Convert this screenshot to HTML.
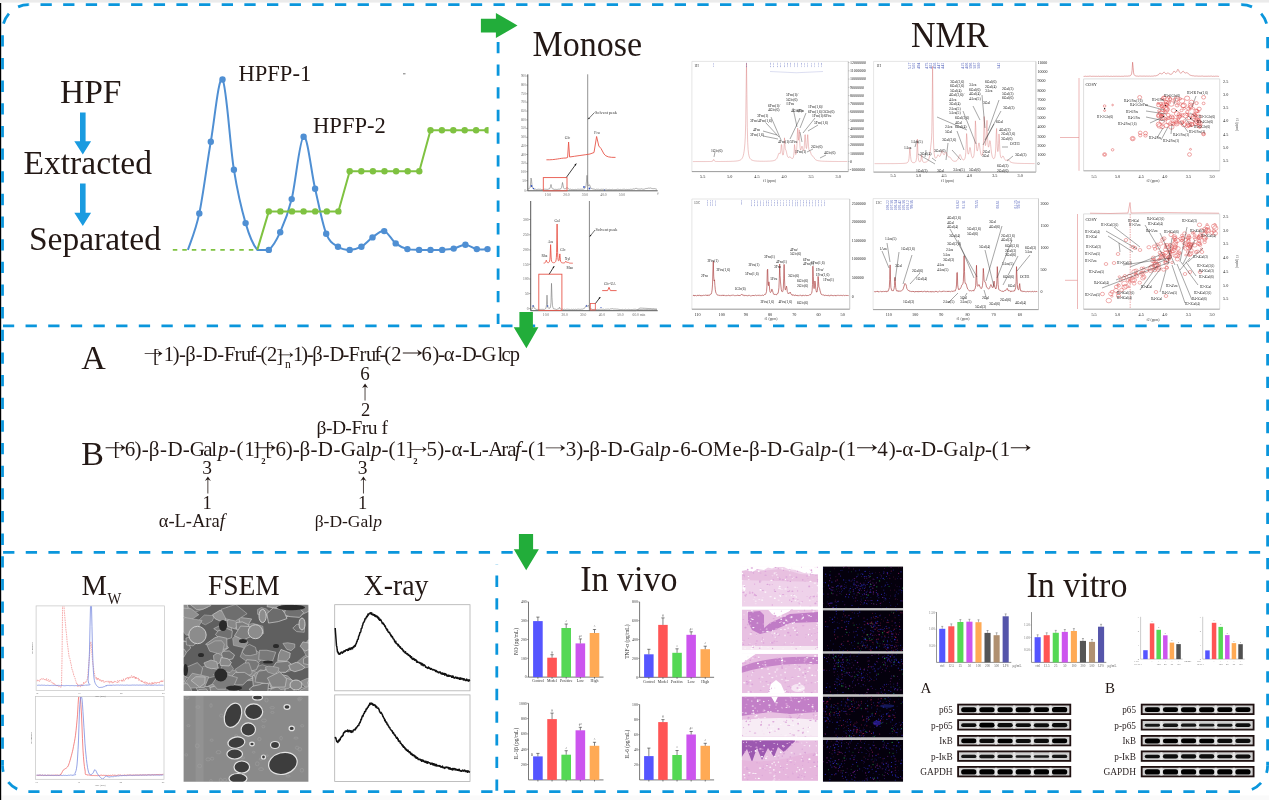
<!DOCTYPE html>
<html><head><meta charset="utf-8"><title>HPFP graphical abstract</title>
<style>
html,body{margin:0;padding:0;background:#fff;}
body{width:1269px;height:800px;overflow:hidden;}
svg{display:block;filter:blur(0.4px);}
svg{font-family:"Liberation Serif","Times New Roman",serif;}
.sans{font-family:"Liberation Sans",Arial,sans-serif;}
</style></head><body>
<svg width="1269" height="800" viewBox="0 0 1269 800">
<rect width="1269" height="800" fill="#fff"/>
<rect x="0" y="0" width="1269" height="2.6" fill="#ebebeb"/>
<rect x="0" y="795.5" width="1269" height="4.5" fill="#fafafa"/>
<rect x="0" y="3" width="1.2" height="797" fill="#000"/>
<path d="M28.5 4.7H29.15M40.5 4.7H51.8M63.15 4.7H74.45M85.8 4.7H97.1M108.45 4.7H119.75M131.1 4.7H142.4M153.75 4.7H165.05M176.4 4.7H187.7M199.05 4.7H210.35M221.7 4.7H233M244.35 4.7H255.65M267 4.7H278.3M289.65 4.7H300.95M312.3 4.7H323.6M334.95 4.7H346.25M357.6 4.7H368.9M380.25 4.7H391.55M402.9 4.7H414.2M425.55 4.7H436.85M448.2 4.7H459.5M470.85 4.7H482.15M493.5 4.7H504.8M516.15 4.7H527.45M538.8 4.7H550.1M561.45 4.7H572.75M584.1 4.7H595.4M606.75 4.7H618.05M629.4 4.7H640.7M652.05 4.7H663.35M674.7 4.7H686M697.35 4.7H708.65M720 4.7H731.3M742.65 4.7H753.95M765.3 4.7H776.6M787.95 4.7H799.25M810.6 4.7H821.9M833.25 4.7H844.55M855.9 4.7H867.2M878.55 4.7H889.85M901.2 4.7H912.5M923.85 4.7H935.15M946.5 4.7H957.8M969.15 4.7H980.45M991.8 4.7H1003.1M1014.45 4.7H1025.75M1037.1 4.7H1048.4M1059.75 4.7H1071.05M1082.4 4.7H1093.7M1105.05 4.7H1116.35M1127.7 4.7H1139M1150.35 4.7H1161.65M1173 4.7H1184.3M1195.65 4.7H1206.95M1218.3 4.7H1229.6M1240.95 4.7H1241.6M28.5 791.7H39.5M50.85 791.7H62.15M73.5 791.7H84.8M96.15 791.7H107.45M118.8 791.7H130.1M141.45 791.7H152.75M164.1 791.7H175.4M186.75 791.7H198.05M209.4 791.7H220.7M232.05 791.7H243.35M254.7 791.7H266M277.35 791.7H288.65M300 791.7H311.3M322.65 791.7H333.95M345.3 791.7H356.6M367.95 791.7H379.25M390.6 791.7H401.9M413.25 791.7H424.55M435.9 791.7H447.2M458.55 791.7H469.85M481.2 791.7H492.5M503.85 791.7H515.15M526.5 791.7H537.8M549.15 791.7H560.45M571.8 791.7H583.1M594.45 791.7H605.75M617.1 791.7H628.4M639.75 791.7H651.05M662.4 791.7H673.7M685.05 791.7H696.35M707.7 791.7H719M730.35 791.7H741.65M753 791.7H764.3M775.65 791.7H786.95M798.3 791.7H809.6M820.95 791.7H832.25M843.6 791.7H854.9M866.25 791.7H877.55M888.9 791.7H900.2M911.55 791.7H922.85M934.2 791.7H945.5M956.85 791.7H968.15M979.5 791.7H990.8M1002.15 791.7H1013.45M1024.8 791.7H1036.1M1047.45 791.7H1058.75M1070.1 791.7H1081.4M1092.75 791.7H1104.05M1115.4 791.7H1126.7M1138.05 791.7H1149.35M1160.7 791.7H1172M1183.35 791.7H1194.65M1206 791.7H1217.3M1228.65 791.7H1239.95M2.5 35.3V46.6M2.5 57.95V69.25M2.5 80.6V91.9M2.5 103.25V114.55M2.5 125.9V137.2M2.5 148.55V159.85M2.5 171.2V182.5M2.5 193.85V205.15M2.5 216.5V227.8M2.5 239.15V250.45M2.5 261.8V273.1M2.5 284.45V295.75M2.5 307.1V318.4M2.5 329.75V341.05M2.5 352.4V363.7M2.5 375.05V386.35M2.5 397.7V409M2.5 420.35V431.65M2.5 443V454.3M2.5 465.65V476.95M2.5 488.3V499.6M2.5 510.95V522.25M2.5 533.6V544.9M2.5 556.25V567.55M2.5 578.9V590.2M2.5 601.55V612.85M2.5 624.2V635.5M2.5 646.85V658.15M2.5 669.5V680.8M2.5 692.15V703.45M2.5 714.8V726.1M2.5 737.45V748.75M2.5 760.1V765.7M1267.6 37V48.3M1267.6 59.65V70.95M1267.6 82.3V93.6M1267.6 104.95V116.25M1267.6 127.6V138.9M1267.6 150.25V161.55M1267.6 172.9V184.2M1267.6 195.55V206.85M1267.6 218.2V229.5M1267.6 240.85V252.15M1267.6 263.5V274.8M1267.6 286.15V297.45M1267.6 308.8V320.1M1267.6 331.45V342.75M1267.6 354.1V365.4M1267.6 376.75V388.05M1267.6 399.4V410.7M1267.6 422.05V433.35M1267.6 444.7V456M1267.6 467.35V478.65M1267.6 490V501.3M1267.6 512.65V523.95M1267.6 535.3V546.6M1267.6 557.95V569.25M1267.6 580.6V591.9M1267.6 603.25V614.55M1267.6 625.9V637.2M1267.6 648.55V659.85M1267.6 671.2V682.5M1267.6 693.85V705.15M1267.6 716.5V727.8M1267.6 739.15V750.45M1267.6 761.8V765.7M3 325.9H14.2M25.55 325.9H36.85M48.2 325.9H59.5M70.85 325.9H82.15M93.5 325.9H104.8M116.15 325.9H127.45M138.8 325.9H150.1M161.45 325.9H172.75M184.1 325.9H195.4M206.75 325.9H218.05M229.4 325.9H240.7M252.05 325.9H263.35M274.7 325.9H286M297.35 325.9H308.65M320 325.9H331.3M342.65 325.9H353.95M365.3 325.9H376.6M387.95 325.9H399.25M410.6 325.9H421.9M433.25 325.9H444.55M455.9 325.9H467.2M478.55 325.9H489.85M501.2 325.9H512.5M523.85 325.9H535.15M546.5 325.9H557.8M569.15 325.9H580.45M591.8 325.9H603.1M614.45 325.9H625.75M637.1 325.9H648.4M659.75 325.9H671.05M682.4 325.9H693.7M705.05 325.9H716.35M727.7 325.9H739M750.35 325.9H761.65M773 325.9H784.3M795.65 325.9H806.95M818.3 325.9H829.6M840.95 325.9H852.25M863.6 325.9H874.9M886.25 325.9H897.55M908.9 325.9H920.2M931.55 325.9H942.85M954.2 325.9H965.5M976.85 325.9H988.15M999.5 325.9H1010.8M1022.15 325.9H1033.45M1044.8 325.9H1056.1M1067.45 325.9H1078.75M1090.1 325.9H1101.4M1112.75 325.9H1124.05M1135.4 325.9H1146.7M1158.05 325.9H1169.35M1180.7 325.9H1192M1203.35 325.9H1214.65M1226 325.9H1237.3M1248.65 325.9H1259.95M3.1 552.4H14.4M25.75 552.4H37.05M48.4 552.4H59.7M71.05 552.4H82.35M93.7 552.4H105M116.35 552.4H127.65M139 552.4H150.3M161.65 552.4H172.95M184.3 552.4H195.6M206.95 552.4H218.25M229.6 552.4H240.9M252.25 552.4H263.55M274.9 552.4H286.2M297.55 552.4H308.85M320.2 552.4H331.5M342.85 552.4H354.15M365.5 552.4H376.8M388.15 552.4H399.45M410.8 552.4H422.1M433.45 552.4H444.75M456.1 552.4H467.4M478.75 552.4H490.05M501.4 552.4H512.7M524.05 552.4H535.35M546.7 552.4H558M569.35 552.4H580.65M592 552.4H603.3M614.65 552.4H625.95M637.3 552.4H648.6M659.95 552.4H671.25M682.6 552.4H693.9M705.25 552.4H716.55M727.9 552.4H739.2M750.55 552.4H761.85M773.2 552.4H784.5M795.85 552.4H807.15M818.5 552.4H829.8M841.15 552.4H852.45M863.8 552.4H875.1M886.45 552.4H897.75M909.1 552.4H920.4M931.75 552.4H943.05M954.4 552.4H965.7M977.05 552.4H988.35M999.7 552.4H1011M1022.35 552.4H1033.65M1045 552.4H1056.3M1067.65 552.4H1078.95M1090.3 552.4H1101.6M1112.95 552.4H1124.25M1135.6 552.4H1146.9M1158.25 552.4H1169.55M1180.9 552.4H1192.2M1203.55 552.4H1214.85M1226.2 552.4H1237.5M1248.85 552.4H1260.15M498.1 30V30.55M498.1 41.9V53.2M498.1 64.55V75.85M498.1 87.2V98.5M498.1 109.85V121.15M498.1 132.5V143.8M498.1 155.15V166.45M498.1 177.8V189.1M498.1 200.45V211.75M498.1 223.1V234.4M498.1 245.75V257.05M498.1 268.4V279.7M498.1 291.05V302.35M498.1 313.7V324M496.8 564V564.25M496.8 575.6V586.9M496.8 598.25V609.55M496.8 620.9V632.2M496.8 643.55V654.85M496.8 666.2V677.5M496.8 688.85V700.15M496.8 711.5V722.8M496.8 734.15V745.45M496.8 756.8V768.1M496.8 779.45V790.75" stroke="#0a96dc" stroke-width="2.8" fill="none"/>
<path d="M28.5 4.7A26 26 0 0 0 2.5 30.7" stroke="#0a96dc" stroke-width="2.8" fill="none" stroke-dasharray="11.3 11.35" stroke-dashoffset="0.65"/>
<path d="M1241.6 4.7A26 26 0 0 1 1267.6 30.7" stroke="#0a96dc" stroke-width="2.8" fill="none" stroke-dasharray="11.3 11.35" stroke-dashoffset="0.65"/>
<path d="M1267.6 765.7A26 26 0 0 1 1241.6 791.7" stroke="#0a96dc" stroke-width="2.8" fill="none" stroke-dasharray="11.3 11.35" stroke-dashoffset="3.9"/>
<path d="M28.5 791.7A26 26 0 0 1 2.5 765.7" stroke="#0a96dc" stroke-width="2.8" fill="none" stroke-dasharray="11.3 11.35" stroke-dashoffset="11.0"/>
<path d="M480.9 18.75H495.9V13.1L517.5 25.4L495.9 38.1V32.5H480.9Z" fill="#22ad3a"/>
<path d="M519.4 311.9H532.9V327.2H538.4L526.4 348.2L513.7 327.2H519.4Z" fill="#22ad3a"/>
<path d="M518.9 534H533.1V549.2H538.9L526.2 570.2L513.8 549.2H518.9Z" fill="#22ad3a"/>
<text transform="translate(532.6 56.2) scale(1 1.07)" x="0" y="0" font-size="34" fill="#231815">Monose</text>
<text transform="translate(911 47.1) scale(1 1.07)" x="0" y="0" font-size="34" fill="#231815">NMR</text>
<text transform="translate(580.2 590.5) scale(1 1.07)" x="0" y="0" font-size="34" fill="#231815">In vivo</text>
<text transform="translate(1026.4 596.7) scale(1 1.07)" x="0" y="0" font-size="34" fill="#231815">In vitro</text>
<text x="60" y="103.3" font-size="33.5" fill="#231815">HPF</text>
<text x="23.6" y="174.2" font-size="33.5" fill="#231815">Extracted</text>
<text x="28.9" y="250.4" font-size="33.5" fill="#231815">Separated</text>
<text transform="translate(81.4 594.7) scale(1 1.04)" x="0" y="0" font-size="28.6" fill="#231815">M</text>
<text transform="translate(107.5 603.9) scale(1 1.15)" x="0" y="0" font-size="14.6" fill="#231815">W</text>
<text transform="translate(208 594.9) scale(1 1.07)" x="0" y="0" font-size="27.5" fill="#231815">FSEM</text>
<text transform="translate(363.6 594.9) scale(1 1.08)" x="0" y="0" font-size="27.8" fill="#231815">X-ray</text>
<path d="M80 112.5H85.6V141.3H91.1L82.8 154.5L74.3 141.3H80Z" fill="#1a9be0"/>
<path d="M80 183.4H85.6V212.8H91.1L82.8 226L74.3 212.8H80Z" fill="#1a9be0"/>
<path d="M187.9 249.9C189.8 243.82 195.48 231.43 199.3 213.4C203.12 195.37 206.93 164.02 210.8 141.7C214.67 119.38 218.65 74.83 222.5 79.5C226.35 84.17 230.05 145.77 233.9 169.7C237.75 193.63 241.7 209.73 245.6 223.1C249.5 236.47 253.43 245.43 257.3 249.9C261.17 250 264.98 250 268.8 249.9C272.62 246.95 276.38 240.67 280.2 232.2C284.02 223.73 287.8 215.02 291.7 199.1C295.6 183.18 299.7 138.43 303.6 136.7C307.5 134.97 311.33 172.53 315.1 188.7C318.87 204.87 322.38 224.03 326.2 233.7C330.02 243.37 334.08 244 338 246.7C341.92 249.4 345.8 249.9 349.7 249.9C353.6 249.9 357.6 248.78 361.4 246.7C365.2 244.62 368.7 240 372.5 237.4C376.3 234.8 380.33 230.1 384.2 231.1C388.07 232.1 391.83 240.4 395.7 243.4C399.57 246.4 403.5 248.02 407.4 249.1C411.3 250 415.25 249.77 419.1 249.9C422.95 250 426.65 249.9 430.5 249.9C434.35 249.9 438.33 250 442.2 249.9C446.07 249.68 449.83 249.47 453.7 248.6C457.57 247.73 461.55 244.62 465.4 244.7C469.25 244.78 473.12 248.37 476.8 249.1C480.48 249.83 485.72 249.1 487.5 249.1" stroke="#4f8fd3" stroke-width="2" fill="none"/>
<g fill="#4f8fd3"><circle cx="199.3" cy="213.4" r="3.2"/><circle cx="210.8" cy="141.7" r="3.2"/><circle cx="222.5" cy="79.5" r="3.2"/><circle cx="233.9" cy="169.7" r="3.2"/><circle cx="245.6" cy="223.1" r="3.2"/><circle cx="268.8" cy="249.9" r="3.2"/><circle cx="280.2" cy="232.2" r="3.2"/><circle cx="291.7" cy="199.1" r="3.2"/><circle cx="303.6" cy="136.7" r="3.2"/><circle cx="315.1" cy="188.7" r="3.2"/><circle cx="326.2" cy="233.7" r="3.2"/><circle cx="338" cy="246.7" r="3.2"/><circle cx="349.7" cy="249.9" r="3.2"/><circle cx="361.4" cy="246.7" r="3.2"/><circle cx="372.5" cy="237.4" r="3.2"/><circle cx="384.2" cy="231.1" r="3.2"/><circle cx="395.7" cy="243.4" r="3.2"/><circle cx="407.4" cy="249.1" r="3.2"/><circle cx="419.1" cy="249.9" r="3.2"/><circle cx="430.5" cy="249.9" r="3.2"/><circle cx="442.2" cy="249.9" r="3.2"/><circle cx="453.7" cy="248.6" r="3.2"/><circle cx="465.4" cy="244.7" r="3.2"/><circle cx="476.8" cy="249.1" r="3.2"/><circle cx="487.5" cy="249.1" r="3.2"/></g>
<path d="M172.8 249.9H257.3" stroke="#7fc241" stroke-width="1.8" stroke-dasharray="4.5 5" fill="none"/>
<path d="M257.3 249.9L268.8 211.4H338.4L349.7 171.3H419.3L430.5 130.2H487.5" stroke="#7fc241" stroke-width="2" fill="none" stroke-linejoin="round"/>
<clipPath id="elc"><rect x="160" y="60" width="328.6" height="200"/></clipPath>
<g fill="#7fc241" clip-path="url(#elc)"><circle cx="268.8" cy="211.4" r="3.2"/><circle cx="280.4" cy="211.4" r="3.2"/><circle cx="292" cy="211.4" r="3.2"/><circle cx="303.6" cy="211.4" r="3.2"/><circle cx="315.2" cy="211.4" r="3.2"/><circle cx="326.8" cy="211.4" r="3.2"/><circle cx="338.4" cy="211.4" r="3.2"/><circle cx="349.7" cy="171.3" r="3.2"/><circle cx="361.3" cy="171.3" r="3.2"/><circle cx="372.9" cy="171.3" r="3.2"/><circle cx="384.5" cy="171.3" r="3.2"/><circle cx="396.1" cy="171.3" r="3.2"/><circle cx="407.7" cy="171.3" r="3.2"/><circle cx="419.3" cy="171.3" r="3.2"/><circle cx="430.5" cy="130.2" r="3.2"/><circle cx="441.9" cy="130.2" r="3.2"/><circle cx="453.3" cy="130.2" r="3.2"/><circle cx="464.7" cy="130.2" r="3.2"/><circle cx="476.1" cy="130.2" r="3.2"/><circle cx="487.5" cy="130.2" r="3.2"/></g>
<text x="238.4" y="81.4" font-size="22.6" fill="#231815">HPFP-1</text>
<text x="313" y="133.1" font-size="22.6" fill="#231815">HPFP-2</text>
<path d="M403 73.8h2.5" stroke="#555" stroke-width="0.8"/>
<path d="M527.8 74.3V190.8H657.7" stroke="#444" stroke-width="0.9" fill="none"/>
<text x="525.8" y="77" font-size="3.2" text-anchor="end" fill="#666">900</text>
<text x="525.8" y="86" font-size="3.2" text-anchor="end" fill="#666">800</text>
<text x="525.8" y="94.8" font-size="3.2" text-anchor="end" fill="#666">750</text>
<text x="525.8" y="103.2" font-size="3.2" text-anchor="end" fill="#666">700</text>
<text x="525.8" y="112.1" font-size="3.2" text-anchor="end" fill="#666">650</text>
<text x="525.8" y="120.9" font-size="3.2" text-anchor="end" fill="#666">600</text>
<text x="525.8" y="129.4" font-size="3.2" text-anchor="end" fill="#666">550</text>
<text x="525.8" y="138.3" font-size="3.2" text-anchor="end" fill="#666">500</text>
<text x="525.8" y="146.7" font-size="3.2" text-anchor="end" fill="#666">450</text>
<text x="525.8" y="155.5" font-size="3.2" text-anchor="end" fill="#666">400</text>
<text x="525.8" y="164.3" font-size="3.2" text-anchor="end" fill="#666">350</text>
<text x="525.8" y="172.7" font-size="3.2" text-anchor="end" fill="#666">100</text>
<text x="525.8" y="181.7" font-size="3.2" text-anchor="end" fill="#666">50</text>
<text x="525.8" y="191.8" font-size="3.2" text-anchor="end" fill="#666">0</text>
<path d="M527.8 76h-1.6M527.8 85h-1.6M527.8 93.8h-1.6M527.8 102.2h-1.6M527.8 111.1h-1.6M527.8 119.9h-1.6M527.8 128.4h-1.6M527.8 137.3h-1.6M527.8 145.7h-1.6M527.8 154.5h-1.6M527.8 163.3h-1.6M527.8 171.7h-1.6M527.8 180.7h-1.6M527.8 190.8h-1.6" stroke="#555" stroke-width="0.5"/>
<text x="548" y="196" font-size="3.6" text-anchor="middle" fill="#666">10.0</text>
<text x="566.5" y="196" font-size="3.6" text-anchor="middle" fill="#666">20.0</text>
<text x="585" y="196" font-size="3.6" text-anchor="middle" fill="#666">30.0</text>
<text x="603.5" y="196" font-size="3.6" text-anchor="middle" fill="#666">40.0</text>
<text x="622" y="196" font-size="3.6" text-anchor="middle" fill="#666">50.0</text>
<text x="657.7" y="195" font-size="3" text-anchor="middle" fill="#666">#</text>
<path d="M587.7 74.3V190.8" stroke="#666" stroke-width="0.7"/>
<path d="M528 189.09 L528.5 188.88 L529 188.93 L529.5 188.24 L530 187.58 L530.5 185.03 L531 178.06 L531.5 179.93 L532 185.6 L532.5 187.78 L533 188.34 L533.5 188.69 L534 189.04 L534.5 189.36 L535 189.07 L535.5 189.17 L536 189.41 L536.5 189.59 L537 189.42 L537.5 189.35 L538 189.65 L538.5 189.19 L539 189.6 L539.5 189.32 L540 189.25 L540.5 189.24 L541 189.34 L541.5 189.59 L542 189.28 L542.5 189.48 L543 189.5 L543.5 189.37 L544 189.45 L544.5 189.2 L545 189.19 L545.5 189.26 L546 189.48 L546.5 189.34 L547 189.26 L547.5 189.36 L548 189.25 L548.5 189.09 L549 189.2 L549.5 188.87 L550 188.01 L550.5 186.55 L551 184.47 L551.5 186.69 L552 188.24 L552.5 188.66 L553 189.28 L553.5 188.98 L554 189.21 L554.5 189.42 L555 189.14 L555.5 189.33 L556 189.11 L556.5 189.43 L557 189.47 L557.5 189.36 L558 189.49 L558.5 189.18 L559 189.33 L559.5 189.21 L560 189.09 L560.5 188.83 L561 188.63 L561.5 187.79 L562 185.26 L562.5 182.48 L563 185.03 L563.5 187.6 L564 188.43 L564.5 188.93 L565 188.95 L565.5 188.63 L566 188.46 L566.5 188.2 L567 187.61 L567.5 188.15 L568 188.47 L568.5 188.74 L569 188.89 L569.5 189.34 L570 189.08 L570.5 189.18 L571 189.28 L571.5 189.54 L572 189.16 L572.5 189.36 L573 189.41 L573.5 189.59 L574 189.56 L574.5 189.58 L575 189.29 L575.5 189.36 L576 189.33 L576.5 189.59 L577 189.62 L577.5 189.22 L578 189.22 L578.5 189.24 L579 189.24 L579.5 189.35 L580 189.39 L580.5 189.21 L581 189.05 L581.5 189.23 L582 189.17 L582.5 189.21 L583 189.34 L583.5 189.1 L584 188.86 L584.5 188.68 L585 188.29 L585.5 187.17 L586 185.78 L586.5 181.09 L587 175.3 L587.5 180.82 L588 184.84 L588.5 185.94 L589 185.25 L589.5 184.79 L590 185.85 L590.5 187.3 L591 188.14 L591.5 188.52 L592 188.83 L592.5 188.83 L593 188.89 L593.5 189.04 L594 189.06 L594.5 189.22 L595 189.08 L595.5 189.53 L596 189.42 L596.5 189.2 L597 189.26 L597.5 189.32 L598 189.34 L598.5 189.22 L599 189.59 L599.5 189.67 L600 189.41 L600.5 189.42 L601 189.23 L601.5 189.24 L602 189.36 L602.5 189.33 L603 189.61 L603.5 189.28 L604 189.21 L604.5 189.68 L605 189.47 L605.5 189.28 L606 189.47 L606.5 189.22 L607 189.47 L607.5 189.69 L608 189.64 L608.5 189.55 L609 189.34 L609.5 189.39 L610 189.29 L610.5 189.59 L611 189.47 L611.5 189.6 L612 189.37 L612.5 189.32 L613 189.61 L613.5 189.7 L614 189.63 L614.5 189.61 L615 189.61 L615.5 189.57 L616 189.31 L616.5 189.46 L617 189.38 L617.5 189.21 L618 189.21 L618.5 189.33 L619 189.32 L619.5 189.54 L620 189.67 L620.5 189.41 L621 189.65 L621.5 189.67 L622 189.65 L622.5 189.36 L623 189.28 L623.5 189.28 L624 189.26 L624.5 189.26 L625 189.46 L625.5 189.59 L626 189.56 L626.5 189.37 L627 189.45 L627.5 189.51 L628 189.14 L628.5 189.41 L629 189.52 L629.5 189.44 L630 189.4 L630.5 189.24 L631 189.06 L631.5 189.33 L632 189.05 L632.5 189.23 L633 189.25 L633.5 188.89 L634 188.8 L634.5 188.98 L635 188.79 L635.5 188.45 L636 188.4 L636.5 188.42 L637 188.85 L637.5 188.87 L638 188.61 L638.5 189.03 L639 189.16 L639.5 189.05 L640 188.93 L640.5 189.05 L641 188.85 L641.5 188.8 L642 189.27 L642.5 189.1 L643 189.02 L643.5 189.19 L644 188.9 L644.5 189.07 L645 188.99 L645.5 188.62 L646 188.56 L646.5 188.48 L647 188.35 L647.5 188.41 L648 188.13 L648.5 188.1 L649 187.86 L649.5 188.19 L650 187.89 L650.5 187.97 L651 188.1 L651.5 188.36 L652 188.23 L652.5 188.6 L653 188.51 L653.5 188.64 L654 188.74 L654.5 188.57 L655 188.86 L655.5 188.8 L656 188.77 L656.5 189.22 L657 188.95" stroke="#777" stroke-width="0.6" fill="none"/>
<g fill="#3050c0"><circle cx="531.5" cy="186" r="0.9"/><circle cx="533.5" cy="188.5" r="0.8"/><circle cx="584" cy="187" r="0.9"/><circle cx="589.5" cy="188.5" r="0.9"/><circle cx="604.5" cy="190" r="0.6"/></g>
<rect x="543.3" y="177.6" width="23.7" height="13.2" fill="none" stroke="#e8564a" stroke-width="0.9"/>
<path d="M566.5 177.2L576.3 163.6" stroke="#111" stroke-width="0.8"/><path d="M576.3 163.6L575.92 165.77L574.37 164.65Z" fill="#111"/>
<path d="M546.4 159.8 C556 160 560 158 566 158 L567.6 157.5 L568.6 142 L569.6 157 C576 156 584 155 590 154 L594 152.5 L596.6 136.5 L598.8 146 L601 148.5 L604 154 C606 157 610 157.5 615.5 157.4" stroke="#e8564a" stroke-width="0.9" fill="none"/>
<text x="564.8" y="139.2" font-size="3.8" fill="#333">Glc</text>
<text x="594.3" y="134.3" font-size="3.8" fill="#333">Fru</text>
<text x="595" y="113.5" font-size="4.2" fill="#333">Solvent peak</text>
<path d="M594.5 112.5L588.2 119.2" stroke="#111" stroke-width="0.6"/><path d="M588.2 119.2L588.74 117.48L589.88 118.56Z" fill="#111"/>
<path d="M530.7 201V310.7H657.7" stroke="#444" stroke-width="0.9" fill="none"/>
<text x="528.5" y="220.7" font-size="3.6" text-anchor="end" fill="#555">300</text>
<text x="528.5" y="236" font-size="3.6" text-anchor="end" fill="#555">250</text>
<text x="528.5" y="251.1" font-size="3.6" text-anchor="end" fill="#555">200</text>
<text x="528.5" y="265.5" font-size="3.6" text-anchor="end" fill="#555">150</text>
<text x="528.5" y="280.2" font-size="3.6" text-anchor="end" fill="#555">100</text>
<text x="528.5" y="294.8" font-size="3.6" text-anchor="end" fill="#555">50</text>
<text x="528.5" y="309.8" font-size="3.6" text-anchor="end" fill="#555">0</text>
<path d="M530.7 219.5h-1.6M530.7 234.8h-1.6M530.7 249.9h-1.6M530.7 264.3h-1.6M530.7 279h-1.6M530.7 293.6h-1.6M530.7 308.6h-1.6" stroke="#555" stroke-width="0.5"/>
<text x="546" y="316.3" font-size="3.6" text-anchor="middle" fill="#666">10.0</text>
<text x="564.6" y="316.3" font-size="3.6" text-anchor="middle" fill="#666">20.0</text>
<text x="583.2" y="316.3" font-size="3.6" text-anchor="middle" fill="#666">30.0</text>
<text x="601.8" y="316.3" font-size="3.6" text-anchor="middle" fill="#666">40.0</text>
<text x="620.4" y="316.3" font-size="3.6" text-anchor="middle" fill="#666">50.0</text>
<text x="639" y="316.3" font-size="3.6" text-anchor="middle" fill="#666">60.0 min</text>
<path d="M589.4 201V310.7" stroke="#555" stroke-width="0.7"/>
<path d="M531 309.25 L531.5 309.26 L532 308.96 L532.5 308.33 L533 307.13 L533.5 305.5 L534 307.26 L534.5 308.22 L535 308.95 L535.5 309.01 L536 309.14 L536.5 309.45 L537 309.35 L537.5 309.4 L538 309.52 L538.5 309.6 L539 309.37 L539.5 309.46 L540 309.4 L540.5 309.4 L541 309.49 L541.5 309.36 L542 309.39 L542.5 309.34 L543 309.55 L543.5 309.39 L544 309.42 L544.5 309.36 L545 308.87 L545.5 308.7 L546 308.07 L546.5 304.92 L547 295.14 L547.5 304.49 L548 307.66 L548.5 308.19 L549 308.44 L549.5 308.24 L550 308.1 L550.5 306.91 L551 302.46 L551.5 283.34 L552 297.38 L552.5 305.82 L553 307.6 L553.5 308.71 L554 309.09 L554.5 308.9 L555 309.37 L555.5 309.16 L556 309.24 L556.5 309.52 L557 309.44 L557.5 309.09 L558 309.16 L558.5 309.01 L559 308.33 L559.5 307.27 L560 308.34 L560.5 309.14 L561 309 L561.5 309.35 L562 309.34 L562.5 309.15 L563 309.33 L563.5 309.48 L564 309.44 L564.5 309.22 L565 309.68 L565.5 309.59 L566 309.68 L566.5 309.25 L567 309.33 L567.5 309.22 L568 309.59 L568.5 309.34 L569 309.27 L569.5 309.42 L570 309.66 L570.5 309.61 L571 309.33 L571.5 309.28 L572 309.66 L572.5 309.48 L573 309.55 L573.5 309.24 L574 309.22 L574.5 309.53 L575 309.4 L575.5 309.22 L576 309.65 L576.5 309.49 L577 309.57 L577.5 309.2 L578 309.58 L578.5 309.17 L579 309.56 L579.5 309.34 L580 309.26 L580.5 309.34 L581 309.5 L581.5 309.13 L582 309.01 L582.5 309.14 L583 308.9 L583.5 308.7 L584 308.52 L584.5 308.14 L585 307.69 L585.5 306.92 L586 305.82 L586.5 305.37 L587 305.56 L587.5 306.33 L588 305.99 L588.5 305.35 L589 306.73 L589.5 308.01 L590 308.41 L590.5 309.02 L591 309.08 L591.5 308.99 L592 309.2 L592.5 309.48 L593 309.1 L593.5 309.48 L594 309.31 L594.5 309.36 L595 309.54 L595.5 309.33 L596 309.4 L596.5 309.5 L597 309.65 L597.5 309.33 L598 309.58 L598.5 309.52 L599 309.49 L599.5 309.37 L600 309.35 L600.5 309.2 L601 309.24 L601.5 309.21 L602 309.54 L602.5 309.29 L603 309.24 L603.5 309.2 L604 309.57 L604.5 309.58 L605 309.47 L605.5 309.26 L606 309.23 L606.5 309.24 L607 309.3 L607.5 309.13 L608 309.24 L608.5 309.11 L609 309.42 L609.5 309.37 L610 309.09 L610.5 308.88 L611 309.18 L611.5 308.81 L612 308.82 L612.5 308.65 L613 308.89 L613.5 309 L614 309.08 L614.5 308.99 L615 309.19 L615.5 308.99 L616 309.16 L616.5 309.1 L617 309.28 L617.5 309.12 L618 309.13 L618.5 309.29 L619 309.27 L619.5 309.45 L620 309.43 L620.5 309.55 L621 309.51 L621.5 309.55 L622 309.63 L622.5 309.39 L623 309.37 L623.5 309.7 L624 309.28 L624.5 309.57 L625 309.54 L625.5 309.24 L626 309.64 L626.5 309.67 L627 309.54 L627.5 309.59 L628 309.63 L628.5 309.3 L629 309.49 L629.5 309.48 L630 309.65 L630.5 309.63 L631 309.64 L631.5 309.52 L632 309.68 L632.5 309.57 L633 309.58 L633.5 309.35 L634 309.25 L634.5 309.3 L635 309.42 L635.5 309.29 L636 309.65 L636.5 309.52 L637 309.55 L637.5 309.55 L638 309.58 L638.5 309.48 L639 309.24 L639.5 309.64 L640 309.61 L640.5 309.49 L641 309.51 L641.5 309.57 L642 309.27 L642.5 309.61 L643 309.37 L643.5 309.28 L644 309.37 L644.5 309.61 L645 309.34 L645.5 309.61 L646 309.73 L646.5 309.49 L647 309.43 L647.5 309.48 L648 309.59 L648.5 309.63 L649 309.55 L649.5 309.57 L650 309.28 L650.5 309.32 L651 309.37 L651.5 309.62 L652 309.4 L652.5 309.53 L653 309.25 L653.5 309.28 L654 309.38 L654.5 309.58 L655 309.59 L655.5 309.58 L656 309.39 L656.5 309.5 L657 309.48" stroke="#777" stroke-width="0.6" fill="none"/>
<path d="M620 310.5 L636 310.8 L640 308 L657 309" stroke="#888" stroke-width="0.6" fill="none"/>
<g fill="#3050c0"><circle cx="533" cy="306" r="0.8"/><circle cx="547.5" cy="306" r="0.7"/><circle cx="586.5" cy="306" r="0.8"/><circle cx="601" cy="307.5" r="0.6"/></g>
<rect x="538.8" y="274.2" width="23.1" height="36.2" fill="none" stroke="#e8564a" stroke-width="0.9"/>
<rect x="590.3" y="303.4" width="5" height="6.6" fill="none" stroke="#e8564a" stroke-width="0.8"/>
<path d="M543.6 263.13 L543.85 263.1 L544.1 263.07 L544.35 263.03 L544.6 262.97 L544.85 262.88 L545.1 262.75 L545.35 262.53 L545.6 262.16 L545.85 261.5 L546.1 260.56 L546.35 260.16 L546.6 260.91 L546.85 261.74 L547.1 262.23 L547.35 262.48 L547.6 262.61 L547.85 262.67 L548.1 262.67 L548.35 262.63 L548.6 262.55 L548.85 262.41 L549.1 262.18 L549.35 261.8 L549.6 261.13 L549.85 259.85 L550.1 257.07 L550.35 250.91 L550.6 244.66 L550.85 250.9 L551.1 257.06 L551.35 259.83 L551.6 261.11 L551.85 261.78 L552.1 262.15 L552.35 262.38 L552.6 262.53 L552.85 262.62 L553.1 262.67 L553.35 262.7 L553.6 262.71 L553.85 262.7 L554.1 262.67 L554.35 262.61 L554.6 262.53 L554.85 262.42 L555.1 262.25 L555.35 262 L555.6 261.61 L555.85 260.98 L556.1 259.88 L556.35 257.71 L556.6 252.76 L556.85 240.04 L557.1 224.03 L557.35 239.98 L557.6 252.62 L557.85 257.49 L558.1 259.55 L558.35 260.48 L558.6 260.84 L558.85 260.77 L559.1 260.17 L559.35 258.59 L559.6 255.49 L559.85 253.92 L560.1 257.1 L560.35 259.8 L560.6 261.16 L560.85 261.85 L561.1 262.24 L561.35 262.48 L561.6 262.63 L561.85 262.74 L562.1 262.81 L562.35 262.87 L562.6 262.91 L562.85 262.93 L563.1 262.95 L563.35 262.95 L563.6 262.95 L563.85 262.93 L564.1 262.89 L564.35 262.83 L564.6 262.73 L564.85 262.57 L565.1 262.29 L565.35 261.86 L565.6 261.34 L565.85 261.14 L566.1 261.52 L566.35 262.01 L566.6 262.34 L566.85 262.52 L567.1 262.57 L567.35 262.51 L567.6 262.34 L567.85 262.14 L568.1 262.14 L568.35 262.39 L568.6 262.66 L568.85 262.84 L569.1 262.96 L569.35 263.03 L569.6 263.08 L569.85 263.12 L570.1 263.14 L570.35 263.16 L570.6 263.18 L570.85 263.19 L571.1 263.2 L571.35 263.21 L571.6 263.22 L571.85 263.22 L572.1 263.23 L572.35 263.23 L572.6 263.24 L572.85 263.24" stroke="#e8564a" stroke-width="0.9" fill="none"/>
<text x="554.5" y="222.3" font-size="3.6" fill="#333">Gal</text>
<text x="547.8" y="243.3" font-size="3.6" fill="#333">Ara</text>
<text x="541.6" y="256.7" font-size="3.6" fill="#333">Rha</text>
<text x="560.3" y="251" font-size="3.6" fill="#333">Glc</text>
<text x="564.8" y="259.7" font-size="3.6" fill="#333">Xyl</text>
<text x="566.5" y="268.8" font-size="3.6" fill="#333">Man</text>
<path d="M549.2 274.2L554.2 266.2" stroke="#111" stroke-width="0.8"/><path d="M554.2 266.2L553.98 268.19L552.51 267.27Z" fill="#111"/>
<path d="M595.5 303.4L600.3 297" stroke="#111" stroke-width="0.8"/><path d="M600.3 297L599.92 298.96L598.52 297.92Z" fill="#111"/>
<path d="M602.2 290.6 H607.6 L609 287.3 L610.4 290.6 H616.6" stroke="#e8564a" stroke-width="0.9" fill="none"/>
<text x="604" y="284.5" font-size="3.6" fill="#333">Glc-UA</text>
<text x="595.5" y="231" font-size="4.2" fill="#333">Solvent peak</text>
<path d="M595 230L589.8 236.5" stroke="#111" stroke-width="0.6"/><path d="M589.8 236.5L590.2 234.75L591.42 235.72Z" fill="#111"/>
<path d="M691.9 61.4H848.3V171.6H691.9Z" stroke="#d4d4d4" stroke-width="0.6" fill="none"/>
<path d="M691.9 171.6H848.3" stroke="#8a8a8a" stroke-width="0.8"/>
<path d="M848.3 61.4V171.6" stroke="#bbb" stroke-width="0.6"/>
<text x="849.9" y="64" font-size="4" fill="#222">12000000</text>
<path d="M848.3 62.6h1.2" stroke="#777" stroke-width="0.4"/>
<text x="849.9" y="72.24" font-size="4" fill="#222">11000000</text>
<path d="M848.3 70.84h1.2" stroke="#777" stroke-width="0.4"/>
<text x="849.9" y="80.48" font-size="4" fill="#222">10000000</text>
<path d="M848.3 79.08h1.2" stroke="#777" stroke-width="0.4"/>
<text x="849.9" y="88.72" font-size="4" fill="#222">9000000</text>
<path d="M848.3 87.32h1.2" stroke="#777" stroke-width="0.4"/>
<text x="849.9" y="96.96" font-size="4" fill="#222">8000000</text>
<path d="M848.3 95.56h1.2" stroke="#777" stroke-width="0.4"/>
<text x="849.9" y="105.2" font-size="4" fill="#222">7000000</text>
<path d="M848.3 103.8h1.2" stroke="#777" stroke-width="0.4"/>
<text x="849.9" y="113.44" font-size="4" fill="#222">6000000</text>
<path d="M848.3 112.04h1.2" stroke="#777" stroke-width="0.4"/>
<text x="849.9" y="121.68" font-size="4" fill="#222">5000000</text>
<path d="M848.3 120.28h1.2" stroke="#777" stroke-width="0.4"/>
<text x="849.9" y="129.92" font-size="4" fill="#222">4000000</text>
<path d="M848.3 128.52h1.2" stroke="#777" stroke-width="0.4"/>
<text x="849.9" y="138.16" font-size="4" fill="#222">3000000</text>
<path d="M848.3 136.76h1.2" stroke="#777" stroke-width="0.4"/>
<text x="849.9" y="146.4" font-size="4" fill="#222">2000000</text>
<path d="M848.3 145h1.2" stroke="#777" stroke-width="0.4"/>
<text x="849.9" y="154.64" font-size="4" fill="#222">1000000</text>
<path d="M848.3 153.24h1.2" stroke="#777" stroke-width="0.4"/>
<text x="849.9" y="162.88" font-size="4" fill="#222">0</text>
<path d="M848.3 161.48h1.2" stroke="#777" stroke-width="0.4"/>
<text x="849.9" y="171.12" font-size="4" fill="#222">-1000000</text>
<path d="M848.3 169.72h1.2" stroke="#777" stroke-width="0.4"/>
<text x="702.7" y="177.6" font-size="4.2" text-anchor="middle" fill="#222">5.5</text>
<text x="729.8" y="177.6" font-size="4.2" text-anchor="middle" fill="#222">5.0</text>
<text x="756.9" y="177.6" font-size="4.2" text-anchor="middle" fill="#222">4.5</text>
<text x="784" y="177.6" font-size="4.2" text-anchor="middle" fill="#222">4.0</text>
<text x="811.1" y="177.6" font-size="4.2" text-anchor="middle" fill="#222">3.5</text>
<text x="838.2" y="177.6" font-size="4.2" text-anchor="middle" fill="#222">3.0</text>
<text x="769.5" y="182.3" font-size="3.7" text-anchor="middle" fill="#444">f1 (ppm)</text>
<text x="694.2" y="66.8" font-size="3.7" fill="#333">1H</text>
<path d="M692.9 161.57 L693.3 161.57 L693.7 161.57 L694.1 161.57 L694.5 161.57 L694.9 161.57 L695.3 161.57 L695.7 161.56 L696.1 161.56 L696.5 161.56 L696.9 161.56 L697.3 161.56 L697.7 161.56 L698.1 161.56 L698.5 161.56 L698.9 161.56 L699.3 161.56 L699.7 161.56 L700.1 161.56 L700.5 161.56 L700.9 161.56 L701.3 161.56 L701.7 161.56 L702.1 161.55 L702.5 161.55 L702.9 161.55 L703.3 161.55 L703.7 161.55 L704.1 161.55 L704.5 161.55 L704.9 161.55 L705.3 161.55 L705.7 161.54 L706.1 161.54 L706.5 161.54 L706.9 161.54 L707.3 161.54 L707.7 161.53 L708.1 161.53 L708.5 161.53 L708.9 161.52 L709.3 161.52 L709.7 161.51 L710.1 161.5 L710.5 161.49 L710.9 161.47 L711.3 161.44 L711.7 161.4 L712.1 161.32 L712.5 161.16 L712.9 160.79 L713.3 159.92 L713.7 159.42 L714.1 160.43 L714.5 161.01 L714.9 161.24 L715.3 161.35 L715.7 161.41 L716.1 161.44 L716.5 161.46 L716.9 161.47 L717.3 161.48 L717.7 161.48 L718.1 161.49 L718.5 161.49 L718.9 161.49 L719.3 161.49 L719.7 161.49 L720.1 161.49 L720.5 161.49 L720.9 161.49 L721.3 161.48 L721.7 161.48 L722.1 161.48 L722.5 161.48 L722.9 161.47 L723.3 161.47 L723.7 161.47 L724.1 161.46 L724.5 161.46 L724.9 161.46 L725.3 161.45 L725.7 161.45 L726.1 161.44 L726.5 161.44 L726.9 161.43 L727.3 161.42 L727.7 161.42 L728.1 161.41 L728.5 161.4 L728.9 161.4 L729.3 161.39 L729.7 161.38 L730.1 161.37 L730.5 161.36 L730.9 161.35 L731.3 161.33 L731.7 161.32 L732.1 161.3 L732.5 161.29 L732.9 161.27 L733.3 161.25 L733.7 161.23 L734.1 161.21 L734.5 161.18 L734.9 161.15 L735.3 161.12 L735.7 161.09 L736.1 161.05 L736.5 161 L736.9 160.95 L737.3 160.9 L737.7 160.83 L738.1 160.76 L738.5 160.67 L738.9 160.57 L739.3 160.44 L739.7 160.3 L740.1 160.13 L740.5 159.91 L740.9 159.65 L741.3 159.33 L741.7 158.91 L742.1 158.38 L742.5 157.67 L742.9 156.73 L743.3 155.45 L743.7 153.69 L744.1 151.29 L744.5 148.03 L744.9 143.59 L745.3 136.78 L745.7 123.21 L746.1 92.21 L746.5 63 L746.9 94.53 L747.3 127.56 L747.7 142.42 L748.1 149.45 L748.5 153.21 L748.9 155.44 L749.3 156.88 L749.7 157.85 L750.1 158.55 L750.5 159.06 L750.9 159.45 L751.3 159.75 L751.7 159.99 L752.1 160.18 L752.5 160.34 L752.9 160.47 L753.3 160.58 L753.7 160.67 L754.1 160.75 L754.5 160.82 L754.9 160.88 L755.3 160.93 L755.7 160.97 L756.1 161.01 L756.5 161.04 L756.9 161.07 L757.3 161.1 L757.7 161.12 L758.1 161.14 L758.5 161.16 L758.9 161.17 L759.3 161.19 L759.7 161.2 L760.1 161.21 L760.5 161.22 L760.9 161.23 L761.3 161.23 L761.7 161.24 L762.1 161.24 L762.5 161.24 L762.9 161.25 L763.3 161.25 L763.7 161.25 L764.1 161.25 L764.5 161.25 L764.9 161.24 L765.3 161.24 L765.7 161.23 L766.1 161.23 L766.5 161.22 L766.9 161.21 L767.3 161.2 L767.7 161.19 L768.1 161.18 L768.5 161.17 L768.9 161.15 L769.3 161.13 L769.7 161.11 L770.1 161.09 L770.5 161.06 L770.9 161.03 L771.3 160.99 L771.7 160.95 L772.1 160.91 L772.5 160.85 L772.9 160.79 L773.3 160.71 L773.7 160.62 L774.1 160.51 L774.5 160.37 L774.9 160.21 L775.3 160 L775.7 159.73 L776.1 159.39 L776.5 158.94 L776.9 158.34 L777.3 157.54 L777.7 156.52 L778.1 155.29 L778.5 154.07 L778.9 153.24 L779.3 153.11 L779.7 153.47 L780.1 153.67 L780.5 152.95 L780.9 150.11 L781.3 144.55 L781.7 144.78 L782.1 150.79 L782.5 154.08 L782.9 155.13 L783.3 154.69 L783.7 152.33 L784.1 145.86 L784.5 137.83 L784.9 144.16 L785.3 148.88 L785.7 149.89 L786.1 150.61 L786.5 152.28 L786.9 154.23 L787.3 155.76 L787.7 156.74 L788.1 157.27 L788.5 157.45 L788.9 157.36 L789.3 157.1 L789.7 156.84 L790.1 156.84 L790.5 157.18 L790.9 157.68 L791.3 158.13 L791.7 158.44 L792.1 158.57 L792.5 158.51 L792.9 158.21 L793.3 157.48 L793.7 155.81 L794.1 151.7 L794.5 144.54 L794.9 147.56 L795.3 152.94 L795.7 154.51 L796.1 153.99 L796.5 151.55 L796.9 145.75 L797.3 134.28 L797.7 128.14 L798.1 136.99 L798.5 140.23 L798.9 133.61 L799.3 129.87 L799.7 141.14 L800.1 147.93 L800.5 150.02 L800.9 149.8 L801.3 148.3 L801.7 146.58 L802.1 146.13 L802.5 147.43 L802.9 149.3 L803.3 150.5 L803.7 150.39 L804.1 148.29 L804.5 142.93 L804.9 134.82 L805.3 134.73 L805.7 142.62 L806.1 147.54 L806.5 148.58 L806.9 146.17 L807.3 139.85 L807.7 134.66 L808.1 139.9 L808.5 146.42 L808.9 149.51 L809.3 150.47 L809.7 150.66 L810.1 151.08 L810.5 152.09 L810.9 153.38 L811.3 154.49 L811.7 155.24 L812.1 155.68 L812.5 155.94 L812.9 156.22 L813.3 156.66 L813.7 157.25 L814.1 157.9 L814.5 158.5 L814.9 159 L815.3 159.4 L815.7 159.72 L816.1 159.97 L816.5 160.18 L816.9 160.34 L817.3 160.48 L817.7 160.59 L818.1 160.69 L818.5 160.77 L818.9 160.84 L819.3 160.9 L819.7 160.95 L820.1 161 L820.5 161.04 L820.9 161.07 L821.3 161.11 L821.7 161.13 L822.1 161.16 L822.5 161.19 L822.9 161.21 L823.3 161.23 L823.7 161.25 L824.1 161.26 L824.5 161.28 L824.9 161.29 L825.3 161.31 L825.7 161.32 L826.1 161.33 L826.5 161.34 L826.9 161.35 L827.3 161.36 L827.7 161.37 L828.1 161.38 L828.5 161.39 L828.9 161.39 L829.3 161.4 L829.7 161.41 L830.1 161.41 L830.5 161.42 L830.9 161.42 L831.3 161.43 L831.7 161.43 L832.1 161.44 L832.5 161.44 L832.9 161.45 L833.3 161.45 L833.7 161.46 L834.1 161.46 L834.5 161.46 L834.9 161.47 L835.3 161.47 L835.7 161.47 L836.1 161.48 L836.5 161.48 L836.9 161.48 L837.3 161.49 L837.7 161.49 L838.1 161.49 L838.5 161.49 L838.9 161.5 L839.3 161.5 L839.7 161.5 L840.1 161.5 L840.5 161.51 L840.9 161.51 L841.3 161.51 L841.7 161.51 L842.1 161.51 L842.5 161.51 L842.9 161.52 L843.3 161.52 L843.7 161.52 L844.1 161.52 L844.5 161.52 L844.9 161.52 L845.3 161.53 L845.7 161.53 L846.1 161.53 L846.5 161.53 L846.9 161.53 L847.3 161.53" stroke="#d87a7a" stroke-width="0.45" fill="none"/>
<g font-size="2.6" fill="#4a5ab8"><text x="714.2" y="62.8" transform="rotate(-90 714.2 62.8)" text-anchor="end">5.31</text><text x="747.5" y="62.8" transform="rotate(-90 747.5 62.8)" text-anchor="end">4.70</text><text x="771.1" y="62.8" transform="rotate(-90 771.1 62.8)" text-anchor="end">4.19</text><text x="774.5" y="62.8" transform="rotate(-90 774.5 62.8)" text-anchor="end">4.15</text><text x="777.9" y="62.8" transform="rotate(-90 777.9 62.8)" text-anchor="end">4.10</text><text x="781.3" y="62.8" transform="rotate(-90 781.3 62.8)" text-anchor="end">4.05</text><text x="784.7" y="62.8" transform="rotate(-90 784.7 62.8)" text-anchor="end">4.00</text><text x="788.1" y="62.8" transform="rotate(-90 788.1 62.8)" text-anchor="end">3.94</text><text x="791.5" y="62.8" transform="rotate(-90 791.5 62.8)" text-anchor="end">3.89</text><text x="794.9" y="62.8" transform="rotate(-90 794.9 62.8)" text-anchor="end">3.86</text><text x="798.3" y="62.8" transform="rotate(-90 798.3 62.8)" text-anchor="end">3.80</text><text x="801.7" y="62.8" transform="rotate(-90 801.7 62.8)" text-anchor="end">3.74</text><text x="805.1" y="62.8" transform="rotate(-90 805.1 62.8)" text-anchor="end">3.71</text><text x="808.5" y="62.8" transform="rotate(-90 808.5 62.8)" text-anchor="end">3.65</text><text x="811.9" y="62.8" transform="rotate(-90 811.9 62.8)" text-anchor="end">3.61</text><text x="815.3" y="62.8" transform="rotate(-90 815.3 62.8)" text-anchor="end">3.55</text><text x="818.7" y="62.8" transform="rotate(-90 818.7 62.8)" text-anchor="end">3.50</text><text x="822.1" y="62.8" transform="rotate(-90 822.1 62.8)" text-anchor="end">3.44</text></g>
<path d="M770 71.5 Q796 74 823 71.5" stroke="#8890d0" stroke-width="0.3" fill="none"/>
<text x="768" y="106.6" font-size="3.7" fill="#151515">6Fru(1)/</text>
<text x="768" y="111" font-size="3.7" fill="#151515">4Glc(6)</text>
<text x="757" y="116.7" font-size="3.7" fill="#151515">3Fru(1)</text>
<text x="750" y="122.3" font-size="3.7" fill="#151515">3Fru/4Fru(1,6)</text>
<text x="753" y="131" font-size="3.7" fill="#151515">4Fru</text>
<text x="750" y="136" font-size="3.7" fill="#151515">3Fru(1,6)</text>
<text x="778" y="143" font-size="3.7" fill="#151515">4Fru(1)/5Fru</text>
<text x="711" y="151.7" font-size="3.7" fill="#151515">1Glc(6)</text>
<text x="786" y="96" font-size="3.7" fill="#151515">5Fru(1)/</text>
<text x="786" y="100.6" font-size="3.7" fill="#151515">5Glc(6)</text>
<text x="786" y="105" font-size="3.7" fill="#151515">/1Fru</text>
<text x="797" y="112" font-size="3.7" fill="#151515">6Fru</text>
<text x="808" y="108" font-size="3.7" fill="#151515">1Fru(1,6)/</text>
<text x="808" y="112.5" font-size="3.7" fill="#151515">6Fru(1,6)/3Glc(6)</text>
<text x="812" y="117" font-size="3.7" fill="#151515">1Fru(1)/6Fru</text>
<text x="814" y="124" font-size="3.7" fill="#151515">5Fru(1,6)</text>
<text x="811" y="148" font-size="3.7" fill="#151515">2Glc(6)</text>
<text x="824" y="154" font-size="3.7" fill="#151515">4Glc(6)</text>
<text x="795" y="153" font-size="3.7" fill="#151515">1Fru(1)</text>
<text x="791" y="111.8" font-size="3.7" fill="#151515">4Glc(6)</text>
<path d="M771 117L781 140M766 123L779 137M763 131L777 135M763 136L778 139M800 118L790 139M793 108L797 127M806 113L800 128M815 118L803 133M818 125L808 131M813 149L807 152M826 155L820 158M802 142L800 132M715 152L714 157" stroke="#222" stroke-width="0.4"/>
<path d="M873.6 61.4H1035.9V172.1H873.6Z" stroke="#d4d4d4" stroke-width="0.6" fill="none"/>
<path d="M873.6 172.1H1035.9" stroke="#8a8a8a" stroke-width="0.8"/>
<path d="M1035.9 61.4V172.1" stroke="#bbb" stroke-width="0.6"/>
<text x="1037.5" y="64" font-size="4" fill="#222">11000</text>
<text x="1037.5" y="73.2" font-size="4" fill="#222">10000</text>
<text x="1037.5" y="82.4" font-size="4" fill="#222">9000</text>
<text x="1037.5" y="91.6" font-size="4" fill="#222">8000</text>
<text x="1037.5" y="100.8" font-size="4" fill="#222">7000</text>
<text x="1037.5" y="110" font-size="4" fill="#222">6000</text>
<text x="1037.5" y="119.2" font-size="4" fill="#222">5000</text>
<text x="1037.5" y="128.4" font-size="4" fill="#222">4000</text>
<text x="1037.5" y="137.6" font-size="4" fill="#222">3000</text>
<text x="1037.5" y="146.8" font-size="4" fill="#222">2000</text>
<text x="1037.5" y="156" font-size="4" fill="#222">1000</text>
<text x="1037.5" y="165.2" font-size="4" fill="#222">0</text>
<text x="893.2" y="176.9" font-size="4.2" text-anchor="middle" fill="#222">5.5</text>
<text x="918.6" y="176.9" font-size="4.2" text-anchor="middle" fill="#222">5.0</text>
<text x="944" y="176.9" font-size="4.2" text-anchor="middle" fill="#222">4.5</text>
<text x="969.4" y="176.9" font-size="4.2" text-anchor="middle" fill="#222">4.0</text>
<text x="994.8" y="176.9" font-size="4.2" text-anchor="middle" fill="#222">3.5</text>
<text x="1020.2" y="176.9" font-size="4.2" text-anchor="middle" fill="#222">3.0</text>
<text x="947.5" y="182.3" font-size="3.7" text-anchor="middle" fill="#444">f1 (ppm)</text>
<text x="876.5" y="66.8" font-size="3.7" fill="#333">1H</text>
<path d="M874.6 163.64 L875 163.64 L875.4 163.64 L875.8 163.64 L876.2 163.64 L876.6 163.64 L877 163.64 L877.4 163.64 L877.8 163.64 L878.2 163.64 L878.6 163.64 L879 163.64 L879.4 163.64 L879.8 163.63 L880.2 163.63 L880.6 163.63 L881 163.63 L881.4 163.63 L881.8 163.63 L882.2 163.63 L882.6 163.63 L883 163.63 L883.4 163.63 L883.8 163.62 L884.2 163.62 L884.6 163.62 L885 163.62 L885.4 163.62 L885.8 163.62 L886.2 163.62 L886.6 163.62 L887 163.61 L887.4 163.61 L887.8 163.61 L888.2 163.61 L888.6 163.61 L889 163.61 L889.4 163.6 L889.8 163.6 L890.2 163.6 L890.6 163.6 L891 163.6 L891.4 163.59 L891.8 163.59 L892.2 163.59 L892.6 163.59 L893 163.58 L893.4 163.58 L893.8 163.58 L894.2 163.58 L894.6 163.57 L895 163.57 L895.4 163.57 L895.8 163.56 L896.2 163.56 L896.6 163.56 L897 163.55 L897.4 163.55 L897.8 163.54 L898.2 163.54 L898.6 163.53 L899 163.53 L899.4 163.52 L899.8 163.51 L900.2 163.5 L900.6 163.5 L901 163.49 L901.4 163.48 L901.8 163.47 L902.2 163.45 L902.6 163.44 L903 163.42 L903.4 163.4 L903.8 163.38 L904.2 163.35 L904.6 163.32 L905 163.28 L905.4 163.23 L905.8 163.17 L906.2 163.09 L906.6 162.98 L907 162.83 L907.4 162.61 L907.8 162.26 L908.2 161.69 L908.6 160.64 L909 158.52 L909.4 153.98 L909.8 147.84 L910.2 150.6 L910.6 156.6 L911 159.69 L911.4 161.13 L911.8 161.86 L912.2 162.26 L912.6 162.48 L913 162.61 L913.4 162.67 L913.8 162.68 L914.2 162.63 L914.6 162.53 L915 162.34 L915.4 162.02 L915.8 161.42 L916.2 160.22 L916.6 157.41 L917 149.76 L917.4 139.14 L917.8 149.71 L918.2 157.31 L918.6 160.07 L919 161.19 L919.4 161.68 L919.8 161.84 L920.2 161.71 L920.6 161.16 L921 159.51 L921.4 155.27 L921.8 155.29 L922.2 159.57 L922.6 161.28 L923 161.93 L923.4 162.21 L923.8 162.33 L924.2 162.38 L924.6 162.37 L925 162.33 L925.4 162.25 L925.8 162.14 L926.2 162 L926.6 161.82 L927 161.58 L927.4 161.27 L927.8 160.86 L928.2 160.31 L928.6 159.56 L929 158.5 L929.4 156.96 L929.8 154.72 L930.2 151.57 L930.6 147.73 L931 144.17 L931.4 140.72 L931.8 132.38 L932.2 105.34 L932.6 66.33 L933 107.98 L933.4 137.92 L933.8 149.08 L934.2 153.88 L934.6 156.25 L935 157.48 L935.4 158.07 L935.8 158.24 L936.2 158.05 L936.6 157.52 L937 156.69 L937.4 155.7 L937.8 154.93 L938.2 154.79 L938.6 155.28 L939 155.95 L939.4 156.4 L939.8 156.45 L940.2 156.02 L940.6 155.1 L941 153.71 L941.4 152.09 L941.8 150.86 L942.2 150.74 L942.6 151.71 L943 153.07 L943.4 154.16 L943.8 154.73 L944.2 154.77 L944.6 154.33 L945 153.52 L945.4 152.61 L945.8 152.02 L946.2 152.13 L946.6 152.95 L947 154.11 L947.4 155.24 L947.8 156.12 L948.2 156.68 L948.6 156.96 L949 157.03 L949.4 157.01 L949.8 157.06 L950.2 157.33 L950.6 157.83 L951 158.47 L951.4 159.11 L951.8 159.68 L952.2 160.15 L952.6 160.52 L953 160.8 L953.4 161.01 L953.8 161.16 L954.2 161.25 L954.6 161.29 L955 161.29 L955.4 161.24 L955.8 161.13 L956.2 160.97 L956.6 160.74 L957 160.41 L957.4 159.97 L957.8 159.37 L958.2 158.59 L958.6 157.61 L959 156.48 L959.4 155.39 L959.8 154.67 L960.2 154.64 L960.6 155.3 L961 156.34 L961.4 157.41 L961.8 158.31 L962.2 159 L962.6 159.48 L963 159.78 L963.4 159.92 L963.8 159.89 L964.2 159.66 L964.6 159.15 L965 158.19 L965.4 156.35 L965.8 152.56 L966.2 144.5 L966.6 133.54 L967 138.02 L967.4 148.05 L967.8 152.74 L968.2 154.18 L968.6 153.86 L969 152.24 L969.4 149.72 L969.8 147.53 L970.2 147.65 L970.6 150.11 L971 153.01 L971.4 155.23 L971.8 156.67 L972.2 157.49 L972.6 157.83 L973 157.74 L973.4 157.17 L973.8 155.89 L974.2 153.32 L974.6 147.95 L975 136.47 L975.4 120.84 L975.8 127.3 L976.2 141.69 L976.6 148.51 L977 150.82 L977.4 150.81 L977.8 149.29 L978.2 146.71 L978.6 144.01 L979 142.86 L979.4 144.32 L979.8 147.39 L980.2 150.5 L980.6 152.89 L981 154.47 L981.4 155.36 L981.8 155.62 L982.2 155.21 L982.6 153.86 L983 150.8 L983.4 144.06 L983.8 129.89 L984.2 116.52 L984.6 128.65 L985 141.26 L985.4 145.62 L985.8 144.52 L986.2 137.91 L986.6 125.41 L987 120.35 L987.4 132.04 L987.8 142.03 L988.2 146.37 L988.6 147.17 L989 145.7 L989.4 142.9 L989.8 140.59 L990.2 141.08 L990.6 144.47 L991 148.62 L991.4 152.08 L991.8 154.56 L992.2 156.26 L992.6 157.4 L993 158.12 L993.4 158.52 L993.8 158.63 L994.2 158.42 L994.6 157.76 L995 156.35 L995.4 153.4 L995.8 146.97 L996.2 134.41 L996.6 128.43 L997 140.56 L997.4 148.97 L997.8 151.59 L998.2 150.16 L998.6 143.66 L999 133.95 L999.4 138.95 L999.8 149.25 L1000.2 154.47 L1000.6 156.76 L1001 157.69 L1001.4 157.87 L1001.8 157.53 L1002.2 156.86 L1002.6 156.16 L1003 155.92 L1003.4 156.41 L1003.8 157.39 L1004.2 158.41 L1004.6 159.23 L1005 159.8 L1005.4 160.15 L1005.8 160.3 L1006.2 160.31 L1006.6 160.19 L1007 159.99 L1007.4 159.78 L1007.8 159.68 L1008.2 159.78 L1008.6 160.08 L1009 160.51 L1009.4 160.96 L1009.8 161.36 L1010.2 161.71 L1010.6 161.99 L1011 162.22 L1011.4 162.4 L1011.8 162.55 L1012.2 162.68 L1012.6 162.78 L1013 162.86 L1013.4 162.93 L1013.8 162.99 L1014.2 163.05 L1014.6 163.09 L1015 163.13 L1015.4 163.17 L1015.8 163.2 L1016.2 163.23 L1016.6 163.25 L1017 163.28 L1017.4 163.3 L1017.8 163.32 L1018.2 163.33 L1018.6 163.35 L1019 163.36 L1019.4 163.38 L1019.8 163.39 L1020.2 163.4 L1020.6 163.41 L1021 163.42 L1021.4 163.43 L1021.8 163.44 L1022.2 163.45 L1022.6 163.46 L1023 163.46 L1023.4 163.47 L1023.8 163.48 L1024.2 163.48 L1024.6 163.49 L1025 163.5 L1025.4 163.5 L1025.8 163.51 L1026.2 163.51 L1026.6 163.52 L1027 163.52 L1027.4 163.53 L1027.8 163.53 L1028.2 163.53 L1028.6 163.54 L1029 163.54 L1029.4 163.55 L1029.8 163.55 L1030.2 163.55 L1030.6 163.56 L1031 163.56 L1031.4 163.56 L1031.8 163.56 L1032.2 163.57 L1032.6 163.57 L1033 163.57 L1033.4 163.57 L1033.8 163.58 L1034.2 163.58 L1034.6 163.58" stroke="#d87a7a" stroke-width="0.45" fill="none"/>
<g font-size="3.6" fill="#4a5ab8"><text x="910.6" y="62.8" transform="rotate(-90 910.6 62.8)" text-anchor="end">5.17</text><text x="914.6" y="62.8" transform="rotate(-90 914.6 62.8)" text-anchor="end">5.02</text><text x="919.6" y="62.8" transform="rotate(-90 919.6 62.8)" text-anchor="end">4.94</text><text x="927.6" y="62.8" transform="rotate(-90 927.6 62.8)" text-anchor="end">4.75</text><text x="931.6" y="62.8" transform="rotate(-90 931.6 62.8)" text-anchor="end">4.62</text><text x="935.6" y="62.8" transform="rotate(-90 935.6 62.8)" text-anchor="end">4.56</text><text x="939.6" y="62.8" transform="rotate(-90 939.6 62.8)" text-anchor="end">4.47</text><text x="943.6" y="62.8" transform="rotate(-90 943.6 62.8)" text-anchor="end">4.42</text><text x="964.1" y="62.8" transform="rotate(-90 964.1 62.8)" text-anchor="end">4.15</text><text x="968.1" y="62.8" transform="rotate(-90 968.1 62.8)" text-anchor="end">4.06</text><text x="972.1" y="62.8" transform="rotate(-90 972.1 62.8)" text-anchor="end">3.96</text><text x="976.1" y="62.8" transform="rotate(-90 976.1 62.8)" text-anchor="end">3.87</text><text x="980.1" y="62.8" transform="rotate(-90 980.1 62.8)" text-anchor="end">3.80</text><text x="1000.1" y="62.8" transform="rotate(-90 1000.1 62.8)" text-anchor="end">3.42</text></g>
<text x="911" y="143" font-size="3.7" fill="#151515">1Ara(5)</text>
<text x="904" y="149" font-size="3.7" fill="#151515">1Ara</text>
<text x="920" y="155" font-size="3.7" fill="#151515">3Gal(4)</text>
<text x="934" y="152" font-size="3.7" fill="#151515">3Gal(6)</text>
<text x="916" y="172" font-size="3.7" fill="#151515">1Gal(3)</text>
<text x="937" y="172" font-size="3.7" fill="#151515">3Gal</text>
<text x="953" y="171" font-size="3.7" fill="#151515">3Ara(5)</text>
<text x="969" y="171" font-size="3.7" fill="#151515">5Gal(6)</text>
<text x="949" y="96" font-size="3.7" fill="#151515">4Gal(3,6)/</text>
<text x="949" y="100.5" font-size="3.7" fill="#151515">4Ara</text>
<text x="949" y="105" font-size="3.7" fill="#151515">3Gal(4)</text>
<text x="949" y="109.5" font-size="3.7" fill="#151515">2Ara(5)</text>
<text x="949" y="114" font-size="3.7" fill="#151515">5Ara(5)</text>
<text x="955" y="119" font-size="3.7" fill="#151515">6Gal(3,6)</text>
<text x="955" y="123.5" font-size="3.7" fill="#151515">4Gal</text>
<text x="955" y="128" font-size="3.7" fill="#151515">6Gal(4)</text>
<text x="945" y="128" font-size="3.7" fill="#151515">2Ara</text>
<text x="945" y="132.5" font-size="3.7" fill="#151515">5Gal</text>
<text x="942" y="141" font-size="3.7" fill="#151515">3Gal(3,6)</text>
<text x="950" y="82.5" font-size="3.7" fill="#151515">3Gal(3,6)</text>
<text x="950" y="87" font-size="3.7" fill="#151515">6Gal(3,6)</text>
<text x="950" y="91.5" font-size="3.7" fill="#151515">5Gal(4)</text>
<text x="969" y="86" font-size="3.7" fill="#151515">3Ara</text>
<text x="969" y="90.5" font-size="3.7" fill="#151515">6Gal(6)</text>
<text x="969" y="95" font-size="3.7" fill="#151515">4Gal(4)</text>
<text x="969" y="99.5" font-size="3.7" fill="#151515">4Ara(5)</text>
<text x="985" y="83" font-size="3.7" fill="#151515">6Gal(6)</text>
<text x="985" y="87.5" font-size="3.7" fill="#151515">2Gal(4)</text>
<text x="985" y="92" font-size="3.7" fill="#151515">3Ara</text>
<text x="983" y="104" font-size="3.7" fill="#151515">3Gal</text>
<text x="1002" y="90" font-size="3.7" fill="#151515">2Gal(3)</text>
<text x="1002" y="94.5" font-size="3.7" fill="#151515">5Gal(3)</text>
<text x="1002" y="99" font-size="3.7" fill="#151515">6Gal(6)</text>
<text x="1003" y="109" font-size="3.7" fill="#151515">3Gal(3)</text>
<text x="996" y="122.5" font-size="3.7" fill="#151515">6Gal</text>
<text x="999" y="131" font-size="3.7" fill="#151515">4Gal(3)</text>
<text x="1001" y="135" font-size="3.7" fill="#151515">2Gal(3,6)</text>
<text x="1001" y="139.5" font-size="3.7" fill="#151515">3Gal(6)</text>
<text x="1010" y="145" font-size="3.7" fill="#151515">OCH3</text>
<text x="1015" y="155.5" font-size="3.7" fill="#151515">3Gal(3)</text>
<text x="982" y="157" font-size="3.7" fill="#151515">3Gal</text>
<text x="983" y="153" font-size="3.7" fill="#151515">2Gal</text>
<text x="997" y="167" font-size="3.7" fill="#151515">6Gal(3)</text>
<text x="997" y="171.5" font-size="3.7" fill="#151515">2Gal(6)</text>
<path d="M937 117L967 130M963 111L976 144M982 95L985 128M973 106L980 120M999 100L988 131M1001 111L985 140M994 124L983 145M1008 147L1002 147M1013 156L1007 161M957 131L964 150M948 143L946 160M926 150L925 157M918 154L935 164M932 158L936 161M915 147L917 140M952 150L961 160" stroke="#222" stroke-width="0.4"/>
<path d="M691.9 199H849.7V309.2H691.9Z" stroke="#d4d4d4" stroke-width="0.6" fill="none"/>
<path d="M691.9 309.2H849.7" stroke="#8a8a8a" stroke-width="0.8"/>
<path d="M849.7 199V309.2" stroke="#bbb" stroke-width="0.6"/>
<text x="851.7" y="204.8" font-size="4" fill="#222">2500000</text>
<text x="851.7" y="223.36" font-size="4" fill="#222">2000000</text>
<text x="851.7" y="241.92" font-size="4" fill="#222">1500000</text>
<text x="851.7" y="260.48" font-size="4" fill="#222">1000000</text>
<text x="851.7" y="279.04" font-size="4" fill="#222">500000</text>
<text x="851.7" y="297.6" font-size="4" fill="#222">0</text>
<text x="697.5" y="315.5" font-size="4.2" text-anchor="middle" fill="#222">110</text>
<text x="721.7" y="315.5" font-size="4.2" text-anchor="middle" fill="#222">100</text>
<text x="745.9" y="315.5" font-size="4.2" text-anchor="middle" fill="#222">90</text>
<text x="770.1" y="315.5" font-size="4.2" text-anchor="middle" fill="#222">80</text>
<text x="794.3" y="315.5" font-size="4.2" text-anchor="middle" fill="#222">70</text>
<text x="818.5" y="315.5" font-size="4.2" text-anchor="middle" fill="#222">60</text>
<text x="842.7" y="315.5" font-size="4.2" text-anchor="middle" fill="#222">50</text>
<text x="771" y="320.3" font-size="3.7" text-anchor="middle" fill="#444">f1 (ppm)</text>
<text x="694" y="204" font-size="3.7" fill="#333">13C</text>
<path d="M692.9 295.54 L693.3 295.22 L693.7 295.92 L694.1 295.29 L694.5 295.99 L694.9 295.96 L695.3 295.13 L695.7 295.52 L696.1 295.85 L696.5 295.98 L696.9 295.51 L697.3 295.34 L697.7 295.29 L698.1 295.95 L698.5 295.29 L698.9 295.62 L699.3 295.22 L699.7 295.56 L700.1 295.94 L700.5 295.2 L700.9 295.81 L701.3 295.53 L701.7 295.86 L702.1 295.69 L702.5 295.26 L702.9 295.86 L703.3 295.48 L703.7 295.05 L704.1 295.03 L704.5 295.45 L704.9 295.4 L705.3 295.26 L705.7 295.09 L706.1 295.26 L706.5 295.21 L706.9 295.66 L707.3 294.87 L707.7 295.51 L708.1 295.54 L708.5 294.83 L708.9 295.48 L709.3 295.19 L709.7 295.23 L710.1 294.5 L710.5 294.32 L710.9 293.95 L711.3 293.88 L711.7 292.42 L712.1 290.03 L712.5 284.88 L712.9 271.06 L713.3 261.34 L713.7 276.14 L714.1 280.98 L714.5 279.87 L714.9 285.51 L715.3 289.59 L715.7 291.94 L716.1 293.34 L716.5 293.72 L716.9 294.29 L717.3 295.08 L717.7 295.2 L718.1 295.27 L718.5 295.21 L718.9 295.54 L719.3 295.62 L719.7 295.32 L720.1 295.51 L720.5 294.94 L720.9 295.58 L721.3 295.35 L721.7 295.64 L722.1 295.56 L722.5 295.25 L722.9 295.05 L723.3 295.85 L723.7 295.14 L724.1 295.46 L724.5 295.35 L724.9 295.31 L725.3 295.72 L725.7 295.94 L726.1 295.3 L726.5 295.66 L726.9 295.34 L727.3 295.57 L727.7 295.43 L728.1 295.23 L728.5 295.23 L728.9 295.27 L729.3 295.9 L729.7 295.53 L730.1 295.29 L730.5 295.9 L730.9 295.99 L731.3 295.5 L731.7 295.22 L732.1 295.27 L732.5 295.17 L732.9 295.4 L733.3 295.17 L733.7 295.31 L734.1 295.32 L734.5 295.6 L734.9 295.89 L735.3 295.76 L735.7 295.46 L736.1 295.46 L736.5 295.55 L736.9 295.42 L737.3 295.38 L737.7 295.12 L738.1 295.31 L738.5 295.92 L738.9 295.15 L739.3 295.46 L739.7 295.55 L740.1 295.7 L740.5 295.04 L740.9 294.94 L741.3 294.65 L741.7 294.41 L742.1 294.33 L742.5 295.1 L742.9 295.34 L743.3 295.56 L743.7 294.91 L744.1 294.98 L744.5 295.63 L744.9 295.82 L745.3 295.46 L745.7 295.58 L746.1 295.06 L746.5 295.42 L746.9 295.9 L747.3 295.82 L747.7 295.84 L748.1 295.95 L748.5 295.3 L748.9 295.18 L749.3 295.22 L749.7 295.55 L750.1 295.69 L750.5 295.93 L750.9 295.73 L751.3 295.66 L751.7 295.76 L752.1 295.48 L752.5 295.57 L752.9 295.11 L753.3 295.77 L753.7 295.27 L754.1 295.89 L754.5 295.64 L754.9 295.33 L755.3 295.17 L755.7 295.28 L756.1 295.62 L756.5 295.67 L756.9 295.13 L757.3 295.09 L757.7 295.49 L758.1 295.54 L758.5 295.36 L758.9 295.2 L759.3 295.53 L759.7 294.98 L760.1 295.23 L760.5 295.36 L760.9 295.79 L761.3 295.49 L761.7 295.68 L762.1 295.28 L762.5 295.03 L762.9 295 L763.3 295.59 L763.7 295.29 L764.1 294.84 L764.5 294.45 L764.9 294.7 L765.3 294.59 L765.7 293.91 L766.1 292.96 L766.5 291.58 L766.9 286.97 L767.3 270.01 L767.7 269.21 L768.1 284.15 L768.5 285.62 L768.9 281.84 L769.3 284.72 L769.7 290.24 L770.1 292.14 L770.5 292.49 L770.9 291.97 L771.3 291.63 L771.7 289.35 L772.1 289.28 L772.5 290.41 L772.9 292.11 L773.3 293.62 L773.7 293.78 L774.1 294.69 L774.5 294.46 L774.9 294.28 L775.3 294.36 L775.7 294.53 L776.1 294.7 L776.5 294.85 L776.9 293.96 L777.3 293.91 L777.7 293.31 L778.1 293.25 L778.5 291.08 L778.9 287.78 L779.3 278.8 L779.7 264.02 L780.1 275.53 L780.5 281.94 L780.9 286 L781.3 289.59 L781.7 291.39 L782.1 291.65 L782.5 291.55 L782.9 291.37 L783.3 288.4 L783.7 278.85 L784.1 264.4 L784.5 278.99 L784.9 287.65 L785.3 289.92 L785.7 289.6 L786.1 287.52 L786.5 286.15 L786.9 288.38 L787.3 291.6 L787.7 292.32 L788.1 293.78 L788.5 293.36 L788.9 293.42 L789.3 293.38 L789.7 292.59 L790.1 292.01 L790.5 292.54 L790.9 293.82 L791.3 294.28 L791.7 295.09 L792.1 294.63 L792.5 294.91 L792.9 295.48 L793.3 294.76 L793.7 295.16 L794.1 295.55 L794.5 295.54 L794.9 294.91 L795.3 294.93 L795.7 294.97 L796.1 295.76 L796.5 295.17 L796.9 295.62 L797.3 295.77 L797.7 295.27 L798.1 295.22 L798.5 295.84 L798.9 295.54 L799.3 295.22 L799.7 295.63 L800.1 295.28 L800.5 295.24 L800.9 295 L801.3 295.67 L801.7 295.82 L802.1 295.56 L802.5 295.84 L802.9 295.01 L803.3 295.19 L803.7 295.4 L804.1 295.83 L804.5 295.82 L804.9 295.3 L805.3 295.17 L805.7 295.32 L806.1 295.36 L806.5 295.74 L806.9 295.05 L807.3 295.58 L807.7 295.49 L808.1 295.53 L808.5 295.44 L808.9 295.24 L809.3 294.91 L809.7 294.81 L810.1 294.71 L810.5 294.9 L810.9 293.98 L811.3 293.6 L811.7 293.19 L812.1 290.68 L812.5 284.38 L812.9 266.17 L813.3 276.55 L813.7 286.7 L814.1 288.64 L814.5 285.75 L814.9 280.97 L815.3 282.94 L815.7 288.07 L816.1 290.68 L816.5 292 L816.9 292.18 L817.3 290.77 L817.7 286.5 L818.1 276.44 L818.5 281.3 L818.9 287.04 L819.3 287.69 L819.7 288.74 L820.1 290.86 L820.5 292.14 L820.9 293.82 L821.3 293.93 L821.7 294.55 L822.1 294.62 L822.5 295.11 L822.9 294.75 L823.3 294.88 L823.7 294.95 L824.1 294.92 L824.5 295.62 L824.9 295.38 L825.3 295.19 L825.7 295.27 L826.1 295.83 L826.5 295.41 L826.9 295.18 L827.3 295.71 L827.7 295.59 L828.1 295.9 L828.5 295.11 L828.9 295.45 L829.3 295.77 L829.7 295.8 L830.1 295.87 L830.5 295.09 L830.9 295.32 L831.3 295.17 L831.7 295.24 L832.1 295.95 L832.5 295.6 L832.9 295.92 L833.3 295.42 L833.7 295.86 L834.1 295.49 L834.5 295.32 L834.9 295.79 L835.3 295.95 L835.7 295.19 L836.1 295.63 L836.5 295.66 L836.9 295.3 L837.3 295.44 L837.7 295.23 L838.1 295.29 L838.5 295.34 L838.9 295.65 L839.3 295.7 L839.7 295.29 L840.1 295.12 L840.5 295.41 L840.9 295.73 L841.3 295.28 L841.7 295.4 L842.1 295.3 L842.5 295.83 L842.9 295.61 L843.3 295.18 L843.7 295.21 L844.1 295.48 L844.5 295.62 L844.9 295.7 L845.3 295.21 L845.7 295.27 L846.1 295.75 L846.5 295.49 L846.9 295.38 L847.3 295.4 L847.7 295.98 L848.1 295.41 L848.5 295.64" stroke="#a83838" stroke-width="0.65" fill="none"/>
<g font-size="2.6" fill="#4a5ab8"><text x="708.1" y="200.3" transform="rotate(-90 708.1 200.3)" text-anchor="end">104.4</text><text x="710.6" y="200.3" transform="rotate(-90 710.6 200.3)" text-anchor="end">104.1</text><text x="713.1" y="200.3" transform="rotate(-90 713.1 200.3)" text-anchor="end">103.9</text><text x="715.6" y="200.3" transform="rotate(-90 715.6 200.3)" text-anchor="end">103.6</text><text x="741.6" y="200.3" transform="rotate(-90 741.6 200.3)" text-anchor="end">92.9</text><text x="752.1" y="200.3" transform="rotate(-90 752.1 200.3)" text-anchor="end">82.39</text><text x="755" y="200.3" transform="rotate(-90 755 200.3)" text-anchor="end">81.44</text><text x="757.9" y="200.3" transform="rotate(-90 757.9 200.3)" text-anchor="end">80.66</text><text x="760.8" y="200.3" transform="rotate(-90 760.8 200.3)" text-anchor="end">79.66</text><text x="763.7" y="200.3" transform="rotate(-90 763.7 200.3)" text-anchor="end">78.73</text><text x="766.6" y="200.3" transform="rotate(-90 766.6 200.3)" text-anchor="end">77.96</text><text x="769.5" y="200.3" transform="rotate(-90 769.5 200.3)" text-anchor="end">77.27</text><text x="772.4" y="200.3" transform="rotate(-90 772.4 200.3)" text-anchor="end">76.32</text><text x="775.3" y="200.3" transform="rotate(-90 775.3 200.3)" text-anchor="end">75.41</text><text x="778.2" y="200.3" transform="rotate(-90 778.2 200.3)" text-anchor="end">74.29</text><text x="781.1" y="200.3" transform="rotate(-90 781.1 200.3)" text-anchor="end">73.51</text><text x="784" y="200.3" transform="rotate(-90 784 200.3)" text-anchor="end">72.51</text><text x="786.9" y="200.3" transform="rotate(-90 786.9 200.3)" text-anchor="end">71.57</text><text x="789.8" y="200.3" transform="rotate(-90 789.8 200.3)" text-anchor="end">70.64</text><text x="792.7" y="200.3" transform="rotate(-90 792.7 200.3)" text-anchor="end">69.79</text><text x="795.6" y="200.3" transform="rotate(-90 795.6 200.3)" text-anchor="end">69.17</text><text x="798.5" y="200.3" transform="rotate(-90 798.5 200.3)" text-anchor="end">68.23</text><text x="801.4" y="200.3" transform="rotate(-90 801.4 200.3)" text-anchor="end">67.32</text><text x="804.3" y="200.3" transform="rotate(-90 804.3 200.3)" text-anchor="end">66.42</text><text x="807.2" y="200.3" transform="rotate(-90 807.2 200.3)" text-anchor="end">65.28</text><text x="810.1" y="200.3" transform="rotate(-90 810.1 200.3)" text-anchor="end">64.42</text><text x="813" y="200.3" transform="rotate(-90 813 200.3)" text-anchor="end">63.65</text><text x="815.9" y="200.3" transform="rotate(-90 815.9 200.3)" text-anchor="end">62.79</text><text x="818.8" y="200.3" transform="rotate(-90 818.8 200.3)" text-anchor="end">61.94</text><text x="821.7" y="200.3" transform="rotate(-90 821.7 200.3)" text-anchor="end">61.05</text><text x="824.6" y="200.3" transform="rotate(-90 824.6 200.3)" text-anchor="end">59.83</text></g>
<text x="707.5" y="261.5" font-size="3.6" fill="#151515">2Fru(1)</text>
<text x="716.5" y="270.5" font-size="3.6" fill="#151515">2Fru(1,6)</text>
<text x="701" y="276.8" font-size="3.6" fill="#151515">2Fru</text>
<text x="734.5" y="289.5" font-size="3.6" fill="#151515">1Glc(6)</text>
<text x="748.5" y="265.7" font-size="3.6" fill="#151515">3Fru(1)</text>
<text x="745" y="275" font-size="3.6" fill="#151515">5Fru(1,6)</text>
<text x="764" y="258.3" font-size="3.6" fill="#151515">3Fru(1)</text>
<text x="776" y="263" font-size="3.6" fill="#151515">4Fru(1)</text>
<text x="774" y="268" font-size="3.6" fill="#151515">3Fru</text>
<text x="770.5" y="280.4" font-size="3.6" fill="#151515">5Fru</text>
<text x="790" y="250.5" font-size="3.6" fill="#151515">4Fru/</text>
<text x="790" y="255" font-size="3.6" fill="#151515">5Glc(6)</text>
<text x="788" y="277" font-size="3.6" fill="#151515">3Glc(6)</text>
<text x="797" y="282" font-size="3.6" fill="#151515">6Glc(6)</text>
<text x="797" y="287" font-size="3.6" fill="#151515">2Glc(6)</text>
<text x="803" y="265" font-size="3.6" fill="#151515">4Fru(1)</text>
<text x="803" y="261" font-size="3.6" fill="#151515">6Fru</text>
<text x="811" y="264" font-size="3.6" fill="#151515">6Fru(1,6)</text>
<text x="815.8" y="271" font-size="3.6" fill="#151515">1Fru/</text>
<text x="815.8" y="275.5" font-size="3.6" fill="#151515">1Fru(1,6)</text>
<text x="823" y="281.4" font-size="3.6" fill="#151515">1Fru(1)</text>
<text x="760.5" y="302.5" font-size="3.6" fill="#151515">3Fru(1,6)</text>
<text x="778.5" y="302.5" font-size="3.6" fill="#151515">4Fru(1,6)</text>
<text x="797" y="303.5" font-size="3.6" fill="#151515">6Glc(6)</text>
<path d="M873.1 198.6H1038.5V309.6H873.1Z" stroke="#d4d4d4" stroke-width="0.6" fill="none"/>
<path d="M873.1 309.6H1038.5" stroke="#8a8a8a" stroke-width="0.8"/>
<path d="M1038.5 198.6V309.6" stroke="#bbb" stroke-width="0.6"/>
<text x="1040.5" y="205.3" font-size="4" fill="#222">2000</text>
<text x="1040.5" y="227.1" font-size="4" fill="#222">1500</text>
<text x="1040.5" y="248.9" font-size="4" fill="#222">1000</text>
<text x="1040.5" y="270.7" font-size="4" fill="#222">500</text>
<text x="1040.5" y="292.5" font-size="4" fill="#222">0</text>
<text x="888.9" y="315.5" font-size="4.2" text-anchor="middle" fill="#222">110</text>
<text x="915.1" y="315.5" font-size="4.2" text-anchor="middle" fill="#222">100</text>
<text x="941.3" y="315.5" font-size="4.2" text-anchor="middle" fill="#222">90</text>
<text x="967.5" y="315.5" font-size="4.2" text-anchor="middle" fill="#222">80</text>
<text x="993.7" y="315.5" font-size="4.2" text-anchor="middle" fill="#222">70</text>
<text x="1019.9" y="315.5" font-size="4.2" text-anchor="middle" fill="#222">60</text>
<text x="963" y="320.3" font-size="3.7" text-anchor="middle" fill="#444">f1 (ppm)</text>
<text x="875.6" y="204.3" font-size="3.7" fill="#333">13C</text>
<path d="M874.1 291.53 L874.5 291.59 L874.9 291.99 L875.3 292.1 L875.7 291.53 L876.1 291.38 L876.5 291.86 L876.9 291.38 L877.3 291.2 L877.7 292.01 L878.1 291.58 L878.5 291.93 L878.9 291.55 L879.3 291.98 L879.7 291.6 L880.1 291.33 L880.5 291.19 L880.9 291.67 L881.3 291.74 L881.7 291.98 L882.1 291.23 L882.5 291.71 L882.9 291.47 L883.3 291.58 L883.7 291.25 L884.1 291.36 L884.5 291.56 L884.9 291.9 L885.3 291.14 L885.7 291.45 L886.1 291.7 L886.5 291.79 L886.9 291.03 L887.3 290.86 L887.7 291.44 L888.1 291.22 L888.5 290.34 L888.9 289.06 L889.3 287.61 L889.7 279.75 L890.1 264.9 L890.5 279.92 L890.9 287.44 L891.3 289.03 L891.7 290.43 L892.1 290.29 L892.5 290.59 L892.9 290.98 L893.3 290.79 L893.7 289.76 L894.1 288.66 L894.5 285.47 L894.9 277.33 L895.3 281.74 L895.7 287.42 L896.1 289.47 L896.5 290.65 L896.9 291.16 L897.3 290.58 L897.7 291.15 L898.1 291.38 L898.5 290.76 L898.9 291.49 L899.3 290.82 L899.7 291.23 L900.1 291.14 L900.5 291.14 L900.9 290.75 L901.3 290.73 L901.7 290.69 L902.1 290.3 L902.5 290.15 L902.9 289.44 L903.3 288.66 L903.7 287.15 L904.1 286.16 L904.5 284.49 L904.9 283.54 L905.3 284.23 L905.7 284.22 L906.1 284.5 L906.5 286.68 L906.9 288.68 L907.3 289.29 L907.7 289.86 L908.1 290.48 L908.5 290.41 L908.9 290.89 L909.3 291.08 L909.7 290.75 L910.1 291.36 L910.5 290.92 L910.9 291.55 L911.3 291.63 L911.7 291.43 L912.1 291.04 L912.5 291.47 L912.9 291.38 L913.3 291.91 L913.7 291.19 L914.1 291.85 L914.5 291.99 L914.9 291.76 L915.3 291.84 L915.7 291.29 L916.1 292.01 L916.5 291.57 L916.9 292 L917.3 291.97 L917.7 291.29 L918.1 291.86 L918.5 291.99 L918.9 291.22 L919.3 291.48 L919.7 291.84 L920.1 291.31 L920.5 291.97 L920.9 291.42 L921.3 291.91 L921.7 291.3 L922.1 291.63 L922.5 292 L922.9 291.37 L923.3 291.42 L923.7 291.64 L924.1 291.47 L924.5 291.22 L924.9 291.35 L925.3 291.33 L925.7 292.03 L926.1 291.8 L926.5 291.99 L926.9 291.34 L927.3 291.89 L927.7 291.29 L928.1 291.66 L928.5 291.76 L928.9 291.51 L929.3 291.97 L929.7 291.69 L930.1 291.71 L930.5 291.98 L930.9 291.28 L931.3 292.08 L931.7 291.75 L932.1 291.54 L932.5 291.9 L932.9 291.42 L933.3 292.07 L933.7 291.7 L934.1 291.51 L934.5 291.87 L934.9 291.58 L935.3 291.34 L935.7 291.85 L936.1 291.22 L936.5 291.91 L936.9 291.4 L937.3 291.75 L937.7 292.06 L938.1 291.7 L938.5 291.77 L938.9 291.45 L939.3 291.17 L939.7 291.19 L940.1 291.29 L940.5 291.71 L940.9 291.54 L941.3 291.61 L941.7 291.96 L942.1 291.27 L942.5 291.35 L942.9 291.73 L943.3 291.16 L943.7 291.14 L944.1 291.45 L944.5 291.22 L944.9 291.44 L945.3 291.32 L945.7 291.64 L946.1 291.64 L946.5 291.28 L946.9 291.66 L947.3 291.51 L947.7 291.2 L948.1 291.91 L948.5 291.28 L948.9 291.18 L949.3 291.12 L949.7 291.6 L950.1 291.79 L950.5 291.7 L950.9 291.34 L951.3 291.19 L951.7 290.94 L952.1 291.48 L952.5 291.37 L952.9 291.13 L953.3 291.34 L953.7 291.09 L954.1 291.44 L954.5 291.12 L954.9 290.49 L955.3 290.76 L955.7 289.41 L956.1 288.59 L956.5 284.95 L956.9 272.73 L957.3 272.48 L957.7 285.02 L958.1 287.68 L958.5 289.2 L958.9 289.88 L959.3 289.16 L959.7 289 L960.1 288.97 L960.5 288.26 L960.9 287.54 L961.3 286.69 L961.7 285.15 L962.1 284.68 L962.5 284.41 L962.9 283.54 L963.3 281.67 L963.7 272.11 L964.1 255.71 L964.5 271.39 L964.9 281.44 L965.3 283.54 L965.7 283.31 L966.1 283.91 L966.5 285.25 L966.9 286.83 L967.3 288 L967.7 288.95 L968.1 289.31 L968.5 289.93 L968.9 290.55 L969.3 290.67 L969.7 290.93 L970.1 290.9 L970.5 290.55 L970.9 290.85 L971.3 290.76 L971.7 291.08 L972.1 290.83 L972.5 290.56 L972.9 290.84 L973.3 291.04 L973.7 290.23 L974.1 290.62 L974.5 289.51 L974.9 289.14 L975.3 287.93 L975.7 285.33 L976.1 275.15 L976.5 265.31 L976.9 280.63 L977.3 285.91 L977.7 286.33 L978.1 285.85 L978.5 285.49 L978.9 284.53 L979.3 284.93 L979.7 286.05 L980.1 287.45 L980.5 287.76 L980.9 288.48 L981.3 288.41 L981.7 288.27 L982.1 287.11 L982.5 285.52 L982.9 280.41 L983.3 268.43 L983.7 273.36 L984.1 280.33 L984.5 281.13 L984.9 282.14 L985.3 282.2 L985.7 283.46 L986.1 285.03 L986.5 287.02 L986.9 287.43 L987.3 287.89 L987.7 288.19 L988.1 288.42 L988.5 289.05 L988.9 288.86 L989.3 288.56 L989.7 287.94 L990.1 286.33 L990.5 285.57 L990.9 284.52 L991.3 285.2 L991.7 286.26 L992.1 287.33 L992.5 287.09 L992.9 287.63 L993.3 286.34 L993.7 283.24 L994.1 281.09 L994.5 284.68 L994.9 287.11 L995.3 288.07 L995.7 289.01 L996.1 288.47 L996.5 286.52 L996.9 280.99 L997.3 266.61 L997.7 274.22 L998.1 284.36 L998.5 287.77 L998.9 289.72 L999.3 289.88 L999.7 290.35 L1000.1 290.67 L1000.5 290.45 L1000.9 290.77 L1001.3 290.86 L1001.7 291.3 L1002.1 291.02 L1002.5 291 L1002.9 291.58 L1003.3 291.16 L1003.7 291.45 L1004.1 291.19 L1004.5 290.58 L1004.9 290.8 L1005.3 290.62 L1005.7 290.59 L1006.1 289.67 L1006.5 289.25 L1006.9 288.54 L1007.3 288.47 L1007.7 289.8 L1008.1 289.76 L1008.5 290.85 L1008.9 290.54 L1009.3 290.55 L1009.7 290.85 L1010.1 291.42 L1010.5 291.66 L1010.9 290.81 L1011.3 291.27 L1011.7 291.27 L1012.1 291.53 L1012.5 290.95 L1012.9 291.19 L1013.3 290.99 L1013.7 291.32 L1014.1 290.65 L1014.5 291.01 L1014.9 289.96 L1015.3 289.01 L1015.7 287.39 L1016.1 281.34 L1016.5 266.64 L1016.9 274.91 L1017.3 284.59 L1017.7 288.49 L1018.1 289.53 L1018.5 289.84 L1018.9 289 L1019.3 285.81 L1019.7 283.58 L1020.1 288.07 L1020.5 290.39 L1020.9 290.34 L1021.3 291.38 L1021.7 290.77 L1022.1 291.04 L1022.5 291.16 L1022.9 291.78 L1023.3 291.46 L1023.7 291.38 L1024.1 291.85 L1024.5 291.29 L1024.9 291.51 L1025.3 291.58 L1025.7 291.79 L1026.1 291.8 L1026.5 291.72 L1026.9 291.45 L1027.3 291.44 L1027.7 291.29 L1028.1 291.92 L1028.5 291.76 L1028.9 291.83 L1029.3 291.32 L1029.7 291.57 L1030.1 291.87 L1030.5 291.7 L1030.9 291.3 L1031.3 291.6 L1031.7 291.98 L1032.1 291.4 L1032.5 291.36 L1032.9 291.46 L1033.3 291.83 L1033.7 291.96 L1034.1 291.34 L1034.5 291.34 L1034.9 291.42 L1035.3 291.5 L1035.7 291.67 L1036.1 291.35 L1036.5 291.5 L1036.9 291.38 L1037.3 292.09" stroke="#a83838" stroke-width="0.65" fill="none"/>
<g font-size="3.6" fill="#4a5ab8"><text x="888.6" y="200.3" transform="rotate(-90 888.6 200.3)" text-anchor="end">108.22</text><text x="892.6" y="200.3" transform="rotate(-90 892.6 200.3)" text-anchor="end">107.38</text><text x="896.6" y="200.3" transform="rotate(-90 896.6 200.3)" text-anchor="end">106.34</text><text x="900.6" y="200.3" transform="rotate(-90 900.6 200.3)" text-anchor="end">105.42</text><text x="904.6" y="200.3" transform="rotate(-90 904.6 200.3)" text-anchor="end">105.38</text><text x="908.6" y="200.3" transform="rotate(-90 908.6 200.3)" text-anchor="end">103.12</text><text x="912.6" y="200.3" transform="rotate(-90 912.6 200.3)" text-anchor="end">99.36</text><text x="959.1" y="200.3" transform="rotate(-90 959.1 200.3)" text-anchor="end">83.82</text><text x="965.1" y="200.3" transform="rotate(-90 965.1 200.3)" text-anchor="end">81.31</text><text x="977.6" y="200.3" transform="rotate(-90 977.6 200.3)" text-anchor="end">76.55</text><text x="998.6" y="200.3" transform="rotate(-90 998.6 200.3)" text-anchor="end">68.61</text><text x="1017.1" y="200.3" transform="rotate(-90 1017.1 200.3)" text-anchor="end">61.25</text><text x="1020.1" y="200.3" transform="rotate(-90 1020.1 200.3)" text-anchor="end">59.31</text></g>
<text x="885" y="240" font-size="3.6" fill="#151515">1Ara(5)</text>
<text x="879.5" y="249.5" font-size="3.6" fill="#151515">1Ara</text>
<text x="901" y="250" font-size="3.6" fill="#151515">1Gal(3,6)</text>
<text x="895" y="266.5" font-size="3.6" fill="#151515">3Gal</text>
<text x="912" y="272" font-size="3.6" fill="#151515">2Gal(6)</text>
<text x="916" y="280" font-size="3.6" fill="#151515">1Gal(4)</text>
<text x="903" y="303" font-size="3.6" fill="#151515">1Gal(3)</text>
<text x="947" y="219" font-size="3.6" fill="#151515">4Gal(3,6)</text>
<text x="947" y="223.5" font-size="3.6" fill="#151515">4Gal</text>
<text x="947" y="228" font-size="3.6" fill="#151515">4Gal(4)</text>
<text x="949" y="237" font-size="3.6" fill="#151515">3Gal(4)</text>
<text x="947" y="245" font-size="3.6" fill="#151515">3Gal(3,6)</text>
<text x="946" y="250.5" font-size="3.6" fill="#151515">2Ara</text>
<text x="943" y="256" font-size="3.6" fill="#151515">5Ara</text>
<text x="943" y="260.5" font-size="3.6" fill="#151515">3Gal(3)</text>
<text x="937" y="266" font-size="3.6" fill="#151515">4Ara</text>
<text x="937" y="270.5" font-size="3.6" fill="#151515">4Ara(5)</text>
<text x="967" y="230" font-size="3.6" fill="#151515">5Gal(3,6)</text>
<text x="967" y="234.5" font-size="3.6" fill="#151515">5Gal(6)</text>
<text x="979" y="247.5" font-size="3.6" fill="#151515">5Gal(4)</text>
<text x="989" y="223" font-size="3.6" fill="#151515">3Gal</text>
<text x="989" y="227.5" font-size="3.6" fill="#151515">4Gal(6)</text>
<text x="1001" y="236.5" font-size="3.6" fill="#151515">2Gal(3,6)</text>
<text x="1001" y="241" font-size="3.6" fill="#151515">4Gal(3)</text>
<text x="1005" y="247" font-size="3.6" fill="#151515">6Gal(3,6)</text>
<text x="1005" y="251.5" font-size="3.6" fill="#151515">2Gal(3)</text>
<text x="1005" y="256" font-size="3.6" fill="#151515">3Gal(6)</text>
<text x="1002" y="265" font-size="3.6" fill="#151515">5Ara(5)</text>
<text x="1003" y="277.5" font-size="3.6" fill="#151515">6Gal(6)</text>
<text x="1025" y="248.5" font-size="3.6" fill="#151515">6Gal(3)</text>
<text x="1025" y="253" font-size="3.6" fill="#151515">5Ara</text>
<text x="1020" y="277.5" font-size="3.6" fill="#151515">OCH3</text>
<text x="1008" y="287" font-size="3.6" fill="#151515">6Gal</text>
<text x="943" y="303" font-size="3.6" fill="#151515">2Ara(5)</text>
<text x="960" y="298.5" font-size="3.6" fill="#151515">5Gal</text>
<text x="960" y="303" font-size="3.6" fill="#151515">3Ara(5)</text>
<text x="982" y="298.5" font-size="3.6" fill="#151515">2Gal</text>
<text x="975" y="307.5" font-size="3.6" fill="#151515">5Gal(3)</text>
<text x="989" y="305" font-size="3.6" fill="#151515">3Gal(6)</text>
<text x="1000" y="300.5" font-size="3.6" fill="#151515">2Gal(6)</text>
<text x="1015" y="303.5" font-size="3.6" fill="#151515">4Gal(4)</text>
<path d="M887 243L890 262M882 251L889 268M899 252L895 281M912 255L903 284M920 273L910 284M950 229L977 277M958 240L974 278M985 250L994 287M1002 226L986 281M1012 240L997 278M1018 256L1003 285M1030 255L1017 271M948 303L958 293M963 300L967 293M987 300L984 290" stroke="#222" stroke-width="0.4"/>
<path d="M1083.6 78.9H1219.7V170.8H1083.6Z" stroke="#c8c8c8" stroke-width="0.6" fill="none"/>
<path d="M1083.6 170.8H1219.7" stroke="#999" stroke-width="0.7"/>
<text x="1223" y="82.8" font-size="4.2" fill="#222">2.5</text>
<text x="1223" y="96.01" font-size="4.2" fill="#222">3.0</text>
<text x="1223" y="109.22" font-size="4.2" fill="#222">3.5</text>
<text x="1223" y="122.43" font-size="4.2" fill="#222">4.0</text>
<text x="1223" y="135.64" font-size="4.2" fill="#222">4.5</text>
<text x="1223" y="148.85" font-size="4.2" fill="#222">5.0</text>
<text x="1223" y="162.06" font-size="4.2" fill="#222">5.5</text>
<text x="1094" y="177.8" font-size="4.2" text-anchor="middle" fill="#222">5.5</text>
<text x="1117.6" y="177.8" font-size="4.2" text-anchor="middle" fill="#222">5.0</text>
<text x="1141.2" y="177.8" font-size="4.2" text-anchor="middle" fill="#222">4.5</text>
<text x="1164.8" y="177.8" font-size="4.2" text-anchor="middle" fill="#222">4.0</text>
<text x="1188.4" y="177.8" font-size="4.2" text-anchor="middle" fill="#222">3.5</text>
<text x="1212" y="177.8" font-size="4.2" text-anchor="middle" fill="#222">3.0</text>
<text x="1153" y="182.3" font-size="3.7" text-anchor="middle" fill="#444">f2 (ppm)</text>
<text x="1085.5" y="85.9" font-size="4.3" fill="#222">COSY</text>
<text x="1236" y="124.85" font-size="3.7" fill="#444" transform="rotate(90 1236 124.85)" text-anchor="middle">f1 (ppm)</text>
<path d="M1083.6 213.9H1219.7V309.2H1083.6Z" stroke="#c8c8c8" stroke-width="0.6" fill="none"/>
<path d="M1083.6 309.2H1219.7" stroke="#999" stroke-width="0.7"/>
<text x="1223" y="217.8" font-size="4.2" fill="#222">2.5</text>
<text x="1223" y="231.56" font-size="4.2" fill="#222">3.0</text>
<text x="1223" y="245.32" font-size="4.2" fill="#222">3.5</text>
<text x="1223" y="259.07" font-size="4.2" fill="#222">4.0</text>
<text x="1223" y="272.83" font-size="4.2" fill="#222">4.5</text>
<text x="1223" y="286.59" font-size="4.2" fill="#222">5.0</text>
<text x="1223" y="300.35" font-size="4.2" fill="#222">5.5</text>
<text x="1094" y="316.2" font-size="4.2" text-anchor="middle" fill="#222">5.5</text>
<text x="1117.6" y="316.2" font-size="4.2" text-anchor="middle" fill="#222">5.0</text>
<text x="1141.2" y="316.2" font-size="4.2" text-anchor="middle" fill="#222">4.5</text>
<text x="1164.8" y="316.2" font-size="4.2" text-anchor="middle" fill="#222">4.0</text>
<text x="1188.4" y="316.2" font-size="4.2" text-anchor="middle" fill="#222">3.5</text>
<text x="1212" y="316.2" font-size="4.2" text-anchor="middle" fill="#222">3.0</text>
<text x="1153" y="320.7" font-size="3.7" text-anchor="middle" fill="#444">f2 (ppm)</text>
<text x="1085.5" y="220.9" font-size="4.3" fill="#222">COSY</text>
<text x="1236" y="261.55" font-size="3.7" fill="#444" transform="rotate(90 1236 261.55)" text-anchor="middle">f1 (ppm)</text>
<path d="M1083.6 76.36 L1084.1 76.17 L1084.6 76.43 L1085.1 76.17 L1085.6 76.26 L1086.1 76.44 L1086.6 76.38 L1087.1 76.36 L1087.6 76.27 L1088.1 76.2 L1088.6 76.33 L1089.1 76.17 L1089.6 76.2 L1090.1 76.26 L1090.6 76.15 L1091.1 76.26 L1091.6 76.38 L1092.1 76.35 L1092.6 76.29 L1093.1 76.33 L1093.6 76.28 L1094.1 76.18 L1094.6 76.32 L1095.1 76.26 L1095.6 76.36 L1096.1 76.41 L1096.6 76.27 L1097.1 76.31 L1097.6 76.36 L1098.1 76.26 L1098.6 76.2 L1099.1 76.35 L1099.6 76.4 L1100.1 76.37 L1100.6 76.34 L1101.1 76.39 L1101.6 76.34 L1102.1 76.33 L1102.6 76.27 L1103.1 76.23 L1103.6 76.32 L1104.1 76.16 L1104.6 76.26 L1105.1 76.37 L1105.6 76.35 L1106.1 76.32 L1106.6 76.21 L1107.1 76.26 L1107.6 76.27 L1108.1 76.32 L1108.6 76.25 L1109.1 76.33 L1109.6 76.41 L1110.1 76.18 L1110.6 76.32 L1111.1 76.36 L1111.6 76.24 L1112.1 76.27 L1112.6 76.42 L1113.1 76.13 L1113.6 76.29 L1114.1 76.17 L1114.6 76.36 L1115.1 76.4 L1115.6 76.27 L1116.1 76.15 L1116.6 76.29 L1117.1 76.28 L1117.6 76.33 L1118.1 76.27 L1118.6 76.3 L1119.1 76.36 L1119.6 76.26 L1120.1 76.23 L1120.6 76.39 L1121.1 76.16 L1121.6 76.3 L1122.1 76.21 L1122.6 76.32 L1123.1 76.12 L1123.6 76.38 L1124.1 76.18 L1124.6 76.09 L1125.1 76.14 L1125.6 76.17 L1126.1 76.04 L1126.6 76.15 L1127.1 76.13 L1127.6 76.19 L1128.1 76.06 L1128.6 75.99 L1129.1 75.91 L1129.6 75.97 L1130.1 75.88 L1130.6 75.49 L1131.1 74.89 L1131.6 73.87 L1132.1 70.29 L1132.6 62.23 L1133.1 67.31 L1133.6 72.92 L1134.1 74.71 L1134.6 75.36 L1135.1 75.64 L1135.6 75.85 L1136.1 75.86 L1136.6 76.16 L1137.1 76.02 L1137.6 76.14 L1138.1 76.22 L1138.6 76.24 L1139.1 76.14 L1139.6 76.1 L1140.1 76.19 L1140.6 76.06 L1141.1 76.28 L1141.6 76.14 L1142.1 76.29 L1142.6 76.12 L1143.1 76.15 L1143.6 76.11 L1144.1 76.16 L1144.6 76.09 L1145.1 76.03 L1145.6 76.25 L1146.1 76.11 L1146.6 76.1 L1147.1 76.11 L1147.6 76.16 L1148.1 76.14 L1148.6 76.19 L1149.1 76.19 L1149.6 76.09 L1150.1 76.25 L1150.6 76.22 L1151.1 75.97 L1151.6 76.18 L1152.1 76.19 L1152.6 76.13 L1153.1 75.92 L1153.6 76.1 L1154.1 76.01 L1154.6 75.78 L1155.1 75.73 L1155.6 75.95 L1156.1 75.78 L1156.6 75.55 L1157.1 75.35 L1157.6 75.16 L1158.1 74.89 L1158.6 74.63 L1159.1 73.93 L1159.6 73.3 L1160.1 73.27 L1160.6 73.43 L1161.1 73.58 L1161.6 73.98 L1162.1 73.83 L1162.6 73.54 L1163.1 72.91 L1163.6 72.33 L1164.1 72.07 L1164.6 72.51 L1165.1 72.96 L1165.6 73.58 L1166.1 73.73 L1166.6 73.71 L1167.1 73.31 L1167.6 73.07 L1168.1 72.88 L1168.6 73.15 L1169.1 73.66 L1169.6 74.04 L1170.1 74.38 L1170.6 74.33 L1171.1 74.39 L1171.6 74.09 L1172.1 73.82 L1172.6 73.21 L1173.1 72.38 L1173.6 71.6 L1174.1 70.97 L1174.6 71.56 L1175.1 72.01 L1175.6 72.34 L1176.1 72.26 L1176.6 71.74 L1177.1 70.6 L1177.6 69.54 L1178.1 69.39 L1178.6 69.93 L1179.1 71.33 L1179.6 72.32 L1180.1 72.74 L1180.6 73.17 L1181.1 73.13 L1181.6 72.82 L1182.1 71.97 L1182.6 71.44 L1183.1 71.05 L1183.6 71.52 L1184.1 72.37 L1184.6 72.64 L1185.1 73.06 L1185.6 72.99 L1186.1 72.7 L1186.6 72.66 L1187.1 72.55 L1187.6 72.93 L1188.1 73.48 L1188.6 74.09 L1189.1 74.38 L1189.6 74.8 L1190.1 75.07 L1190.6 75.31 L1191.1 75.55 L1191.6 75.51 L1192.1 75.77 L1192.6 75.72 L1193.1 75.82 L1193.6 75.8 L1194.1 75.91 L1194.6 76.09 L1195.1 76.03 L1195.6 76.09 L1196.1 75.98 L1196.6 76 L1197.1 76.01 L1197.6 76.11 L1198.1 76.14 L1198.6 76.2 L1199.1 75.99 L1199.6 76.2 L1200.1 76.26 L1200.6 76.17 L1201.1 76.03 L1201.6 76.11 L1202.1 76.03 L1202.6 76.09 L1203.1 76.31 L1203.6 76.22 L1204.1 76.24 L1204.6 76.29 L1205.1 76.33 L1205.6 76.24 L1206.1 76.25 L1206.6 76.25 L1207.1 76.28 L1207.6 76.25 L1208.1 76.28 L1208.6 76.14 L1209.1 76.28 L1209.6 76.22 L1210.1 76.31 L1210.6 76.12 L1211.1 76.14 L1211.6 76.1 L1212.1 76.33 L1212.6 76.37 L1213.1 76.29 L1213.6 76.21 L1214.1 76.35 L1214.6 76.34 L1215.1 76.27 L1215.6 76.18 L1216.1 76.2 L1216.6 76.23 L1217.1 76.2 L1217.6 76.24 L1218.1 76.3 L1218.6 76.39 L1219.1 76.13" stroke="#d46a6a" stroke-width="0.6" fill="none"/>
<path d="M1079 78V170.8M1079 137.5H1060" stroke="#e08888" stroke-width="0.6" fill="none"/>
<g fill="none" stroke="#e25a5a" stroke-width="0.55"><ellipse cx="1177" cy="113.79" rx="2.66" ry="2.22"/><ellipse cx="1196.82" cy="110.97" rx="1.77" ry="1.48"/><ellipse cx="1179.33" cy="114.62" rx="2.13" ry="1.77"/><ellipse cx="1165.76" cy="112.36" rx="1.65" ry="1.37"/><ellipse cx="1184.46" cy="120.79" rx="1.33" ry="1.1"/><ellipse cx="1161.95" cy="106.1" rx="1.97" ry="1.64"/><ellipse cx="1161.81" cy="121.29" rx="2.59" ry="2.16"/><ellipse cx="1187.12" cy="98.26" rx="2.61" ry="2.17"/><ellipse cx="1199.25" cy="125.94" rx="2.36" ry="1.97"/><ellipse cx="1185.46" cy="115.47" rx="2.79" ry="2.33"/><ellipse cx="1164.61" cy="97.45" rx="1.58" ry="1.32"/><ellipse cx="1180.19" cy="98.79" rx="1.38" ry="1.15"/><ellipse cx="1165.99" cy="104.26" rx="1.89" ry="1.58"/><ellipse cx="1159.26" cy="110.92" rx="1.58" ry="1.31"/><ellipse cx="1176.5" cy="122.27" rx="1.47" ry="1.22"/><ellipse cx="1179.8" cy="116.21" rx="1.83" ry="1.52"/><ellipse cx="1178.99" cy="116.87" rx="2.21" ry="1.84"/><ellipse cx="1177.21" cy="105.34" rx="1.97" ry="1.64"/><ellipse cx="1199.9" cy="126.87" rx="1.65" ry="1.37"/><ellipse cx="1193.29" cy="118.23" rx="2.59" ry="2.16"/><ellipse cx="1171.24" cy="103.89" rx="2.85" ry="2.37"/><ellipse cx="1170.14" cy="99.11" rx="1.89" ry="1.58"/><ellipse cx="1190.18" cy="109.01" rx="1.21" ry="1.01"/><ellipse cx="1193.56" cy="108.6" rx="1.14" ry="0.95"/><ellipse cx="1198.24" cy="122.42" rx="2.65" ry="2.21"/><ellipse cx="1158.02" cy="103.29" rx="1.15" ry="0.96"/><ellipse cx="1196.23" cy="111.1" rx="2.36" ry="1.96"/><ellipse cx="1199.18" cy="108.92" rx="2.11" ry="1.76"/><ellipse cx="1161.07" cy="115.88" rx="1.64" ry="1.36"/><ellipse cx="1190.7" cy="105.09" rx="2.5" ry="2.09"/><ellipse cx="1161.66" cy="106.98" rx="1.11" ry="0.93"/><ellipse cx="1198.49" cy="119.74" rx="1.32" ry="1.1"/><ellipse cx="1162.96" cy="104.39" rx="1.9" ry="1.58"/><ellipse cx="1162.24" cy="98.8" rx="1.12" ry="0.94"/><ellipse cx="1191.47" cy="102.33" rx="2.57" ry="2.14"/><ellipse cx="1181.49" cy="110.42" rx="1.51" ry="1.26"/><ellipse cx="1166.01" cy="118.96" rx="1.33" ry="1.11"/><ellipse cx="1163.5" cy="116.31" rx="1.16" ry="0.97"/><ellipse cx="1162.89" cy="109.62" rx="2.21" ry="1.84"/><ellipse cx="1166.94" cy="105.09" rx="1.88" ry="1.57"/><ellipse cx="1198.78" cy="121.1" rx="2.21" ry="1.84"/><ellipse cx="1170.77" cy="123.55" rx="2.26" ry="1.88"/><ellipse cx="1166.85" cy="108.83" rx="2.53" ry="2.11"/><ellipse cx="1193.88" cy="116.26" rx="2.81" ry="2.34"/><ellipse cx="1162.21" cy="126.68" rx="2.31" ry="1.93"/><ellipse cx="1166.96" cy="104.75" rx="1.44" ry="1.2"/><ellipse cx="1190.45" cy="106.87" rx="1.94" ry="1.61"/><ellipse cx="1170.45" cy="99.2" rx="1.4" ry="1.17"/><ellipse cx="1161.78" cy="114.48" rx="1.1" ry="0.92"/><ellipse cx="1168.21" cy="115.04" rx="1.93" ry="1.61"/><ellipse cx="1173.61" cy="110.6" rx="2.37" ry="1.97"/><ellipse cx="1198.28" cy="111.51" rx="1.4" ry="1.17"/><ellipse cx="1182.13" cy="123" rx="1.57" ry="1.31"/><ellipse cx="1165.68" cy="101.62" rx="1.7" ry="1.42"/><ellipse cx="1196.15" cy="121.53" rx="2.34" ry="1.95"/><ellipse cx="1168.48" cy="102.69" rx="2.02" ry="1.68"/><ellipse cx="1189.06" cy="125.21" rx="2.19" ry="1.82"/><ellipse cx="1166.26" cy="125.5" rx="2.44" ry="2.03"/><ellipse cx="1195.05" cy="115.11" rx="1.79" ry="1.49"/><ellipse cx="1175.7" cy="100.12" rx="2.51" ry="2.09"/><ellipse cx="1159.63" cy="125.88" rx="2.71" ry="2.26"/><ellipse cx="1168.01" cy="118.14" rx="1.24" ry="1.03"/><ellipse cx="1168.79" cy="121.71" rx="2.76" ry="2.3"/><ellipse cx="1183.05" cy="105.8" rx="2.38" ry="1.98"/><ellipse cx="1165.37" cy="118.61" rx="1.31" ry="1.09"/><ellipse cx="1160.89" cy="103.85" rx="1.9" ry="1.58"/><ellipse cx="1181.49" cy="122.57" rx="2.21" ry="1.84"/><ellipse cx="1183.8" cy="105.41" rx="2.72" ry="2.26"/><ellipse cx="1196.53" cy="103.12" rx="1.76" ry="1.47"/><ellipse cx="1158.7" cy="105.08" rx="2.1" ry="1.75"/><ellipse cx="1176.72" cy="98.81" rx="2.66" ry="2.22"/><ellipse cx="1165.4" cy="108.06" rx="2.51" ry="2.1"/><ellipse cx="1182.03" cy="100.95" rx="2.78" ry="2.32"/><ellipse cx="1173.21" cy="123.73" rx="1.91" ry="1.6"/><ellipse cx="1199.18" cy="116.71" rx="2.25" ry="1.88"/><ellipse cx="1187.03" cy="114.53" rx="1.45" ry="1.21"/><ellipse cx="1163.89" cy="98.05" rx="2.38" ry="1.98"/><ellipse cx="1158.75" cy="124.31" rx="2.55" ry="2.13"/><ellipse cx="1187.44" cy="125.88" rx="2.23" ry="1.86"/><ellipse cx="1158.89" cy="116.09" rx="2.37" ry="1.98"/><ellipse cx="1178.25" cy="118.91" rx="1.46" ry="1.22"/><ellipse cx="1171.39" cy="126.98" rx="2.7" ry="2.25"/><ellipse cx="1161.16" cy="113.38" rx="2.84" ry="2.37"/><ellipse cx="1188.95" cy="124.01" rx="2.84" ry="2.37"/><ellipse cx="1188.96" cy="118.11" rx="2.05" ry="1.71"/><ellipse cx="1191.32" cy="124.45" rx="2.5" ry="2.09"/><ellipse cx="1172.78" cy="117.55" rx="1.66" ry="1.38"/><ellipse cx="1195.84" cy="123.13" rx="2.72" ry="2.26"/><ellipse cx="1175.52" cy="120.72" rx="2.62" ry="2.18"/><ellipse cx="1194.27" cy="114.18" rx="1.71" ry="1.42"/><ellipse cx="1184.25" cy="108.47" rx="1.23" ry="1.02"/><ellipse cx="1182.47" cy="115.27" rx="1.87" ry="1.56"/><ellipse cx="1161.37" cy="116.18" rx="2.07" ry="1.73"/><ellipse cx="1199.72" cy="123.39" rx="2.46" ry="2.05"/><ellipse cx="1188.58" cy="108.65" rx="1.96" ry="1.63"/><ellipse cx="1188.87" cy="114.43" rx="1.13" ry="0.94"/><ellipse cx="1176.5" cy="122.15" rx="2.54" ry="2.11"/><ellipse cx="1161.52" cy="119.51" rx="1.2" ry="1"/><ellipse cx="1159.25" cy="115.04" rx="2.52" ry="2.1"/><ellipse cx="1178.2" cy="103.91" rx="1.39" ry="1.16"/><ellipse cx="1187.33" cy="111.92" rx="1.68" ry="1.4"/><ellipse cx="1183.81" cy="124.61" rx="2.5" ry="2.08"/><ellipse cx="1168.74" cy="97.34" rx="1.33" ry="1.11"/><ellipse cx="1170.64" cy="117.34" rx="1.35" ry="1.12"/><ellipse cx="1166.51" cy="102.09" rx="2.01" ry="1.67"/><ellipse cx="1196.04" cy="116.8" rx="2.38" ry="1.99"/><ellipse cx="1176.56" cy="123.75" rx="2.59" ry="2.16"/><ellipse cx="1171.73" cy="116.98" rx="2.32" ry="1.93"/><ellipse cx="1166.34" cy="109.93" rx="2.78" ry="2.32"/><ellipse cx="1191.85" cy="124.43" rx="1.97" ry="1.64"/><ellipse cx="1104.6" cy="106" rx="1.32" ry="1.2"/><ellipse cx="1104.6" cy="110.6" rx="0.99" ry="0.9"/><ellipse cx="1112.6" cy="105" rx="0.88" ry="0.8"/><ellipse cx="1139.7" cy="97.3" rx="1.98" ry="1.8"/><ellipse cx="1140.2" cy="132.8" rx="1.87" ry="1.7"/><ellipse cx="1140.2" cy="135.4" rx="1.65" ry="1.5"/><ellipse cx="1145.5" cy="133.2" rx="1.98" ry="1.8"/><ellipse cx="1145.5" cy="135.6" rx="1.65" ry="1.5"/><ellipse cx="1132.7" cy="138.6" rx="2.42" ry="2.2"/><ellipse cx="1132.7" cy="138.6" rx="1.43" ry="1.3"/><ellipse cx="1104.6" cy="154.5" rx="1.98" ry="1.8"/><ellipse cx="1104.6" cy="154.5" rx="1.1" ry="1"/><ellipse cx="1112.6" cy="149.8" rx="1.32" ry="1.2"/><ellipse cx="1189.5" cy="154.5" rx="1.98" ry="1.8"/><ellipse cx="1190.5" cy="149.3" rx="0.99" ry="0.9"/><ellipse cx="1203.6" cy="97.3" rx="1.98" ry="1.8"/><ellipse cx="1203.6" cy="103.4" rx="1.43" ry="1.3"/><ellipse cx="1203.6" cy="134" rx="1.98" ry="1.8"/><ellipse cx="1203.6" cy="134" rx="1.1" ry="1"/></g>
<g fill="#222"><rect x="1104" y="108" width="1.2" height="1.2"/><rect x="1165" y="105" width="1.1" height="1.1"/><rect x="1176" y="110" width="1.1" height="1.1"/><rect x="1163" y="116" width="1.1" height="1.1"/><rect x="1190" y="118" width="1.1" height="1.1"/></g>
<text x="1164" y="96.5" font-size="3.3" fill="#151515">H5-6 Glc(6)</text>
<text x="1187" y="93.5" font-size="3.3" fill="#151515">H5-H6 Fru(1,6)</text>
<text x="1124" y="102" font-size="3.3" fill="#151515">H4-5 Fru(1,6)</text>
<text x="1152" y="100.5" font-size="3.3" fill="#151515">H5-6 Fru</text>
<text x="1130" y="106" font-size="3.3" fill="#151515">H4-5 Glc/Fru</text>
<text x="1126" y="113" font-size="3.3" fill="#151515">H5-6 Fru</text>
<text x="1128" y="118.5" font-size="3.3" fill="#151515">H4-5 Fru</text>
<text x="1118" y="124.5" font-size="3.3" fill="#151515">H3-4 Fru(1,6)</text>
<text x="1097" y="117.5" font-size="3.3" fill="#151515">H1-2 Glc(6)</text>
<text x="1199" y="117.5" font-size="3.3" fill="#151515">H2-3 Glc(6)</text>
<text x="1197" y="123" font-size="3.3" fill="#151515">H3-4 Glc(6)</text>
<text x="1194" y="128" font-size="3.3" fill="#151515">H5-6 Glc(6)</text>
<text x="1189" y="133" font-size="3.3" fill="#151515">H5-6 Fru(1)</text>
<text x="1173" y="136" font-size="3.3" fill="#151515">H4-5 Fru(1)</text>
<text x="1149" y="139" font-size="3.3" fill="#151515">H3-4 Fru</text>
<text x="1163" y="141.5" font-size="3.3" fill="#151515">H3-4 Fru(1)</text>
<path d="M1150 123L1163 117M1146 117L1165 121M1146 111L1166 114M1145 105L1164 110M1176 98L1174 104M1196 96L1192 107M1197 117L1190 113M1195 122L1188 116M1192 127L1185 118M1188 132L1180 121M1171 134L1172 124M1161 140L1168 127M1157 138L1163 128" stroke="#222" stroke-width="0.4"/>
<path d="M1090 213.2 L1110 213.5 L1128 213 L1130 202.5 L1131 213 L1160 212.5 L1219 213.2" stroke="#e08888" stroke-width="0.6" fill="none"/>
<path d="M1077.5 214V309M1077.5 280.3H1065" stroke="#e08888" stroke-width="0.6" fill="none"/>
<path d="M1130.2 214V309" stroke="#e07070" stroke-width="0.6" stroke-dasharray="1.5 1"/>
<g fill="none" stroke="#e06060" stroke-width="0.5"><ellipse cx="1211.83" cy="232.91" rx="1.97" ry="1.64"/><ellipse cx="1136.16" cy="270.61" rx="1.96" ry="1.64"/><ellipse cx="1194.58" cy="237.36" rx="1.69" ry="1.41"/><ellipse cx="1200.2" cy="236.92" rx="2.59" ry="2.16"/><ellipse cx="1206.37" cy="229.35" rx="1.35" ry="1.12"/><ellipse cx="1158.5" cy="259.45" rx="1.01" ry="0.84"/><ellipse cx="1207.61" cy="229.67" rx="2.5" ry="2.08"/><ellipse cx="1160.79" cy="258.07" rx="1.09" ry="0.91"/><ellipse cx="1155.67" cy="264.54" rx="2.73" ry="2.28"/><ellipse cx="1132.56" cy="278.04" rx="1.79" ry="1.49"/><ellipse cx="1198.42" cy="237.87" rx="1.57" ry="1.31"/><ellipse cx="1119.34" cy="276.83" rx="1.21" ry="1.01"/><ellipse cx="1193.32" cy="243.38" rx="1.4" ry="1.16"/><ellipse cx="1178.93" cy="252.65" rx="2.15" ry="1.79"/><ellipse cx="1116.29" cy="286.84" rx="1.94" ry="1.62"/><ellipse cx="1134.15" cy="283.62" rx="1.8" ry="1.5"/><ellipse cx="1142.13" cy="272.99" rx="1.27" ry="1.06"/><ellipse cx="1123.6" cy="277.92" rx="1.98" ry="1.65"/><ellipse cx="1192.62" cy="233.02" rx="1.41" ry="1.17"/><ellipse cx="1189.69" cy="237.61" rx="1.57" ry="1.31"/><ellipse cx="1142.13" cy="273.27" rx="2.88" ry="2.4"/><ellipse cx="1204.6" cy="237.85" rx="2.36" ry="1.96"/><ellipse cx="1139.74" cy="282.68" rx="1.77" ry="1.47"/><ellipse cx="1194.75" cy="245.17" rx="2.28" ry="1.9"/><ellipse cx="1108.79" cy="300.56" rx="2.71" ry="2.26"/><ellipse cx="1215.08" cy="233.3" rx="2.42" ry="2.01"/><ellipse cx="1159.29" cy="259.43" rx="1.1" ry="0.91"/><ellipse cx="1121.61" cy="289.96" rx="1.95" ry="1.62"/><ellipse cx="1169.11" cy="259.36" rx="1.35" ry="1.13"/><ellipse cx="1206.56" cy="238.31" rx="1.14" ry="0.95"/><ellipse cx="1116.06" cy="290.45" rx="2.43" ry="2.02"/><ellipse cx="1136.24" cy="274.77" rx="1.79" ry="1.49"/><ellipse cx="1177.3" cy="255.65" rx="2.58" ry="2.15"/><ellipse cx="1118.65" cy="285.55" rx="1.74" ry="1.45"/><ellipse cx="1128.9" cy="286.86" rx="0.99" ry="0.82"/><ellipse cx="1205.24" cy="229.34" rx="2.61" ry="2.18"/><ellipse cx="1169.77" cy="256.26" rx="1.93" ry="1.61"/><ellipse cx="1214.14" cy="226.27" rx="2.71" ry="2.26"/><ellipse cx="1188.17" cy="238.15" rx="1.74" ry="1.45"/><ellipse cx="1208.11" cy="230.81" rx="2.43" ry="2.03"/><ellipse cx="1183.86" cy="247.54" rx="1.1" ry="0.91"/><ellipse cx="1142.02" cy="272.88" rx="1.64" ry="1.37"/><ellipse cx="1173.19" cy="250.52" rx="2.77" ry="2.31"/><ellipse cx="1175.19" cy="255.71" rx="2.05" ry="1.71"/><ellipse cx="1150.53" cy="270.65" rx="2.19" ry="1.83"/><ellipse cx="1182.96" cy="237.15" rx="1" ry="0.84"/><ellipse cx="1172.48" cy="251.08" rx="1.73" ry="1.44"/><ellipse cx="1111.86" cy="296.23" rx="1.15" ry="0.96"/><ellipse cx="1136.79" cy="276.12" rx="1.94" ry="1.61"/><ellipse cx="1199.51" cy="224.83" rx="2.18" ry="1.82"/><ellipse cx="1198.84" cy="243.44" rx="2.42" ry="2.01"/><ellipse cx="1112.1" cy="291.93" rx="1.87" ry="1.55"/><ellipse cx="1118.11" cy="284.65" rx="1.07" ry="0.89"/><ellipse cx="1204.68" cy="234.06" rx="2.11" ry="1.76"/><ellipse cx="1143.91" cy="276.83" rx="2.04" ry="1.7"/><ellipse cx="1135.49" cy="273.44" rx="0.99" ry="0.82"/><ellipse cx="1134.2" cy="279.96" rx="2.41" ry="2.01"/><ellipse cx="1153.21" cy="265.49" rx="1.06" ry="0.88"/><ellipse cx="1215.23" cy="228.23" rx="2.7" ry="2.25"/><ellipse cx="1141.59" cy="268.3" rx="1.43" ry="1.19"/><ellipse cx="1168.49" cy="257.95" rx="1.86" ry="1.55"/><ellipse cx="1214.88" cy="224.47" rx="1.18" ry="0.98"/><ellipse cx="1171.07" cy="254.29" rx="1.06" ry="0.88"/><ellipse cx="1166.16" cy="263.14" rx="2.24" ry="1.87"/><ellipse cx="1154.71" cy="270.29" rx="1.77" ry="1.47"/><ellipse cx="1176.93" cy="240.43" rx="2.79" ry="2.32"/><ellipse cx="1185.91" cy="248.03" rx="2.67" ry="2.23"/><ellipse cx="1188.61" cy="240" rx="1.48" ry="1.23"/><ellipse cx="1175.44" cy="247.29" rx="2.18" ry="1.81"/><ellipse cx="1188.99" cy="247.59" rx="2.84" ry="2.37"/><ellipse cx="1206.55" cy="232.95" rx="1.08" ry="0.9"/><ellipse cx="1129.82" cy="280.11" rx="1.16" ry="0.96"/><ellipse cx="1166.11" cy="259.92" rx="2.26" ry="1.88"/><ellipse cx="1162.94" cy="255.72" rx="1.88" ry="1.57"/><ellipse cx="1124.5" cy="287.18" rx="2.57" ry="2.14"/><ellipse cx="1118.49" cy="295.92" rx="2.16" ry="1.8"/><ellipse cx="1190.53" cy="247.82" rx="1.46" ry="1.21"/><ellipse cx="1190.13" cy="245.2" rx="2.86" ry="2.38"/><ellipse cx="1134.48" cy="271.88" rx="2.73" ry="2.27"/><ellipse cx="1150.81" cy="268.24" rx="2.64" ry="2.2"/><ellipse cx="1118.11" cy="293.23" rx="1.89" ry="1.58"/><ellipse cx="1178.3" cy="255.99" rx="1.11" ry="0.92"/><ellipse cx="1127.59" cy="280.09" rx="1.54" ry="1.29"/><ellipse cx="1183.63" cy="243.64" rx="1.23" ry="1.03"/><ellipse cx="1143.78" cy="267.89" rx="1.19" ry="0.99"/><ellipse cx="1174.9" cy="243.99" rx="2.76" ry="2.3"/><ellipse cx="1198.8" cy="236.63" rx="1.55" ry="1.29"/><ellipse cx="1132.39" cy="279.91" rx="2.68" ry="2.23"/><ellipse cx="1129.85" cy="282.03" rx="1.66" ry="1.38"/><ellipse cx="1146.51" cy="270.81" rx="2.04" ry="1.7"/><ellipse cx="1185.31" cy="239.88" rx="2.04" ry="1.7"/><ellipse cx="1124.89" cy="275.75" rx="1.5" ry="1.25"/><ellipse cx="1102.46" cy="294" rx="2.05" ry="1.71"/><ellipse cx="1207.1" cy="224.41" rx="1.08" ry="0.9"/><ellipse cx="1165.55" cy="257.19" rx="1.12" ry="0.93"/><ellipse cx="1187.43" cy="244.88" rx="2.18" ry="1.81"/><ellipse cx="1120.67" cy="280.43" rx="1.43" ry="1.19"/><ellipse cx="1129.72" cy="276.17" rx="2.43" ry="2.02"/><ellipse cx="1142.87" cy="278.13" rx="2.25" ry="1.88"/><ellipse cx="1153.09" cy="260.95" rx="2.32" ry="1.93"/><ellipse cx="1199.31" cy="237.77" rx="2.24" ry="1.87"/><ellipse cx="1201.49" cy="230.85" rx="2.67" ry="2.22"/><ellipse cx="1207.26" cy="227.11" rx="2.32" ry="1.94"/><ellipse cx="1189.57" cy="243.42" rx="1.24" ry="1.03"/><ellipse cx="1190.41" cy="245.38" rx="1.28" ry="1.07"/><ellipse cx="1124.52" cy="283.61" rx="2.82" ry="2.35"/><ellipse cx="1110.8" cy="293.82" rx="2.2" ry="1.84"/><ellipse cx="1190.97" cy="244.53" rx="1.84" ry="1.53"/><ellipse cx="1170.16" cy="255.7" rx="1.17" ry="0.97"/><ellipse cx="1125.9" cy="286.32" rx="2.34" ry="1.95"/><ellipse cx="1181.9" cy="240.51" rx="1.23" ry="1.02"/><ellipse cx="1164.02" cy="238.56" rx="2.05" ry="1.71"/><ellipse cx="1165.77" cy="252.83" rx="2.14" ry="1.78"/><ellipse cx="1175.33" cy="241.9" rx="2.24" ry="1.86"/><ellipse cx="1200.11" cy="245" rx="1.75" ry="1.46"/><ellipse cx="1169.94" cy="252.05" rx="1.7" ry="1.42"/><ellipse cx="1163.65" cy="269.63" rx="1.91" ry="1.59"/><ellipse cx="1174.94" cy="246.12" rx="2.11" ry="1.76"/><ellipse cx="1188.66" cy="255.03" rx="1.19" ry="0.99"/><ellipse cx="1156.94" cy="244.23" rx="1.33" ry="1.11"/><ellipse cx="1197.55" cy="251.61" rx="1.88" ry="1.56"/><ellipse cx="1204.61" cy="242.13" rx="1.73" ry="1.44"/><ellipse cx="1156.59" cy="261.27" rx="0.96" ry="0.8"/><ellipse cx="1194.86" cy="235.13" rx="1.35" ry="1.12"/><ellipse cx="1188.84" cy="235.69" rx="1.65" ry="1.38"/><ellipse cx="1165.3" cy="261.99" rx="1.56" ry="1.3"/><ellipse cx="1200.26" cy="235.46" rx="2.15" ry="1.79"/><ellipse cx="1159.88" cy="252.65" rx="1.72" ry="1.43"/><ellipse cx="1156.98" cy="263.62" rx="1.41" ry="1.17"/><ellipse cx="1165.42" cy="249.75" rx="1.99" ry="1.66"/><ellipse cx="1168.5" cy="258.11" rx="1.11" ry="0.93"/><ellipse cx="1170.47" cy="249.55" rx="2.35" ry="1.96"/><ellipse cx="1188.47" cy="241.02" rx="1.77" ry="1.48"/><ellipse cx="1159.78" cy="255.41" rx="1.38" ry="1.15"/><ellipse cx="1169.43" cy="252.51" rx="1.39" ry="1.16"/><ellipse cx="1167.23" cy="246.9" rx="1.92" ry="1.6"/><ellipse cx="1162.62" cy="239.6" rx="2.01" ry="1.68"/><ellipse cx="1166.78" cy="267.91" rx="1.77" ry="1.48"/><ellipse cx="1189.26" cy="244.6" rx="2.15" ry="1.79"/><ellipse cx="1153.38" cy="257.75" rx="1.98" ry="1.65"/><ellipse cx="1158.25" cy="247.29" rx="2.17" ry="1.8"/><ellipse cx="1181.79" cy="235.42" rx="1.29" ry="1.07"/><ellipse cx="1171.19" cy="234.76" rx="2.29" ry="1.9"/><ellipse cx="1172.34" cy="251.44" rx="1.89" ry="1.58"/><ellipse cx="1170" cy="244.59" rx="1.55" ry="1.29"/><ellipse cx="1148.88" cy="247.23" rx="1.97" ry="1.64"/><ellipse cx="1185.63" cy="255.13" rx="0.99" ry="0.82"/><ellipse cx="1166.87" cy="245" rx="1.9" ry="1.58"/><ellipse cx="1154.06" cy="246.35" rx="1.69" ry="1.41"/><ellipse cx="1182.85" cy="238.02" rx="2.06" ry="1.72"/><ellipse cx="1168.1" cy="251.02" rx="1.16" ry="0.97"/><ellipse cx="1177.41" cy="259.18" rx="2.16" ry="1.8"/><ellipse cx="1159.24" cy="267.91" rx="1.86" ry="1.55"/><ellipse cx="1161.94" cy="253.91" rx="1.96" ry="1.64"/><ellipse cx="1166.76" cy="267.3" rx="1.48" ry="1.23"/><ellipse cx="1174.39" cy="236.71" rx="2.36" ry="1.97"/><ellipse cx="1155.73" cy="266.35" rx="1.74" ry="1.45"/><ellipse cx="1179.96" cy="253.29" rx="1.34" ry="1.12"/><ellipse cx="1154.99" cy="263.34" rx="1.38" ry="1.15"/><ellipse cx="1199.13" cy="241.15" rx="1.79" ry="1.49"/><ellipse cx="1195.35" cy="239.05" rx="1.75" ry="1.46"/><ellipse cx="1158.26" cy="269.51" rx="2.31" ry="1.93"/><ellipse cx="1185.53" cy="243.69" rx="1.93" ry="1.61"/><ellipse cx="1190.05" cy="246.5" rx="1.81" ry="1.51"/><ellipse cx="1193.82" cy="232.62" rx="1.25" ry="1.04"/><ellipse cx="1174.68" cy="237.43" rx="1.52" ry="1.26"/><ellipse cx="1180.46" cy="238.6" rx="1.71" ry="1.42"/><ellipse cx="1163.03" cy="253.59" rx="1.44" ry="1.2"/><ellipse cx="1184.58" cy="233.44" rx="1.93" ry="1.61"/><ellipse cx="1156.25" cy="268.45" rx="1.82" ry="1.52"/><ellipse cx="1174.78" cy="247.63" rx="1.86" ry="1.55"/><ellipse cx="1190.85" cy="250.46" rx="2.39" ry="1.99"/><ellipse cx="1171.31" cy="248.49" rx="1.77" ry="1.48"/><ellipse cx="1177.93" cy="248.42" rx="2.26" ry="1.89"/><ellipse cx="1189.72" cy="254.71" rx="2.04" ry="1.7"/><ellipse cx="1165.37" cy="254.55" rx="1.06" ry="0.88"/><ellipse cx="1155.09" cy="248.98" rx="1.68" ry="1.4"/><ellipse cx="1187.61" cy="252" rx="1.3" ry="1.09"/><ellipse cx="1165.46" cy="247.03" rx="1.3" ry="1.08"/><ellipse cx="1151.9" cy="266.63" rx="2.35" ry="1.96"/><ellipse cx="1172.02" cy="262.6" rx="1.28" ry="1.07"/><ellipse cx="1190.56" cy="253.54" rx="2.26" ry="1.88"/><ellipse cx="1153.62" cy="262.11" rx="1.14" ry="0.95"/><ellipse cx="1165.06" cy="244.34" rx="1.05" ry="0.88"/><ellipse cx="1170.64" cy="245.55" rx="1.8" ry="1.5"/><ellipse cx="1199.22" cy="243.7" rx="1.68" ry="1.4"/><ellipse cx="1174.94" cy="239.85" rx="1.39" ry="1.15"/><ellipse cx="1159.14" cy="263.84" rx="1.47" ry="1.22"/><ellipse cx="1174.93" cy="238.53" rx="2.23" ry="1.86"/><ellipse cx="1204.74" cy="239.68" rx="1.87" ry="1.56"/><ellipse cx="1158.92" cy="265.45" rx="1.03" ry="0.86"/><ellipse cx="1154.05" cy="259.58" rx="1.41" ry="1.18"/><ellipse cx="1188.65" cy="237.13" rx="1.96" ry="1.64"/><ellipse cx="1201.45" cy="248.92" rx="1.07" ry="0.89"/><ellipse cx="1160.72" cy="243.67" rx="1.98" ry="1.65"/><ellipse cx="1161.42" cy="257.25" rx="2.1" ry="1.75"/><ellipse cx="1169.23" cy="257.16" rx="2.23" ry="1.86"/><ellipse cx="1181.62" cy="240.7" rx="1.39" ry="1.16"/><ellipse cx="1163.78" cy="256.32" rx="1.09" ry="0.91"/><ellipse cx="1178.11" cy="252.17" rx="1.03" ry="0.85"/><ellipse cx="1126" cy="240" rx="1.8" ry="1.5"/><ellipse cx="1133" cy="247" rx="1.8" ry="1.5"/><ellipse cx="1135" cy="248" rx="1.8" ry="1.5"/><ellipse cx="1140" cy="250" rx="1.8" ry="1.5"/><ellipse cx="1118" cy="254" rx="1.8" ry="1.5"/><ellipse cx="1106" cy="264" rx="1.8" ry="1.5"/><ellipse cx="1114" cy="263" rx="1.8" ry="1.5"/><ellipse cx="1166" cy="296" rx="1.8" ry="1.5"/><ellipse cx="1156" cy="292" rx="1.8" ry="1.5"/><ellipse cx="1185" cy="274" rx="1.8" ry="1.5"/><ellipse cx="1190" cy="272" rx="1.8" ry="1.5"/><ellipse cx="1200" cy="272" rx="1.8" ry="1.5"/><ellipse cx="1196" cy="252" rx="1.8" ry="1.5"/><ellipse cx="1202" cy="252" rx="1.8" ry="1.5"/><ellipse cx="1214" cy="231" rx="1.8" ry="1.5"/></g>
<text x="1101" y="226" font-size="3.2" fill="#151515">H1-2Gal(3,6)</text>
<text x="1129" y="226" font-size="3.2" fill="#151515">H1-2Ara</text>
<text x="1128" y="222" font-size="3.2" fill="#151515">H5-6Gal</text>
<text x="1147" y="220" font-size="3.2" fill="#151515">H4-5Gal(3,6)</text>
<text x="1148" y="225" font-size="3.2" fill="#151515">H3-4Gal(4)</text>
<text x="1146" y="232" font-size="3.2" fill="#151515">H4-5Ara</text>
<text x="1164" y="233" font-size="3.2" fill="#151515">H5-6Gal(6)</text>
<text x="1182" y="222" font-size="3.2" fill="#151515">H2-3Gal(3)</text>
<text x="1190" y="232" font-size="3.2" fill="#151515">H3-4Gal(3)</text>
<text x="1201" y="237" font-size="3.2" fill="#151515">H2-3Gal(4)</text>
<text x="1085" y="233" font-size="3.2" fill="#151515">H1-2Gal(4)</text>
<text x="1086" y="238" font-size="3.2" fill="#151515">H1-2Gal</text>
<text x="1086" y="248" font-size="3.2" fill="#151515">H1-2Gal(3)</text>
<text x="1085" y="255" font-size="3.2" fill="#151515">H1-2Ara(5)</text>
<text x="1085" y="262" font-size="3.2" fill="#151515">H1-2Ara</text>
<text x="1117" y="264" font-size="3.2" fill="#151515">H1-2Gal(3)</text>
<text x="1089" y="273" font-size="3.2" fill="#151515">H3-4Ara(5)</text>
<text x="1094" y="284" font-size="3.2" fill="#151515">H4-5Gal(4)</text>
<text x="1085" y="296" font-size="3.2" fill="#151515">H2-3Ara(5)</text>
<text x="1117" y="294" font-size="3.2" fill="#151515">H5-6Gal(3,6)</text>
<text x="1117" y="299" font-size="3.2" fill="#151515">H5-6Gal(4)</text>
<text x="1141" y="288" font-size="3.2" fill="#151515">H3-4Gal</text>
<text x="1166" y="287" font-size="3.2" fill="#151515">H3-4Ara</text>
<text x="1162" y="294" font-size="3.2" fill="#151515">H4-5Ara(5)</text>
<text x="1151" y="300" font-size="3.2" fill="#151515">H4-5Gal</text>
<text x="1193" y="258" font-size="3.2" fill="#151515">H3-4Gal(3)</text>
<text x="1197" y="267" font-size="3.2" fill="#151515">H2-3Gal(3,6)</text>
<text x="1199" y="272" font-size="3.2" fill="#151515">H4-5Gal(3)</text>
<text x="1199" y="278" font-size="3.2" fill="#151515">H3-4Gal(6)</text>
<text x="1200" y="288" font-size="3.2" fill="#151515">H2-3Gal</text>
<text x="1194" y="294" font-size="3.2" fill="#151515">H2-4Gal(3,6)</text>
<text x="1192" y="300" font-size="3.2" fill="#151515">H4-5Gal(6)</text>
<text x="1185" y="304.5" font-size="3.2" fill="#151515">H2-3Gal(4)</text>
<path d="M1114 227L1140 247M1106 231L1137 249M1108 236L1133 252M1119 243L1120 252M1130 267L1160 255M1116 280L1165 260M1102 288L1170 262M1123 265L1171 258M1145 225L1167 262M1160 233L1175 265M1172 238L1168 264M1187 227L1180 262M1195 240L1183 264M1203 248L1188 262M1190 258L1180 270M1196 276L1186 262M1198 285L1181 262M1192 300L1177 264M1185 303L1172 265M1160 292L1166 270M1146 288L1161 268M1140 290L1157 266" stroke="#222" stroke-width="0.4"/>
<text x="81.3" y="368.9" font-size="34" fill="#231815">A</text>
<text x="81.2" y="464.9" font-size="34" fill="#231815">B</text>
<text y="360.8" font-size="20.5" fill="#231815"><tspan x="143.15" y="361.4" font-family="WenQuanYi Zen Hei" font-size="20.7">→</tspan><tspan x="163.8 172.64 178.96 185.28 195.81 202.71 217.22 223.91 234.56 240.93 249.87 255.18 260.5 267.1" y="360.8">1)-β-D-Fruf-(2</tspan><tspan x="277.61" y="361.4" font-family="WenQuanYi Zen Hei" font-size="17">→</tspan><tspan x="292.9 301.24 306.76 312.28 322.63 329.41 342.41 348.41 359.43 366.03 374.47 379.38 384.3 391.2" y="360.8">1)-β-D-Fruf-(2</tspan><tspan x="401.23" y="361.4" font-family="WenQuanYi Zen Hei" font-size="22.5">→</tspan><tspan x="421.52 432.44 438.13 443.82 455 462.11 475.35 481.46 497.59 501.62 509.67" y="360.8">6)-α-D-Glcp</tspan></text>
<text x="152.9" y="362" font-size="19" fill="#231815">[</text>
<text x="276.6" y="362" font-size="19" fill="#231815">]</text>
<text x="285.1" y="367.9" font-size="11.5" fill="#231815">n</text>
<text x="364.9" y="380" font-size="19" text-anchor="middle" fill="#231815">6</text>
<text x="365.1" y="399.2" font-size="19.6" font-family="WenQuanYi Zen Hei" fill="#231815" text-anchor="middle">↑</text>
<text x="365.6" y="416.1" font-size="18.5" text-anchor="middle" fill="#231815">2</text>
<text y="434.2" font-size="19.5" fill="#231815"><tspan x="316.54 325.9 332.03 345.32 351.44 361.68 367.8 377 381.6" y="434.2">β-D-Fru f</tspan></text>
<text y="455.8" font-size="21" fill="#231815"><tspan x="103.98" y="455.5" font-family="WenQuanYi Zen Hei" font-size="23.2">→</tspan><tspan x="124.7 134.62 141.73 148.85 160.12 167.5 182.79 189.84 203.26 211.28" y="455.8">6)-β-D-Gal</tspan><tspan x="218.03" y="455.8" font-style="italic">p</tspan><tspan x="229.1 236.48 244.25" y="455.8">-(1</tspan><tspan x="254.28" y="455.5" font-family="WenQuanYi Zen Hei" font-size="23.1">→</tspan><tspan x="275.4 285.75 292.65 299.55 310.52 317.7 333.53 340.84 355.94 365.22" y="455.8">6)-β-D-Gal</tspan><tspan x="371.03" y="455.8" font-style="italic">p</tspan><tspan x="381.44 388.38 395.65" y="455.8">-(1</tspan><tspan x="409.19" y="455.5" font-family="WenQuanYi Zen Hei" font-size="18.7">→</tspan><tspan x="426.48 437.17 444.28 451.4 462.46 469.5 481.66 488.29 501.19 507.14" y="455.8">5)-α-L-Ara</tspan><tspan x="515.06" y="455.8" font-style="italic">f</tspan><tspan x="520.98 528.08 535.85" y="455.8">-(1</tspan><tspan x="544.32" y="455.5" font-family="WenQuanYi Zen Hei" font-size="22.6">→</tspan><tspan x="565.7 576.22 582.78 589.35 600.32 607.5 622.79 629.84 644.99 654.3" y="455.8">3)-β-D-Gal</tspan><tspan x="660.13" y="455.8" font-style="italic">p</tspan><tspan x="672.18 680.2 690.73 697.74 712.8 732.58 741.93 748.95 759.92 767.1 782.46 789.54 805.04 814.57" y="455.8">-6-OMe-β-D-Gal</tspan><tspan x="820.53" y="455.8" font-style="italic">p</tspan><tspan x="831.24 838.38 845.65" y="455.8">-(1</tspan><tspan x="855.58" y="455.5" font-family="WenQuanYi Zen Hei" font-size="23.2">→</tspan><tspan x="877.29 888.82 895.56 902.3 913.67 920.9 936.19 943.24 958.94 968.59" y="455.8">4)-α-D-Gal</tspan><tspan x="974.63" y="455.8" font-style="italic">p</tspan><tspan x="984.92 991.78 999.65" y="455.8">-(1</tspan><tspan x="1009.29" y="455.5" font-family="WenQuanYi Zen Hei" font-size="23">→</tspan></text>
<text x="113.6" y="454.5" font-size="19.5" fill="#231815">[</text>
<text x="253.2" y="454.5" font-size="19.5" fill="#231815">]</text>
<text x="265.6" y="454.5" font-size="19.5" fill="#231815">[</text>
<text x="406.3" y="454.5" font-size="19.5" fill="#231815">]</text>
<text x="263.3" y="464.4" font-size="8.6" text-anchor="middle" fill="#231815" font-weight="bold">2</text>
<text x="415.5" y="464.4" font-size="8.6" text-anchor="middle" fill="#231815" font-weight="bold">2</text>
<text x="207.2" y="473.8" font-size="19.5" text-anchor="middle" fill="#231815">3</text>
<text x="208" y="492.4" font-size="19.8" font-family="WenQuanYi Zen Hei" fill="#231815" text-anchor="middle">↑</text>
<text x="207.2" y="508.9" font-size="18.5" text-anchor="middle" fill="#231815">1</text>
<text x="362.5" y="473.8" font-size="19.5" text-anchor="middle" fill="#231815">3</text>
<text x="363.3" y="492.4" font-size="19.8" font-family="WenQuanYi Zen Hei" fill="#231815" text-anchor="middle">↑</text>
<text x="362.5" y="508.9" font-size="18.5" text-anchor="middle" fill="#231815">1</text>
<text y="526.8" font-size="18.5" fill="#231815"><tspan x="158.7 168.39 174.55 185.85 192.01 205.37 211.53" y="526.8">α-L-Ara</tspan><tspan x="219.74" y="526.8" font-style="italic">f</tspan></text>
<text y="527" font-size="17.5" fill="#231815"><tspan x="314.67 323.58 329.4 342.04 347.87 360.51 368.27" y="527">β-D-Gal</tspan><tspan x="373.14" y="527" font-style="italic">p</tspan></text>
<rect x="36.1" y="605.9" width="128.3" height="84.5" fill="#fff" stroke="#c4c4c4" stroke-width="0.7"/>
<text x="37.1" y="693.8" font-size="2.6" text-anchor="middle" fill="#777">10</text>
<text x="79.2" y="693.8" font-size="2.6" text-anchor="middle" fill="#777">15</text>
<text x="121.3" y="693.8" font-size="2.6" text-anchor="middle" fill="#777">20</text>
<text x="163.4" y="693.8" font-size="2.6" text-anchor="middle" fill="#777">25</text>
<text x="32.6" y="648.15" font-size="2.4" text-anchor="middle" fill="#666" transform="rotate(-90 32.6 648.15)">Normalized</text>
<rect x="35.6" y="696.5" width="128.4" height="82.8" fill="#fff" stroke="#c4c4c4" stroke-width="0.7"/>
<text x="36.6" y="782.7" font-size="2.6" text-anchor="middle" fill="#777">10</text>
<text x="78.73" y="782.7" font-size="2.6" text-anchor="middle" fill="#777">15</text>
<text x="120.87" y="782.7" font-size="2.6" text-anchor="middle" fill="#777">20</text>
<text x="163" y="782.7" font-size="2.6" text-anchor="middle" fill="#777">25</text>
<text x="32.1" y="737.9" font-size="2.4" text-anchor="middle" fill="#666" transform="rotate(-90 32.1 737.9)">Normalized</text>
<text x="100" y="696.8" font-size="2.4" text-anchor="middle" fill="#777">Time (min)</text>
<text x="100" y="786.2" font-size="2.4" text-anchor="middle" fill="#777">Time (min)</text>
<clipPath id="mw1"><rect x="36.5" y="606.3" width="127.5" height="83.7"/></clipPath><clipPath id="mw2"><rect x="36" y="697" width="127.6" height="82"/></clipPath>
<g clip-path="url(#mw1)">
<path d="M37 681.36 L37.29 679.7 L37.64 680.25 L38.06 680 L38.52 681.21 L39.02 680.91 L39.56 681.32 L40.12 679.08 L40.7 679.81 L41.29 678.65 L41.87 679.02 L42.44 679.66 L42.99 678.34 L43.51 678.74 L44 679.89 L44.54 679.63 L45.07 678.83 L45.59 679.86 L46.11 680.53 L46.62 678.55 L47.12 680.76 L47.62 680.63 L48.11 679.86 L48.59 679.55 L49.07 681.82 L49.54 680.39 L50 679.94 L50.54 680.19 L51.06 682.39 L51.57 682.03 L52.07 682.84 L52.56 682.94 L53.05 682.75 L53.53 684.21 L54.02 683 L54.5 683.79 L55 684.86 L55.52 684.69 L56.06 685.77 L56.61 685.52 L57.17 686.35 L57.72 685.13 L58.25 686.08 L58.76 686.66 L59.22 686.48 L59.64 687.14 L60 686.96 L60.81 687.13 L61.24 687.09 L61.5 685.65 L62 659.66 L62.6 605.24 L64 605.39 L64.26 610.38 L64.61 614.21 L65.03 619.46 L65.5 623.9 L66 630.6 L66.37 632.71 L66.76 636.99 L67.16 642.34 L67.59 645.16 L68.04 648.56 L68.51 652.32 L69 655.89 L69.36 657.76 L69.74 658.29 L70.13 659.63 L70.53 662.14 L70.94 663.71 L71.35 665.19 L71.77 668.67 L72.18 670.03 L72.6 670.06 L73 672.4 L73.4 673.18 L73.82 675.96 L74.23 676.18 L74.65 677.03 L75.06 678.28 L75.47 680.32 L75.87 680.68 L76.26 682.54 L76.64 684.26 L77 683.74 L77.47 684.12 L77.9 686.74 L78.3 685.84 L78.7 684.95 L79.1 684.91 L79.53 685.05 L80 686.33 L80.36 686.66 L80.75 685.52 L81.16 684.33 L81.58 684.85 L82 686.1 L82.42 684.52 L82.84 685.28 L83.25 684.62 L83.64 682.05 L84 683.57 L84.49 683.18 L84.96 682.68 L85.41 681.9 L85.84 682.7 L86.24 680.94 L86.63 681.05 L87 679.88 L87.47 678.58 L87.88 674.98 L88.26 669.48 L88.63 666 L89 661.16 L89.47 657.21 L89.92 650.43 L90.36 643.42 L90.8 641.86 L91.21 643.72 L91.61 647.57 L92.02 655.32 L92.5 660.1 L92.84 663.67 L93.18 666.04 L93.54 667.61 L93.95 671.19 L94.43 672.81 L95 677.12 L95.32 677.74 L95.65 678.25 L96 677.39 L96.37 677.15 L96.75 679.6 L97.16 680.04 L97.58 678.01 L98.02 679.22 L98.48 678.3 L98.96 680.27 L99.47 680.47 L100 679.03 L100.33 680.08 L100.67 680.42 L101.02 679.82 L101.38 681.54 L101.74 680.5 L102.12 680.08 L102.5 681.05 L102.89 681.66 L103.28 680.4 L103.69 680.79 L104.1 682.67 L104.51 681.87 L104.93 681.4 L105.36 681.69 L105.79 680.74 L106.22 681.08 L106.66 681.43 L107.11 682.14 L107.55 681.26 L108 681.27 L108.36 680.91 L108.74 682.39 L109.12 681.36 L109.51 683.14 L109.9 683.03 L110.31 680.98 L110.71 681.42 L111.12 682.53 L111.54 681.34 L111.95 681.12 L112.37 683.19 L112.79 682.23 L113.21 681.95 L113.63 682.73 L114.05 682.76 L114.46 681.13 L114.88 680.85 L115.29 681.68 L115.69 681.61 L116.1 681.68 L116.49 682.32 L116.88 682.12 L117.26 682.87 L117.64 680.51 L118 681.25 L118.45 681 L118.89 682.27 L119.33 680.58 L119.76 680.32 L120.19 680.88 L120.61 680.69 L121.03 680.2 L121.44 679.99 L121.85 681.61 L122.25 680.23 L122.65 681.18 L123.04 680.23 L123.43 678.79 L123.81 681.11 L124.19 680.55 L124.56 680.75 L124.93 680.5 L125.29 680.17 L125.65 678.26 L126 678.96 L126.46 678.08 L126.9 678.37 L127.33 677.27 L127.74 677.89 L128.15 679.24 L128.54 677.15 L128.93 678.28 L129.32 677.22 L129.7 676.94 L130.07 678.15 L130.45 678.1 L130.83 676.82 L131.22 677.15 L131.6 675.62 L132 675.97 L132.4 677.74 L132.78 676.78 L133.17 676.77 L133.55 677.41 L133.93 675.76 L134.3 677.29 L134.68 677.26 L135.07 678.36 L135.46 676.76 L135.85 679.07 L136.26 677 L136.67 677.51 L137.1 678.8 L137.54 679.23 L138 678.31 L138.35 678.18 L138.71 680.37 L139.07 678.9 L139.44 680.01 L139.81 680.3 L140.19 680.01 L140.57 680.67 L140.96 680.74 L141.35 682.05 L141.75 680.39 L142.15 681.95 L142.56 680.94 L142.97 681.57 L143.39 682.49 L143.81 681.73 L144.24 681.95 L144.67 683.26 L145.11 681.64 L145.55 682.78 L146 684.3 L146.37 684.37 L146.74 682.03 L147.12 682.45 L147.51 682.64 L147.91 684.41 L148.32 684.31 L148.73 684.33 L149.14 683.03 L149.56 682.49 L149.98 684.25 L150.4 683.91 L150.82 683.67 L151.24 684.64 L151.66 683.76 L152.08 682.06 L152.5 684.14 L152.92 682.77 L153.32 683.68 L153.73 684.37 L154.13 682.24 L154.52 682.16 L154.9 682.1 L155.28 683.22 L155.64 682.45 L156 683.27 L156.49 683.5 L156.98 682.08 L157.48 683.11 L157.98 682.04 L158.47 682.5 L158.96 683.46 L159.44 683.17 L159.92 681.08 L160.38 681.8 L160.82 681.28 L161.24 680.43 L161.65 682.3 L162.03 681.82 L162.39 680.73 L162.71 681.87 L163.01 681.28 L163.27 680.88 L163.5 679.73" stroke="#f07272" stroke-width="0.6" fill="none" stroke-dasharray="1.6 0.8"/>
<path d="M37 685.07 L37.26 685.32 L37.53 685.32 L37.82 685.22 L38.12 685.3 L38.43 685.23 L38.76 685.1 L39.1 685.1 L39.46 685.16 L39.82 685.34 L40.2 685.31 L40.6 685.34 L41 685.35 L41.41 685.15 L41.84 685.17 L42.28 685.13 L42.72 685.34 L43.18 685.38 L43.65 685.24 L44.13 685.31 L44.61 685.18 L45.11 685.42 L45.61 685.41 L46.12 685.45 L46.64 685.41 L47.17 685.44 L47.71 685.19 L48.25 685.41 L48.8 685.3 L49.35 685.49 L49.92 685.46 L50.49 685.49 L51.06 685.48 L51.64 685.33 L52.22 685.49 L52.81 685.3 L53.4 685.53 L54 685.54 L54.6 685.36 L55.21 685.54 L55.81 685.44 L56.42 685.41 L57.04 685.56 L57.65 685.4 L58.27 685.35 L58.89 685.4 L59.51 685.45 L60.13 685.62 L60.75 685.66 L61.38 685.46 L62 685.57 L62.62 685.51 L63.24 685.69 L63.86 685.56 L64.48 685.69 L65.1 685.44 L65.72 685.7 L66.33 685.47 L66.94 685.71 L67.55 685.5 L68.16 685.46 L68.76 685.56 L69.36 685.65 L69.96 685.53 L70.55 685.62 L71.14 685.59 L71.72 685.55 L72.3 685.61 L72.87 685.51 L73.44 685.64 L74 685.43 L74.55 685.7 L75.1 685.58 L75.64 685.63 L76.17 685.64 L76.7 685.61 L77.22 685.51 L77.72 685.41 L78.23 685.59 L78.72 685.48 L79.2 685.46 L79.68 685.61 L80.14 685.56 L80.59 685.43 L81.04 685.42 L81.47 685.43 L81.89 685.42 L82.3 685.37 L82.7 685.3 L83.09 685.37 L83.47 685.51 L83.83 685.41 L84.18 685.46 L84.52 685.35 L84.84 685.24 L85.15 685.29 L85.45 685.1 L85.73 685.16 L86 685.18 L89.82 684.87 L89.97 684.52 L88.64 683.16 L88 679.98 L88.56 672.27 L89.06 661.95 L89.5 650.12 L90.03 626.21 L90.5 605.9 L91 600.38 L91.5 606 L91.97 626.29 L92.5 649.95 L92.91 661.35 L93.37 670.82 L94 678.05 L94.4 680.48 L94.85 682.3 L95.34 683.51 L95.87 684.48 L96.42 685.27 L97 686.1 L97.45 686.39 L97.91 686.88 L98.38 687.21 L98.88 687.25 L99.38 687.5 L99.91 687.49 L100.45 687.42 L101 687.55 L101.45 687.32 L101.92 687.46 L102.39 687.33 L102.88 686.96 L103.38 686.87 L103.88 686.6 L104.4 686.63 L104.92 686.31 L105.45 686 L106 685.92 L106.32 686.01 L106.42 685.8 L106.36 685.82 L106.24 685.7 L106.13 685.72 L106.09 685.53 L106.22 685.58 L106.59 685.5 L107.28 685.36 L108.36 685.34 L109.9 685.24 L112 685.3 L112.29 685.21 L112.58 685.31 L112.9 685.26 L113.22 685.18 L113.56 685.11 L113.91 685.1 L114.27 685.22 L114.64 685.25 L115.02 685.18 L115.42 685.21 L115.82 685.1 L116.24 685.04 L116.67 685.1 L117.1 685.09 L117.55 685.1 L118 685.17 L118.47 685.05 L118.94 685.07 L119.42 685.21 L119.91 685.21 L120.41 685.02 L120.92 685.12 L121.43 685.16 L121.95 685.12 L122.48 685.06 L123.02 685.12 L123.56 685.26 L124.11 685.17 L124.66 685.2 L125.22 685.25 L125.78 685.22 L126.35 685.11 L126.93 684.99 L127.51 685.1 L128.09 685.22 L128.68 685.25 L129.27 685.28 L129.87 685.12 L130.47 685.22 L131.07 685.16 L131.67 685.17 L132.28 685.06 L132.89 685.06 L133.5 685.12 L134.12 685 L134.73 685.1 L135.35 685.2 L135.96 685.12 L136.58 685.05 L137.2 685.14 L137.82 685.04 L138.43 685.19 L139.05 685.01 L139.67 685.12 L140.28 685.17 L140.9 685.01 L141.51 685.2 L142.12 685.05 L142.73 685.15 L143.34 685.02 L143.94 685.12 L144.54 685.08 L145.14 685.11 L145.74 685.24 L146.33 685.13 L146.92 685.24 L147.5 685.27 L148.08 685.1 L148.65 685.05 L149.22 685.03 L149.79 685.19 L150.35 685.32 L150.9 685.13 L151.45 685.22 L151.99 685.26 L152.52 685.23 L153.05 685.26 L153.57 685.32 L154.08 685.09 L154.59 685.04 L155.09 685.08 L155.57 685.07 L156.06 685.24 L156.53 685.21 L156.99 685.11 L157.45 685.25 L157.89 685.27 L158.33 685.09 L158.75 685.23 L159.16 685.27 L159.57 685.08 L159.96 685.29 L160.34 685.34 L160.72 685.08 L161.07 685.06 L161.42 685.14 L161.76 685.25 L162.08 685.34 L162.39 685.17 L162.69 685.26 L162.97 685.07 L163.24 685.26 L163.5 685.24" stroke="#7a8ce0" stroke-width="0.8" fill="none"/>
</g>
<g clip-path="url(#mw2)">
<path d="M36.5 775 L36.77 775.34 L37.06 775.38 L37.39 775.25 L37.75 775.02 L38.13 775.45 L38.54 775.35 L38.98 775.14 L39.44 775.18 L39.91 775.16 L40.41 775.23 L40.93 775.15 L41.46 775.41 L42.01 775.4 L42.57 775.05 L43.14 775.48 L43.73 775.32 L44.32 775.42 L44.92 775.36 L45.53 775.23 L46.14 775.39 L46.75 775.51 L47.37 775.16 L47.99 775.43 L48.6 775.3 L49.21 775.28 L49.82 775.25 L50.42 775.4 L51.02 775.17 L51.6 775.46 L52.18 775.45 L52.74 775.08 L53.29 775.48 L53.82 775.15 L54.34 775.26 L54.84 775.33 L55.32 775.21 L55.78 775.03 L56.21 775.43 L56.62 775.09 L57.01 775.09 L57.37 775.37 L57.7 775.13 L58 775.39 L59.58 775.2 L60.41 774.86 L60.72 774.57 L60.76 774.84 L60.77 774.14 L61 774.11 L61.56 773.25 L62.03 772.43 L62.49 771.42 L63 770.57 L63.47 770 L63.96 769.75 L64.48 769.05 L64.99 768.76 L65.5 768.6 L66 768.04 L66.5 767.88 L67 767.47 L67.5 766.99 L68 766.16 L68.5 765.24 L69 763.72 L69.5 762.42 L70 760.58 L70.5 758.88 L71 757.05 L71.5 755.24 L72 753.23 L72.5 751.32 L73 749.13 L73.51 746.39 L74.02 743.83 L74.54 741.22 L75.03 738.36 L75.5 735.24 L76.06 730.39 L76.59 725.14 L77.08 719.8 L77.5 714.85 L78.08 704.61 L78.6 696.84 L79.11 694.76 L79.67 695.02 L80.2 696.89 L80.86 704.05 L81.5 715.03 L81.97 726.06 L82.46 738.63 L83 750.18 L83.44 756.4 L83.91 762.06 L84.42 766.44 L85 769.98 L85.22 771.73 L85.22 772.79 L85.25 773.51 L85.56 774.46 L86.39 774.6 L88 775.16 L88.29 775.01 L88.6 774.9 L88.92 775.23 L89.26 774.98 L89.61 775.07 L89.97 775.32 L90.35 775.22 L90.74 775.6 L91.14 775.18 L91.55 775.53 L91.98 775.47 L92.41 775.58 L92.86 775.31 L93.32 775.48 L93.79 775.45 L94.26 775.45 L94.75 775.67 L95.25 775.73 L95.75 775.39 L96.26 775.55 L96.78 775.54 L97.31 775.6 L97.85 775.7 L98.39 775.32 L98.94 775.32 L99.49 775.53 L100.05 775.27 L100.61 775.27 L101.18 775.21 L101.75 775.16 L102.33 775.38 L102.91 775.44 L103.49 775.27 L104.08 775.23 L104.67 775.46 L105.26 775.45 L105.85 775.31 L106.44 775.42 L107.03 775.53 L107.63 775.46 L108.22 775.37 L108.82 775.38 L109.41 775.52 L110 775.26 L110.44 775.32 L110.88 775.37 L111.33 775.5 L111.78 775.46 L112.24 775.08 L112.71 775.13 L113.17 775.2 L113.65 775.42 L114.13 775.32 L114.61 775.18 L115.1 775.1 L115.59 775.38 L116.09 775.38 L116.59 775.5 L117.09 775.27 L117.6 775.27 L118.1 775.05 L118.62 775.03 L119.13 775.22 L119.65 775.16 L120.17 775.12 L120.69 775.04 L121.21 775.47 L121.74 775.4 L122.26 775.27 L122.79 775.45 L123.32 775.47 L123.85 775.3 L124.38 775.09 L124.91 774.97 L125.44 775.32 L125.97 775.17 L126.5 775.26 L127.03 775.38 L127.56 775.01 L128.08 775.21 L128.61 775.22 L129.14 775.15 L129.66 774.94 L130.19 775.06 L130.71 775.05 L131.23 775.21 L131.74 775.3 L132.26 775.02 L132.77 775.2 L133.28 774.99 L133.78 775.31 L134.29 775.24 L134.79 775.1 L135.28 775.05 L135.78 774.97 L136.26 774.97 L136.75 775.28 L137.23 774.99 L137.7 775.04 L138.17 775.27 L138.64 775.1 L139.1 775.03 L139.55 774.96 L140 774.84 L140.57 774.92 L141.15 775.11 L141.73 775.04 L142.31 775.09 L142.89 774.8 L143.48 774.97 L144.07 775.15 L144.66 774.89 L145.26 775.01 L145.85 774.71 L146.44 775.12 L147.03 774.93 L147.62 774.73 L148.21 774.68 L148.8 774.86 L149.38 774.85 L149.96 774.61 L150.54 775.05 L151.11 774.99 L151.68 774.76 L152.24 774.57 L152.8 774.92 L153.35 774.74 L153.9 774.83 L154.43 774.72 L154.97 774.59 L155.49 774.86 L156 774.92 L156.51 774.54 L157 774.68 L157.49 774.58 L157.96 774.84 L158.43 774.62 L158.88 774.8 L159.32 774.78 L159.75 774.48 L160.17 774.72 L160.57 774.52 L160.96 774.78 L161.33 774.55 L161.69 774.7 L162.03 774.42 L162.36 774.42 L162.67 774.56 L162.96 774.76 L163.24 774.5 L163.5 774.32" stroke="#f06868" stroke-width="0.8" fill="none"/>
<path d="M36.5 775.22 L36.76 775.14 L37.04 775.22 L37.34 775.22 L37.66 775.19 L37.99 775.13 L38.35 775.08 L38.72 775.29 L39.11 775.24 L39.51 775.11 L39.93 775.33 L40.37 775.04 L40.81 775.32 L41.28 775.31 L41.75 775.36 L42.24 775.19 L42.74 775.31 L43.25 775.38 L43.77 775.45 L44.3 775.26 L44.85 775.08 L45.4 775.27 L45.96 775.31 L46.52 775.43 L47.1 775.43 L47.68 775.26 L48.27 775.3 L48.86 775.28 L49.46 775.39 L50.07 775.27 L50.67 775.38 L51.29 775.18 L51.9 775.31 L52.52 775.51 L53.13 775.27 L53.75 775.41 L54.37 775.4 L54.99 775.48 L55.61 775.49 L56.23 775.49 L56.85 775.3 L57.46 775.28 L58.07 775.44 L58.68 775.46 L59.28 775.51 L59.88 775.18 L60.48 775.19 L61.06 775.42 L61.65 775.53 L62.22 775.56 L62.79 775.46 L63.35 775.33 L63.9 775.2 L64.44 775.41 L64.98 775.5 L65.5 775.33 L66.01 775.42 L66.51 775.5 L67 775.15 L67.48 775.45 L67.94 775.24 L68.39 775.26 L68.82 775.16 L69.24 775.31 L69.65 775.31 L70.03 775.39 L70.41 775.13 L70.76 775.09 L71.1 775.39 L71.42 775.28 L71.72 775.11 L72 775.37 L74.39 774.89 L75.44 774.83 L75.59 774.5 L75.28 774.15 L74.93 773.53 L75 773.12 L75.58 771.97 L76.09 770.5 L76.56 768.19 L77 764.98 L77.56 758.05 L78.06 749.37 L78.5 740.06 L79.02 724.22 L79.5 709.9 L80.08 701.64 L80.7 696.88 L81.33 695.83 L82 698.99 L82.47 704.15 L82.96 711.66 L83.5 720.03 L83.95 727.3 L84.44 734.98 L84.95 743.18 L85.5 750.06 L85.97 754.8 L86.46 759.49 L86.98 763.67 L87.49 767.25 L88 769.82 L88.5 772.03 L89 773.2 L89.5 774.04 L90 774.15 L90.5 774.62 L91.01 774.66 L91.52 774.37 L92.04 774.09 L92.53 773.57 L93 773.07 L93.52 772.17 L94 770.94 L94.48 769.99 L95 769.55 L95.47 770.07 L95.96 770.85 L96.48 771.85 L96.99 773.04 L97.5 774.03 L97.99 774.81 L98.48 775.2 L98.96 775.88 L99.47 776.6 L100 776.87 L100.47 777.28 L100.96 777.88 L101.47 778.45 L101.98 778.6 L102.49 778.95 L103 778.93 L103.49 778.46 L103.96 778.2 L104.44 777.46 L104.93 776.96 L105.44 776.41 L106 775.94 L106.38 775.79 L106.67 776.18 L106.94 775.98 L107.25 776.49 L107.65 776.64 L108.2 776.75 L108.97 776.97 L110 776.99 L110.32 776.91 L110.63 776.72 L110.95 776.87 L111.27 776.53 L111.59 776.71 L111.92 776.64 L112.26 776.69 L112.6 776.65 L112.95 776.57 L113.31 776.62 L113.69 776.62 L114.08 776.24 L114.48 776.23 L114.91 776.1 L115.34 776.38 L115.8 776.2 L116.28 776.29 L116.78 775.95 L117.3 775.83 L117.85 776.08 L118.43 776.06 L119.03 775.76 L119.66 775.76 L120.32 775.6 L121.01 775.87 L121.74 775.57 L122.5 775.6 L123.29 775.41 L124.13 775.69 L125 775.35 L125.35 775.47 L125.72 775.55 L126.11 775.56 L126.5 775.63 L126.91 775.41 L127.33 775.53 L127.76 775.28 L128.21 775.38 L128.66 775.24 L129.13 775.39 L129.6 775.35 L130.09 775.55 L130.59 775.18 L131.09 775.3 L131.6 775.32 L132.13 775.52 L132.66 775.47 L133.19 775.16 L133.74 775.38 L134.29 775.32 L134.85 775.48 L135.41 775.23 L135.98 775.24 L136.55 775.14 L137.13 775.11 L137.71 775.39 L138.3 775.23 L138.89 775.3 L139.48 775.29 L140.08 775.26 L140.68 775.03 L141.28 775.32 L141.88 775.1 L142.48 775.05 L143.08 775.22 L143.68 775.01 L144.29 775.28 L144.89 775.05 L145.49 775.05 L146.09 775.31 L146.68 775.09 L147.28 775.01 L147.87 775.3 L148.46 774.94 L149.05 775.28 L149.63 774.98 L150.21 774.97 L150.78 775.02 L151.35 774.98 L151.91 775.17 L152.46 774.91 L153.01 774.9 L153.56 775.21 L154.09 774.98 L154.62 775.01 L155.14 774.95 L155.65 774.9 L156.16 775.17 L156.65 775.08 L157.13 775.16 L157.61 775.05 L158.07 775.16 L158.53 775.05 L158.97 774.89 L159.4 775.04 L159.81 775.22 L160.22 774.85 L160.61 775.14 L160.99 775.17 L161.36 775.03 L161.71 775 L162.05 775.2 L162.37 774.84 L162.68 775 L162.97 774.97 L163.24 775.08 L163.5 775" stroke="#7a8ce0" stroke-width="0.8" fill="none"/>
</g>
<clipPath id="sem1"><rect x="183.6" y="604.8" width="124.8" height="86.2"/></clipPath>
<filter id="soft" x="-5%" y="-5%" width="110%" height="110%"><feGaussianBlur stdDeviation="0.45"/></filter>
<g clip-path="url(#sem1)"><g filter="url(#soft)"><rect x="181.6" y="602.8" width="128.8" height="90.2" fill="#5e5e5e"/><polygon points="257.73,681.04 249.35,676.56 251.15,668.46 262.37,664.74 270.75,667.53 277.52,674.12 265.51,678.22" fill="rgb(116,116,116)" stroke="#c4c4c4" stroke-width="0.54" stroke-opacity="0.9"/><polygon points="278.41,689.92 286.97,686.56 295.16,687.96 291.79,695.69 278.09,696.08" fill="rgb(115,115,115)" stroke="#c4c4c4" stroke-width="0.78" stroke-opacity="0.9"/><polygon points="284.96,690.68 281.88,694.18 273.88,695.7 270.94,689.54 273.04,684.65 278.31,684.74 285.79,685.93" fill="rgb(120,120,120)" stroke="#c4c4c4" stroke-width="0.89" stroke-opacity="0.9"/><polygon points="184.64,640.95 188.96,642.74 186.01,647.1 180.12,649.03 175.53,648.23 175.41,643.58 179.65,640.57" fill="rgb(118,118,118)" stroke="#c4c4c4" stroke-width="0.74" stroke-opacity="0.9"/><polygon points="305.33,667.96 297.12,662.12 302.75,657.17 307.03,654.42 315.81,662.99 313.87,665.74" fill="rgb(133,133,133)" stroke="#c4c4c4" stroke-width="0.51" stroke-opacity="0.9"/><polygon points="301.25,614.86 292.39,615.12 292.89,608.1 295.13,602.52 305.45,602.65 312.35,609.61 307.95,611.68" fill="rgb(126,126,126)" stroke="#c4c4c4" stroke-width="0.71" stroke-opacity="0.9"/><polygon points="238.22,617.21 251.66,618.91 248.81,623.93 242.72,630.56 234.86,628.85 232.54,621.58" fill="rgb(135,135,135)" stroke="#c4c4c4" stroke-width="0.74" stroke-opacity="0.9"/><polygon points="243.24,648.62 252.84,648.3 260.3,653.32 263.91,657.36 258.49,662.52 245.34,660.45 240.17,656.81" fill="rgb(127,127,127)" stroke="#c4c4c4" stroke-width="0.56" stroke-opacity="0.9"/><polygon points="189.06,617.07 189.52,622.28 184.47,627.45 174.05,624.27 166.57,619.34 176.65,613.38" fill="rgb(112,112,112)" stroke="#c4c4c4" stroke-width="0.9" stroke-opacity="0.9"/><polygon points="223.98,692.27 213.77,693.53 205.06,691.41 208.01,686.14 212.02,684.31 220.42,685.21 224.69,686.9" fill="rgb(150,150,150)" stroke="#c4c4c4" stroke-width="0.65" stroke-opacity="0.9"/><polygon points="275.32,613.39 283.49,610.65 289.99,612.03 285.74,618.77 275.31,618.78" fill="rgb(116,116,116)" stroke="#c4c4c4" stroke-width="0.78" stroke-opacity="0.9"/><polygon points="280.16,605.51 292.62,608.62 294.6,613.7 283.59,617.9 275.64,611.31" fill="rgb(131,131,131)" stroke="#c4c4c4" stroke-width="0.68" stroke-opacity="0.9"/><polygon points="261.32,607.51 266.35,608.93 269.37,611.58 265.26,616.67 257.55,614.3 257.45,609.61" fill="rgb(132,132,132)" stroke="#c4c4c4" stroke-width="0.52" stroke-opacity="0.9"/><polygon points="164.69,686.91 165.4,678.89 182.62,678.13 188.53,686.72 177.1,691.8" fill="rgb(147,147,147)" stroke="#c4c4c4" stroke-width="0.78" stroke-opacity="0.9"/><polygon points="204.37,614.99 214.69,615.76 212.21,621.1 205.4,624.81 202.28,623.38 199.42,619.61" fill="rgb(120,120,120)" stroke="#c4c4c4" stroke-width="0.52" stroke-opacity="0.9"/><polygon points="307.09,689.78 300.3,681.44 306.93,678.49 316.6,677.49 324.01,683.09 314.06,691.3" fill="rgb(143,143,143)" stroke="#c4c4c4" stroke-width="0.6" stroke-opacity="0.9"/><polygon points="218.03,687.42 226.99,691.2 225.03,697.61 219.34,698.8 205.83,698.08 204.9,690.4" fill="rgb(128,128,128)" stroke="#c4c4c4" stroke-width="0.62" stroke-opacity="0.9"/><polygon points="259.16,663.53 256.34,669.74 249.12,671.47 243.82,667.4 244.72,664.34 246.66,659.71 256.22,660.51" fill="rgb(119,119,119)" stroke="#c4c4c4" stroke-width="0.77" stroke-opacity="0.9"/><polygon points="198.36,691.98 195.79,686.93 208.91,686.45 218.03,693.15 206.64,697.62" fill="rgb(114,114,114)" stroke="#c4c4c4" stroke-width="0.79" stroke-opacity="0.9"/><polygon points="263.41,692.46 267.65,688.36 278.61,689.48 282.21,696.92 270.84,699.85" fill="rgb(110,110,110)" stroke="#c4c4c4" stroke-width="0.88" stroke-opacity="0.9"/><polygon points="292.79,628.17 296.81,624.32 304.77,624.53 304.23,632.27 296.64,631.58" fill="rgb(109,109,109)" stroke="#c4c4c4" stroke-width="0.68" stroke-opacity="0.9"/><polygon points="218.07,612.65 227.66,607.4 233.6,611.08 233.12,618.3 229.45,620.48 220.18,620.51" fill="rgb(133,133,133)" stroke="#c4c4c4" stroke-width="0.63" stroke-opacity="0.9"/><polygon points="186.72,605.66 195.38,598.24 202.98,599.94 207.43,607.32 194.08,612.7" fill="rgb(114,114,114)" stroke="#c4c4c4" stroke-width="0.53" stroke-opacity="0.9"/><polygon points="217.51,652.99 225.38,657.38 225.07,659.67 216.64,664.53 214.03,660.82 213.45,655.46" fill="rgb(132,132,132)" stroke="#c4c4c4" stroke-width="0.72" stroke-opacity="0.9"/><polygon points="182.18,669.17 176.17,668.41 171.76,664.59 174.73,663.07 179.85,661.57 185.59,666.62" fill="rgb(147,147,147)" stroke="#c4c4c4" stroke-width="0.51" stroke-opacity="0.9"/><polygon points="220.24,632.88 213.72,628.65 220.58,625.13 225.74,624.48 231.83,627.56 231.18,633.97 227,634.19" fill="rgb(122,122,122)" stroke="#c4c4c4" stroke-width="0.68" stroke-opacity="0.9"/><polygon points="294.75,647.56 291.18,650.69 286.8,649.33 282.95,643.39 287.64,642.76 294.77,644.03" fill="rgb(130,130,130)" stroke="#c4c4c4" stroke-width="0.66" stroke-opacity="0.9"/><polygon points="223.12,641.31 228.66,647.71 222.94,651.67 213.42,647.69 217.91,642.86" fill="rgb(139,139,139)" stroke="#c4c4c4" stroke-width="0.66" stroke-opacity="0.9"/><polygon points="274.76,608.02 267.11,606.73 267.88,600.51 279.11,600.41 280.44,605.43" fill="rgb(142,142,142)" stroke="#c4c4c4" stroke-width="0.75" stroke-opacity="0.9"/><polygon points="319.62,601.47 314.3,605.96 306.21,603.73 304.52,598.08 314.25,595.04" fill="rgb(133,133,133)" stroke="#c4c4c4" stroke-width="0.68" stroke-opacity="0.9"/><polygon points="277.06,673.57 287.38,675.96 293.16,681.03 287.67,686.89 281.69,688.12 270.48,687.17 268.33,677.59" fill="rgb(127,127,127)" stroke="#c4c4c4" stroke-width="0.89" stroke-opacity="0.9"/><polygon points="176.14,670.77 188.7,673.4 184.83,680.97 175.12,681.06 173.78,675.42" fill="rgb(141,141,141)" stroke="#c4c4c4" stroke-width="0.54" stroke-opacity="0.9"/><polygon points="234.56,654.95 232.53,659.07 223.28,660.25 220.84,651.53 229.2,650.9" fill="rgb(114,114,114)" stroke="#c4c4c4" stroke-width="0.84" stroke-opacity="0.9"/><polygon points="186.65,601.96 188.25,608.59 176.51,608.7 171.22,604.94 170.66,601.67 176.34,596.1 185.51,597.17" fill="rgb(142,142,142)" stroke="#c4c4c4" stroke-width="0.79" stroke-opacity="0.9"/><polygon points="196.08,692.81 198.8,689.53 206.36,688.91 208.18,691.97 207.49,696.44 199.26,697.02" fill="rgb(128,128,128)" stroke="#c4c4c4" stroke-width="0.74" stroke-opacity="0.9"/><polygon points="201.12,682.29 194.23,675.95 196.36,670.12 204.84,665.83 216.86,669.57 216.47,676.05 206,678.5" fill="rgb(118,118,118)" stroke="#c4c4c4" stroke-width="0.54" stroke-opacity="0.9"/><polygon points="297.95,688.77 307.45,686.07 312.27,690.57 309.5,696.23 302.46,697.03 300.28,693.28" fill="rgb(112,112,112)" stroke="#c4c4c4" stroke-width="0.58" stroke-opacity="0.9"/><polygon points="215.48,634.64 218,630.85 226.9,628.48 232.37,630.78 231.59,637.78 222.06,640.63" fill="rgb(112,112,112)" stroke="#c4c4c4" stroke-width="0.7" stroke-opacity="0.9"/><polygon points="262.17,677.59 252.97,680.54 247.46,680.71 238.15,675.8 243.21,671.27 245.88,668.44 256.25,672.13" fill="rgb(135,135,135)" stroke="#c4c4c4" stroke-width="0.52" stroke-opacity="0.9"/><polygon points="189.8,678.99 179.82,673.28 184.1,668.2 197.24,662.61 202.61,667.95 201,675.08" fill="rgb(117,117,117)" stroke="#c4c4c4" stroke-width="0.64" stroke-opacity="0.9"/><polygon points="281.07,680.16 285.35,678.1 292.95,681.24 291.13,686 281.49,685.66" fill="rgb(138,138,138)" stroke="#c4c4c4" stroke-width="0.7" stroke-opacity="0.9"/><polygon points="183.66,686 190.02,692.08 185.59,696.23 178.99,695.49 175.91,688.63" fill="rgb(135,135,135)" stroke="#c4c4c4" stroke-width="0.87" stroke-opacity="0.9"/><polygon points="191.19,628.59 194.83,631.48 191.98,635.13 188.27,635.92 185.57,633.23 187.25,630.01" fill="rgb(148,148,148)" stroke="#c4c4c4" stroke-width="0.55" stroke-opacity="0.9"/><polygon points="267.83,692.12 260.16,695.02 248.95,689.44 256.82,682.88 268.55,683.64" fill="rgb(112,112,112)" stroke="#c4c4c4" stroke-width="0.87" stroke-opacity="0.9"/><polygon points="226.39,692.84 220.78,692.68 219.26,689.63 218.46,686.07 224.84,686.35 228.27,686.11 229.56,690.28" fill="rgb(138,138,138)" stroke="#c4c4c4" stroke-width="0.72" stroke-opacity="0.9"/><polygon points="252.35,636.89 240.54,634.52 240.51,627.43 252.76,623.27 262.78,626.18 263.67,633.55" fill="rgb(127,127,127)" stroke="#c4c4c4" stroke-width="0.52" stroke-opacity="0.9"/><polygon points="219.8,610.36 224.76,612.03 226.36,614.72 225.05,620.72 221.33,621.6 214.99,618.69 212.44,614.81" fill="rgb(145,145,145)" stroke="#c4c4c4" stroke-width="0.87" stroke-opacity="0.9"/><polygon points="198.82,614.71 190.39,620.34 179,614.01 182.37,607.97 191.14,608.7" fill="rgb(144,144,144)" stroke="#c4c4c4" stroke-width="0.58" stroke-opacity="0.9"/><polygon points="269.84,691.75 276.28,694.33 276.62,699.26 273.14,699.93 268.52,698.76 267.18,695.58" fill="rgb(123,123,123)" stroke="#c4c4c4" stroke-width="0.78" stroke-opacity="0.9"/><polygon points="190.28,604.55 191.33,601.8 199.47,595.21 203.4,598.07 210.85,605.61 202.98,609.18 196.65,609.61" fill="rgb(141,141,141)" stroke="#c4c4c4" stroke-width="0.74" stroke-opacity="0.9"/><polygon points="302.55,648.67 309.47,644.49 314.47,643.81 321.74,648.93 321.26,656.32 309.71,658.28 306.29,655.79" fill="rgb(127,127,127)" stroke="#c4c4c4" stroke-width="0.6" stroke-opacity="0.9"/><polygon points="238.55,617.6 240.08,623.52 234.54,628.77 227.86,626.53 227.06,620.99 233.59,616.28" fill="rgb(136,136,136)" stroke="#c4c4c4" stroke-width="0.75" stroke-opacity="0.9"/><polygon points="259.45,684.73 253.32,686.08 252.81,680.82 252.49,675.82 260.05,672.68 264.21,676.58 267.39,680.77" fill="rgb(124,124,124)" stroke="#c4c4c4" stroke-width="0.83" stroke-opacity="0.9"/><polygon points="244.32,647.81 233.51,645.37 232.67,638.59 238.3,632.7 243.44,635.44 247.92,642.62" fill="rgb(145,145,145)" stroke="#c4c4c4" stroke-width="0.57" stroke-opacity="0.9"/><polygon points="181.25,684.53 186.17,683.52 189.92,685.79 192.02,691.58 185.51,693.18 181.87,692.95 175.83,687.27" fill="rgb(140,140,140)" stroke="#c4c4c4" stroke-width="0.66" stroke-opacity="0.9"/><polygon points="185.79,652.87 177.41,650.63 172.29,644.53 183.05,641.45 188.05,641.86 190.68,648.13" fill="rgb(113,113,113)" stroke="#c4c4c4" stroke-width="0.76" stroke-opacity="0.9"/><polygon points="284,615.03 285.95,607.17 289.11,605.41 299.56,608.2 303.69,612.7 299.54,617.36 290.1,616.65" fill="rgb(111,111,111)" stroke="#c4c4c4" stroke-width="0.84" stroke-opacity="0.9"/><polygon points="268.54,692.76 270.99,689.26 277.79,686.7 284.54,686.88 284.69,692.83 284.45,697.03 274.66,696.44" fill="rgb(122,122,122)" stroke="#c4c4c4" stroke-width="0.55" stroke-opacity="0.9"/><polygon points="260.56,669.7 274.57,672.98 270.44,680.37 257.23,682.09 253.88,674.49" fill="rgb(143,143,143)" stroke="#c4c4c4" stroke-width="0.55" stroke-opacity="0.9"/><polygon points="185.9,638.07 196.76,635.39 199.33,640.54 193.09,645.9 186.51,645.03" fill="rgb(116,116,116)" stroke="#c4c4c4" stroke-width="0.62" stroke-opacity="0.9"/><polygon points="192.34,673.27 208.86,676.94 204.42,687.41 190.48,688.11 185.92,681.08" fill="rgb(140,140,140)" stroke="#c4c4c4" stroke-width="0.63" stroke-opacity="0.9"/><polygon points="218.73,636.46 226.74,638.25 227.02,648.38 222.16,649.66 212.78,647.39 205.64,644.31 214.65,637.87" fill="rgb(133,133,133)" stroke="#c4c4c4" stroke-width="0.76" stroke-opacity="0.9"/><polygon points="321.81,677.36 321.61,682.54 320.23,688.59 309.03,687.52 307.66,682.4 311.69,676.63" fill="rgb(136,136,136)" stroke="#c4c4c4" stroke-width="0.81" stroke-opacity="0.9"/><polygon points="309.79,646.71 308.2,645.78 306.75,641.86 308.74,639.5 315.03,640.06 315.65,642.87 315.44,647.27" fill="rgb(147,147,147)" stroke="#c4c4c4" stroke-width="0.69" stroke-opacity="0.9"/><polygon points="244.33,663.12 248.94,662.75 252.23,672.15 251.54,674.22 244.44,676.83 237.94,674.13 235.05,669.39" fill="rgb(127,127,127)" stroke="#c4c4c4" stroke-width="0.58" stroke-opacity="0.9"/><polygon points="242.38,621.92 248.74,624.83 247.34,631.08 240.2,632.08 236.62,629.17 236.03,622.55" fill="rgb(125,125,125)" stroke="#c4c4c4" stroke-width="0.81" stroke-opacity="0.9"/><polygon points="235.61,604.4 247.12,613.67 235.48,621 225.85,618.87 221.03,609.38" fill="rgb(110,110,110)" stroke="#c4c4c4" stroke-width="0.58" stroke-opacity="0.9"/><polygon points="235.42,704.28 224.98,705.41 219.44,697.66 217.92,690.59 231.35,686.33 238.6,690.71 243.28,699.04" fill="rgb(113,113,113)" stroke="#c4c4c4" stroke-width="0.7" stroke-opacity="0.9"/><polygon points="314.94,662.3 310.05,665.05 303.48,663.63 303.51,658.63 306.97,656.7 314.07,657.22" fill="rgb(122,122,122)" stroke="#c4c4c4" stroke-width="0.69" stroke-opacity="0.9"/><polygon points="254.35,635.02 243.23,640.04 234.47,635.68 240.62,626.04 256.54,626.97" fill="rgb(127,127,127)" stroke="#c4c4c4" stroke-width="0.75" stroke-opacity="0.9"/><polygon points="202.11,620.45 196.99,629.56 186.34,635.3 179.46,627.26 184.6,617.47" fill="rgb(144,144,144)" stroke="#c4c4c4" stroke-width="0.53" stroke-opacity="0.9"/><polygon points="292.79,680.44 293.1,683.32 288.67,688.36 280.77,689.53 273.54,684.05 278.29,681.52 282.61,676.52" fill="rgb(139,139,139)" stroke="#c4c4c4" stroke-width="0.63" stroke-opacity="0.9"/><polygon points="226.32,667.06 234.97,670.77 241.66,674.82 235.35,682.27 228.36,684.49 216.01,678.45 213.58,674.3" fill="rgb(135,135,135)" stroke="#c4c4c4" stroke-width="0.55" stroke-opacity="0.9"/><polygon points="288.73,662.67 291.34,670.37 283.74,672.9 277.1,666.99 277.36,661.65" fill="rgb(111,111,111)" stroke="#c4c4c4" stroke-width="0.53" stroke-opacity="0.9"/><polygon points="266.98,677.9 261.6,673.83 266.52,668.08 275.86,671.32 275.03,676.01" fill="rgb(137,137,137)" stroke="#c4c4c4" stroke-width="0.84" stroke-opacity="0.9"/><polygon points="233.56,668.8 229.95,672.65 220.43,670.01 222.29,665.13 229.14,662.55" fill="rgb(124,124,124)" stroke="#c4c4c4" stroke-width="0.55" stroke-opacity="0.9"/><polygon points="207.03,645.36 215.06,640.87 221.62,640.74 224.4,644.23 222.42,652.89 217.97,653.59 209.72,651.2" fill="rgb(133,133,133)" stroke="#c4c4c4" stroke-width="0.6" stroke-opacity="0.9"/><polygon points="276.35,662.21 287.71,661.3 293.45,665.96 285.49,672.3 279.98,672.31 273.21,666.71" fill="rgb(122,122,122)" stroke="#c4c4c4" stroke-width="0.9" stroke-opacity="0.9"/><polygon points="219.5,697.25 212.36,696.79 209.85,687.58 215.05,686.12 226.02,683.77 229.74,696.05" fill="rgb(130,130,130)" stroke="#c4c4c4" stroke-width="0.81" stroke-opacity="0.9"/><polygon points="266.89,650.24 275.75,652.18 272.57,661.13 265.4,660.84 258.66,659.75 259.48,650.31" fill="rgb(121,121,121)" stroke="#c4c4c4" stroke-width="0.65" stroke-opacity="0.9"/><polygon points="174.51,652.47 173.14,649.7 181.33,648.75 184.38,649.43 186.28,652.78 183.84,657.05 175.92,655.95" fill="rgb(125,125,125)" stroke="#c4c4c4" stroke-width="0.75" stroke-opacity="0.9"/><polygon points="218.35,668.15 211.32,668.68 206.2,667.07 203.89,662.94 211,660.03 216.78,661.77 217.75,666" fill="rgb(145,145,145)" stroke="#c4c4c4" stroke-width="0.75" stroke-opacity="0.9"/><polygon points="242.77,684.94 235.39,685.01 229.69,678.2 235.49,672.59 244.43,672.39 253.13,677.84 247.92,680.01" fill="rgb(118,118,118)" stroke="#c4c4c4" stroke-width="0.74" stroke-opacity="0.9"/><polygon points="255.09,681.98 256.37,675.74 258.74,671.21 271.44,669.26 278.79,674.9 272.26,681.82 266.73,683.53" fill="rgb(118,118,118)" stroke="#c4c4c4" stroke-width="0.61" stroke-opacity="0.9"/><polygon points="220.58,665.48 219.9,662.7 221.25,657.45 228.29,658.9 231.41,662.49 229.18,665.96" fill="rgb(138,138,138)" stroke="#c4c4c4" stroke-width="0.88" stroke-opacity="0.9"/><polygon points="286.52,678.94 285.1,687.01 272.15,687.2 267.41,677.96 279.78,671.87" fill="rgb(132,132,132)" stroke="#c4c4c4" stroke-width="0.78" stroke-opacity="0.9"/><polygon points="237.43,677.62 234.27,685.03 225.14,689.2 217.48,689.28 212.46,683.67 218.02,675.57 228.11,674.96" fill="rgb(123,123,123)" stroke="#c4c4c4" stroke-width="0.63" stroke-opacity="0.9"/><polygon points="301.99,669.54 294.82,671.73 290.64,670.04 288.72,665.38 296.07,662.34 299.04,662.99 305.04,667.48" fill="rgb(136,136,136)" stroke="#c4c4c4" stroke-width="0.87" stroke-opacity="0.9"/><polygon points="304.19,698.66 300.12,690.25 312.51,684.37 321.76,691.71 318.98,698.79" fill="rgb(143,143,143)" stroke="#c4c4c4" stroke-width="0.63" stroke-opacity="0.9"/><polygon points="242.19,652.04 245.66,646.36 249.4,644.36 255.54,647.34 256.96,653.91 250.2,655.63 244.83,655.2" fill="rgb(108,108,108)" stroke="#c4c4c4" stroke-width="0.63" stroke-opacity="0.9"/><polygon points="199.69,687.24 191.04,680.46 195.84,676.69 205.2,676.99 204.81,683.21" fill="rgb(150,150,150)" stroke="#c4c4c4" stroke-width="0.81" stroke-opacity="0.9"/><polygon points="305.01,651.2 300.08,646.33 302.86,641.86 311.02,643.51 312.85,647.74" fill="rgb(141,141,141)" stroke="#c4c4c4" stroke-width="0.79" stroke-opacity="0.9"/><polygon points="277.97,671.65 274.19,674.25 267.56,672.01 265.27,667.23 268.47,666.06 275.03,666.9 279.03,667.96" fill="rgb(138,138,138)" stroke="#c4c4c4" stroke-width="0.54" stroke-opacity="0.9"/><polygon points="278.22,621.64 268.54,623.07 266.84,613.68 273.07,607.92 281.68,609.22 284.73,613.09 287,618.55" fill="rgb(108,108,108)" stroke="#c4c4c4" stroke-width="0.88" stroke-opacity="0.9"/><polygon points="286.06,661.29 277.72,660.64 278.74,654.13 281,649.46 290.28,653.12 289.5,658.03" fill="rgb(137,137,137)" stroke="#c4c4c4" stroke-width="0.87" stroke-opacity="0.9"/><ellipse cx="220.8" cy="675" rx="6.5" ry="6.5" fill="#2a2a2a"/><ellipse cx="223" cy="625.5" rx="4" ry="5.5" fill="#2a2a2a"/><ellipse cx="291" cy="607.5" rx="14" ry="2.8" fill="#2a2a2a"/><ellipse cx="201" cy="655" rx="3" ry="2" fill="#2a2a2a"/><ellipse cx="243" cy="641" rx="4" ry="2" fill="#2a2a2a"/><ellipse cx="268" cy="662" rx="5" ry="1.6" fill="#2a2a2a"/><ellipse cx="185.5" cy="670" rx="2.5" ry="6" fill="#2a2a2a"/><ellipse cx="234" cy="688" rx="8" ry="2.5" fill="#2a2a2a"/><ellipse cx="276" cy="646" rx="3" ry="2" fill="#2a2a2a"/><ellipse cx="197.5" cy="635" rx="8.7" ry="8.7" fill="#8c8c8c" stroke="#d4d4d4" stroke-width="0.9"/><ellipse cx="255.4" cy="631.7" rx="7.2" ry="7" fill="#8c8c8c" stroke="#d4d4d4" stroke-width="0.9"/><ellipse cx="262.6" cy="616" rx="3.6" ry="6.6" fill="#8c8c8c" stroke="#d4d4d4" stroke-width="0.9"/><ellipse cx="296" cy="685" rx="6" ry="5" fill="#8c8c8c" stroke="#d4d4d4" stroke-width="0.9"/><ellipse cx="302" cy="624" rx="3" ry="6" fill="#8c8c8c" stroke="#d4d4d4" stroke-width="0.9"/></g></g>
<clipPath id="sem2"><rect x="183.6" y="695.8" width="124.8" height="86"/></clipPath>
<g clip-path="url(#sem2)"><g filter="url(#soft)"><rect x="181.6" y="693.8" width="128.8" height="90" fill="#8a8a8a"/><rect x="195.6" y="695.8" width="8" height="86" fill="#929292"/><ellipse cx="266.51" cy="700.14" rx="1.64" ry="1.8" fill="none" stroke="#a0a0a0" stroke-width="0.5"/><ellipse cx="257.66" cy="713.77" rx="1.35" ry="0.88" fill="none" stroke="#a0a0a0" stroke-width="0.5"/><ellipse cx="248.72" cy="711.4" rx="1.67" ry="1.87" fill="none" stroke="#a0a0a0" stroke-width="0.5"/><ellipse cx="296.03" cy="738.1" rx="2.18" ry="0.96" fill="none" stroke="#a0a0a0" stroke-width="0.5"/><ellipse cx="301.88" cy="770.23" rx="1.72" ry="1.86" fill="none" stroke="#a0a0a0" stroke-width="0.5"/><ellipse cx="220.7" cy="780.12" rx="1.48" ry="1.91" fill="none" stroke="#a0a0a0" stroke-width="0.5"/><ellipse cx="288.07" cy="776.17" rx="2.09" ry="0.89" fill="none" stroke="#a0a0a0" stroke-width="0.5"/><ellipse cx="218.49" cy="752.19" rx="2.36" ry="1.62" fill="none" stroke="#a0a0a0" stroke-width="0.5"/><ellipse cx="188.47" cy="725.7" rx="1.52" ry="1.01" fill="none" stroke="#a0a0a0" stroke-width="0.5"/><ellipse cx="211.68" cy="740.19" rx="1.56" ry="1.12" fill="none" stroke="#a0a0a0" stroke-width="0.5"/><ellipse cx="235.02" cy="777.26" rx="1.9" ry="1.7" fill="none" stroke="#a0a0a0" stroke-width="0.5"/><ellipse cx="300" cy="698.46" rx="2.32" ry="0.91" fill="none" stroke="#a0a0a0" stroke-width="0.5"/><ellipse cx="208.09" cy="759.39" rx="2.13" ry="1.54" fill="none" stroke="#a0a0a0" stroke-width="0.5"/><ellipse cx="243.01" cy="757.91" rx="1.64" ry="1.03" fill="none" stroke="#a0a0a0" stroke-width="0.5"/><ellipse cx="210.99" cy="705.49" rx="1.06" ry="1.94" fill="none" stroke="#a0a0a0" stroke-width="0.5"/><ellipse cx="302.18" cy="725.78" rx="1.62" ry="1.13" fill="none" stroke="#a0a0a0" stroke-width="0.5"/><ellipse cx="281.11" cy="738.15" rx="1.26" ry="1.86" fill="none" stroke="#a0a0a0" stroke-width="0.5"/><ellipse cx="299.5" cy="699.8" rx="1.69" ry="1.07" fill="none" stroke="#a0a0a0" stroke-width="0.5"/><ellipse cx="263.36" cy="726.65" rx="1.45" ry="1.16" fill="none" stroke="#a0a0a0" stroke-width="0.5"/><ellipse cx="259.39" cy="739.07" rx="1.73" ry="1.62" fill="none" stroke="#a0a0a0" stroke-width="0.5"/><ellipse cx="242.66" cy="777.23" rx="1.66" ry="1.75" fill="none" stroke="#a0a0a0" stroke-width="0.5"/><ellipse cx="299.73" cy="749.27" rx="1.88" ry="1.75" fill="none" stroke="#a0a0a0" stroke-width="0.5"/><ellipse cx="272.44" cy="712.44" rx="1.63" ry="0.99" fill="none" stroke="#a0a0a0" stroke-width="0.5"/><ellipse cx="186.23" cy="754.91" rx="1.49" ry="1.11" fill="none" stroke="#a0a0a0" stroke-width="0.5"/><ellipse cx="186.85" cy="697.74" rx="2.01" ry="1.23" fill="none" stroke="#a0a0a0" stroke-width="0.5"/><ellipse cx="238.02" cy="753.93" rx="2.36" ry="1.64" fill="none" stroke="#a0a0a0" stroke-width="0.5"/><ellipse cx="210.96" cy="780.86" rx="1.28" ry="1.5" fill="none" stroke="#a0a0a0" stroke-width="0.5"/><ellipse cx="263.97" cy="720.52" rx="2.33" ry="1.53" fill="none" stroke="#a0a0a0" stroke-width="0.5"/><ellipse cx="272.21" cy="707.72" rx="2.25" ry="1.14" fill="none" stroke="#a0a0a0" stroke-width="0.5"/><ellipse cx="260.74" cy="759.18" rx="1.48" ry="1.12" fill="none" stroke="#a0a0a0" stroke-width="0.5"/><ellipse cx="224.83" cy="779.93" rx="1.99" ry="1.37" fill="none" stroke="#a0a0a0" stroke-width="0.5"/><ellipse cx="253.73" cy="752.19" rx="1.39" ry="0.89" fill="none" stroke="#a0a0a0" stroke-width="0.5"/><ellipse cx="197.22" cy="745.86" rx="1.9" ry="1.97" fill="none" stroke="#a0a0a0" stroke-width="0.5"/><ellipse cx="261.09" cy="769.16" rx="2.48" ry="1.4" fill="none" stroke="#a0a0a0" stroke-width="0.5"/><ellipse cx="236.23" cy="736.32" rx="1.56" ry="1.71" fill="none" stroke="#a0a0a0" stroke-width="0.5"/><ellipse cx="255.39" cy="706.34" rx="2.43" ry="1.43" fill="none" stroke="#a0a0a0" stroke-width="0.5"/><ellipse cx="277.04" cy="742.88" rx="1.88" ry="1.49" fill="none" stroke="#a0a0a0" stroke-width="0.5"/><ellipse cx="197.91" cy="707.05" rx="2.1" ry="1.22" fill="none" stroke="#a0a0a0" stroke-width="0.5"/><ellipse cx="199.67" cy="765.93" rx="2.12" ry="1.72" fill="none" stroke="#a0a0a0" stroke-width="0.5"/><ellipse cx="231.91" cy="707.13" rx="2.14" ry="1.06" fill="none" stroke="#a0a0a0" stroke-width="0.5"/><ellipse cx="266.99" cy="755.69" rx="1.41" ry="0.8" fill="none" stroke="#a0a0a0" stroke-width="0.5"/><ellipse cx="257.27" cy="763.77" rx="1.88" ry="1.98" fill="none" stroke="#a0a0a0" stroke-width="0.5"/><ellipse cx="212.11" cy="758.67" rx="1.65" ry="1.5" fill="none" stroke="#a0a0a0" stroke-width="0.5"/><ellipse cx="221.31" cy="715.62" rx="1.82" ry="1.53" fill="none" stroke="#a0a0a0" stroke-width="0.5"/><ellipse cx="297.11" cy="747.74" rx="1.75" ry="1.58" fill="none" stroke="#a0a0a0" stroke-width="0.5"/><ellipse cx="233" cy="715.3" rx="8.2" ry="12.5" transform="rotate(20 233 715.3)" fill="#3e3e3e" stroke="#e4e4e4" stroke-width="1.2"/><ellipse cx="253.7" cy="711.7" rx="9" ry="7.8" transform="rotate(0 253.7 711.7)" fill="#3e3e3e" stroke="#e4e4e4" stroke-width="1.2"/><ellipse cx="248.3" cy="729.5" rx="7.2" ry="6.6" transform="rotate(0 248.3 729.5)" fill="#3e3e3e" stroke="#e4e4e4" stroke-width="1.2"/><ellipse cx="236.4" cy="742.6" rx="8.5" ry="5.5" transform="rotate(-10 236.4 742.6)" fill="#3e3e3e" stroke="#e4e4e4" stroke-width="1.2"/><ellipse cx="234.7" cy="754" rx="7.8" ry="5" transform="rotate(0 234.7 754)" fill="#3e3e3e" stroke="#e4e4e4" stroke-width="1.2"/><ellipse cx="241.8" cy="767" rx="7.8" ry="6" transform="rotate(0 241.8 767)" fill="#3e3e3e" stroke="#e4e4e4" stroke-width="1.2"/><ellipse cx="238" cy="778.5" rx="9" ry="5" transform="rotate(0 238 778.5)" fill="#3e3e3e" stroke="#e4e4e4" stroke-width="1.2"/><ellipse cx="282.9" cy="763.4" rx="14.5" ry="10.8" transform="rotate(-15 282.9 763.4)" fill="#3e3e3e" stroke="#e4e4e4" stroke-width="1.2"/><ellipse cx="257.5" cy="697.5" rx="5" ry="2.5" transform="rotate(0 257.5 697.5)" fill="#3e3e3e" stroke="#e4e4e4" stroke-width="1.2"/><ellipse cx="275" cy="745" rx="4.5" ry="3.5" transform="rotate(0 275 745)" fill="#3e3e3e" stroke="#e4e4e4" stroke-width="1.2"/><ellipse cx="263.5" cy="757" rx="2" ry="2" transform="rotate(0 263.5 757)" fill="#3e3e3e" stroke="#e4e4e4" stroke-width="1.2"/><ellipse cx="291.7" cy="728.4" rx="2.6" ry="2.2" transform="rotate(0 291.7 728.4)" fill="#3e3e3e" stroke="#e4e4e4" stroke-width="1.2"/><ellipse cx="287" cy="707" rx="3" ry="2.4" transform="rotate(0 287 707)" fill="#3e3e3e" stroke="#e4e4e4" stroke-width="1.2"/><ellipse cx="252" cy="744" rx="2.2" ry="1.8" transform="rotate(0 252 744)" fill="#3e3e3e" stroke="#e4e4e4" stroke-width="1.2"/></g></g>
<rect x="334.7" y="604.7" width="135.3" height="86.1" fill="#fff" stroke="#b0b0b0" stroke-width="0.8"/>
<rect x="334.7" y="694.9" width="135.3" height="86.5" fill="#fff" stroke="#b0b0b0" stroke-width="0.8"/>
<path d="M335.2 627.93 L335.51 632.49 L335.97 638.68 L336.5 645.66 L336.81 646.51 L337.14 649.47 L337.49 651.91 L337.9 651.79 L338.4 653.6 L338.69 654 L339 653.1 L339.34 653.71 L339.7 654.2 L340.07 653.57 L340.45 653.83 L340.84 652.56 L341.23 652.44 L341.62 651.98 L342 652.51 L342.35 653.12 L342.7 652.35 L343.06 652.51 L343.43 651.62 L343.79 652.07 L344.16 650.71 L344.53 650.86 L344.9 651.35 L345.27 651.25 L345.63 650.53 L346 649.76 L346.37 649.92 L346.73 649.67 L347.1 649.66 L347.48 650.47 L347.85 649.24 L348.22 650.35 L348.58 650.21 L348.95 648.59 L349.3 649.05 L349.66 649.12 L350 648.14 L350.37 648.72 L350.75 649.46 L351.12 647.91 L351.48 648.67 L351.84 647.69 L352.2 648.39 L352.54 648.81 L352.87 647.39 L353.19 646.85 L353.5 646.75 L353.91 647.22 L354.27 645.91 L354.62 645.63 L354.95 645.91 L355.28 646.14 L355.63 644.61 L356 643.82 L356.35 643.47 L356.71 641.61 L357.09 641.52 L357.47 639.75 L357.85 639.47 L358.24 639 L358.62 636.28 L359 636.1 L359.38 635.1 L359.75 633.15 L360.12 632.22 L360.5 632.36 L360.88 631.21 L361.25 628.49 L361.62 628.43 L362 627.81 L362.38 625.5 L362.75 625.15 L363.12 623.12 L363.5 622.73 L363.88 622.34 L364.25 621.29 L364.62 620.78 L365 618.76 L365.38 618.5 L365.76 618.75 L366.15 617.61 L366.53 616.79 L366.91 616.16 L367.29 616.72 L367.65 615.53 L368 614.13 L368.38 615.15 L368.75 613.97 L369.11 613.9 L369.45 613.29 L369.8 613.56 L370.15 613.24 L370.5 612.76 L370.84 613.73 L371.16 612.85 L371.47 614.19 L371.8 612.98 L372.15 614.54 L372.54 614.81 L373 614.5 L373.29 615.02 L373.6 614.32 L373.93 615.34 L374.26 614.91 L374.61 614.71 L374.98 616.2 L375.35 615.37 L375.74 615.53 L376.14 616.66 L376.55 616.06 L376.97 616.92 L377.4 616.41 L377.71 617.91 L378.03 617.17 L378.36 617.13 L378.69 619.15 L379.03 618.07 L379.38 619.84 L379.73 620.32 L380.09 620.05 L380.45 619.41 L380.82 619.94 L381.19 620.66 L381.57 621.46 L381.95 622.35 L382.33 623.48 L382.72 622.89 L383.11 623.02 L383.5 624.31 L383.84 624.01 L384.18 624.41 L384.53 625.76 L384.88 626.53 L385.24 625.93 L385.6 627.17 L385.97 628.18 L386.33 628.86 L386.7 628.75 L387.08 630.23 L387.45 629.52 L387.82 631.09 L388.2 631.78 L388.57 632.55 L388.95 632.44 L389.32 632.29 L389.69 632.77 L390.06 634.18 L390.43 634.08 L390.8 635.43 L391.16 634.97 L391.52 636.73 L391.87 636.24 L392.22 636.36 L392.57 637.15 L392.91 638.15 L393.26 638.83 L393.6 639.01 L393.95 639.11 L394.29 640.15 L394.64 641.47 L395 641.21 L395.36 642.42 L395.73 641.26 L396.1 643.47 L396.48 643.77 L396.87 643.63 L397.27 644.07 L397.68 644.58 L398.1 645.74 L398.42 644.58 L398.74 645.98 L399.07 646.16 L399.4 646.09 L399.73 647.22 L400.07 647.58 L400.41 646.84 L400.75 648.28 L401.1 648.2 L401.45 648.63 L401.8 649.26 L402.16 648.58 L402.52 649.93 L402.88 649.88 L403.25 651.16 L403.62 650.35 L403.99 651.78 L404.37 651.97 L404.75 652.14 L405.13 652.95 L405.52 651.79 L405.91 653.15 L406.3 653.53 L406.7 654 L407.09 653.85 L407.5 653.59 L407.9 654.14 L408.22 655.16 L408.55 654.66 L408.87 654.71 L409.2 655.5 L409.53 655.97 L409.86 656.35 L410.2 655.69 L410.53 657.3 L410.87 656.77 L411.21 657.83 L411.55 656.69 L411.9 658.65 L412.24 658.25 L412.59 659.2 L412.94 659.47 L413.29 659.44 L413.64 658.38 L414 659.07 L414.36 659.11 L414.72 660.34 L415.08 659.53 L415.44 659.83 L415.81 659.87 L416.18 660.13 L416.55 661.85 L416.93 662.16 L417.3 661.31 L417.68 662.22 L418.06 661.96 L418.44 662.3 L418.83 662.26 L419.22 662.97 L419.61 662.49 L420 662.76 L420.33 663.43 L420.66 663.04 L420.99 663.67 L421.32 664.77 L421.66 663.3 L421.99 663.64 L422.33 665.08 L422.67 663.94 L423.01 664.48 L423.35 665.75 L423.7 665.49 L424.04 664.99 L424.39 664.88 L424.74 665.46 L425.09 665.69 L425.44 666.77 L425.79 667.27 L426.15 667.12 L426.51 667.51 L426.86 667.74 L427.22 667.82 L427.58 668.08 L427.95 668.35 L428.31 666.96 L428.68 667.54 L429.04 667.59 L429.41 668.41 L429.78 668.38 L430.15 668.29 L430.52 669.35 L430.9 668.74 L431.27 668.57 L431.65 668.86 L432.02 669.36 L432.4 669.8 L432.78 669.89 L433.16 669.83 L433.55 669.54 L433.93 670.1 L434.31 670.12 L434.7 670.01 L435.03 670.82 L435.36 670.32 L435.7 671.4 L436.03 671.44 L436.37 670.64 L436.71 671.66 L437.05 671.28 L437.39 671.61 L437.73 672.03 L438.08 672.45 L438.42 672.8 L438.77 672.67 L439.12 671.86 L439.47 672.59 L439.82 672.35 L440.17 671.92 L440.52 673.01 L440.87 672.99 L441.23 673.84 L441.58 672.99 L441.94 674.04 L442.29 673.59 L442.65 672.97 L443.01 674.21 L443.36 673.56 L443.72 674.13 L444.08 673.42 L444.44 673.44 L444.8 675.2 L445.17 673.74 L445.53 674.06 L445.89 674.2 L446.25 674.2 L446.61 675.63 L446.98 676.06 L447.34 675.55 L447.7 675.21 L448.07 676.21 L448.43 675.64 L448.79 675.08 L449.16 676.19 L449.52 675.71 L449.88 675.66 L450.25 675.85 L450.61 676.08 L450.97 675.82 L451.34 676.7 L451.7 677.26 L452.05 676.83 L452.41 675.91 L452.78 677.23 L453.15 676.13 L453.53 677.05 L453.91 677.85 L454.3 677.61 L454.69 678.12 L455.09 677.94 L455.49 677.17 L455.9 677.03 L456.31 677.68 L456.72 678.18 L457.13 677.47 L457.54 677.74 L457.96 678.59 L458.37 677.96 L458.79 678.5 L459.2 678.49 L459.62 679.27 L460.03 677.73 L460.44 678.11 L460.85 679.26 L461.26 679.15 L461.66 678.2 L462.06 678.35 L462.46 678.57 L462.85 679.24 L463.24 679.97 L463.62 678.81 L464 678.86 L464.37 679.81 L464.74 679.4 L465.09 680.24 L465.44 680.58 L465.79 680.54 L466.12 680.2 L466.44 679.87 L466.76 679.15 L467.07 680.56 L467.36 679.88 L467.65 680.05 L467.92 680.41 L468.19 681.06 L468.44 680.38 L468.68 681.08 L468.9 681.21 L469.12 679.67 L469.31 680.2 L469.5 681.2" stroke="#111" stroke-width="1.5" fill="none" stroke-linejoin="round"/>
<path d="M335.2 736.88 L335.47 738.04 L335.84 737.82 L336.28 739.75 L336.75 741.6 L337.2 741.57 L337.56 741.96 L337.94 742.42 L338.32 740.71 L338.71 740.1 L339.1 741.08 L339.5 740.15 L339.84 739.07 L340.16 739.78 L340.49 738.31 L340.83 737.51 L341.19 737.26 L341.58 736.19 L342 736.23 L342.32 736.41 L342.67 735.27 L343.03 735.58 L343.41 733.29 L343.8 732.89 L344.19 732.22 L344.58 732.41 L344.97 731.22 L345.34 731.63 L345.7 731.04 L346.09 730.91 L346.47 731.25 L346.84 731.1 L347.21 731.36 L347.58 730.04 L347.94 730.55 L348.29 731.69 L348.65 730.76 L349 730.61 L349.39 731.02 L349.77 730.57 L350.15 731.89 L350.52 731.62 L350.89 730.74 L351.26 732.37 L351.63 731.59 L352 731.06 L352.38 731.58 L352.75 732.02 L353.12 730.72 L353.5 729.88 L353.88 729.93 L354.25 729.37 L354.62 729.89 L355 729.16 L355.38 729.78 L355.75 728.26 L356.12 727.53 L356.5 727.94 L356.88 726.88 L357.25 726.74 L357.62 726.07 L358 725.42 L358.38 725.62 L358.75 725.47 L359.12 723.72 L359.5 723.44 L359.88 722.08 L360.25 722.34 L360.62 720.89 L361 719.15 L361.37 719.64 L361.74 717.88 L362.1 716.76 L362.47 715.88 L362.84 716.54 L363.21 715.48 L363.6 714.04 L364 713.6 L364.33 713.24 L364.68 711.47 L365.03 711.97 L365.39 711.34 L365.75 711.14 L366.11 708.94 L366.47 709.27 L366.82 708.58 L367.17 708.64 L367.5 707.26 L367.9 707.16 L368.3 706.96 L368.68 705.36 L369.06 705.09 L369.43 705.25 L369.8 703.26 L370.15 704.6 L370.5 703.16 L370.87 703.29 L371.2 702.98 L371.51 704 L371.82 703.72 L372.16 704.36 L372.55 703.49 L373 705.18 L373.3 705.26 L373.63 705.19 L373.99 704.57 L374.36 704.86 L374.74 705.44 L375.13 704.99 L375.53 706.86 L375.92 706.15 L376.31 707.43 L376.69 706.36 L377.06 707.52 L377.4 708.14 L377.79 708.29 L378.15 708.34 L378.5 708.08 L378.84 709.32 L379.17 709.75 L379.5 711.29 L379.85 711.92 L380.21 712.49 L380.59 713.18 L381 712.4 L381.34 712.72 L381.69 713.8 L382.05 713.93 L382.42 714.79 L382.8 716.31 L383.19 716.34 L383.58 717.79 L383.98 718.09 L384.37 718.61 L384.76 720.57 L385.15 719.84 L385.53 721.76 L385.9 721.75 L386.26 722.6 L386.62 722.26 L386.97 723.92 L387.32 724.75 L387.66 724.06 L388.01 725.11 L388.35 725.98 L388.7 726.2 L389.05 727.25 L389.4 727.6 L389.76 727.55 L390.13 728.76 L390.5 729.49 L390.84 729.45 L391.17 730.17 L391.49 730.74 L391.81 730.93 L392.13 730.7 L392.45 731.75 L392.78 732.9 L393.13 733.3 L393.49 732.64 L393.87 733.9 L394.28 734.66 L394.72 735.15 L395.19 735.1 L395.7 736.66 L395.98 737.12 L396.27 737.22 L396.57 738.34 L396.87 738.1 L397.18 737.51 L397.51 738.43 L397.83 739.62 L398.17 738.96 L398.51 741.01 L398.85 740.99 L399.21 741.58 L399.57 740.99 L399.93 741.17 L400.3 743.21 L400.67 743.04 L401.05 743.4 L401.43 744.02 L401.81 744.95 L402.2 744.71 L402.6 745.9 L402.99 745.27 L403.39 747.2 L403.79 747.14 L404.19 746.9 L404.59 747.62 L404.99 748.77 L405.4 748.19 L405.72 749.18 L406.05 749.88 L406.38 750.3 L406.72 749.35 L407.06 750.64 L407.4 750.63 L407.75 751.3 L408.1 750.29 L408.45 751.23 L408.81 751.61 L409.16 752.58 L409.52 752.24 L409.88 751.81 L410.25 752.42 L410.61 753.85 L410.98 754.24 L411.34 753.98 L411.71 753.39 L412.08 754.93 L412.45 755.39 L412.82 754.63 L413.19 755.26 L413.56 755.2 L413.94 755.04 L414.31 756.54 L414.68 755.77 L415.05 755.9 L415.42 757.63 L415.78 756.42 L416.15 757.85 L416.51 758.19 L416.88 757.41 L417.24 757.85 L417.6 757.8 L417.96 758.89 L418.31 759.57 L418.66 759.35 L419.01 759.09 L419.35 759.35 L419.69 759.29 L420.03 760.01 L420.37 759.38 L420.7 759.49 L421.04 760.46 L421.37 759.81 L421.71 761.27 L422.04 760.94 L422.38 760.1 L422.72 759.94 L423.05 761.11 L423.39 760.4 L423.74 761.19 L424.08 761.49 L424.43 761.99 L424.78 761.35 L425.13 761.76 L425.49 762.36 L425.85 761.26 L426.22 761.74 L426.59 762.71 L426.97 762.02 L427.35 763.18 L427.74 761.78 L428.14 761.91 L428.54 762.54 L428.95 762.86 L429.37 762.82 L429.8 762.7 L430.11 763.21 L430.41 764.11 L430.72 764.29 L431.04 763.83 L431.35 763.27 L431.67 763.96 L431.98 763.3 L432.3 763.23 L432.62 764.65 L432.95 763.81 L433.27 763.72 L433.6 765.01 L433.93 763.86 L434.26 764.17 L434.6 764.12 L434.93 765.55 L435.27 765.28 L435.61 764.48 L435.95 764.39 L436.3 766 L436.65 764.7 L437 765.86 L437.35 765.91 L437.7 765.83 L438.06 765.74 L438.41 765.73 L438.77 765.59 L439.14 766.35 L439.5 765.56 L439.87 766.24 L440.24 765.95 L440.61 766.25 L440.99 767.29 L441.36 766.8 L441.74 767.04 L442.12 767.14 L442.51 766.08 L442.89 767.58 L443.28 767.84 L443.68 767.71 L444.07 767.4 L444.47 768.08 L444.87 768.35 L445.27 767.24 L445.67 767.13 L446.08 767.53 L446.49 767.04 L446.9 767.52 L447.21 767.32 L447.54 767.25 L447.87 768.02 L448.2 767.38 L448.55 768.3 L448.9 769.04 L449.25 768.86 L449.62 767.73 L449.98 769.02 L450.36 768.12 L450.74 769.3 L451.12 769.07 L451.51 768.96 L451.9 768.84 L452.29 769.89 L452.69 768.57 L453.09 769.87 L453.5 768.69 L453.91 768.56 L454.31 768.85 L454.73 768.6 L455.14 770.09 L455.55 769 L455.97 769.76 L456.38 769.29 L456.79 769.51 L457.21 770.34 L457.62 769.98 L458.04 769.54 L458.45 770.46 L458.86 769.45 L459.27 769.32 L459.68 770.56 L460.08 770.91 L460.48 770.81 L460.88 770.75 L461.28 771.23 L461.67 771.28 L462.06 770.7 L462.44 770.05 L462.82 770.83 L463.19 770.61 L463.56 771.17 L463.92 770.58 L464.28 770.14 L464.63 770.41 L464.97 770.37 L465.31 771.48 L465.64 771.45 L465.96 771.22 L466.28 770.88 L466.58 771.66 L466.88 771.2 L467.17 771.33 L467.45 770.84 L467.72 772.32 L467.98 771.36 L468.23 771.45 L468.47 771.01 L468.7 771.48 L468.92 771.55 L469.12 771.5 L469.32 772.11 L469.5 771.4" stroke="#111" stroke-width="1.5" fill="none" stroke-linejoin="round"/>
<path d="M528.5 601.9V677.1H603.5" stroke="#555" stroke-width="0.8" fill="none"/>
<text x="526.7" y="603.2" font-size="3.8" text-anchor="end" fill="#333">400</text>
<text x="526.7" y="622.2" font-size="3.8" text-anchor="end" fill="#333">300</text>
<text x="526.7" y="640.8" font-size="3.8" text-anchor="end" fill="#333">200</text>
<text x="526.7" y="659.6" font-size="3.8" text-anchor="end" fill="#333">100</text>
<text x="526.7" y="678.4" font-size="3.8" text-anchor="end" fill="#333">0</text>
<path d="M528.5 601.9h-1.5M528.5 620.9h-1.5M528.5 639.5h-1.5M528.5 658.3h-1.5M528.5 677.1h-1.5" stroke="#555" stroke-width="0.5"/>
<rect x="533.1" y="621.1" width="9.6" height="56" fill="#5555ff"/><rect x="547.25" y="657.7" width="9.6" height="19.4" fill="#ff5555"/><rect x="561.4" y="628" width="9.6" height="49.1" fill="#55d855"/><rect x="575.55" y="643.4" width="9.6" height="33.7" fill="#cc55ee"/><rect x="589.7" y="633" width="9.6" height="44.1" fill="#ffaa55"/>
<path d="M537.9 621.1V617.1M536.3 617.1h3.2M537.9 677.1v1.6M552.05 657.7V654.7M550.45 654.7h3.2M552.05 677.1v1.6M566.2 628V624M564.6 624h3.2M566.2 677.1v1.6M580.35 643.4V638.9M578.75 638.9h3.2M580.35 677.1v1.6M594.5 633V629.5M592.9 629.5h3.2M594.5 677.1v1.6" stroke="#333" stroke-width="0.6"/>
<text x="552.05" y="653.5" font-size="3.4" text-anchor="middle" fill="#444">#</text>
<text x="566.2" y="622.8" font-size="3.4" text-anchor="middle" fill="#444">^</text>
<text x="580.35" y="637.7" font-size="3.4" text-anchor="middle" fill="#444">#^</text>
<text x="594.5" y="628.3" font-size="3.4" text-anchor="middle" fill="#444">^</text>
<text x="537.9" y="682.3" font-size="3.9" text-anchor="middle" fill="#333">Control</text>
<text x="552.05" y="682.3" font-size="3.9" text-anchor="middle" fill="#333">Model</text>
<text x="566.2" y="682.3" font-size="3.9" text-anchor="middle" fill="#333">Positive</text>
<text x="580.35" y="682.3" font-size="3.9" text-anchor="middle" fill="#333">Low</text>
<text x="594.5" y="682.3" font-size="3.9" text-anchor="middle" fill="#333">High</text>
<text x="518.3" y="641.5" font-size="5.4" fill="#333" text-anchor="middle" transform="rotate(-90 518.3 641.5)">NO (pg/mL)</text>
<path d="M639.6 601.9V677.3H714.1" stroke="#555" stroke-width="0.8" fill="none"/>
<text x="637.8" y="603.2" font-size="3.8" text-anchor="end" fill="#333">800</text>
<text x="637.8" y="622" font-size="3.8" text-anchor="end" fill="#333">600</text>
<text x="637.8" y="640.9" font-size="3.8" text-anchor="end" fill="#333">400</text>
<text x="637.8" y="659.7" font-size="3.8" text-anchor="end" fill="#333">200</text>
<text x="637.8" y="678.6" font-size="3.8" text-anchor="end" fill="#333">0</text>
<path d="M639.6 601.9h-1.5M639.6 620.7h-1.5M639.6 639.6h-1.5M639.6 658.4h-1.5M639.6 677.3h-1.5" stroke="#555" stroke-width="0.5"/>
<rect x="644.1" y="654.3" width="9.5" height="23" fill="#5555ff"/><rect x="658.2" y="624.9" width="9.5" height="52.4" fill="#ff5555"/><rect x="672.3" y="652.8" width="9.5" height="24.5" fill="#55d855"/><rect x="686.4" y="634.8" width="9.5" height="42.5" fill="#cc55ee"/><rect x="700.5" y="649.2" width="9.5" height="28.1" fill="#ffaa55"/>
<path d="M648.85 654.3V649.3M647.25 649.3h3.2M648.85 677.3v1.6M662.95 624.9V617.9M661.35 617.9h3.2M662.95 677.3v1.6M677.05 652.8V648.8M675.45 648.8h3.2M677.05 677.3v1.6M691.15 634.8V631.8M689.55 631.8h3.2M691.15 677.3v1.6M705.25 649.2V646.2M703.65 646.2h3.2M705.25 677.3v1.6" stroke="#333" stroke-width="0.6"/>
<text x="662.95" y="616.7" font-size="3.4" text-anchor="middle" fill="#444">#</text>
<text x="677.05" y="647.6" font-size="3.4" text-anchor="middle" fill="#444">^</text>
<text x="691.15" y="630.6" font-size="3.4" text-anchor="middle" fill="#444">#^</text>
<text x="705.25" y="645" font-size="3.4" text-anchor="middle" fill="#444">^</text>
<text x="648.85" y="682.5" font-size="3.9" text-anchor="middle" fill="#333">Control</text>
<text x="662.95" y="682.5" font-size="3.9" text-anchor="middle" fill="#333">Model</text>
<text x="677.05" y="682.5" font-size="3.9" text-anchor="middle" fill="#333">Positive</text>
<text x="691.15" y="682.5" font-size="3.9" text-anchor="middle" fill="#333">Low</text>
<text x="705.25" y="682.5" font-size="3.9" text-anchor="middle" fill="#333">High</text>
<text x="629.4" y="641.6" font-size="5.4" fill="#333" text-anchor="middle" transform="rotate(-90 629.4 641.6)">TNF-α (pg/mL)</text>
<path d="M528.5 703.3V779.9H603.5" stroke="#555" stroke-width="0.8" fill="none"/>
<text x="526.7" y="704.6" font-size="3.8" text-anchor="end" fill="#333">1000</text>
<text x="526.7" y="719.9" font-size="3.8" text-anchor="end" fill="#333">800</text>
<text x="526.7" y="735.2" font-size="3.8" text-anchor="end" fill="#333">600</text>
<text x="526.7" y="750.5" font-size="3.8" text-anchor="end" fill="#333">400</text>
<text x="526.7" y="765.8" font-size="3.8" text-anchor="end" fill="#333">200</text>
<path d="M528.5 703.3h-1.5M528.5 718.6h-1.5M528.5 733.9h-1.5M528.5 749.2h-1.5M528.5 764.5h-1.5" stroke="#555" stroke-width="0.5"/>
<rect x="533.1" y="756.4" width="9.6" height="23.5" fill="#5555ff"/><rect x="547.25" y="719.1" width="9.6" height="60.8" fill="#ff5555"/><rect x="561.4" y="754.7" width="9.6" height="25.2" fill="#55d855"/><rect x="575.55" y="730.3" width="9.6" height="49.6" fill="#cc55ee"/><rect x="589.7" y="745.8" width="9.6" height="34.1" fill="#ffaa55"/>
<path d="M537.9 756.4V753.4M536.3 753.4h3.2M537.9 779.9v1.6M552.05 719.1V713.1M550.45 713.1h3.2M552.05 779.9v1.6M566.2 754.7V750.7M564.6 750.7h3.2M566.2 779.9v1.6M580.35 730.3V727.3M578.75 727.3h3.2M580.35 779.9v1.6M594.5 745.8V742.3M592.9 742.3h3.2M594.5 779.9v1.6" stroke="#333" stroke-width="0.6"/>
<text x="552.05" y="711.9" font-size="3.4" text-anchor="middle" fill="#444">#</text>
<text x="566.2" y="749.5" font-size="3.4" text-anchor="middle" fill="#444">^</text>
<text x="580.35" y="726.1" font-size="3.4" text-anchor="middle" fill="#444">#^</text>
<text x="594.5" y="741.1" font-size="3.4" text-anchor="middle" fill="#444">^</text>
<text x="537.9" y="785.1" font-size="3.9" text-anchor="middle" fill="#333"></text>
<text x="552.05" y="785.1" font-size="3.9" text-anchor="middle" fill="#333"></text>
<text x="566.2" y="785.1" font-size="3.9" text-anchor="middle" fill="#333"></text>
<text x="580.35" y="785.1" font-size="3.9" text-anchor="middle" fill="#333"></text>
<text x="594.5" y="785.1" font-size="3.9" text-anchor="middle" fill="#333"></text>
<text x="518.3" y="743.6" font-size="5.4" fill="#333" text-anchor="middle" transform="rotate(-90 518.3 743.6)">IL-1β (pg/mL)</text>
<path d="M639.6 704.5V779.9H714.1" stroke="#555" stroke-width="0.8" fill="none"/>
<text x="637.8" y="705.8" font-size="3.8" text-anchor="end" fill="#333">100</text>
<text x="637.8" y="720.9" font-size="3.8" text-anchor="end" fill="#333">80</text>
<text x="637.8" y="736" font-size="3.8" text-anchor="end" fill="#333">60</text>
<text x="637.8" y="751.1" font-size="3.8" text-anchor="end" fill="#333">40</text>
<text x="637.8" y="766.2" font-size="3.8" text-anchor="end" fill="#333">20</text>
<path d="M639.6 704.5h-1.5M639.6 719.6h-1.5M639.6 734.7h-1.5M639.6 749.8h-1.5M639.6 764.9h-1.5" stroke="#555" stroke-width="0.5"/>
<rect x="644.1" y="756.1" width="9.5" height="23.8" fill="#5555ff"/><rect x="658.2" y="722.1" width="9.5" height="57.8" fill="#ff5555"/><rect x="672.3" y="755" width="9.5" height="24.9" fill="#55d855"/><rect x="686.4" y="734.5" width="9.5" height="45.4" fill="#cc55ee"/><rect x="700.5" y="745.8" width="9.5" height="34.1" fill="#ffaa55"/>
<path d="M648.85 756.1V748.1M647.25 748.1h3.2M648.85 779.9v1.6M662.95 722.1V719.6M661.35 719.6h3.2M662.95 779.9v1.6M677.05 755V750.5M675.45 750.5h3.2M677.05 779.9v1.6M691.15 734.5V731.5M689.55 731.5h3.2M691.15 779.9v1.6M705.25 745.8V743.3M703.65 743.3h3.2M705.25 779.9v1.6" stroke="#333" stroke-width="0.6"/>
<text x="662.95" y="718.4" font-size="3.4" text-anchor="middle" fill="#444">#</text>
<text x="677.05" y="749.3" font-size="3.4" text-anchor="middle" fill="#444">^</text>
<text x="691.15" y="730.3" font-size="3.4" text-anchor="middle" fill="#444">#^</text>
<text x="705.25" y="742.1" font-size="3.4" text-anchor="middle" fill="#444">^</text>
<text x="648.85" y="785.1" font-size="3.9" text-anchor="middle" fill="#333"></text>
<text x="662.95" y="785.1" font-size="3.9" text-anchor="middle" fill="#333"></text>
<text x="677.05" y="785.1" font-size="3.9" text-anchor="middle" fill="#333"></text>
<text x="691.15" y="785.1" font-size="3.9" text-anchor="middle" fill="#333"></text>
<text x="705.25" y="785.1" font-size="3.9" text-anchor="middle" fill="#333"></text>
<text x="629.4" y="744.2" font-size="5.4" fill="#333" text-anchor="middle" transform="rotate(-90 629.4 744.2)">IL-6 (pg/mL)</text>
<text x="531" y="756" font-size="4" fill="#333">θ</text>
<rect x="822.9" y="566.4" width="80.2" height="215.4" fill="#c4c4c4"/>
<clipPath id="hl0"><rect x="741.9" y="566.8" width="76.2" height="39.9"/></clipPath>
<g clip-path="url(#hl0)"><rect x="741.9" y="566.8" width="76.2" height="39.9" fill="#efd2ea"/><path d="M741 571 L750 570 L760 571 L770 570 L780 569 L790 571 L800 574 L818 575 V582 L741 580Z" fill="#e8c0e0"/><path d="M741 566 V571 L746 570 L752 572 L758 569 L764 570 L768 567.5 L772 568.5 L776 566.8 L784 567 L788 569 L796 570 L804 573 L812 574 L818 574 V566Z" fill="#fff"/><ellipse cx="744" cy="588" rx="1.5" ry="3" fill="#fff"/><ellipse cx="754.47" cy="594.32" rx="0.65" ry="0.81" fill="#e0a8dc"/><ellipse cx="817.32" cy="585.74" rx="0.57" ry="0.62" fill="#fff"/><ellipse cx="801.98" cy="567.36" rx="0.79" ry="0.39" fill="#fff"/><ellipse cx="799.15" cy="603.57" rx="0.44" ry="0.9" fill="#e0a8dc"/><ellipse cx="798.19" cy="601.71" rx="0.8" ry="0.87" fill="#fff"/><ellipse cx="783.06" cy="594.49" rx="1.26" ry="0.52" fill="#e0a8dc"/><ellipse cx="753.7" cy="599.42" rx="1.13" ry="0.31" fill="#f6e4f2"/><ellipse cx="754.18" cy="595.87" rx="0.84" ry="0.41" fill="#dca8da"/><ellipse cx="744.73" cy="601.35" rx="0.47" ry="0.42" fill="#fbf2f9"/><ellipse cx="793.24" cy="598.84" rx="1.08" ry="0.76" fill="#e0a8dc"/><ellipse cx="786.15" cy="595.92" rx="0.9" ry="0.64" fill="#f6e4f2"/><ellipse cx="771.47" cy="580.42" rx="1.2" ry="0.55" fill="#fbf2f9"/><ellipse cx="769.73" cy="584.81" rx="0.69" ry="0.59" fill="#dca8da"/><ellipse cx="762.15" cy="600.08" rx="1.05" ry="0.9" fill="#fbf2f9"/><ellipse cx="779.7" cy="586.41" rx="0.94" ry="0.61" fill="#fff"/><ellipse cx="785.45" cy="579.51" rx="0.5" ry="0.7" fill="#fff"/><ellipse cx="789.64" cy="600.06" rx="0.71" ry="0.66" fill="#d8a0d6"/><ellipse cx="765.26" cy="570.92" rx="1.23" ry="0.4" fill="#f6e4f2"/><ellipse cx="774.57" cy="573.18" rx="1.01" ry="0.84" fill="#f6e4f2"/><ellipse cx="814.92" cy="583.04" rx="1.27" ry="0.65" fill="#fbf2f9"/><ellipse cx="809.2" cy="586.39" rx="1" ry="0.86" fill="#dca8da"/><ellipse cx="760.64" cy="589.22" rx="1.12" ry="0.76" fill="#dca8da"/><ellipse cx="778.72" cy="600.2" rx="1.17" ry="0.7" fill="#f6e4f2"/><ellipse cx="744.55" cy="576.72" rx="0.46" ry="0.5" fill="#dca8da"/><ellipse cx="810.41" cy="606.04" rx="1.06" ry="0.33" fill="#e0a8dc"/><ellipse cx="752.54" cy="592.74" rx="0.83" ry="0.87" fill="#e0a8dc"/><ellipse cx="810.44" cy="581.39" rx="1.19" ry="0.66" fill="#fbf2f9"/><ellipse cx="774.37" cy="589.99" rx="0.68" ry="0.62" fill="#dca8da"/><ellipse cx="762.93" cy="597.45" rx="0.74" ry="0.38" fill="#f6e4f2"/><ellipse cx="796.44" cy="577.35" rx="0.98" ry="0.81" fill="#d8a0d6"/><ellipse cx="786.43" cy="577.06" rx="1.08" ry="0.79" fill="#dca8da"/><ellipse cx="752.45" cy="572.46" rx="0.48" ry="0.32" fill="#dca8da"/><ellipse cx="775.95" cy="572.42" rx="0.99" ry="0.38" fill="#f6e4f2"/><ellipse cx="782.95" cy="579.74" rx="1.2" ry="0.67" fill="#dca8da"/><ellipse cx="755.74" cy="601.01" rx="1.04" ry="0.63" fill="#fbf2f9"/><ellipse cx="745.42" cy="595.16" rx="1.1" ry="0.77" fill="#e0a8dc"/><ellipse cx="742.5" cy="585.31" rx="0.76" ry="0.64" fill="#f6e4f2"/><ellipse cx="807.01" cy="576.11" rx="0.94" ry="0.75" fill="#e0a8dc"/><ellipse cx="760.55" cy="573.03" rx="1.21" ry="0.48" fill="#e0a8dc"/><ellipse cx="780.24" cy="588.72" rx="0.49" ry="0.66" fill="#fff"/><ellipse cx="780.63" cy="596.11" rx="0.68" ry="0.72" fill="#fff"/><ellipse cx="781.96" cy="589.17" rx="0.95" ry="0.5" fill="#f6e4f2"/><ellipse cx="757.24" cy="569.41" rx="1.29" ry="0.36" fill="#e0a8dc"/><ellipse cx="747.7" cy="569.73" rx="0.85" ry="0.87" fill="#dca8da"/><ellipse cx="793.71" cy="594.96" rx="0.87" ry="0.53" fill="#dca8da"/><ellipse cx="772.5" cy="575.8" rx="1" ry="0.33" fill="#f6e4f2"/><ellipse cx="762.9" cy="590.32" rx="1.05" ry="0.57" fill="#dca8da"/><ellipse cx="759.92" cy="582.18" rx="0.61" ry="0.85" fill="#dca8da"/><ellipse cx="791.76" cy="568.29" rx="0.84" ry="0.73" fill="#fbf2f9"/><ellipse cx="809.76" cy="597.9" rx="0.97" ry="0.67" fill="#e0a8dc"/><ellipse cx="797.61" cy="590.96" rx="0.64" ry="0.59" fill="#e0a8dc"/><ellipse cx="779.9" cy="579.01" rx="1.14" ry="0.88" fill="#dca8da"/><ellipse cx="817.28" cy="567.05" rx="0.58" ry="0.83" fill="#d8a0d6"/><ellipse cx="796.49" cy="570.42" rx="0.47" ry="0.48" fill="#fbf2f9"/><ellipse cx="813.8" cy="596.42" rx="1.28" ry="0.89" fill="#dca8da"/><ellipse cx="754.58" cy="584.09" rx="0.7" ry="0.68" fill="#e0a8dc"/><ellipse cx="793.84" cy="577.21" rx="0.69" ry="0.45" fill="#f6e4f2"/><ellipse cx="806.32" cy="572.92" rx="0.86" ry="0.44" fill="#e0a8dc"/><ellipse cx="794.34" cy="595.38" rx="1.25" ry="0.58" fill="#fbf2f9"/><ellipse cx="775.19" cy="591.42" rx="1" ry="0.7" fill="#d8a0d6"/><ellipse cx="789.27" cy="570.75" rx="0.43" ry="0.79" fill="#fbf2f9"/><ellipse cx="813.13" cy="594.91" rx="0.47" ry="0.65" fill="#f6e4f2"/><ellipse cx="772.24" cy="584.41" rx="0.62" ry="0.3" fill="#dca8da"/><ellipse cx="783.38" cy="570.57" rx="0.57" ry="0.52" fill="#d8a0d6"/><ellipse cx="742.13" cy="573.43" rx="1.11" ry="0.79" fill="#fff"/><ellipse cx="782.24" cy="568.76" rx="0.78" ry="0.83" fill="#fbf2f9"/><ellipse cx="760.52" cy="589.74" rx="1.23" ry="0.83" fill="#fff"/><ellipse cx="743.24" cy="590.02" rx="0.79" ry="0.8" fill="#f6e4f2"/><ellipse cx="817.27" cy="593.06" rx="0.45" ry="0.79" fill="#fbf2f9"/><ellipse cx="788.12" cy="591.55" rx="1.01" ry="0.71" fill="#dca8da"/><ellipse cx="753.54" cy="572.92" rx="0.67" ry="0.68" fill="#d8a0d6"/><ellipse cx="809.73" cy="569.63" rx="0.57" ry="0.36" fill="#f6e4f2"/><ellipse cx="805.02" cy="581.17" rx="0.45" ry="0.32" fill="#d8a0d6"/><ellipse cx="779.62" cy="593.96" rx="0.76" ry="0.32" fill="#e0a8dc"/><ellipse cx="759.63" cy="581.11" rx="0.77" ry="0.71" fill="#d8a0d6"/><ellipse cx="797.36" cy="587.73" rx="0.69" ry="0.43" fill="#f6e4f2"/><ellipse cx="780.21" cy="595.84" rx="0.88" ry="0.68" fill="#fff"/><ellipse cx="755.17" cy="595.11" rx="0.83" ry="0.82" fill="#dca8da"/><ellipse cx="775.54" cy="567.55" rx="1.01" ry="0.43" fill="#d8a0d6"/><ellipse cx="801.16" cy="602.82" rx="0.94" ry="0.37" fill="#fff"/><ellipse cx="765.55" cy="575.18" rx="1.24" ry="0.78" fill="#dca8da"/><ellipse cx="742.76" cy="580.84" rx="0.64" ry="0.32" fill="#fff"/><ellipse cx="770.56" cy="596.67" rx="1.24" ry="0.62" fill="#fbf2f9"/><ellipse cx="809.08" cy="575.05" rx="0.9" ry="0.77" fill="#fff"/><ellipse cx="798.29" cy="602.02" rx="1.22" ry="0.44" fill="#d8a0d6"/><ellipse cx="787.57" cy="580.84" rx="1.13" ry="0.52" fill="#e0a8dc"/><ellipse cx="751.89" cy="567.88" rx="1.26" ry="0.75" fill="#dca8da"/><ellipse cx="816.9" cy="596.33" rx="0.5" ry="0.86" fill="#e0a8dc"/><ellipse cx="781.75" cy="602.51" rx="0.67" ry="0.4" fill="#fff"/><ellipse cx="792.36" cy="591.28" rx="1.09" ry="0.75" fill="#dca8da"/><ellipse cx="791.49" cy="576.89" rx="1.14" ry="0.43" fill="#dca8da"/><ellipse cx="778.26" cy="568.42" rx="0.59" ry="0.77" fill="#dca8da"/><ellipse cx="767.51" cy="584.37" rx="1.06" ry="0.74" fill="#d8a0d6"/><ellipse cx="817.6" cy="581.84" rx="0.43" ry="0.77" fill="#dca8da"/><ellipse cx="807.94" cy="578.63" rx="0.58" ry="0.44" fill="#dca8da"/><ellipse cx="797.84" cy="599.21" rx="1.01" ry="0.32" fill="#dca8da"/><ellipse cx="811.73" cy="572.08" rx="0.82" ry="0.53" fill="#d8a0d6"/><ellipse cx="789.79" cy="590.68" rx="0.46" ry="0.45" fill="#e0a8dc"/><ellipse cx="749.87" cy="592.97" rx="1.1" ry="0.78" fill="#e0a8dc"/><ellipse cx="812.63" cy="574.73" rx="1.2" ry="0.35" fill="#d8a0d6"/><ellipse cx="765.37" cy="592.08" rx="1.08" ry="0.86" fill="#fbf2f9"/><ellipse cx="749.84" cy="591.42" rx="0.6" ry="0.42" fill="#e0a8dc"/><ellipse cx="779.81" cy="595.25" rx="0.43" ry="0.84" fill="#fbf2f9"/><ellipse cx="812.11" cy="587.65" rx="0.57" ry="0.38" fill="#f6e4f2"/><ellipse cx="746.3" cy="594.58" rx="0.45" ry="0.75" fill="#dca8da"/><ellipse cx="787.76" cy="587.19" rx="0.61" ry="0.72" fill="#e0a8dc"/><ellipse cx="779.08" cy="588.25" rx="0.74" ry="0.68" fill="#fff"/><ellipse cx="790.34" cy="581.39" rx="0.76" ry="0.57" fill="#d8a0d6"/><ellipse cx="791.27" cy="595.49" rx="0.6" ry="0.77" fill="#fff"/><ellipse cx="743.41" cy="592.46" rx="1.16" ry="0.76" fill="#dca8da"/><ellipse cx="810.65" cy="596.69" rx="0.84" ry="0.4" fill="#d8a0d6"/><ellipse cx="802.79" cy="579.84" rx="0.67" ry="0.88" fill="#d8a0d6"/><ellipse cx="776.71" cy="574.85" rx="0.96" ry="0.81" fill="#f6e4f2"/><ellipse cx="758.74" cy="571.26" rx="0.98" ry="0.68" fill="#fff"/><ellipse cx="751.22" cy="571.75" rx="1.03" ry="0.62" fill="#e0a8dc"/><ellipse cx="748.38" cy="576.48" rx="0.91" ry="0.45" fill="#fff"/><ellipse cx="774.81" cy="598.27" rx="1.03" ry="0.79" fill="#fff"/><ellipse cx="772.36" cy="605.09" rx="0.72" ry="0.77" fill="#e0a8dc"/><ellipse cx="744.52" cy="586.69" rx="1.09" ry="0.65" fill="#dca8da"/><ellipse cx="755.78" cy="603.76" rx="1.1" ry="0.45" fill="#f6e4f2"/><ellipse cx="777.85" cy="577.25" rx="0.66" ry="0.52" fill="#fbf2f9"/><ellipse cx="779.31" cy="577.34" rx="0.45" ry="0.47" fill="#d8a0d6"/><ellipse cx="748.79" cy="579.76" rx="1.08" ry="0.39" fill="#fbf2f9"/><ellipse cx="765.4" cy="571.27" rx="1.01" ry="0.84" fill="#e0a8dc"/><ellipse cx="745.64" cy="596.56" rx="0.86" ry="0.36" fill="#dca8da"/><ellipse cx="815.98" cy="575.5" rx="1.05" ry="0.33" fill="#d8a0d6"/><ellipse cx="789.61" cy="591.07" rx="0.57" ry="0.85" fill="#dca8da"/><ellipse cx="774.32" cy="574.79" rx="0.6" ry="0.4" fill="#f6e4f2"/><ellipse cx="815.33" cy="567.32" rx="1.17" ry="0.88" fill="#fbf2f9"/><ellipse cx="760.85" cy="580.95" rx="0.57" ry="0.72" fill="#dca8da"/><ellipse cx="810.4" cy="574.05" rx="0.83" ry="0.5" fill="#d8a0d6"/><ellipse cx="809.83" cy="600.56" rx="0.66" ry="0.75" fill="#fbf2f9"/><ellipse cx="794.97" cy="596.13" rx="1.19" ry="0.45" fill="#f6e4f2"/><ellipse cx="817.85" cy="579.87" rx="1.14" ry="0.77" fill="#dca8da"/><ellipse cx="796.88" cy="567.91" rx="0.65" ry="0.46" fill="#fff"/><ellipse cx="802.42" cy="591.24" rx="0.61" ry="0.37" fill="#e0a8dc"/><ellipse cx="743.76" cy="575.19" rx="1.28" ry="0.6" fill="#dca8da"/><ellipse cx="795.36" cy="587.3" rx="0.99" ry="0.56" fill="#fbf2f9"/><ellipse cx="792.5" cy="578.57" rx="0.87" ry="0.33" fill="#fbf2f9"/><ellipse cx="796.24" cy="596.9" rx="0.81" ry="0.76" fill="#fbf2f9"/><ellipse cx="745.6" cy="592.2" rx="0.56" ry="0.65" fill="#f6e4f2"/><ellipse cx="791.64" cy="601.6" rx="0.77" ry="0.54" fill="#d8a0d6"/><ellipse cx="797.41" cy="571.42" rx="0.4" ry="0.55" fill="#d8a0d6"/><ellipse cx="802.24" cy="601.82" rx="0.96" ry="0.49" fill="#dca8da"/><ellipse cx="795.38" cy="600.56" rx="0.88" ry="0.69" fill="#fbf2f9"/><ellipse cx="789.92" cy="574.97" rx="1.14" ry="0.47" fill="#fbf2f9"/><ellipse cx="801.6" cy="566.94" rx="0.44" ry="0.77" fill="#d8a0d6"/><ellipse cx="794.73" cy="586.93" rx="1.12" ry="0.4" fill="#f6e4f2"/><ellipse cx="785.58" cy="588.91" rx="1.16" ry="0.67" fill="#fbf2f9"/><ellipse cx="754.77" cy="597.16" rx="0.56" ry="0.74" fill="#f6e4f2"/><ellipse cx="773.32" cy="579.82" rx="0.76" ry="0.77" fill="#e0a8dc"/><ellipse cx="807.04" cy="596.57" rx="0.44" ry="0.48" fill="#e0a8dc"/><ellipse cx="759.25" cy="599.57" rx="1.3" ry="0.35" fill="#fbf2f9"/><ellipse cx="815.4" cy="603.44" rx="1.04" ry="0.86" fill="#dca8da"/><ellipse cx="755.87" cy="595.5" rx="1.28" ry="0.83" fill="#dca8da"/><ellipse cx="811.36" cy="570.18" rx="0.9" ry="0.84" fill="#e0a8dc"/><ellipse cx="812.98" cy="599.4" rx="0.95" ry="0.31" fill="#f6e4f2"/><ellipse cx="800.3" cy="606.22" rx="0.53" ry="0.68" fill="#fff"/><ellipse cx="789.9" cy="569.3" rx="0.48" ry="0.54" fill="#dca8da"/><ellipse cx="816.86" cy="601.25" rx="0.84" ry="0.46" fill="#dca8da"/></g>
<clipPath id="hl1"><rect x="741.9" y="609.5" width="76.2" height="40.5"/></clipPath>
<g clip-path="url(#hl1)"><rect x="741.9" y="609.5" width="76.2" height="40.5" fill="#e8c0e2"/><path d="M748 612 L760 611 L764 615 L764 628 L770 623 L790 614 L818 612 V622 L790 623 L772 631 L760 634 L752 630 L748 622Z" fill="#c07cc6"/><path d="M768 609.5 L772 614 L777 617 L790 611 L790 609.5Z" fill="#fff"/><rect x="741" y="646" width="77" height="4" fill="#f6e8f2"/><ellipse cx="785.01" cy="635.39" rx="0.67" ry="0.86" fill="#fbf2f9"/><ellipse cx="752.74" cy="646.7" rx="0.68" ry="0.46" fill="#e0a8dc"/><ellipse cx="768.76" cy="631.26" rx="0.73" ry="0.61" fill="#f6e4f2"/><ellipse cx="811.35" cy="635.48" rx="0.81" ry="0.58" fill="#fbf2f9"/><ellipse cx="781.19" cy="619.29" rx="0.83" ry="0.76" fill="#fff"/><ellipse cx="794.16" cy="622.27" rx="0.93" ry="0.59" fill="#fff"/><ellipse cx="773.92" cy="618.8" rx="0.58" ry="0.41" fill="#d8a0d6"/><ellipse cx="783.11" cy="648.36" rx="0.49" ry="0.73" fill="#fbf2f9"/><ellipse cx="762.12" cy="639.89" rx="0.94" ry="0.46" fill="#dca8da"/><ellipse cx="780.15" cy="613.02" rx="0.98" ry="0.68" fill="#fff"/><ellipse cx="750.72" cy="621.37" rx="0.58" ry="0.62" fill="#f6e4f2"/><ellipse cx="794.98" cy="630.17" rx="0.86" ry="0.78" fill="#fff"/><ellipse cx="790.45" cy="635.44" rx="0.78" ry="0.71" fill="#e0a8dc"/><ellipse cx="793.33" cy="620.07" rx="0.56" ry="0.42" fill="#e0a8dc"/><ellipse cx="796.1" cy="648.72" rx="0.58" ry="0.7" fill="#dca8da"/><ellipse cx="817.52" cy="647.23" rx="1" ry="0.54" fill="#e0a8dc"/><ellipse cx="763.48" cy="639.17" rx="0.45" ry="0.52" fill="#fbf2f9"/><ellipse cx="770.41" cy="623.31" rx="0.86" ry="0.46" fill="#dca8da"/><ellipse cx="754.13" cy="645.78" rx="0.49" ry="0.69" fill="#fbf2f9"/><ellipse cx="811" cy="616.43" rx="0.56" ry="0.66" fill="#fff"/><ellipse cx="796.85" cy="636.79" rx="0.43" ry="0.33" fill="#f6e4f2"/><ellipse cx="793.2" cy="642.96" rx="0.94" ry="0.4" fill="#fff"/><ellipse cx="772.14" cy="642.74" rx="1.11" ry="0.89" fill="#dca8da"/><ellipse cx="753.03" cy="647.43" rx="0.98" ry="0.57" fill="#dca8da"/><ellipse cx="772.67" cy="648.49" rx="0.51" ry="0.7" fill="#d8a0d6"/><ellipse cx="791.01" cy="643.08" rx="0.5" ry="0.5" fill="#f6e4f2"/><ellipse cx="750.66" cy="624.94" rx="0.7" ry="0.54" fill="#e0a8dc"/><ellipse cx="797.55" cy="620.56" rx="1.22" ry="0.33" fill="#e0a8dc"/><ellipse cx="800.27" cy="646.52" rx="0.63" ry="0.51" fill="#fff"/><ellipse cx="779.89" cy="622.43" rx="0.81" ry="0.55" fill="#f6e4f2"/><ellipse cx="776.31" cy="628.9" rx="1.2" ry="0.78" fill="#d8a0d6"/><ellipse cx="773.25" cy="635.6" rx="1.09" ry="0.74" fill="#f6e4f2"/><ellipse cx="785.67" cy="619.27" rx="0.64" ry="0.78" fill="#d8a0d6"/><ellipse cx="774.41" cy="641.13" rx="1.1" ry="0.53" fill="#e0a8dc"/><ellipse cx="767.99" cy="647.81" rx="0.68" ry="0.8" fill="#fbf2f9"/><ellipse cx="763.56" cy="642.88" rx="0.8" ry="0.88" fill="#e0a8dc"/><ellipse cx="748.77" cy="620.6" rx="0.51" ry="0.6" fill="#e0a8dc"/><ellipse cx="791.72" cy="622.44" rx="0.7" ry="0.44" fill="#dca8da"/><ellipse cx="761.68" cy="641.19" rx="0.56" ry="0.75" fill="#fbf2f9"/><ellipse cx="747.78" cy="624.56" rx="0.88" ry="0.88" fill="#dca8da"/><ellipse cx="781.03" cy="629.38" rx="1.08" ry="0.39" fill="#fff"/><ellipse cx="803.15" cy="625.67" rx="1.27" ry="0.6" fill="#e0a8dc"/><ellipse cx="773.61" cy="618.69" rx="1.14" ry="0.31" fill="#d8a0d6"/><ellipse cx="791.31" cy="617.71" rx="0.94" ry="0.66" fill="#d8a0d6"/><ellipse cx="797.95" cy="632.48" rx="0.65" ry="0.36" fill="#dca8da"/><ellipse cx="786.29" cy="620.41" rx="1.02" ry="0.8" fill="#f6e4f2"/><ellipse cx="760.52" cy="629.14" rx="0.78" ry="0.34" fill="#dca8da"/><ellipse cx="816.77" cy="639.59" rx="0.42" ry="0.62" fill="#d8a0d6"/><ellipse cx="751.65" cy="648.73" rx="1.26" ry="0.53" fill="#fff"/><ellipse cx="813.93" cy="628.29" rx="0.92" ry="0.46" fill="#f6e4f2"/><ellipse cx="789.8" cy="611.54" rx="0.69" ry="0.41" fill="#e0a8dc"/><ellipse cx="745.09" cy="648.34" rx="0.91" ry="0.8" fill="#fbf2f9"/><ellipse cx="780.88" cy="616.05" rx="0.87" ry="0.77" fill="#fff"/><ellipse cx="816.45" cy="619.99" rx="0.97" ry="0.35" fill="#e0a8dc"/><ellipse cx="781.85" cy="624.92" rx="1.11" ry="0.45" fill="#dca8da"/><ellipse cx="778.91" cy="635.16" rx="0.62" ry="0.7" fill="#d8a0d6"/><ellipse cx="758.45" cy="615.85" rx="1.04" ry="0.68" fill="#dca8da"/><ellipse cx="772" cy="633" rx="0.88" ry="0.59" fill="#f6e4f2"/><ellipse cx="761.63" cy="646.67" rx="0.56" ry="0.8" fill="#fbf2f9"/><ellipse cx="752.49" cy="646.44" rx="0.6" ry="0.85" fill="#fff"/><ellipse cx="790.27" cy="617.66" rx="1.17" ry="0.49" fill="#d8a0d6"/><ellipse cx="807.81" cy="614.78" rx="0.65" ry="0.7" fill="#d8a0d6"/><ellipse cx="763.23" cy="624.07" rx="0.59" ry="0.79" fill="#d8a0d6"/><ellipse cx="755.88" cy="643.83" rx="1.19" ry="0.32" fill="#d8a0d6"/><ellipse cx="801.69" cy="619.45" rx="0.97" ry="0.65" fill="#d8a0d6"/><ellipse cx="772.94" cy="635.66" rx="0.71" ry="0.63" fill="#d8a0d6"/><ellipse cx="798.51" cy="611.46" rx="1.12" ry="0.39" fill="#f6e4f2"/><ellipse cx="793.17" cy="627.86" rx="0.54" ry="0.88" fill="#fff"/><ellipse cx="775.15" cy="637.23" rx="0.53" ry="0.82" fill="#fbf2f9"/><ellipse cx="781.33" cy="611.22" rx="0.51" ry="0.64" fill="#dca8da"/><ellipse cx="780.29" cy="622.42" rx="1.24" ry="0.47" fill="#dca8da"/><ellipse cx="743.27" cy="619.51" rx="1.14" ry="0.41" fill="#dca8da"/><ellipse cx="766.94" cy="628.21" rx="0.71" ry="0.41" fill="#e0a8dc"/><ellipse cx="796.09" cy="627.18" rx="1.14" ry="0.43" fill="#e0a8dc"/><ellipse cx="791.55" cy="617.09" rx="1.13" ry="0.73" fill="#fff"/><ellipse cx="779.26" cy="634.19" rx="0.55" ry="0.51" fill="#dca8da"/><ellipse cx="753.35" cy="627.55" rx="1.17" ry="0.63" fill="#fff"/><ellipse cx="817.68" cy="628.67" rx="0.47" ry="0.53" fill="#d8a0d6"/><ellipse cx="785.42" cy="642.65" rx="0.45" ry="0.49" fill="#fff"/><ellipse cx="764.71" cy="631.24" rx="0.94" ry="0.31" fill="#d8a0d6"/><ellipse cx="791.96" cy="609.51" rx="0.8" ry="0.78" fill="#d8a0d6"/><ellipse cx="805.42" cy="637.26" rx="0.47" ry="0.42" fill="#e0a8dc"/><ellipse cx="794.86" cy="646.94" rx="1.28" ry="0.71" fill="#f6e4f2"/><ellipse cx="753.99" cy="617.75" rx="0.42" ry="0.35" fill="#dca8da"/><ellipse cx="809.8" cy="629.37" rx="0.43" ry="0.59" fill="#fff"/><ellipse cx="774.7" cy="633.41" rx="1.1" ry="0.81" fill="#fbf2f9"/><ellipse cx="817.51" cy="632.41" rx="1.06" ry="0.38" fill="#e0a8dc"/><ellipse cx="756.91" cy="640.97" rx="1.08" ry="0.82" fill="#e0a8dc"/><ellipse cx="781.08" cy="621.54" rx="0.72" ry="0.54" fill="#dca8da"/><ellipse cx="796.52" cy="620.02" rx="0.89" ry="0.55" fill="#fff"/><ellipse cx="813.59" cy="611.16" rx="1.28" ry="0.38" fill="#fbf2f9"/><ellipse cx="810.39" cy="635.3" rx="1.16" ry="0.47" fill="#dca8da"/><ellipse cx="796.65" cy="631.21" rx="1.04" ry="0.62" fill="#dca8da"/><ellipse cx="748.78" cy="644.3" rx="0.6" ry="0.46" fill="#d8a0d6"/><ellipse cx="774.25" cy="613.38" rx="0.41" ry="0.89" fill="#d8a0d6"/><ellipse cx="767.73" cy="648.6" rx="1.18" ry="0.73" fill="#f6e4f2"/><ellipse cx="792.12" cy="642.34" rx="0.51" ry="0.54" fill="#d8a0d6"/><ellipse cx="752.88" cy="611.93" rx="1.06" ry="0.38" fill="#fbf2f9"/><ellipse cx="811.62" cy="633.81" rx="0.86" ry="0.46" fill="#dca8da"/><ellipse cx="784.93" cy="615.98" rx="1.28" ry="0.52" fill="#f6e4f2"/><ellipse cx="775.01" cy="621.05" rx="0.98" ry="0.84" fill="#d8a0d6"/><ellipse cx="802.46" cy="618.19" rx="0.94" ry="0.59" fill="#fbf2f9"/><ellipse cx="766.62" cy="629.11" rx="1.16" ry="0.41" fill="#f6e4f2"/><ellipse cx="809.1" cy="615.63" rx="0.77" ry="0.69" fill="#fff"/><ellipse cx="762.98" cy="631.78" rx="0.75" ry="0.53" fill="#fbf2f9"/><ellipse cx="775.27" cy="615.93" rx="1.12" ry="0.89" fill="#e0a8dc"/><ellipse cx="759.68" cy="648.13" rx="0.81" ry="0.73" fill="#dca8da"/><ellipse cx="751.37" cy="632.39" rx="0.96" ry="0.46" fill="#d8a0d6"/><ellipse cx="756.64" cy="635.56" rx="0.46" ry="0.3" fill="#f6e4f2"/><ellipse cx="817.73" cy="623.18" rx="1.22" ry="0.75" fill="#f6e4f2"/><ellipse cx="783.89" cy="622.88" rx="0.95" ry="0.86" fill="#fff"/><ellipse cx="751.41" cy="618.21" rx="1.12" ry="0.3" fill="#fff"/><ellipse cx="797.12" cy="634.91" rx="1.23" ry="0.89" fill="#dca8da"/><ellipse cx="751.94" cy="610.64" rx="0.86" ry="0.82" fill="#fbf2f9"/><ellipse cx="803.31" cy="617.44" rx="0.65" ry="0.85" fill="#fbf2f9"/><ellipse cx="752.55" cy="619.5" rx="1.27" ry="0.52" fill="#fbf2f9"/><ellipse cx="797.32" cy="632.37" rx="0.84" ry="0.32" fill="#fff"/><ellipse cx="784.39" cy="643.98" rx="0.91" ry="0.35" fill="#dca8da"/><ellipse cx="750.1" cy="616.09" rx="0.61" ry="0.6" fill="#dca8da"/><ellipse cx="815" cy="633.43" rx="0.56" ry="0.52" fill="#dca8da"/><ellipse cx="786.11" cy="625.04" rx="0.88" ry="0.85" fill="#f6e4f2"/><ellipse cx="742.58" cy="641.65" rx="0.66" ry="0.46" fill="#fbf2f9"/><ellipse cx="767.15" cy="631.45" rx="1.03" ry="0.78" fill="#fbf2f9"/><ellipse cx="783.04" cy="622.38" rx="1.05" ry="0.3" fill="#dca8da"/><ellipse cx="743.99" cy="640.24" rx="0.77" ry="0.52" fill="#e0a8dc"/><ellipse cx="787.7" cy="621.48" rx="0.69" ry="0.85" fill="#d8a0d6"/><ellipse cx="776.44" cy="638.03" rx="0.6" ry="0.34" fill="#dca8da"/><ellipse cx="744.02" cy="614.64" rx="0.43" ry="0.73" fill="#f6e4f2"/><ellipse cx="776.65" cy="633.3" rx="1.22" ry="0.54" fill="#d8a0d6"/><ellipse cx="773.63" cy="642.95" rx="1.23" ry="0.39" fill="#e0a8dc"/><ellipse cx="808.5" cy="634.58" rx="0.58" ry="0.86" fill="#fff"/><ellipse cx="806.1" cy="634.56" rx="0.72" ry="0.43" fill="#dca8da"/><ellipse cx="748.43" cy="638.36" rx="0.6" ry="0.53" fill="#dca8da"/><ellipse cx="743.38" cy="644.2" rx="0.86" ry="0.55" fill="#d8a0d6"/><ellipse cx="802.18" cy="614.8" rx="0.46" ry="0.56" fill="#fff"/><ellipse cx="817.19" cy="609.93" rx="1.29" ry="0.36" fill="#fbf2f9"/><ellipse cx="815.94" cy="648.65" rx="0.48" ry="0.66" fill="#dca8da"/><ellipse cx="745.53" cy="627.63" rx="1.08" ry="0.77" fill="#d8a0d6"/><ellipse cx="750.71" cy="633.92" rx="1.22" ry="0.74" fill="#fbf2f9"/><ellipse cx="806.63" cy="621.77" rx="0.87" ry="0.44" fill="#e0a8dc"/><ellipse cx="812" cy="609.75" rx="0.65" ry="0.84" fill="#dca8da"/><ellipse cx="788.17" cy="628.08" rx="1.01" ry="0.69" fill="#fbf2f9"/><ellipse cx="788.23" cy="632.64" rx="1.23" ry="0.84" fill="#d8a0d6"/><ellipse cx="792.69" cy="623.22" rx="0.83" ry="0.68" fill="#fff"/><ellipse cx="784.91" cy="629.48" rx="1.2" ry="0.75" fill="#f6e4f2"/><ellipse cx="757.38" cy="623.07" rx="1.14" ry="0.48" fill="#f6e4f2"/><ellipse cx="772.73" cy="630.58" rx="0.51" ry="0.85" fill="#fff"/><ellipse cx="812.14" cy="640.74" rx="0.97" ry="0.6" fill="#fbf2f9"/><ellipse cx="770.39" cy="642.21" rx="0.42" ry="0.35" fill="#fff"/><ellipse cx="804.55" cy="610.41" rx="0.57" ry="0.89" fill="#dca8da"/><ellipse cx="777.79" cy="634.04" rx="1.14" ry="0.55" fill="#fff"/><ellipse cx="776.97" cy="641.44" rx="0.88" ry="0.35" fill="#d8a0d6"/><ellipse cx="816.78" cy="625.6" rx="0.71" ry="0.51" fill="#fbf2f9"/><ellipse cx="749.85" cy="643.22" rx="1.15" ry="0.33" fill="#f6e4f2"/><ellipse cx="756.49" cy="634.47" rx="0.46" ry="0.45" fill="#d8a0d6"/><ellipse cx="762.34" cy="637.9" rx="0.47" ry="0.58" fill="#d8a0d6"/><ellipse cx="816.37" cy="648.82" rx="0.46" ry="0.54" fill="#fff"/><ellipse cx="813.12" cy="611.91" rx="0.82" ry="0.34" fill="#fbf2f9"/><ellipse cx="791.73" cy="646.68" rx="0.9" ry="0.36" fill="#fbf2f9"/><ellipse cx="747.53" cy="611.8" rx="0.49" ry="0.59" fill="#fbf2f9"/></g>
<clipPath id="hl2"><rect x="741.9" y="653.8" width="76.2" height="39.4"/></clipPath>
<g clip-path="url(#hl2)"><rect x="741.9" y="653.8" width="76.2" height="39.4" fill="#e8c0e2"/><path d="M741 653.8 L756 653.8 L741 664Z" fill="#fff"/><path d="M741 667 Q770 655 818 657 V664 Q775 662 741 673Z" fill="#c684c9"/><path d="M768 693.2 L771 684 L776 680 L781 684 L785 693.2Z" fill="#fff"/><ellipse cx="798" cy="688" rx="7" ry="4" fill="#f6e6f3"/><ellipse cx="804.47" cy="661.71" rx="0.96" ry="0.7" fill="#dca8da"/><ellipse cx="799.49" cy="666.7" rx="1.14" ry="0.88" fill="#dca8da"/><ellipse cx="743.7" cy="656.1" rx="1.19" ry="0.33" fill="#fff"/><ellipse cx="775.21" cy="672.03" rx="0.78" ry="0.76" fill="#fbf2f9"/><ellipse cx="753.68" cy="671.33" rx="0.87" ry="0.76" fill="#e0a8dc"/><ellipse cx="799.33" cy="689.45" rx="1.22" ry="0.49" fill="#fff"/><ellipse cx="804.95" cy="658.69" rx="0.96" ry="0.58" fill="#e0a8dc"/><ellipse cx="786.45" cy="680.56" rx="1.27" ry="0.79" fill="#f6e4f2"/><ellipse cx="758.85" cy="657.32" rx="0.71" ry="0.74" fill="#fff"/><ellipse cx="790.82" cy="687.73" rx="0.64" ry="0.79" fill="#e0a8dc"/><ellipse cx="815.11" cy="690.9" rx="0.51" ry="0.81" fill="#f6e4f2"/><ellipse cx="768.16" cy="684.73" rx="1.26" ry="0.49" fill="#fbf2f9"/><ellipse cx="786.12" cy="689.79" rx="0.92" ry="0.52" fill="#e0a8dc"/><ellipse cx="806.1" cy="659.82" rx="1.11" ry="0.52" fill="#e0a8dc"/><ellipse cx="787.98" cy="680.46" rx="1.25" ry="0.55" fill="#f6e4f2"/><ellipse cx="808.02" cy="683.16" rx="0.42" ry="0.46" fill="#d8a0d6"/><ellipse cx="744.25" cy="682.82" rx="1.23" ry="0.8" fill="#fbf2f9"/><ellipse cx="750.29" cy="660.33" rx="0.77" ry="0.77" fill="#d8a0d6"/><ellipse cx="775.76" cy="660.73" rx="0.62" ry="0.54" fill="#e0a8dc"/><ellipse cx="761.94" cy="668.52" rx="0.77" ry="0.8" fill="#fff"/><ellipse cx="768.91" cy="691.38" rx="0.72" ry="0.86" fill="#d8a0d6"/><ellipse cx="803.79" cy="691.93" rx="0.78" ry="0.57" fill="#fff"/><ellipse cx="751.78" cy="675.01" rx="0.57" ry="0.49" fill="#fff"/><ellipse cx="746.91" cy="671.68" rx="0.99" ry="0.43" fill="#dca8da"/><ellipse cx="801.66" cy="688.86" rx="0.79" ry="0.72" fill="#fbf2f9"/><ellipse cx="747.55" cy="676.3" rx="0.46" ry="0.87" fill="#e0a8dc"/><ellipse cx="807.99" cy="671.53" rx="0.97" ry="0.55" fill="#fbf2f9"/><ellipse cx="771.58" cy="688.3" rx="0.43" ry="0.87" fill="#dca8da"/><ellipse cx="759.19" cy="678.5" rx="0.7" ry="0.87" fill="#e0a8dc"/><ellipse cx="762.01" cy="677.06" rx="0.66" ry="0.82" fill="#fbf2f9"/><ellipse cx="799.57" cy="659.68" rx="0.5" ry="0.78" fill="#dca8da"/><ellipse cx="785.81" cy="690.97" rx="1.23" ry="0.41" fill="#fff"/><ellipse cx="799.88" cy="669.92" rx="0.97" ry="0.82" fill="#f6e4f2"/><ellipse cx="782.74" cy="661.87" rx="1.04" ry="0.39" fill="#d8a0d6"/><ellipse cx="777.01" cy="687.33" rx="0.64" ry="0.85" fill="#fff"/><ellipse cx="782.01" cy="666.88" rx="1.02" ry="0.82" fill="#dca8da"/><ellipse cx="785.76" cy="691.16" rx="0.99" ry="0.44" fill="#fff"/><ellipse cx="799.48" cy="683.36" rx="1.08" ry="0.87" fill="#fff"/><ellipse cx="803.11" cy="672.47" rx="0.92" ry="0.85" fill="#f6e4f2"/><ellipse cx="748.39" cy="682.37" rx="1.22" ry="0.77" fill="#e0a8dc"/><ellipse cx="776.45" cy="676.01" rx="0.79" ry="0.51" fill="#f6e4f2"/><ellipse cx="762.11" cy="681.78" rx="0.87" ry="0.4" fill="#e0a8dc"/><ellipse cx="755.44" cy="657.17" rx="1.07" ry="0.61" fill="#dca8da"/><ellipse cx="799.29" cy="684.98" rx="1.12" ry="0.6" fill="#dca8da"/><ellipse cx="745.42" cy="660.45" rx="0.62" ry="0.42" fill="#d8a0d6"/><ellipse cx="769.66" cy="689.38" rx="0.55" ry="0.74" fill="#d8a0d6"/><ellipse cx="817.76" cy="681.45" rx="1.23" ry="0.49" fill="#fbf2f9"/><ellipse cx="748.56" cy="691.94" rx="1.18" ry="0.59" fill="#fff"/><ellipse cx="795.75" cy="660.46" rx="0.91" ry="0.41" fill="#d8a0d6"/><ellipse cx="789.49" cy="686.3" rx="0.69" ry="0.71" fill="#dca8da"/><ellipse cx="746.55" cy="666.92" rx="0.77" ry="0.65" fill="#d8a0d6"/><ellipse cx="762.53" cy="664.52" rx="0.66" ry="0.59" fill="#e0a8dc"/><ellipse cx="805.06" cy="675.69" rx="0.58" ry="0.41" fill="#fbf2f9"/><ellipse cx="746.81" cy="681.61" rx="0.96" ry="0.83" fill="#d8a0d6"/><ellipse cx="747.37" cy="683.92" rx="1.26" ry="0.86" fill="#dca8da"/><ellipse cx="782.07" cy="662.46" rx="0.6" ry="0.34" fill="#fff"/><ellipse cx="770.39" cy="682.91" rx="0.76" ry="0.82" fill="#e0a8dc"/><ellipse cx="760.62" cy="681.86" rx="0.84" ry="0.63" fill="#f6e4f2"/><ellipse cx="798.49" cy="676.38" rx="1.23" ry="0.61" fill="#fbf2f9"/><ellipse cx="769.36" cy="673.66" rx="1.05" ry="0.76" fill="#fbf2f9"/><ellipse cx="806.73" cy="664.39" rx="0.75" ry="0.49" fill="#d8a0d6"/><ellipse cx="746.52" cy="654.69" rx="0.53" ry="0.83" fill="#fff"/><ellipse cx="776.83" cy="670.1" rx="0.97" ry="0.46" fill="#fbf2f9"/><ellipse cx="759.48" cy="666.75" rx="0.82" ry="0.53" fill="#fbf2f9"/><ellipse cx="805.15" cy="669.37" rx="1.02" ry="0.75" fill="#e0a8dc"/><ellipse cx="750.38" cy="680.6" rx="1.09" ry="0.81" fill="#fbf2f9"/><ellipse cx="790.41" cy="693.18" rx="0.41" ry="0.65" fill="#e0a8dc"/><ellipse cx="781.91" cy="679.35" rx="1.25" ry="0.51" fill="#f6e4f2"/><ellipse cx="800.02" cy="666.71" rx="0.41" ry="0.33" fill="#e0a8dc"/><ellipse cx="809.88" cy="664.59" rx="0.83" ry="0.42" fill="#f6e4f2"/><ellipse cx="780.25" cy="686.08" rx="1.29" ry="0.33" fill="#fff"/><ellipse cx="805.02" cy="677.22" rx="0.75" ry="0.75" fill="#fbf2f9"/><ellipse cx="763.64" cy="686.35" rx="1.26" ry="0.49" fill="#fbf2f9"/><ellipse cx="758.92" cy="658.86" rx="1.2" ry="0.37" fill="#d8a0d6"/><ellipse cx="782.16" cy="668.09" rx="1.03" ry="0.8" fill="#d8a0d6"/><ellipse cx="782.32" cy="664.91" rx="1.23" ry="0.55" fill="#e0a8dc"/><ellipse cx="815.27" cy="682.56" rx="0.7" ry="0.77" fill="#f6e4f2"/><ellipse cx="777.76" cy="684.66" rx="0.48" ry="0.55" fill="#fff"/><ellipse cx="766.46" cy="681.68" rx="1.13" ry="0.56" fill="#dca8da"/><ellipse cx="752.47" cy="691.88" rx="1.23" ry="0.36" fill="#f6e4f2"/><ellipse cx="811.06" cy="662.41" rx="1.25" ry="0.59" fill="#f6e4f2"/><ellipse cx="745.28" cy="662.98" rx="1.27" ry="0.77" fill="#e0a8dc"/><ellipse cx="804.97" cy="660.04" rx="0.74" ry="0.84" fill="#d8a0d6"/><ellipse cx="762.81" cy="677.43" rx="0.64" ry="0.64" fill="#f6e4f2"/><ellipse cx="788.24" cy="692.09" rx="0.76" ry="0.65" fill="#dca8da"/><ellipse cx="782.77" cy="664.11" rx="0.42" ry="0.56" fill="#f6e4f2"/><ellipse cx="817.89" cy="670.17" rx="0.82" ry="0.75" fill="#f6e4f2"/><ellipse cx="785.88" cy="668.84" rx="0.98" ry="0.39" fill="#f6e4f2"/><ellipse cx="806.32" cy="656.76" rx="0.97" ry="0.86" fill="#d8a0d6"/><ellipse cx="798.52" cy="690.15" rx="0.51" ry="0.41" fill="#fff"/><ellipse cx="777.42" cy="658.19" rx="1.16" ry="0.78" fill="#dca8da"/><ellipse cx="810.03" cy="662.76" rx="1.13" ry="0.35" fill="#f6e4f2"/><ellipse cx="750.97" cy="655.62" rx="0.89" ry="0.31" fill="#fff"/><ellipse cx="789.1" cy="665.05" rx="0.75" ry="0.8" fill="#e0a8dc"/><ellipse cx="799.21" cy="668.55" rx="0.9" ry="0.46" fill="#fff"/><ellipse cx="788.04" cy="686.62" rx="0.87" ry="0.56" fill="#dca8da"/><ellipse cx="816.8" cy="660.55" rx="0.9" ry="0.36" fill="#fff"/><ellipse cx="784.78" cy="661.2" rx="1.07" ry="0.8" fill="#dca8da"/><ellipse cx="782.05" cy="660.5" rx="1.19" ry="0.86" fill="#fff"/><ellipse cx="753.43" cy="657" rx="0.99" ry="0.43" fill="#dca8da"/><ellipse cx="803.09" cy="675.43" rx="0.94" ry="0.42" fill="#d8a0d6"/><ellipse cx="792.66" cy="678.39" rx="1.16" ry="0.45" fill="#f6e4f2"/><ellipse cx="797.46" cy="687.96" rx="1.08" ry="0.74" fill="#e0a8dc"/><ellipse cx="780.94" cy="674.9" rx="0.97" ry="0.38" fill="#fff"/><ellipse cx="807.1" cy="657.8" rx="1.25" ry="0.52" fill="#fff"/><ellipse cx="803.81" cy="688.06" rx="0.75" ry="0.39" fill="#fbf2f9"/><ellipse cx="749.62" cy="662.92" rx="0.52" ry="0.75" fill="#dca8da"/><ellipse cx="750.6" cy="685.98" rx="1.19" ry="0.53" fill="#f6e4f2"/><ellipse cx="816.18" cy="670.12" rx="1.04" ry="0.44" fill="#e0a8dc"/><ellipse cx="804.84" cy="684.21" rx="0.6" ry="0.43" fill="#dca8da"/><ellipse cx="779.51" cy="660.58" rx="0.98" ry="0.42" fill="#d8a0d6"/><ellipse cx="760.61" cy="690.36" rx="1.06" ry="0.56" fill="#dca8da"/><ellipse cx="812.18" cy="675.2" rx="1.06" ry="0.73" fill="#fff"/><ellipse cx="742.78" cy="663.16" rx="0.95" ry="0.73" fill="#e0a8dc"/><ellipse cx="806.31" cy="680.4" rx="0.82" ry="0.87" fill="#f6e4f2"/><ellipse cx="781.52" cy="663.11" rx="0.99" ry="0.54" fill="#d8a0d6"/><ellipse cx="799.11" cy="674.99" rx="0.41" ry="0.34" fill="#dca8da"/><ellipse cx="777.28" cy="668.92" rx="1.29" ry="0.5" fill="#f6e4f2"/><ellipse cx="769.93" cy="675.36" rx="0.54" ry="0.32" fill="#d8a0d6"/><ellipse cx="809.45" cy="667.9" rx="1.09" ry="0.86" fill="#fbf2f9"/><ellipse cx="813.02" cy="664.33" rx="1.02" ry="0.68" fill="#e0a8dc"/><ellipse cx="779.08" cy="690.07" rx="0.69" ry="0.49" fill="#fff"/><ellipse cx="781.7" cy="657.98" rx="1.05" ry="0.58" fill="#fbf2f9"/><ellipse cx="766.3" cy="667.08" rx="1.22" ry="0.87" fill="#dca8da"/><ellipse cx="752.66" cy="672.37" rx="0.6" ry="0.61" fill="#fbf2f9"/><ellipse cx="792.38" cy="677.15" rx="1.27" ry="0.5" fill="#e0a8dc"/><ellipse cx="786.83" cy="691.54" rx="0.91" ry="0.78" fill="#dca8da"/><ellipse cx="763.3" cy="664.93" rx="0.48" ry="0.78" fill="#dca8da"/><ellipse cx="751.3" cy="691.91" rx="1.18" ry="0.62" fill="#e0a8dc"/><ellipse cx="795.27" cy="668.44" rx="0.7" ry="0.58" fill="#f6e4f2"/><ellipse cx="815.18" cy="675.69" rx="1.28" ry="0.48" fill="#f6e4f2"/><ellipse cx="785.37" cy="682.74" rx="1.13" ry="0.49" fill="#e0a8dc"/><ellipse cx="774.75" cy="688.11" rx="0.69" ry="0.51" fill="#f6e4f2"/><ellipse cx="802.94" cy="688.82" rx="1.24" ry="0.41" fill="#fff"/><ellipse cx="802.88" cy="674.54" rx="0.81" ry="0.33" fill="#e0a8dc"/><ellipse cx="765.43" cy="664.83" rx="1.04" ry="0.63" fill="#fbf2f9"/><ellipse cx="750.53" cy="691.55" rx="0.69" ry="0.77" fill="#e0a8dc"/><ellipse cx="796.2" cy="657.85" rx="0.43" ry="0.37" fill="#fbf2f9"/><ellipse cx="757.99" cy="663.56" rx="1.13" ry="0.77" fill="#fbf2f9"/><ellipse cx="804.16" cy="659.18" rx="0.47" ry="0.77" fill="#e0a8dc"/><ellipse cx="785.11" cy="672.3" rx="0.82" ry="0.88" fill="#fbf2f9"/><ellipse cx="764.96" cy="667.4" rx="1.21" ry="0.79" fill="#d8a0d6"/><ellipse cx="794.79" cy="664.78" rx="0.96" ry="0.33" fill="#fff"/><ellipse cx="768.03" cy="668.93" rx="1.04" ry="0.78" fill="#f6e4f2"/><ellipse cx="811.7" cy="692.55" rx="1.08" ry="0.58" fill="#d8a0d6"/><ellipse cx="815.19" cy="655.9" rx="1.21" ry="0.78" fill="#fbf2f9"/><ellipse cx="785.38" cy="677.95" rx="0.78" ry="0.78" fill="#dca8da"/><ellipse cx="752.92" cy="658.08" rx="0.87" ry="0.69" fill="#f6e4f2"/><ellipse cx="813.27" cy="658.48" rx="0.8" ry="0.85" fill="#f6e4f2"/><ellipse cx="811.55" cy="682.73" rx="1" ry="0.68" fill="#e0a8dc"/><ellipse cx="772.32" cy="677.62" rx="1.16" ry="0.57" fill="#fbf2f9"/><ellipse cx="797.61" cy="665.24" rx="0.4" ry="0.64" fill="#dca8da"/><ellipse cx="800.29" cy="689.74" rx="1.15" ry="0.51" fill="#fff"/><ellipse cx="782.27" cy="659.39" rx="0.97" ry="0.45" fill="#fbf2f9"/><ellipse cx="747.92" cy="656.86" rx="0.7" ry="0.84" fill="#fbf2f9"/><ellipse cx="765.14" cy="662.13" rx="0.83" ry="0.8" fill="#dca8da"/><ellipse cx="770.98" cy="692.45" rx="1.02" ry="0.53" fill="#fff"/><ellipse cx="805.52" cy="673.82" rx="0.94" ry="0.78" fill="#d8a0d6"/><ellipse cx="752.21" cy="684.38" rx="1.04" ry="0.82" fill="#dca8da"/><ellipse cx="784.03" cy="691.31" rx="0.94" ry="0.55" fill="#fff"/></g>
<clipPath id="hl3"><rect x="741.9" y="696.6" width="76.2" height="40.2"/></clipPath>
<g clip-path="url(#hl3)"><rect x="741.9" y="696.6" width="76.2" height="40.2" fill="#e8c0e2"/><path d="M741 696.6 H818 V712 L790 714 L770 712 L741 716Z" fill="#c27fc7"/><path d="M771 696.6 L775 703 L778 696.6Z" fill="#fff"/><path d="M741 720 Q780 716 818 720 V736.8 H741Z" fill="#f7ecf5"/><ellipse cx="769.42" cy="705.11" rx="1.26" ry="0.62" fill="#fff"/><ellipse cx="791.38" cy="719.57" rx="1.04" ry="0.72" fill="#f6e4f2"/><ellipse cx="742.69" cy="735.43" rx="0.42" ry="0.76" fill="#dca8da"/><ellipse cx="790.3" cy="696.9" rx="0.94" ry="0.32" fill="#fff"/><ellipse cx="798.12" cy="723.68" rx="0.83" ry="0.85" fill="#dca8da"/><ellipse cx="773.48" cy="696.8" rx="0.9" ry="0.47" fill="#f6e4f2"/><ellipse cx="759.78" cy="700.19" rx="0.98" ry="0.83" fill="#e0a8dc"/><ellipse cx="812.7" cy="710.82" rx="0.98" ry="0.68" fill="#dca8da"/><ellipse cx="764.87" cy="717.74" rx="1.15" ry="0.63" fill="#f6e4f2"/><ellipse cx="769.1" cy="724.94" rx="0.92" ry="0.71" fill="#dca8da"/><ellipse cx="785.26" cy="735.69" rx="1.03" ry="0.63" fill="#fbf2f9"/><ellipse cx="794.03" cy="735.06" rx="1.1" ry="0.5" fill="#d8a0d6"/><ellipse cx="762.34" cy="731.01" rx="0.62" ry="0.7" fill="#f6e4f2"/><ellipse cx="743.61" cy="727.6" rx="0.52" ry="0.7" fill="#dca8da"/><ellipse cx="805.34" cy="736.7" rx="1.08" ry="0.35" fill="#e0a8dc"/><ellipse cx="801.91" cy="714.19" rx="0.97" ry="0.42" fill="#fff"/><ellipse cx="810.4" cy="720.47" rx="1.29" ry="0.53" fill="#d8a0d6"/><ellipse cx="776.53" cy="719.43" rx="0.47" ry="0.77" fill="#f6e4f2"/><ellipse cx="815.63" cy="720.93" rx="0.89" ry="0.86" fill="#dca8da"/><ellipse cx="799.64" cy="715.61" rx="0.75" ry="0.61" fill="#dca8da"/><ellipse cx="807.92" cy="731.66" rx="1.01" ry="0.8" fill="#fff"/><ellipse cx="753.66" cy="713.38" rx="1" ry="0.78" fill="#f6e4f2"/><ellipse cx="761.46" cy="721.89" rx="0.64" ry="0.57" fill="#d8a0d6"/><ellipse cx="746.27" cy="733.3" rx="0.88" ry="0.64" fill="#f6e4f2"/><ellipse cx="786.37" cy="707.35" rx="0.93" ry="0.62" fill="#f6e4f2"/><ellipse cx="795.76" cy="709.66" rx="0.59" ry="0.89" fill="#f6e4f2"/><ellipse cx="770.71" cy="726.69" rx="1" ry="0.4" fill="#fbf2f9"/><ellipse cx="816.75" cy="719.35" rx="0.42" ry="0.6" fill="#e0a8dc"/><ellipse cx="787.42" cy="705.51" rx="1.19" ry="0.72" fill="#e0a8dc"/><ellipse cx="804.98" cy="699.85" rx="0.76" ry="0.77" fill="#d8a0d6"/><ellipse cx="755.15" cy="708" rx="1.04" ry="0.81" fill="#d8a0d6"/><ellipse cx="812.52" cy="706.71" rx="0.99" ry="0.84" fill="#fbf2f9"/><ellipse cx="742.83" cy="712.76" rx="0.85" ry="0.43" fill="#f6e4f2"/><ellipse cx="789.64" cy="715.67" rx="1.06" ry="0.53" fill="#d8a0d6"/><ellipse cx="748.24" cy="718.84" rx="1.2" ry="0.62" fill="#dca8da"/><ellipse cx="786.48" cy="703.82" rx="1.05" ry="0.88" fill="#d8a0d6"/><ellipse cx="783.98" cy="721.14" rx="0.6" ry="0.41" fill="#d8a0d6"/><ellipse cx="808.41" cy="727.33" rx="0.63" ry="0.6" fill="#d8a0d6"/><ellipse cx="752.79" cy="705.97" rx="1.27" ry="0.45" fill="#fff"/><ellipse cx="769.63" cy="732.52" rx="0.86" ry="0.7" fill="#dca8da"/><ellipse cx="815.32" cy="711.12" rx="0.76" ry="0.54" fill="#f6e4f2"/><ellipse cx="773.32" cy="721.73" rx="1.18" ry="0.66" fill="#dca8da"/><ellipse cx="750.37" cy="719.78" rx="0.58" ry="0.5" fill="#dca8da"/><ellipse cx="746.19" cy="721.53" rx="0.76" ry="0.74" fill="#d8a0d6"/><ellipse cx="769.1" cy="727.68" rx="0.44" ry="0.7" fill="#f6e4f2"/><ellipse cx="746.59" cy="720.25" rx="0.6" ry="0.32" fill="#e0a8dc"/><ellipse cx="764.52" cy="710.35" rx="1.1" ry="0.49" fill="#fff"/><ellipse cx="756.54" cy="713.19" rx="0.62" ry="0.31" fill="#d8a0d6"/><ellipse cx="745.33" cy="707.73" rx="0.82" ry="0.5" fill="#e0a8dc"/><ellipse cx="753.11" cy="710.73" rx="0.85" ry="0.66" fill="#fff"/><ellipse cx="745.52" cy="697.04" rx="1.08" ry="0.58" fill="#dca8da"/><ellipse cx="761.29" cy="724.64" rx="0.6" ry="0.82" fill="#dca8da"/><ellipse cx="746.53" cy="704.25" rx="1.24" ry="0.41" fill="#dca8da"/><ellipse cx="756.25" cy="696.91" rx="1.03" ry="0.42" fill="#dca8da"/><ellipse cx="798.77" cy="717.32" rx="1.04" ry="0.88" fill="#dca8da"/><ellipse cx="788.19" cy="725.14" rx="1.2" ry="0.49" fill="#dca8da"/><ellipse cx="776.41" cy="730.42" rx="0.92" ry="0.51" fill="#fbf2f9"/><ellipse cx="792.75" cy="720.72" rx="0.78" ry="0.59" fill="#dca8da"/><ellipse cx="800.47" cy="700.99" rx="0.73" ry="0.8" fill="#dca8da"/><ellipse cx="786.11" cy="735.22" rx="0.69" ry="0.89" fill="#fbf2f9"/><ellipse cx="742.85" cy="724.66" rx="0.41" ry="0.51" fill="#f6e4f2"/><ellipse cx="755.43" cy="716.68" rx="1.19" ry="0.55" fill="#fbf2f9"/><ellipse cx="812.71" cy="704.82" rx="0.9" ry="0.81" fill="#e0a8dc"/><ellipse cx="803.2" cy="728.36" rx="0.61" ry="0.66" fill="#d8a0d6"/><ellipse cx="786.72" cy="720.4" rx="0.49" ry="0.76" fill="#dca8da"/><ellipse cx="790.65" cy="717.39" rx="1.24" ry="0.82" fill="#d8a0d6"/><ellipse cx="780.8" cy="724.41" rx="0.93" ry="0.34" fill="#fff"/><ellipse cx="772.37" cy="724.03" rx="0.48" ry="0.43" fill="#f6e4f2"/><ellipse cx="756.68" cy="715.63" rx="0.95" ry="0.53" fill="#fff"/><ellipse cx="791.1" cy="700.35" rx="0.43" ry="0.75" fill="#fbf2f9"/><ellipse cx="768.6" cy="700.34" rx="0.58" ry="0.38" fill="#fff"/><ellipse cx="813.18" cy="708.26" rx="0.66" ry="0.72" fill="#dca8da"/><ellipse cx="778.75" cy="728.98" rx="0.49" ry="0.86" fill="#d8a0d6"/><ellipse cx="755.22" cy="708.41" rx="0.61" ry="0.62" fill="#d8a0d6"/><ellipse cx="790.14" cy="733.59" rx="0.94" ry="0.32" fill="#e0a8dc"/><ellipse cx="792.55" cy="734.95" rx="1.22" ry="0.38" fill="#dca8da"/><ellipse cx="796.27" cy="736.49" rx="0.77" ry="0.89" fill="#fbf2f9"/><ellipse cx="808.69" cy="704.57" rx="1.01" ry="0.49" fill="#f6e4f2"/><ellipse cx="789.29" cy="706.8" rx="0.43" ry="0.59" fill="#fbf2f9"/><ellipse cx="776.11" cy="702.95" rx="0.62" ry="0.42" fill="#e0a8dc"/><ellipse cx="747.94" cy="699.72" rx="0.81" ry="0.75" fill="#e0a8dc"/><ellipse cx="773.26" cy="729.12" rx="0.96" ry="0.43" fill="#fbf2f9"/><ellipse cx="802.05" cy="732.5" rx="1.06" ry="0.31" fill="#f6e4f2"/><ellipse cx="800.01" cy="731.76" rx="0.83" ry="0.5" fill="#fbf2f9"/><ellipse cx="771.08" cy="730.2" rx="0.63" ry="0.79" fill="#fff"/><ellipse cx="804.33" cy="697.34" rx="0.43" ry="0.52" fill="#f6e4f2"/><ellipse cx="815.84" cy="715.71" rx="1.02" ry="0.81" fill="#f6e4f2"/><ellipse cx="801.86" cy="698.09" rx="0.65" ry="0.53" fill="#fff"/><ellipse cx="751.98" cy="713.4" rx="0.44" ry="0.74" fill="#fff"/><ellipse cx="770.66" cy="736.36" rx="1.1" ry="0.58" fill="#f6e4f2"/><ellipse cx="748.54" cy="717.54" rx="1.15" ry="0.71" fill="#d8a0d6"/><ellipse cx="786.86" cy="717.09" rx="0.68" ry="0.38" fill="#d8a0d6"/><ellipse cx="757.9" cy="699.75" rx="0.44" ry="0.63" fill="#fbf2f9"/><ellipse cx="810.82" cy="735.32" rx="1.14" ry="0.49" fill="#f6e4f2"/><ellipse cx="769.26" cy="707.09" rx="0.41" ry="0.65" fill="#f6e4f2"/><ellipse cx="749.9" cy="731.25" rx="0.74" ry="0.59" fill="#e0a8dc"/><ellipse cx="805.55" cy="711.31" rx="0.81" ry="0.52" fill="#dca8da"/><ellipse cx="794.39" cy="731.1" rx="1.21" ry="0.47" fill="#fbf2f9"/><ellipse cx="805.95" cy="733.82" rx="0.4" ry="0.7" fill="#fbf2f9"/><ellipse cx="776.7" cy="702.71" rx="1.28" ry="0.58" fill="#fbf2f9"/><ellipse cx="816.61" cy="716.7" rx="1.08" ry="0.43" fill="#e0a8dc"/><ellipse cx="791.04" cy="698.09" rx="0.78" ry="0.7" fill="#e0a8dc"/><ellipse cx="809.55" cy="727.22" rx="1.08" ry="0.52" fill="#fff"/><ellipse cx="755.04" cy="733.09" rx="1.28" ry="0.53" fill="#dca8da"/><ellipse cx="799.25" cy="722.86" rx="0.58" ry="0.59" fill="#fff"/><ellipse cx="792.5" cy="701.04" rx="0.56" ry="0.44" fill="#d8a0d6"/><ellipse cx="751.86" cy="701.05" rx="0.79" ry="0.47" fill="#fff"/><ellipse cx="781.79" cy="707.45" rx="0.75" ry="0.75" fill="#dca8da"/><ellipse cx="787.82" cy="706.92" rx="0.9" ry="0.78" fill="#e0a8dc"/><ellipse cx="757.66" cy="710.93" rx="0.5" ry="0.49" fill="#fbf2f9"/><ellipse cx="760.04" cy="704.31" rx="0.99" ry="0.65" fill="#e0a8dc"/><ellipse cx="786.83" cy="713.87" rx="0.98" ry="0.41" fill="#dca8da"/><ellipse cx="754.8" cy="697.8" rx="1.21" ry="0.55" fill="#dca8da"/><ellipse cx="750.12" cy="721.63" rx="1.12" ry="0.34" fill="#dca8da"/><ellipse cx="803.13" cy="732.27" rx="0.58" ry="0.82" fill="#d8a0d6"/><ellipse cx="777.93" cy="710.84" rx="0.61" ry="0.81" fill="#fbf2f9"/><ellipse cx="748.71" cy="724.76" rx="0.93" ry="0.77" fill="#d8a0d6"/><ellipse cx="812.4" cy="718.92" rx="1.08" ry="0.31" fill="#fbf2f9"/><ellipse cx="778.57" cy="728.98" rx="1.08" ry="0.79" fill="#d8a0d6"/><ellipse cx="790.92" cy="724.93" rx="1.28" ry="0.41" fill="#fff"/><ellipse cx="794.72" cy="698.31" rx="0.53" ry="0.67" fill="#dca8da"/><ellipse cx="798.9" cy="720.26" rx="1.16" ry="0.63" fill="#fbf2f9"/><ellipse cx="808.08" cy="699.22" rx="0.57" ry="0.52" fill="#fbf2f9"/><ellipse cx="798.87" cy="701.75" rx="1.17" ry="0.72" fill="#fbf2f9"/><ellipse cx="763.45" cy="701.41" rx="0.5" ry="0.74" fill="#f6e4f2"/><ellipse cx="797.27" cy="718.27" rx="0.7" ry="0.51" fill="#d8a0d6"/><ellipse cx="770.74" cy="711.45" rx="1.18" ry="0.35" fill="#fff"/><ellipse cx="782.3" cy="708.1" rx="0.75" ry="0.61" fill="#dca8da"/><ellipse cx="763.67" cy="709.91" rx="1.09" ry="0.37" fill="#e0a8dc"/><ellipse cx="789.51" cy="725.49" rx="0.84" ry="0.45" fill="#dca8da"/><ellipse cx="773.09" cy="726.11" rx="0.76" ry="0.38" fill="#fff"/><ellipse cx="797.38" cy="714.29" rx="0.6" ry="0.5" fill="#e0a8dc"/><ellipse cx="796.58" cy="698.56" rx="1.19" ry="0.33" fill="#dca8da"/><ellipse cx="785.9" cy="700.11" rx="0.7" ry="0.38" fill="#fbf2f9"/><ellipse cx="793.13" cy="725.26" rx="0.63" ry="0.72" fill="#fff"/><ellipse cx="813.54" cy="717.96" rx="0.46" ry="0.67" fill="#e0a8dc"/><ellipse cx="758.68" cy="718.62" rx="0.94" ry="0.83" fill="#f6e4f2"/><ellipse cx="760.85" cy="725.04" rx="0.86" ry="0.75" fill="#d8a0d6"/><ellipse cx="798.07" cy="709.9" rx="0.46" ry="0.89" fill="#f6e4f2"/><ellipse cx="767.48" cy="728" rx="0.49" ry="0.43" fill="#dca8da"/><ellipse cx="798.49" cy="730.8" rx="1.19" ry="0.54" fill="#d8a0d6"/><ellipse cx="803.2" cy="710.4" rx="0.68" ry="0.79" fill="#f6e4f2"/><ellipse cx="768.53" cy="732.98" rx="0.77" ry="0.4" fill="#fff"/><ellipse cx="763.83" cy="733.9" rx="1.05" ry="0.83" fill="#f6e4f2"/><ellipse cx="813.45" cy="714.68" rx="0.8" ry="0.85" fill="#dca8da"/><ellipse cx="791.59" cy="696.89" rx="0.94" ry="0.46" fill="#d8a0d6"/><ellipse cx="785.9" cy="722.22" rx="1.2" ry="0.64" fill="#dca8da"/><ellipse cx="775.87" cy="708.43" rx="0.88" ry="0.35" fill="#e0a8dc"/><ellipse cx="774.96" cy="731.12" rx="1.23" ry="0.36" fill="#e0a8dc"/><ellipse cx="768.12" cy="711.84" rx="0.97" ry="0.8" fill="#f6e4f2"/><ellipse cx="788.99" cy="717.63" rx="0.81" ry="0.34" fill="#e0a8dc"/><ellipse cx="757.72" cy="701.05" rx="0.98" ry="0.86" fill="#fff"/><ellipse cx="743.88" cy="719.78" rx="0.44" ry="0.71" fill="#f6e4f2"/><ellipse cx="791.06" cy="729.79" rx="0.72" ry="0.33" fill="#fff"/><ellipse cx="776.08" cy="705.08" rx="0.87" ry="0.75" fill="#e0a8dc"/><ellipse cx="802.76" cy="732.96" rx="0.83" ry="0.74" fill="#d8a0d6"/><ellipse cx="763.96" cy="701.29" rx="1.21" ry="0.32" fill="#fff"/><ellipse cx="781.18" cy="734.31" rx="0.99" ry="0.41" fill="#f6e4f2"/><ellipse cx="763.69" cy="711.1" rx="1.27" ry="0.64" fill="#e0a8dc"/><ellipse cx="745.79" cy="712.94" rx="1.26" ry="0.56" fill="#fbf2f9"/></g>
<clipPath id="hl4"><rect x="741.9" y="740.2" width="76.2" height="40.6"/></clipPath>
<g clip-path="url(#hl4)"><rect x="741.9" y="740.2" width="76.2" height="40.6" fill="#e8c0e2"/><path d="M741 740.2 H796 L790 746 L784 752 L778 747 L774 757 L768 748 L762 760 L757 748 L752 762 L747 749 L741 758Z" fill="#9c58b0"/><path d="M741 760 Q770 764 800 755 L818 752 V780.8 H741Z" fill="#e6b6dd"/><ellipse cx="803.71" cy="773.48" rx="0.62" ry="0.39" fill="#e0a8dc"/><ellipse cx="802.26" cy="749.24" rx="0.72" ry="0.63" fill="#dca8da"/><ellipse cx="797.9" cy="767.52" rx="0.46" ry="0.76" fill="#fff"/><ellipse cx="759.16" cy="762.96" rx="0.48" ry="0.33" fill="#d8a0d6"/><ellipse cx="815.36" cy="766.35" rx="0.58" ry="0.7" fill="#d8a0d6"/><ellipse cx="756.04" cy="742.83" rx="1.16" ry="0.36" fill="#d8a0d6"/><ellipse cx="773.45" cy="743.49" rx="0.51" ry="0.33" fill="#f6e4f2"/><ellipse cx="767.03" cy="756.63" rx="0.75" ry="0.32" fill="#fbf2f9"/><ellipse cx="792.45" cy="759.98" rx="0.6" ry="0.33" fill="#f6e4f2"/><ellipse cx="815" cy="766.36" rx="1.28" ry="0.64" fill="#fbf2f9"/><ellipse cx="796.8" cy="771.69" rx="0.62" ry="0.82" fill="#fbf2f9"/><ellipse cx="805.17" cy="772.24" rx="0.64" ry="0.66" fill="#fff"/><ellipse cx="801.65" cy="775.54" rx="0.78" ry="0.51" fill="#dca8da"/><ellipse cx="805.12" cy="752.5" rx="0.96" ry="0.65" fill="#d8a0d6"/><ellipse cx="802.91" cy="761.06" rx="1.17" ry="0.72" fill="#d8a0d6"/><ellipse cx="773.72" cy="780.65" rx="1.29" ry="0.9" fill="#f6e4f2"/><ellipse cx="761.95" cy="756.84" rx="1.2" ry="0.75" fill="#fff"/><ellipse cx="808.32" cy="756.99" rx="0.81" ry="0.33" fill="#dca8da"/><ellipse cx="787.28" cy="750.05" rx="0.68" ry="0.62" fill="#e0a8dc"/><ellipse cx="766.04" cy="758.41" rx="1.12" ry="0.8" fill="#fbf2f9"/><ellipse cx="809.45" cy="759.2" rx="1.14" ry="0.89" fill="#fff"/><ellipse cx="804.56" cy="745.64" rx="1.24" ry="0.43" fill="#fbf2f9"/><ellipse cx="801.33" cy="759.81" rx="0.58" ry="0.74" fill="#f6e4f2"/><ellipse cx="791.59" cy="752.87" rx="1.17" ry="0.68" fill="#fbf2f9"/><ellipse cx="748.52" cy="775.9" rx="0.8" ry="0.39" fill="#f6e4f2"/><ellipse cx="774.56" cy="775.33" rx="0.98" ry="0.53" fill="#f6e4f2"/><ellipse cx="774.74" cy="756.46" rx="1.27" ry="0.42" fill="#fff"/><ellipse cx="780.56" cy="766.26" rx="0.64" ry="0.79" fill="#f6e4f2"/><ellipse cx="792.92" cy="773.66" rx="0.84" ry="0.51" fill="#d8a0d6"/><ellipse cx="748.91" cy="769.19" rx="0.68" ry="0.45" fill="#dca8da"/><ellipse cx="804.56" cy="776.69" rx="0.97" ry="0.49" fill="#d8a0d6"/><ellipse cx="751.34" cy="751.73" rx="0.65" ry="0.42" fill="#fbf2f9"/><ellipse cx="779.7" cy="772.09" rx="0.83" ry="0.9" fill="#fbf2f9"/><ellipse cx="790.19" cy="756.89" rx="0.75" ry="0.89" fill="#dca8da"/><ellipse cx="771.28" cy="751.19" rx="1.01" ry="0.61" fill="#e0a8dc"/><ellipse cx="799.54" cy="775" rx="0.67" ry="0.81" fill="#dca8da"/><ellipse cx="753.26" cy="773.3" rx="1.15" ry="0.58" fill="#fbf2f9"/><ellipse cx="802.23" cy="758.53" rx="0.77" ry="0.74" fill="#dca8da"/><ellipse cx="798.35" cy="777.21" rx="1.29" ry="0.75" fill="#d8a0d6"/><ellipse cx="749.34" cy="752.24" rx="0.99" ry="0.82" fill="#d8a0d6"/><ellipse cx="787.05" cy="764.45" rx="1.05" ry="0.51" fill="#f6e4f2"/><ellipse cx="746.56" cy="742.23" rx="0.47" ry="0.75" fill="#f6e4f2"/><ellipse cx="749" cy="745.84" rx="0.44" ry="0.5" fill="#f6e4f2"/><ellipse cx="770.03" cy="772.85" rx="0.6" ry="0.54" fill="#fbf2f9"/><ellipse cx="770.53" cy="763.92" rx="0.93" ry="0.38" fill="#dca8da"/><ellipse cx="746.68" cy="767.8" rx="1.26" ry="0.87" fill="#dca8da"/><ellipse cx="755.45" cy="773.54" rx="1.27" ry="0.5" fill="#fbf2f9"/><ellipse cx="774.06" cy="776.47" rx="0.69" ry="0.72" fill="#fbf2f9"/><ellipse cx="764.1" cy="745.55" rx="0.74" ry="0.88" fill="#fff"/><ellipse cx="808.41" cy="762.15" rx="0.78" ry="0.6" fill="#dca8da"/><ellipse cx="753.92" cy="740.55" rx="0.89" ry="0.8" fill="#dca8da"/><ellipse cx="817.1" cy="766.16" rx="1.08" ry="0.77" fill="#d8a0d6"/><ellipse cx="778.47" cy="762.08" rx="0.85" ry="0.57" fill="#fff"/><ellipse cx="796.74" cy="741.64" rx="1.11" ry="0.86" fill="#d8a0d6"/><ellipse cx="748.73" cy="775.69" rx="0.82" ry="0.85" fill="#e0a8dc"/><ellipse cx="778.81" cy="755.6" rx="0.66" ry="0.49" fill="#f6e4f2"/><ellipse cx="764.39" cy="759.1" rx="0.5" ry="0.61" fill="#dca8da"/><ellipse cx="782.31" cy="756.13" rx="0.76" ry="0.81" fill="#dca8da"/><ellipse cx="800.27" cy="754.1" rx="1.21" ry="0.67" fill="#f6e4f2"/><ellipse cx="816.66" cy="754.91" rx="1.14" ry="0.85" fill="#fff"/><ellipse cx="817.74" cy="761.89" rx="0.79" ry="0.61" fill="#d8a0d6"/><ellipse cx="775.43" cy="772.55" rx="1.06" ry="0.46" fill="#dca8da"/><ellipse cx="764.91" cy="768.43" rx="0.57" ry="0.38" fill="#f6e4f2"/><ellipse cx="784.5" cy="751.6" rx="0.69" ry="0.79" fill="#dca8da"/><ellipse cx="760.12" cy="768.11" rx="1.29" ry="0.87" fill="#f6e4f2"/><ellipse cx="766.91" cy="765.76" rx="1.04" ry="0.49" fill="#fff"/><ellipse cx="798.42" cy="741.95" rx="0.94" ry="0.82" fill="#e0a8dc"/><ellipse cx="778.11" cy="757.77" rx="0.62" ry="0.63" fill="#d8a0d6"/><ellipse cx="780.63" cy="752.24" rx="1.08" ry="0.86" fill="#fff"/><ellipse cx="758.79" cy="778.46" rx="1.09" ry="0.63" fill="#fff"/><ellipse cx="802.6" cy="765.7" rx="0.59" ry="0.33" fill="#d8a0d6"/><ellipse cx="809.65" cy="745.82" rx="0.58" ry="0.9" fill="#fff"/><ellipse cx="815.65" cy="741.48" rx="0.64" ry="0.42" fill="#d8a0d6"/><ellipse cx="795.28" cy="761.86" rx="0.72" ry="0.32" fill="#f6e4f2"/><ellipse cx="753.75" cy="774.2" rx="0.73" ry="0.42" fill="#dca8da"/><ellipse cx="744.79" cy="777.71" rx="0.82" ry="0.82" fill="#f6e4f2"/><ellipse cx="760.49" cy="748.88" rx="1.29" ry="0.88" fill="#d8a0d6"/><ellipse cx="790.55" cy="760.47" rx="1.25" ry="0.65" fill="#f6e4f2"/><ellipse cx="814.12" cy="762.23" rx="1.23" ry="0.83" fill="#d8a0d6"/><ellipse cx="782.89" cy="745.84" rx="1.1" ry="0.64" fill="#fff"/><ellipse cx="796.37" cy="742.63" rx="1.04" ry="0.48" fill="#e0a8dc"/><ellipse cx="745.35" cy="751.77" rx="1" ry="0.62" fill="#dca8da"/><ellipse cx="788.03" cy="776.96" rx="0.77" ry="0.52" fill="#dca8da"/><ellipse cx="779.45" cy="752.98" rx="0.97" ry="0.44" fill="#e0a8dc"/><ellipse cx="802.19" cy="778.45" rx="0.49" ry="0.78" fill="#f6e4f2"/><ellipse cx="762.91" cy="751.6" rx="1.17" ry="0.67" fill="#d8a0d6"/><ellipse cx="806.76" cy="742.35" rx="0.66" ry="0.62" fill="#f6e4f2"/><ellipse cx="783.91" cy="753.65" rx="1.08" ry="0.81" fill="#dca8da"/><ellipse cx="771.24" cy="772.92" rx="0.55" ry="0.36" fill="#f6e4f2"/><ellipse cx="762.05" cy="740.41" rx="0.64" ry="0.47" fill="#d8a0d6"/><ellipse cx="807.66" cy="759.86" rx="0.53" ry="0.56" fill="#dca8da"/><ellipse cx="756.5" cy="747.17" rx="1.16" ry="0.56" fill="#d8a0d6"/><ellipse cx="780.93" cy="767.41" rx="0.76" ry="0.55" fill="#d8a0d6"/><ellipse cx="762.89" cy="768.53" rx="1.17" ry="0.7" fill="#dca8da"/><ellipse cx="802.26" cy="756.79" rx="0.42" ry="0.89" fill="#f6e4f2"/><ellipse cx="794.62" cy="764.52" rx="0.63" ry="0.48" fill="#e0a8dc"/><ellipse cx="755.56" cy="750.89" rx="0.91" ry="0.84" fill="#fff"/><ellipse cx="747.23" cy="769.26" rx="1.19" ry="0.71" fill="#dca8da"/><ellipse cx="777.4" cy="744.3" rx="0.42" ry="0.77" fill="#fbf2f9"/><ellipse cx="813.65" cy="755.29" rx="1.07" ry="0.83" fill="#d8a0d6"/><ellipse cx="783.44" cy="746.63" rx="0.66" ry="0.68" fill="#f6e4f2"/><ellipse cx="787" cy="768.28" rx="0.82" ry="0.42" fill="#fbf2f9"/><ellipse cx="770.24" cy="767.26" rx="1.01" ry="0.77" fill="#fbf2f9"/><ellipse cx="816.3" cy="745.87" rx="0.61" ry="0.79" fill="#f6e4f2"/><ellipse cx="750.9" cy="746.83" rx="1.28" ry="0.48" fill="#dca8da"/><ellipse cx="816.38" cy="775.66" rx="0.98" ry="0.37" fill="#e0a8dc"/><ellipse cx="755.69" cy="778.28" rx="0.56" ry="0.55" fill="#fbf2f9"/><ellipse cx="769.19" cy="770.28" rx="0.43" ry="0.35" fill="#f6e4f2"/><ellipse cx="793.63" cy="740.47" rx="1.1" ry="0.41" fill="#e0a8dc"/><ellipse cx="742.58" cy="756.36" rx="0.42" ry="0.46" fill="#d8a0d6"/><ellipse cx="762.83" cy="749.1" rx="1.03" ry="0.39" fill="#dca8da"/><ellipse cx="762.15" cy="775.53" rx="0.48" ry="0.68" fill="#d8a0d6"/><ellipse cx="767.72" cy="751.74" rx="0.58" ry="0.55" fill="#e0a8dc"/><ellipse cx="812.05" cy="778.56" rx="0.96" ry="0.48" fill="#f6e4f2"/><ellipse cx="760.86" cy="756.08" rx="0.43" ry="0.41" fill="#dca8da"/><ellipse cx="792.56" cy="772.07" rx="0.49" ry="0.68" fill="#e0a8dc"/><ellipse cx="745" cy="767.11" rx="0.41" ry="0.62" fill="#fbf2f9"/><ellipse cx="774.63" cy="743.28" rx="0.77" ry="0.3" fill="#fff"/><ellipse cx="787.39" cy="761.44" rx="0.77" ry="0.42" fill="#d8a0d6"/><ellipse cx="770.76" cy="752.82" rx="0.79" ry="0.61" fill="#fff"/><ellipse cx="772.12" cy="763.78" rx="0.62" ry="0.74" fill="#fff"/><ellipse cx="783.39" cy="769.83" rx="0.79" ry="0.32" fill="#d8a0d6"/><ellipse cx="773.85" cy="769.84" rx="0.86" ry="0.85" fill="#fbf2f9"/><ellipse cx="787.32" cy="759.86" rx="0.93" ry="0.67" fill="#dca8da"/><ellipse cx="749.46" cy="772.78" rx="1.2" ry="0.72" fill="#fbf2f9"/><ellipse cx="791.87" cy="744.12" rx="0.63" ry="0.68" fill="#fbf2f9"/><ellipse cx="783.37" cy="767.37" rx="1.08" ry="0.35" fill="#e0a8dc"/><ellipse cx="801.75" cy="742.94" rx="0.44" ry="0.55" fill="#f6e4f2"/><ellipse cx="798.39" cy="773.92" rx="0.93" ry="0.45" fill="#e0a8dc"/><ellipse cx="790.98" cy="762.31" rx="0.99" ry="0.79" fill="#e0a8dc"/><ellipse cx="744.19" cy="774.75" rx="1.09" ry="0.76" fill="#fff"/><ellipse cx="805.44" cy="753.02" rx="0.42" ry="0.78" fill="#dca8da"/><ellipse cx="747.59" cy="779.41" rx="0.84" ry="0.76" fill="#dca8da"/><ellipse cx="773.2" cy="748.71" rx="0.91" ry="0.81" fill="#e0a8dc"/><ellipse cx="763.45" cy="766" rx="0.75" ry="0.44" fill="#e0a8dc"/><ellipse cx="802.67" cy="768.85" rx="0.72" ry="0.7" fill="#fff"/><ellipse cx="787.31" cy="743.54" rx="1.25" ry="0.42" fill="#e0a8dc"/><ellipse cx="771.33" cy="751.26" rx="1.23" ry="0.44" fill="#fbf2f9"/><ellipse cx="746.34" cy="746.05" rx="0.96" ry="0.64" fill="#dca8da"/><ellipse cx="810.58" cy="767.56" rx="1.2" ry="0.41" fill="#f6e4f2"/><ellipse cx="757.05" cy="749.14" rx="1.21" ry="0.36" fill="#f6e4f2"/><ellipse cx="743.53" cy="742.38" rx="0.73" ry="0.45" fill="#f6e4f2"/><ellipse cx="816.01" cy="752.92" rx="0.78" ry="0.77" fill="#f6e4f2"/><ellipse cx="795.4" cy="740.56" rx="0.71" ry="0.72" fill="#fbf2f9"/><ellipse cx="814.83" cy="753.99" rx="1.18" ry="0.59" fill="#d8a0d6"/><ellipse cx="767.44" cy="764.57" rx="1.09" ry="0.53" fill="#d8a0d6"/><ellipse cx="765.66" cy="770.51" rx="0.69" ry="0.31" fill="#e0a8dc"/><ellipse cx="757.02" cy="762.65" rx="0.44" ry="0.8" fill="#d8a0d6"/><ellipse cx="771.88" cy="776.49" rx="0.42" ry="0.35" fill="#dca8da"/><ellipse cx="774.1" cy="762.31" rx="0.64" ry="0.73" fill="#fff"/><ellipse cx="791.77" cy="745.65" rx="0.85" ry="0.53" fill="#dca8da"/><ellipse cx="779.05" cy="779.77" rx="0.43" ry="0.58" fill="#f6e4f2"/><ellipse cx="799.47" cy="769.83" rx="0.77" ry="0.82" fill="#fbf2f9"/><ellipse cx="794.33" cy="753.7" rx="0.58" ry="0.85" fill="#dca8da"/><ellipse cx="775.55" cy="765.01" rx="0.69" ry="0.56" fill="#fff"/><ellipse cx="774.54" cy="778.91" rx="1.19" ry="0.31" fill="#fff"/><ellipse cx="789.48" cy="742.63" rx="1.04" ry="0.37" fill="#d8a0d6"/><ellipse cx="783.87" cy="746.57" rx="1.2" ry="0.8" fill="#dca8da"/><ellipse cx="785.83" cy="774.57" rx="1.09" ry="0.49" fill="#f6e4f2"/><ellipse cx="760.36" cy="741.24" rx="1.01" ry="0.45" fill="#fff"/></g>
<clipPath id="hr0"><rect x="822.9" y="566.4" width="80.2" height="41.8"/></clipPath>
<g clip-path="url(#hr0)"><rect x="822.9" y="566.4" width="80.2" height="41.8" fill="#04000c"/><circle cx="906.42" cy="575.26" r="0.66" fill="#3030d8" opacity="0.53"/><circle cx="905.45" cy="577.8" r="0.63" fill="#7a2090" opacity="0.49"/><circle cx="900.93" cy="578.7" r="0.57" fill="#7a2090" opacity="0.86"/><circle cx="898.36" cy="576.57" r="0.39" fill="#3030d8" opacity="0.49"/><circle cx="898.67" cy="573.51" r="0.4" fill="#3030d8" opacity="0.49"/><circle cx="901.01" cy="571.87" r="0.68" fill="#3030d8" opacity="0.82"/><circle cx="904.98" cy="572.45" r="0.42" fill="#7a2090" opacity="0.58"/><circle cx="842.44" cy="590.37" r="0.38" fill="#3030d8" opacity="0.72"/><circle cx="839.98" cy="593.58" r="0.47" fill="#7a2090" opacity="0.8"/><circle cx="836.82" cy="595" r="0.6" fill="#7a2090" opacity="0.71"/><circle cx="832.91" cy="593.75" r="0.64" fill="#7a2090" opacity="0.58"/><circle cx="831.39" cy="590.48" r="0.45" fill="#7a2090" opacity="0.53"/><circle cx="832.93" cy="587.32" r="0.64" fill="#7a2090" opacity="0.83"/><circle cx="836.55" cy="586.62" r="0.63" fill="#3030d8" opacity="0.61"/><circle cx="840.65" cy="587.38" r="0.37" fill="#3030d8" opacity="0.66"/><circle cx="846.01" cy="607.31" r="0.35" fill="#28b050" opacity="0.46"/><circle cx="844.83" cy="609.73" r="0.42" fill="#7a2090" opacity="0.75"/><circle cx="842.61" cy="612.08" r="0.52" fill="#7a2090" opacity="0.49"/><circle cx="838.36" cy="613.66" r="0.51" fill="#7a2090" opacity="0.69"/><circle cx="834.63" cy="614.17" r="0.67" fill="#3030d8" opacity="0.82"/><circle cx="830.94" cy="611.45" r="0.63" fill="#7a2090" opacity="0.78"/><circle cx="830.87" cy="609.02" r="0.47" fill="#3030d8" opacity="0.61"/><circle cx="829.64" cy="605.64" r="0.49" fill="#7a2090" opacity="0.85"/><circle cx="831.03" cy="602.88" r="0.6" fill="#3030d8" opacity="0.86"/><circle cx="835.21" cy="601.74" r="0.56" fill="#7a2090" opacity="0.69"/><circle cx="837.97" cy="601.44" r="0.7" fill="#3030d8" opacity="0.64"/><circle cx="842.87" cy="601.63" r="0.42" fill="#3030d8" opacity="0.78"/><circle cx="844.72" cy="604.68" r="0.54" fill="#7a2090" opacity="0.69"/><circle cx="868.75" cy="600.92" r="0.46" fill="#3030d8" opacity="0.49"/><circle cx="866.56" cy="603.5" r="0.65" fill="#3030d8" opacity="0.52"/><circle cx="863.13" cy="603.95" r="0.52" fill="#3030d8" opacity="0.5"/><circle cx="860.59" cy="601.33" r="0.4" fill="#7a2090" opacity="0.74"/><circle cx="863.25" cy="597.9" r="0.4" fill="#28b050" opacity="0.56"/><circle cx="866.75" cy="598.32" r="0.39" fill="#3030d8" opacity="0.53"/><circle cx="830.56" cy="578.06" r="0.6" fill="#7a2090" opacity="0.65"/><circle cx="829.57" cy="580.63" r="0.7" fill="#7a2090" opacity="0.55"/><circle cx="825.37" cy="582.7" r="0.59" fill="#3030d8" opacity="0.8"/><circle cx="821.33" cy="581.26" r="0.5" fill="#7a2090" opacity="0.57"/><circle cx="820.56" cy="578.31" r="0.67" fill="#3030d8" opacity="0.81"/><circle cx="821.28" cy="574.97" r="0.52" fill="#3030d8" opacity="0.71"/><circle cx="825.65" cy="574.13" r="0.62" fill="#3030d8" opacity="0.76"/><circle cx="829.91" cy="575.08" r="0.67" fill="#3030d8" opacity="0.79"/><circle cx="880.67" cy="578.44" r="0.47" fill="#3030d8" opacity="0.46"/><circle cx="879.53" cy="580.93" r="0.69" fill="#28b050" opacity="0.69"/><circle cx="876.14" cy="582.98" r="0.49" fill="#7a2090" opacity="0.86"/><circle cx="873.03" cy="583.03" r="0.55" fill="#7a2090" opacity="0.66"/><circle cx="868.36" cy="582.35" r="0.58" fill="#3030d8" opacity="0.78"/><circle cx="868.01" cy="580.09" r="0.44" fill="#7a2090" opacity="0.58"/><circle cx="866.64" cy="576.59" r="0.51" fill="#3030d8" opacity="0.59"/><circle cx="869.63" cy="573.5" r="0.55" fill="#7a2090" opacity="0.47"/><circle cx="872.22" cy="573.29" r="0.56" fill="#3030d8" opacity="0.87"/><circle cx="875.8" cy="572.86" r="0.4" fill="#7a2090" opacity="0.64"/><circle cx="880.12" cy="574.7" r="0.4" fill="#3030d8" opacity="0.55"/><circle cx="870.62" cy="573.99" r="0.45" fill="#3030d8" opacity="0.62"/><circle cx="869.17" cy="577.17" r="0.64" fill="#7a2090" opacity="0.54"/><circle cx="864.34" cy="576.66" r="0.66" fill="#3030d8" opacity="0.55"/><circle cx="862.72" cy="574.27" r="0.66" fill="#3030d8" opacity="0.72"/><circle cx="865.1" cy="571.4" r="0.63" fill="#3030d8" opacity="0.86"/><circle cx="869.39" cy="571.4" r="0.45" fill="#3030d8" opacity="0.52"/><circle cx="878.87" cy="597.81" r="0.51" fill="#3030d8" opacity="0.63"/><circle cx="877.63" cy="600.52" r="0.67" fill="#3030d8" opacity="0.78"/><circle cx="873.81" cy="603.38" r="0.39" fill="#28b050" opacity="0.89"/><circle cx="871.54" cy="603.52" r="0.49" fill="#7a2090" opacity="0.85"/><circle cx="867.41" cy="603.97" r="0.47" fill="#3030d8" opacity="0.59"/><circle cx="864.41" cy="602.82" r="0.69" fill="#3030d8" opacity="0.88"/><circle cx="861.66" cy="600" r="0.42" fill="#3030d8" opacity="0.55"/><circle cx="862.92" cy="595.64" r="0.36" fill="#7a2090" opacity="0.76"/><circle cx="864.04" cy="593.17" r="0.48" fill="#7a2090" opacity="0.66"/><circle cx="867.54" cy="591.31" r="0.35" fill="#3030d8" opacity="0.62"/><circle cx="870.33" cy="591.13" r="0.67" fill="#7a2090" opacity="0.56"/><circle cx="873.48" cy="591.94" r="0.69" fill="#7a2090" opacity="0.8"/><circle cx="878.02" cy="595.21" r="0.54" fill="#3030d8" opacity="0.88"/><circle cx="858.02" cy="573.89" r="0.35" fill="#28b050" opacity="0.66"/><circle cx="856.35" cy="577.12" r="0.45" fill="#7a2090" opacity="0.81"/><circle cx="854.14" cy="579.92" r="0.44" fill="#3030d8" opacity="0.6"/><circle cx="849.84" cy="581.06" r="0.49" fill="#3030d8" opacity="0.58"/><circle cx="846.02" cy="580.12" r="0.45" fill="#3030d8" opacity="0.46"/><circle cx="843.63" cy="579.9" r="0.6" fill="#3030d8" opacity="0.73"/><circle cx="840.61" cy="576.07" r="0.55" fill="#3030d8" opacity="0.74"/><circle cx="839.04" cy="574" r="0.67" fill="#7a2090" opacity="0.66"/><circle cx="841.99" cy="570.24" r="0.58" fill="#3030d8" opacity="0.48"/><circle cx="843.73" cy="567.61" r="0.61" fill="#7a2090" opacity="0.64"/><circle cx="846.18" cy="566.59" r="0.55" fill="#7a2090" opacity="0.6"/><circle cx="850.49" cy="565.86" r="0.38" fill="#7a2090" opacity="0.61"/><circle cx="853.79" cy="568.24" r="0.37" fill="#3030d8" opacity="0.61"/><circle cx="855.78" cy="570.93" r="0.58" fill="#3030d8" opacity="0.5"/><circle cx="865.77" cy="580.87" r="0.37" fill="#3030d8" opacity="0.87"/><circle cx="863.93" cy="584.72" r="0.69" fill="#3030d8" opacity="0.78"/><circle cx="861.02" cy="586.13" r="0.51" fill="#3030d8" opacity="0.82"/><circle cx="856.73" cy="585.68" r="0.65" fill="#3030d8" opacity="0.74"/><circle cx="853.92" cy="584.66" r="0.56" fill="#3030d8" opacity="0.83"/><circle cx="851.2" cy="581.05" r="0.55" fill="#7a2090" opacity="0.59"/><circle cx="853.81" cy="578.84" r="0.46" fill="#7a2090" opacity="0.5"/><circle cx="856.99" cy="576.52" r="0.56" fill="#3030d8" opacity="0.76"/><circle cx="861.41" cy="576.48" r="0.4" fill="#7a2090" opacity="0.74"/><circle cx="864.54" cy="578.25" r="0.62" fill="#7a2090" opacity="0.51"/><circle cx="884.14" cy="598.92" r="0.42" fill="#3030d8" opacity="0.77"/><circle cx="883.37" cy="601.52" r="0.4" fill="#7a2090" opacity="0.54"/><circle cx="880.68" cy="603.57" r="0.52" fill="#7a2090" opacity="0.64"/><circle cx="876.64" cy="604.17" r="0.53" fill="#7a2090" opacity="0.74"/><circle cx="873.85" cy="604.02" r="0.52" fill="#7a2090" opacity="0.86"/><circle cx="871.22" cy="600.46" r="0.51" fill="#3030d8" opacity="0.8"/><circle cx="870.93" cy="597.61" r="0.42" fill="#3030d8" opacity="0.74"/><circle cx="873.31" cy="593.99" r="0.66" fill="#7a2090" opacity="0.47"/><circle cx="876.41" cy="592.53" r="0.63" fill="#3030d8" opacity="0.7"/><circle cx="881.49" cy="594.43" r="0.62" fill="#3030d8" opacity="0.64"/><circle cx="884.13" cy="595.63" r="0.42" fill="#3030d8" opacity="0.84"/><circle cx="876.35" cy="582.24" r="0.46" fill="#7a2090" opacity="0.57"/><circle cx="874.34" cy="585.21" r="0.7" fill="#7a2090" opacity="0.64"/><circle cx="870.43" cy="583.93" r="0.57" fill="#7a2090" opacity="0.84"/><circle cx="870.56" cy="580.31" r="0.4" fill="#7a2090" opacity="0.69"/><circle cx="874.31" cy="579.36" r="0.47" fill="#3030d8" opacity="0.51"/><circle cx="844.12" cy="588.55" r="0.65" fill="#3030d8" opacity="0.82"/><circle cx="841.55" cy="591.65" r="0.52" fill="#3030d8" opacity="0.62"/><circle cx="837.76" cy="591.65" r="0.42" fill="#7a2090" opacity="0.55"/><circle cx="836.3" cy="589.08" r="0.39" fill="#28b050" opacity="0.67"/><circle cx="837.93" cy="585.74" r="0.65" fill="#3030d8" opacity="0.76"/><circle cx="841.88" cy="586" r="0.51" fill="#3030d8" opacity="0.83"/><circle cx="858.24" cy="585.06" r="0.46" fill="#3030d8" opacity="0.46"/><circle cx="855.42" cy="588.28" r="0.6" fill="#3030d8" opacity="0.59"/><circle cx="853.33" cy="589.53" r="0.65" fill="#7a2090" opacity="0.54"/><circle cx="849.34" cy="590.04" r="0.51" fill="#3030d8" opacity="0.46"/><circle cx="846.68" cy="587.85" r="0.49" fill="#3030d8" opacity="0.53"/><circle cx="844.75" cy="584.46" r="0.4" fill="#3030d8" opacity="0.65"/><circle cx="845.91" cy="582.29" r="0.52" fill="#3030d8" opacity="0.71"/><circle cx="849.09" cy="580.2" r="0.63" fill="#3030d8" opacity="0.69"/><circle cx="852.66" cy="579.89" r="0.48" fill="#3030d8" opacity="0.85"/><circle cx="856.94" cy="581.9" r="0.64" fill="#7a2090" opacity="0.79"/><circle cx="870.38" cy="589.5" r="0.54" fill="#3030d8" opacity="0.52"/><circle cx="869.59" cy="592.35" r="0.68" fill="#7a2090" opacity="0.63"/><circle cx="866.34" cy="594.48" r="0.65" fill="#7a2090" opacity="0.82"/><circle cx="862.43" cy="594.57" r="0.45" fill="#3030d8" opacity="0.85"/><circle cx="858.56" cy="592.39" r="0.65" fill="#7a2090" opacity="0.63"/><circle cx="858.82" cy="589.76" r="0.55" fill="#3030d8" opacity="0.75"/><circle cx="859.31" cy="586.46" r="0.36" fill="#3030d8" opacity="0.52"/><circle cx="862.04" cy="585.14" r="0.67" fill="#3030d8" opacity="0.74"/><circle cx="866.15" cy="584.69" r="0.43" fill="#7a2090" opacity="0.75"/><circle cx="869.83" cy="586.23" r="0.55" fill="#28b050" opacity="0.5"/><circle cx="890.8" cy="605.23" r="0.47" fill="#3030d8" opacity="0.69"/><circle cx="889.37" cy="608.49" r="0.36" fill="#7a2090" opacity="0.86"/><circle cx="885.95" cy="609.93" r="0.55" fill="#7a2090" opacity="0.54"/><circle cx="881.23" cy="608.41" r="0.48" fill="#3030d8" opacity="0.7"/><circle cx="880.42" cy="605.75" r="0.46" fill="#3030d8" opacity="0.46"/><circle cx="880.98" cy="602.87" r="0.43" fill="#7a2090" opacity="0.74"/><circle cx="885.1" cy="600.64" r="0.44" fill="#3030d8" opacity="0.47"/><circle cx="889.65" cy="602.64" r="0.36" fill="#3030d8" opacity="0.85"/><circle cx="886.9" cy="582.27" r="0.44" fill="#3030d8" opacity="0.78"/><circle cx="885.31" cy="585.15" r="0.55" fill="#3030d8" opacity="0.75"/><circle cx="881.76" cy="586.79" r="0.55" fill="#3030d8" opacity="0.56"/><circle cx="876.82" cy="586.86" r="0.56" fill="#28b050" opacity="0.85"/><circle cx="873.62" cy="585.32" r="0.59" fill="#7a2090" opacity="0.5"/><circle cx="872.13" cy="582.68" r="0.39" fill="#7a2090" opacity="0.5"/><circle cx="873.19" cy="579.06" r="0.64" fill="#7a2090" opacity="0.67"/><circle cx="877.24" cy="577.71" r="0.59" fill="#3030d8" opacity="0.88"/><circle cx="881.54" cy="577.02" r="0.47" fill="#3030d8" opacity="0.48"/><circle cx="884.44" cy="579.56" r="0.48" fill="#28b050" opacity="0.53"/><circle cx="865.66" cy="585.81" r="0.45" fill="#3030d8" opacity="0.85"/><circle cx="864.4" cy="588.3" r="0.63" fill="#3030d8" opacity="0.66"/><circle cx="860.12" cy="588.78" r="0.69" fill="#7a2090" opacity="0.65"/><circle cx="858.72" cy="585.52" r="0.61" fill="#7a2090" opacity="0.48"/><circle cx="860.38" cy="583.24" r="0.56" fill="#7a2090" opacity="0.84"/><circle cx="863.96" cy="583.05" r="0.51" fill="#7a2090" opacity="0.64"/><circle cx="836.61" cy="607.97" r="0.51" fill="#3030d8" opacity="0.59"/><circle cx="836.03" cy="610.39" r="0.36" fill="#7a2090" opacity="0.69"/><circle cx="832.35" cy="612.84" r="0.4" fill="#3030d8" opacity="0.69"/><circle cx="828.46" cy="612.66" r="0.52" fill="#7a2090" opacity="0.47"/><circle cx="826.35" cy="609.59" r="0.53" fill="#7a2090" opacity="0.7"/><circle cx="826.14" cy="606.55" r="0.35" fill="#3030d8" opacity="0.65"/><circle cx="828.29" cy="603.81" r="0.62" fill="#7a2090" opacity="0.83"/><circle cx="832.44" cy="602.98" r="0.47" fill="#3030d8" opacity="0.75"/><circle cx="836.14" cy="605.28" r="0.62" fill="#3030d8" opacity="0.58"/><circle cx="869.83" cy="581.32" r="0.54" fill="#7a2090" opacity="0.68"/><circle cx="867.34" cy="584.32" r="0.47" fill="#3030d8" opacity="0.89"/><circle cx="865.61" cy="586.96" r="0.37" fill="#7a2090" opacity="0.54"/><circle cx="860.48" cy="586.57" r="0.38" fill="#3030d8" opacity="0.73"/><circle cx="857.16" cy="587.37" r="0.52" fill="#7a2090" opacity="0.74"/><circle cx="855.15" cy="584.8" r="0.64" fill="#7a2090" opacity="0.67"/><circle cx="854.23" cy="580.78" r="0.48" fill="#3030d8" opacity="0.88"/><circle cx="854.7" cy="578.51" r="0.5" fill="#7a2090" opacity="0.82"/><circle cx="858.03" cy="574.94" r="0.44" fill="#3030d8" opacity="0.75"/><circle cx="860.38" cy="574.07" r="0.36" fill="#3030d8" opacity="0.81"/><circle cx="864.96" cy="576.49" r="0.55" fill="#3030d8" opacity="0.65"/><circle cx="866.7" cy="578.13" r="0.65" fill="#7a2090" opacity="0.46"/><circle cx="862.98" cy="586.93" r="0.37" fill="#3030d8" opacity="0.57"/><circle cx="861.48" cy="590.62" r="0.46" fill="#7a2090" opacity="0.7"/><circle cx="857.69" cy="592.76" r="0.36" fill="#3030d8" opacity="0.86"/><circle cx="853.5" cy="591.12" r="0.62" fill="#3030d8" opacity="0.61"/><circle cx="850.37" cy="588.51" r="0.5" fill="#3030d8" opacity="0.7"/><circle cx="850.88" cy="586.08" r="0.45" fill="#3030d8" opacity="0.68"/><circle cx="854.03" cy="583.04" r="0.65" fill="#3030d8" opacity="0.76"/><circle cx="857.99" cy="582.75" r="0.46" fill="#3030d8" opacity="0.48"/><circle cx="861.62" cy="584.67" r="0.49" fill="#3030d8" opacity="0.61"/><circle cx="832.46" cy="607.24" r="0.52" fill="#7a2090" opacity="0.64"/><circle cx="830.44" cy="609.8" r="0.46" fill="#3030d8" opacity="0.59"/><circle cx="826.35" cy="610.99" r="0.43" fill="#3030d8" opacity="0.76"/><circle cx="823.38" cy="610.19" r="0.41" fill="#3030d8" opacity="0.57"/><circle cx="821.12" cy="606.49" r="0.63" fill="#7a2090" opacity="0.65"/><circle cx="823.43" cy="603.17" r="0.37" fill="#7a2090" opacity="0.58"/><circle cx="827.17" cy="601.89" r="0.39" fill="#3030d8" opacity="0.84"/><circle cx="831" cy="603.4" r="0.65" fill="#7a2090" opacity="0.58"/><circle cx="854.04" cy="593.84" r="0.68" fill="#3030d8" opacity="0.53"/><circle cx="852.44" cy="596.77" r="0.53" fill="#3030d8" opacity="0.49"/><circle cx="848.62" cy="597.03" r="0.59" fill="#3030d8" opacity="0.78"/><circle cx="846.49" cy="594.22" r="0.54" fill="#7a2090" opacity="0.84"/><circle cx="848.92" cy="590.88" r="0.38" fill="#3030d8" opacity="0.82"/><circle cx="852.98" cy="591.64" r="0.46" fill="#7a2090" opacity="0.72"/><circle cx="841.06" cy="586.12" r="0.65" fill="#7a2090" opacity="0.85"/><circle cx="838.76" cy="588.64" r="0.37" fill="#7a2090" opacity="0.49"/><circle cx="834.93" cy="591.5" r="0.37" fill="#3030d8" opacity="0.56"/><circle cx="831.11" cy="589.64" r="0.53" fill="#3030d8" opacity="0.61"/><circle cx="829.69" cy="588.38" r="0.6" fill="#7a2090" opacity="0.8"/><circle cx="828.62" cy="584.33" r="0.44" fill="#7a2090" opacity="0.79"/><circle cx="831.89" cy="582.05" r="0.66" fill="#3030d8" opacity="0.76"/><circle cx="835.71" cy="580.95" r="0.57" fill="#7a2090" opacity="0.79"/><circle cx="839.39" cy="583.47" r="0.38" fill="#7a2090" opacity="0.54"/><circle cx="877.76" cy="593.96" r="0.67" fill="#7a2090" opacity="0.81"/><circle cx="877.14" cy="596.61" r="0.48" fill="#3030d8" opacity="0.65"/><circle cx="872.64" cy="600.28" r="0.4" fill="#7a2090" opacity="0.83"/><circle cx="870.03" cy="600.14" r="0.35" fill="#7a2090" opacity="0.8"/><circle cx="865.84" cy="600.17" r="0.49" fill="#7a2090" opacity="0.49"/><circle cx="861.12" cy="598.95" r="0.36" fill="#3030d8" opacity="0.76"/><circle cx="860.97" cy="596.53" r="0.46" fill="#3030d8" opacity="0.5"/><circle cx="859.19" cy="593.49" r="0.46" fill="#28b050" opacity="0.89"/><circle cx="859.52" cy="590.41" r="0.52" fill="#3030d8" opacity="0.76"/><circle cx="862.41" cy="588.06" r="0.51" fill="#3030d8" opacity="0.62"/><circle cx="865.27" cy="587.82" r="0.48" fill="#7a2090" opacity="0.56"/><circle cx="869.6" cy="587.28" r="0.45" fill="#3030d8" opacity="0.85"/><circle cx="872.85" cy="588.17" r="0.62" fill="#7a2090" opacity="0.87"/><circle cx="876.31" cy="590.5" r="0.57" fill="#7a2090" opacity="0.68"/><circle cx="870.77" cy="592.44" r="0.61" fill="#3030d8" opacity="0.72"/><circle cx="868.11" cy="595.12" r="0.65" fill="#28b050" opacity="0.85"/><circle cx="864.49" cy="594.23" r="0.35" fill="#7a2090" opacity="0.53"/><circle cx="864.44" cy="590.61" r="0.52" fill="#7a2090" opacity="0.87"/><circle cx="867.75" cy="589.94" r="0.45" fill="#7a2090" opacity="0.56"/><circle cx="889.03" cy="575.67" r="0.36" fill="#7a2090" opacity="0.66"/><circle cx="887.23" cy="578.35" r="0.36" fill="#3030d8" opacity="0.55"/><circle cx="883.23" cy="578.45" r="0.68" fill="#3030d8" opacity="0.79"/><circle cx="881.27" cy="575.84" r="0.61" fill="#7a2090" opacity="0.56"/><circle cx="883.67" cy="573.22" r="0.62" fill="#3030d8" opacity="0.6"/><circle cx="887.31" cy="572.5" r="0.58" fill="#3030d8" opacity="0.84"/><circle cx="909.66" cy="605.92" r="0.68" fill="#7a2090" opacity="0.68"/><circle cx="909.11" cy="609.08" r="0.4" fill="#28b050" opacity="0.7"/><circle cx="904.75" cy="610.65" r="0.55" fill="#3030d8" opacity="0.51"/><circle cx="901.46" cy="611.29" r="0.4" fill="#7a2090" opacity="0.78"/><circle cx="897.04" cy="608.84" r="0.49" fill="#3030d8" opacity="0.45"/><circle cx="895.78" cy="606.41" r="0.47" fill="#3030d8" opacity="0.59"/><circle cx="897.39" cy="603.36" r="0.35" fill="#28b050" opacity="0.46"/><circle cx="901" cy="600.85" r="0.67" fill="#3030d8" opacity="0.58"/><circle cx="905.12" cy="600.9" r="0.55" fill="#3030d8" opacity="0.58"/><circle cx="907.82" cy="603.36" r="0.62" fill="#3030d8" opacity="0.63"/><circle cx="893.27" cy="569.98" r="0.48" fill="#3030d8" opacity="0.82"/><circle cx="890.9" cy="573.3" r="0.41" fill="#3030d8" opacity="0.6"/><circle cx="887.46" cy="573.76" r="0.7" fill="#7a2090" opacity="0.74"/><circle cx="884.43" cy="572.01" r="0.39" fill="#7a2090" opacity="0.67"/><circle cx="884.46" cy="568.48" r="0.37" fill="#7a2090" opacity="0.89"/><circle cx="887.22" cy="566.31" r="0.63" fill="#28b050" opacity="0.63"/><circle cx="891.07" cy="567.15" r="0.58" fill="#7a2090" opacity="0.7"/><circle cx="900.31" cy="589.77" r="0.46" fill="#3030d8" opacity="0.58"/><circle cx="898.19" cy="593.86" r="0.5" fill="#3030d8" opacity="0.63"/><circle cx="895.03" cy="595.95" r="0.56" fill="#3030d8" opacity="0.87"/><circle cx="890.68" cy="595.93" r="0.41" fill="#7a2090" opacity="0.86"/><circle cx="886.75" cy="594.96" r="0.37" fill="#3030d8" opacity="0.75"/><circle cx="884.54" cy="593.15" r="0.64" fill="#3030d8" opacity="0.68"/><circle cx="883.74" cy="590.12" r="0.68" fill="#3030d8" opacity="0.45"/><circle cx="884.87" cy="586.46" r="0.37" fill="#3030d8" opacity="0.85"/><circle cx="887.8" cy="584.37" r="0.69" fill="#3030d8" opacity="0.56"/><circle cx="891.35" cy="583.38" r="0.35" fill="#3030d8" opacity="0.51"/><circle cx="895.41" cy="585" r="0.38" fill="#7a2090" opacity="0.45"/><circle cx="897.04" cy="586.59" r="0.36" fill="#7a2090" opacity="0.84"/><circle cx="910.16" cy="594.54" r="0.64" fill="#3030d8" opacity="0.76"/><circle cx="910.38" cy="597.56" r="0.44" fill="#28b050" opacity="0.77"/><circle cx="906.73" cy="599.65" r="0.52" fill="#3030d8" opacity="0.84"/><circle cx="902.23" cy="600.95" r="0.64" fill="#7a2090" opacity="0.49"/><circle cx="897.46" cy="599.59" r="0.44" fill="#7a2090" opacity="0.58"/><circle cx="895.86" cy="598.71" r="0.41" fill="#7a2090" opacity="0.73"/><circle cx="895.19" cy="594.62" r="0.37" fill="#3030d8" opacity="0.88"/><circle cx="896.61" cy="592.04" r="0.45" fill="#3030d8" opacity="0.67"/><circle cx="899.07" cy="589.97" r="0.52" fill="#3030d8" opacity="0.52"/><circle cx="902.7" cy="588.07" r="0.53" fill="#28b050" opacity="0.9"/><circle cx="905.81" cy="588.84" r="0.63" fill="#7a2090" opacity="0.46"/><circle cx="909.37" cy="590.94" r="0.54" fill="#7a2090" opacity="0.49"/><circle cx="850.25" cy="591.97" r="0.54" fill="#28b050" opacity="0.57"/><circle cx="849.36" cy="594.42" r="0.57" fill="#3030d8" opacity="0.87"/><circle cx="845.63" cy="596.73" r="0.64" fill="#3030d8" opacity="0.64"/><circle cx="841.23" cy="594.6" r="0.46" fill="#28b050" opacity="0.47"/><circle cx="839.62" cy="591.63" r="0.4" fill="#3030d8" opacity="0.67"/><circle cx="841.44" cy="588.92" r="0.44" fill="#7a2090" opacity="0.88"/><circle cx="845.67" cy="587.21" r="0.46" fill="#3030d8" opacity="0.59"/><circle cx="850.08" cy="588.62" r="0.68" fill="#3030d8" opacity="0.45"/><circle cx="867.02" cy="597.42" r="0.57" fill="#3030d8" opacity="0.7"/><circle cx="865.37" cy="600.53" r="0.57" fill="#7a2090" opacity="0.85"/><circle cx="861.63" cy="602.22" r="0.38" fill="#7a2090" opacity="0.86"/><circle cx="857.62" cy="600.58" r="0.49" fill="#3030d8" opacity="0.5"/><circle cx="855.77" cy="597.9" r="0.57" fill="#7a2090" opacity="0.65"/><circle cx="856.92" cy="595" r="0.58" fill="#7a2090" opacity="0.61"/><circle cx="861.06" cy="593.86" r="0.37" fill="#7a2090" opacity="0.5"/><circle cx="864.45" cy="593.99" r="0.66" fill="#3030d8" opacity="0.59"/><circle cx="832.4" cy="590.15" r="0.59" fill="#7a2090" opacity="0.54"/><circle cx="831.5" cy="592.89" r="0.5" fill="#28b050" opacity="0.84"/><circle cx="827.99" cy="594.08" r="0.57" fill="#7a2090" opacity="0.62"/><circle cx="823.61" cy="594.02" r="0.6" fill="#3030d8" opacity="0.62"/><circle cx="821.42" cy="591.86" r="0.42" fill="#7a2090" opacity="0.83"/><circle cx="822.42" cy="588.42" r="0.55" fill="#3030d8" opacity="0.69"/><circle cx="824.03" cy="586.87" r="0.37" fill="#7a2090" opacity="0.55"/><circle cx="828.53" cy="585.75" r="0.67" fill="#3030d8" opacity="0.72"/><circle cx="831.44" cy="587.09" r="0.49" fill="#7a2090" opacity="0.61"/><circle cx="885.93" cy="599.05" r="0.53" fill="#3030d8" opacity="0.7"/><circle cx="855.25" cy="600.88" r="0.5" fill="#a02060" opacity="0.7"/><circle cx="828.03" cy="596.96" r="0.38" fill="#3030d8" opacity="0.7"/><circle cx="859.34" cy="570.04" r="0.58" fill="#3030d8" opacity="0.7"/><circle cx="897.36" cy="604.68" r="0.37" fill="#3030d8" opacity="0.7"/><circle cx="870.97" cy="586.52" r="0.55" fill="#3030d8" opacity="0.7"/><circle cx="836.38" cy="602.16" r="0.43" fill="#3030d8" opacity="0.7"/><circle cx="823.46" cy="567.96" r="0.44" fill="#3030d8" opacity="0.7"/><circle cx="835.96" cy="576.8" r="0.43" fill="#a02060" opacity="0.7"/><circle cx="895.19" cy="599.37" r="0.42" fill="#a02060" opacity="0.7"/><circle cx="835.29" cy="600.01" r="0.48" fill="#a02060" opacity="0.7"/><circle cx="846.19" cy="585.89" r="0.43" fill="#3030d8" opacity="0.7"/><circle cx="901.86" cy="590.64" r="0.59" fill="#3030d8" opacity="0.7"/><circle cx="886.44" cy="576.45" r="0.54" fill="#3030d8" opacity="0.7"/><circle cx="848.99" cy="567.95" r="0.54" fill="#a02060" opacity="0.7"/><circle cx="898.62" cy="573.4" r="0.59" fill="#a02060" opacity="0.7"/><circle cx="868.92" cy="567.19" r="0.49" fill="#3030d8" opacity="0.7"/><circle cx="853.55" cy="569.05" r="0.45" fill="#a02060" opacity="0.7"/><circle cx="889.8" cy="578.23" r="0.54" fill="#a02060" opacity="0.7"/><circle cx="870.85" cy="584.38" r="0.56" fill="#28b050" opacity="0.7"/><circle cx="852.45" cy="587.11" r="0.44" fill="#3030d8" opacity="0.7"/><circle cx="885.51" cy="598.26" r="0.53" fill="#3030d8" opacity="0.7"/><circle cx="889.33" cy="598.38" r="0.44" fill="#3030d8" opacity="0.7"/><circle cx="866.23" cy="592.03" r="0.6" fill="#3030d8" opacity="0.7"/><circle cx="836.23" cy="607.28" r="0.41" fill="#3030d8" opacity="0.7"/><circle cx="844.67" cy="586.44" r="0.36" fill="#a02060" opacity="0.7"/><circle cx="879.59" cy="572.59" r="0.43" fill="#a02060" opacity="0.7"/><circle cx="826.02" cy="576.13" r="0.41" fill="#3030d8" opacity="0.7"/><circle cx="840.63" cy="570.71" r="0.39" fill="#3030d8" opacity="0.7"/><circle cx="868.77" cy="575.51" r="0.51" fill="#3030d8" opacity="0.7"/><circle cx="830.1" cy="589.09" r="0.38" fill="#3030d8" opacity="0.7"/><circle cx="901.37" cy="592.83" r="0.43" fill="#3030d8" opacity="0.7"/><circle cx="867.94" cy="600.26" r="0.39" fill="#a02060" opacity="0.7"/><circle cx="890.67" cy="590.09" r="0.46" fill="#a02060" opacity="0.7"/><circle cx="870.11" cy="576.41" r="0.57" fill="#28b050" opacity="0.7"/><circle cx="834.23" cy="568.86" r="0.42" fill="#a02060" opacity="0.7"/><circle cx="852.02" cy="605.45" r="0.6" fill="#3030d8" opacity="0.7"/><circle cx="833.92" cy="589.98" r="0.42" fill="#3030d8" opacity="0.7"/><circle cx="889.08" cy="586.55" r="0.51" fill="#28b050" opacity="0.7"/><circle cx="840.89" cy="586.81" r="0.49" fill="#3030d8" opacity="0.7"/><circle cx="895.19" cy="579.11" r="0.49" fill="#a02060" opacity="0.7"/><circle cx="823.04" cy="582.75" r="0.39" fill="#3030d8" opacity="0.7"/><circle cx="851.38" cy="571.79" r="0.41" fill="#28b050" opacity="0.7"/><circle cx="832.45" cy="566.44" r="0.39" fill="#a02060" opacity="0.7"/><circle cx="848.6" cy="571.94" r="0.38" fill="#3030d8" opacity="0.7"/><circle cx="883.6" cy="571.13" r="0.42" fill="#3030d8" opacity="0.7"/><circle cx="829.59" cy="603.23" r="0.51" fill="#3030d8" opacity="0.7"/><circle cx="845.75" cy="566.82" r="0.49" fill="#a02060" opacity="0.7"/><circle cx="884.84" cy="597.32" r="0.38" fill="#3030d8" opacity="0.7"/><circle cx="891.25" cy="571.12" r="0.54" fill="#a02060" opacity="0.7"/><circle cx="882.57" cy="597.51" r="0.59" fill="#a02060" opacity="0.7"/><circle cx="886.65" cy="607.63" r="0.48" fill="#3030d8" opacity="0.7"/><circle cx="833.56" cy="607.37" r="0.59" fill="#3030d8" opacity="0.7"/><circle cx="830.14" cy="571.46" r="0.37" fill="#28b050" opacity="0.7"/><circle cx="871" cy="589.8" r="0.35" fill="#3030d8" opacity="0.7"/><circle cx="898.27" cy="567.76" r="0.37" fill="#a02060" opacity="0.7"/><circle cx="853.75" cy="598.21" r="0.44" fill="#3030d8" opacity="0.7"/><circle cx="858.37" cy="607.18" r="0.44" fill="#3030d8" opacity="0.7"/><circle cx="860.78" cy="604.48" r="0.41" fill="#a02060" opacity="0.7"/><circle cx="857.28" cy="592.66" r="0.47" fill="#a02060" opacity="0.7"/><circle cx="882.94" cy="597.54" r="0.52" fill="#3030d8" opacity="0.7"/><circle cx="861.75" cy="573.45" r="0.42" fill="#3030d8" opacity="0.7"/><circle cx="880.04" cy="603.52" r="0.47" fill="#a02060" opacity="0.7"/><circle cx="837.24" cy="579.9" r="0.55" fill="#a02060" opacity="0.7"/><circle cx="838.8" cy="600.94" r="0.41" fill="#a02060" opacity="0.7"/><circle cx="893.31" cy="577.01" r="0.44" fill="#a02060" opacity="0.7"/><circle cx="897.65" cy="578.74" r="0.37" fill="#3030d8" opacity="0.7"/><circle cx="899.66" cy="586.82" r="0.42" fill="#3030d8" opacity="0.7"/><circle cx="901.12" cy="567.36" r="0.48" fill="#a02060" opacity="0.7"/><circle cx="894.76" cy="589.98" r="0.49" fill="#a02060" opacity="0.7"/></g>
<clipPath id="hr1"><rect x="822.9" y="610.2" width="80.2" height="41.2"/></clipPath>
<g clip-path="url(#hr1)"><rect x="822.9" y="610.2" width="80.2" height="41.2" fill="#04000c"/><circle cx="857.82" cy="627.59" r="0.55" fill="#b0205a" opacity="0.76"/><circle cx="856.08" cy="631.35" r="0.67" fill="#3030d8" opacity="0.65"/><circle cx="853.81" cy="632.45" r="0.41" fill="#b0205a" opacity="0.58"/><circle cx="849.39" cy="632.46" r="0.44" fill="#3030d8" opacity="0.59"/><circle cx="846.62" cy="629.75" r="0.41" fill="#3030d8" opacity="0.85"/><circle cx="846.34" cy="626.74" r="0.65" fill="#3030d8" opacity="0.61"/><circle cx="848.4" cy="623.6" r="0.6" fill="#3030d8" opacity="0.56"/><circle cx="853.06" cy="622.94" r="0.45" fill="#b0205a" opacity="0.7"/><circle cx="856.61" cy="624.68" r="0.46" fill="#3030d8" opacity="0.58"/><circle cx="878.11" cy="639.07" r="0.62" fill="#b0205a" opacity="0.84"/><circle cx="877.09" cy="642.15" r="0.69" fill="#3030d8" opacity="0.66"/><circle cx="872.84" cy="642.41" r="0.61" fill="#b0205a" opacity="0.53"/><circle cx="869.86" cy="640.58" r="0.55" fill="#b0205a" opacity="0.7"/><circle cx="870" cy="637.15" r="0.47" fill="#3030d8" opacity="0.77"/><circle cx="872.94" cy="635.22" r="0.59" fill="#b0205a" opacity="0.54"/><circle cx="876.36" cy="635.62" r="0.41" fill="#b0205a" opacity="0.61"/><circle cx="882.95" cy="629.72" r="0.61" fill="#3030d8" opacity="0.68"/><circle cx="882.63" cy="632.72" r="0.64" fill="#28b050" opacity="0.76"/><circle cx="879.23" cy="634.78" r="0.67" fill="#b0205a" opacity="0.83"/><circle cx="874.33" cy="635.07" r="0.39" fill="#b0205a" opacity="0.59"/><circle cx="871.45" cy="633.45" r="0.43" fill="#3030d8" opacity="0.47"/><circle cx="870.7" cy="630.4" r="0.55" fill="#3030d8" opacity="0.49"/><circle cx="871.52" cy="627.21" r="0.62" fill="#28b050" opacity="0.48"/><circle cx="874.94" cy="625.93" r="0.65" fill="#3030d8" opacity="0.67"/><circle cx="878.34" cy="625.66" r="0.39" fill="#b0205a" opacity="0.68"/><circle cx="882.82" cy="627.06" r="0.43" fill="#b0205a" opacity="0.51"/><circle cx="902.75" cy="647.97" r="0.38" fill="#b0205a" opacity="0.8"/><circle cx="901.02" cy="649.99" r="0.47" fill="#b0205a" opacity="0.82"/><circle cx="896.55" cy="649.52" r="0.43" fill="#3030d8" opacity="0.51"/><circle cx="896.69" cy="646" r="0.53" fill="#b0205a" opacity="0.86"/><circle cx="900.56" cy="645.43" r="0.65" fill="#3030d8" opacity="0.47"/><circle cx="895.82" cy="642.3" r="0.35" fill="#3030d8" opacity="0.73"/><circle cx="895.16" cy="644.93" r="0.39" fill="#b0205a" opacity="0.74"/><circle cx="891.75" cy="647.86" r="0.55" fill="#b0205a" opacity="0.68"/><circle cx="887.89" cy="647.11" r="0.67" fill="#3030d8" opacity="0.51"/><circle cx="885.32" cy="646.36" r="0.66" fill="#3030d8" opacity="0.52"/><circle cx="882.44" cy="643.09" r="0.4" fill="#3030d8" opacity="0.58"/><circle cx="882.7" cy="640.31" r="0.35" fill="#b0205a" opacity="0.49"/><circle cx="884.62" cy="637.89" r="0.45" fill="#3030d8" opacity="0.5"/><circle cx="888.65" cy="636.92" r="0.54" fill="#b0205a" opacity="0.53"/><circle cx="891.98" cy="636.65" r="0.69" fill="#3030d8" opacity="0.54"/><circle cx="894.61" cy="639.38" r="0.54" fill="#3030d8" opacity="0.73"/><circle cx="845.72" cy="648.35" r="0.35" fill="#3030d8" opacity="0.73"/><circle cx="843" cy="650.9" r="0.44" fill="#3030d8" opacity="0.84"/><circle cx="839.48" cy="650.1" r="0.49" fill="#3030d8" opacity="0.56"/><circle cx="839.54" cy="646.58" r="0.46" fill="#3030d8" opacity="0.55"/><circle cx="843.1" cy="645.41" r="0.57" fill="#3030d8" opacity="0.51"/><circle cx="873.43" cy="637.95" r="0.35" fill="#3030d8" opacity="0.74"/><circle cx="870.27" cy="640.61" r="0.38" fill="#b0205a" opacity="0.46"/><circle cx="866.47" cy="640.7" r="0.43" fill="#b0205a" opacity="0.86"/><circle cx="863.98" cy="637.67" r="0.37" fill="#3030d8" opacity="0.77"/><circle cx="866.73" cy="634.83" r="0.61" fill="#b0205a" opacity="0.74"/><circle cx="870.42" cy="634.61" r="0.68" fill="#3030d8" opacity="0.64"/><circle cx="860.04" cy="610.64" r="0.36" fill="#3030d8" opacity="0.49"/><circle cx="857.84" cy="613.44" r="0.56" fill="#3030d8" opacity="0.58"/><circle cx="854.48" cy="613.07" r="0.5" fill="#3030d8" opacity="0.61"/><circle cx="852.01" cy="610.54" r="0.53" fill="#3030d8" opacity="0.6"/><circle cx="854.27" cy="607.82" r="0.67" fill="#b0205a" opacity="0.7"/><circle cx="858.13" cy="607.96" r="0.48" fill="#3030d8" opacity="0.84"/><circle cx="836.49" cy="613.89" r="0.66" fill="#3030d8" opacity="0.51"/><circle cx="834.64" cy="617.17" r="0.69" fill="#3030d8" opacity="0.56"/><circle cx="832.39" cy="619.3" r="0.68" fill="#3030d8" opacity="0.83"/><circle cx="829.73" cy="620.86" r="0.48" fill="#b0205a" opacity="0.51"/><circle cx="825.65" cy="621.75" r="0.66" fill="#b0205a" opacity="0.47"/><circle cx="820.48" cy="619.57" r="0.64" fill="#3030d8" opacity="0.65"/><circle cx="818.07" cy="617.49" r="0.44" fill="#3030d8" opacity="0.47"/><circle cx="817.33" cy="615.12" r="0.65" fill="#3030d8" opacity="0.52"/><circle cx="819.74" cy="610.93" r="0.49" fill="#b0205a" opacity="0.64"/><circle cx="822.91" cy="608.75" r="0.55" fill="#b0205a" opacity="0.54"/><circle cx="825.23" cy="607.18" r="0.52" fill="#3030d8" opacity="0.49"/><circle cx="830.09" cy="608.1" r="0.46" fill="#3030d8" opacity="0.84"/><circle cx="832.44" cy="608.06" r="0.38" fill="#b0205a" opacity="0.75"/><circle cx="836.25" cy="611.18" r="0.56" fill="#3030d8" opacity="0.88"/><circle cx="897.28" cy="640.01" r="0.63" fill="#b0205a" opacity="0.64"/><circle cx="896.22" cy="642.63" r="0.47" fill="#b0205a" opacity="0.65"/><circle cx="891.74" cy="645.47" r="0.58" fill="#3030d8" opacity="0.62"/><circle cx="887.84" cy="644.87" r="0.61" fill="#3030d8" opacity="0.78"/><circle cx="884.5" cy="644.65" r="0.5" fill="#b0205a" opacity="0.84"/><circle cx="883.42" cy="641.22" r="0.55" fill="#28b050" opacity="0.83"/><circle cx="881.92" cy="637.81" r="0.35" fill="#3030d8" opacity="0.88"/><circle cx="884.83" cy="636.06" r="0.65" fill="#b0205a" opacity="0.75"/><circle cx="888.2" cy="633.86" r="0.35" fill="#b0205a" opacity="0.76"/><circle cx="891.61" cy="634.16" r="0.56" fill="#3030d8" opacity="0.51"/><circle cx="895.77" cy="637.38" r="0.59" fill="#b0205a" opacity="0.81"/><circle cx="897.58" cy="650.31" r="0.55" fill="#3030d8" opacity="0.53"/><circle cx="895.47" cy="652.7" r="0.51" fill="#3030d8" opacity="0.83"/><circle cx="890.38" cy="653.67" r="0.58" fill="#b0205a" opacity="0.77"/><circle cx="887.31" cy="652.02" r="0.69" fill="#b0205a" opacity="0.65"/><circle cx="887.49" cy="648.12" r="0.35" fill="#b0205a" opacity="0.77"/><circle cx="890.83" cy="645.74" r="0.42" fill="#3030d8" opacity="0.73"/><circle cx="894.75" cy="646.99" r="0.66" fill="#3030d8" opacity="0.54"/><circle cx="895.24" cy="637.11" r="0.36" fill="#b0205a" opacity="0.58"/><circle cx="895.05" cy="639.36" r="0.64" fill="#3030d8" opacity="0.75"/><circle cx="891.69" cy="641.61" r="0.66" fill="#3030d8" opacity="0.48"/><circle cx="887.52" cy="641.73" r="0.59" fill="#3030d8" opacity="0.88"/><circle cx="884.04" cy="640.01" r="0.57" fill="#3030d8" opacity="0.57"/><circle cx="881.87" cy="636.67" r="0.43" fill="#3030d8" opacity="0.88"/><circle cx="882.96" cy="634.04" r="0.35" fill="#28b050" opacity="0.75"/><circle cx="887.16" cy="632.44" r="0.69" fill="#b0205a" opacity="0.87"/><circle cx="890.28" cy="630.92" r="0.51" fill="#3030d8" opacity="0.64"/><circle cx="893.44" cy="633.89" r="0.4" fill="#b0205a" opacity="0.83"/><circle cx="875.99" cy="621.97" r="0.61" fill="#3030d8" opacity="0.47"/><circle cx="874.79" cy="624.6" r="0.37" fill="#3030d8" opacity="0.83"/><circle cx="871.14" cy="625.88" r="0.65" fill="#3030d8" opacity="0.51"/><circle cx="868.2" cy="624.13" r="0.58" fill="#3030d8" opacity="0.85"/><circle cx="865.75" cy="621.85" r="0.4" fill="#b0205a" opacity="0.67"/><circle cx="867.21" cy="619.33" r="0.54" fill="#3030d8" opacity="0.64"/><circle cx="871.27" cy="617.87" r="0.5" fill="#3030d8" opacity="0.82"/><circle cx="875.01" cy="618.42" r="0.6" fill="#b0205a" opacity="0.48"/><circle cx="894.91" cy="636.19" r="0.52" fill="#b0205a" opacity="0.54"/><circle cx="892.03" cy="638.37" r="0.37" fill="#28b050" opacity="0.58"/><circle cx="888.16" cy="637.39" r="0.41" fill="#3030d8" opacity="0.87"/><circle cx="888.51" cy="634.36" r="0.37" fill="#3030d8" opacity="0.46"/><circle cx="891.93" cy="633.75" r="0.54" fill="#b0205a" opacity="0.66"/><circle cx="870.87" cy="650.18" r="0.65" fill="#b0205a" opacity="0.87"/><circle cx="869.08" cy="653.12" r="0.62" fill="#b0205a" opacity="0.89"/><circle cx="866.46" cy="654.85" r="0.52" fill="#3030d8" opacity="0.59"/><circle cx="862.34" cy="654.39" r="0.47" fill="#b0205a" opacity="0.69"/><circle cx="859.83" cy="651.43" r="0.47" fill="#3030d8" opacity="0.71"/><circle cx="859.43" cy="648.82" r="0.49" fill="#b0205a" opacity="0.7"/><circle cx="862.39" cy="646.12" r="0.65" fill="#b0205a" opacity="0.83"/><circle cx="865.94" cy="645.57" r="0.43" fill="#b0205a" opacity="0.77"/><circle cx="870.19" cy="648.03" r="0.58" fill="#3030d8" opacity="0.46"/><circle cx="895.9" cy="625.96" r="0.39" fill="#b0205a" opacity="0.87"/><circle cx="894.32" cy="629.25" r="0.67" fill="#b0205a" opacity="0.55"/><circle cx="891.45" cy="631.45" r="0.51" fill="#3030d8" opacity="0.65"/><circle cx="888.6" cy="632.04" r="0.67" fill="#b0205a" opacity="0.6"/><circle cx="884.24" cy="631.25" r="0.65" fill="#b0205a" opacity="0.61"/><circle cx="881.05" cy="628.28" r="0.35" fill="#b0205a" opacity="0.54"/><circle cx="880.08" cy="625.34" r="0.55" fill="#b0205a" opacity="0.65"/><circle cx="880.73" cy="623.03" r="0.43" fill="#b0205a" opacity="0.77"/><circle cx="883.56" cy="621.01" r="0.42" fill="#b0205a" opacity="0.5"/><circle cx="887.78" cy="620.23" r="0.52" fill="#3030d8" opacity="0.79"/><circle cx="892.1" cy="621.01" r="0.55" fill="#b0205a" opacity="0.65"/><circle cx="895.52" cy="622.44" r="0.43" fill="#b0205a" opacity="0.71"/><circle cx="864.22" cy="639.13" r="0.61" fill="#3030d8" opacity="0.69"/><circle cx="861.68" cy="641.87" r="0.47" fill="#3030d8" opacity="0.73"/><circle cx="857.45" cy="643.04" r="0.38" fill="#3030d8" opacity="0.53"/><circle cx="854.47" cy="641.22" r="0.52" fill="#3030d8" opacity="0.58"/><circle cx="854.63" cy="637.08" r="0.51" fill="#3030d8" opacity="0.9"/><circle cx="857.29" cy="634.96" r="0.51" fill="#3030d8" opacity="0.87"/><circle cx="862.15" cy="636.37" r="0.53" fill="#b0205a" opacity="0.53"/><circle cx="859.67" cy="612.24" r="0.67" fill="#3030d8" opacity="0.51"/><circle cx="858.2" cy="615.51" r="0.38" fill="#b0205a" opacity="0.7"/><circle cx="853.98" cy="617.29" r="0.43" fill="#3030d8" opacity="0.49"/><circle cx="850.96" cy="618.23" r="0.69" fill="#3030d8" opacity="0.62"/><circle cx="846.95" cy="617.1" r="0.66" fill="#3030d8" opacity="0.46"/><circle cx="843.67" cy="614" r="0.39" fill="#b0205a" opacity="0.83"/><circle cx="843.68" cy="610.91" r="0.68" fill="#3030d8" opacity="0.85"/><circle cx="847.45" cy="607.9" r="0.41" fill="#b0205a" opacity="0.76"/><circle cx="850.21" cy="607.43" r="0.68" fill="#3030d8" opacity="0.71"/><circle cx="855.06" cy="606.55" r="0.51" fill="#28b050" opacity="0.64"/><circle cx="857.99" cy="609.48" r="0.68" fill="#b0205a" opacity="0.53"/><circle cx="873.17" cy="643.9" r="0.49" fill="#b0205a" opacity="0.54"/><circle cx="870.66" cy="646.66" r="0.66" fill="#3030d8" opacity="0.47"/><circle cx="867.21" cy="647" r="0.58" fill="#b0205a" opacity="0.5"/><circle cx="864.04" cy="645.51" r="0.68" fill="#3030d8" opacity="0.68"/><circle cx="863.54" cy="642.23" r="0.35" fill="#b0205a" opacity="0.74"/><circle cx="867.22" cy="640.34" r="0.44" fill="#b0205a" opacity="0.71"/><circle cx="871.13" cy="640.74" r="0.45" fill="#b0205a" opacity="0.7"/><circle cx="879.55" cy="625.67" r="0.39" fill="#3030d8" opacity="0.5"/><circle cx="876.89" cy="627.85" r="0.67" fill="#b0205a" opacity="0.69"/><circle cx="872.82" cy="627.55" r="0.55" fill="#b0205a" opacity="0.79"/><circle cx="872.8" cy="623.91" r="0.56" fill="#b0205a" opacity="0.88"/><circle cx="876.89" cy="623.25" r="0.66" fill="#b0205a" opacity="0.8"/><circle cx="846.84" cy="632.3" r="0.61" fill="#28b050" opacity="0.73"/><circle cx="845.19" cy="634.28" r="0.37" fill="#3030d8" opacity="0.83"/><circle cx="842.24" cy="636.25" r="0.49" fill="#b0205a" opacity="0.74"/><circle cx="837.83" cy="636.95" r="0.59" fill="#b0205a" opacity="0.48"/><circle cx="834.63" cy="634.82" r="0.69" fill="#b0205a" opacity="0.59"/><circle cx="834.34" cy="631.89" r="0.54" fill="#3030d8" opacity="0.7"/><circle cx="834.51" cy="629.53" r="0.35" fill="#3030d8" opacity="0.51"/><circle cx="837.92" cy="628" r="0.67" fill="#3030d8" opacity="0.89"/><circle cx="841.89" cy="627.37" r="0.6" fill="#b0205a" opacity="0.72"/><circle cx="845.59" cy="629.4" r="0.68" fill="#b0205a" opacity="0.75"/><circle cx="867.43" cy="645.03" r="0.53" fill="#3030d8" opacity="0.89"/><circle cx="865.66" cy="647.84" r="0.67" fill="#3030d8" opacity="0.58"/><circle cx="861.31" cy="648.76" r="0.37" fill="#3030d8" opacity="0.87"/><circle cx="857.94" cy="646.85" r="0.53" fill="#b0205a" opacity="0.63"/><circle cx="858.21" cy="643.29" r="0.67" fill="#28b050" opacity="0.53"/><circle cx="861.53" cy="641.95" r="0.43" fill="#3030d8" opacity="0.7"/><circle cx="865.92" cy="642.41" r="0.42" fill="#3030d8" opacity="0.65"/><circle cx="875.18" cy="629.2" r="0.69" fill="#b0205a" opacity="0.62"/><circle cx="873.68" cy="631.79" r="0.52" fill="#3030d8" opacity="0.76"/><circle cx="870.85" cy="633.31" r="0.45" fill="#b0205a" opacity="0.84"/><circle cx="867.43" cy="634.79" r="0.63" fill="#28b050" opacity="0.84"/><circle cx="863.92" cy="633.59" r="0.42" fill="#b0205a" opacity="0.59"/><circle cx="862.38" cy="630.53" r="0.6" fill="#3030d8" opacity="0.58"/><circle cx="861.22" cy="627.44" r="0.6" fill="#3030d8" opacity="0.46"/><circle cx="864.35" cy="624.66" r="0.58" fill="#b0205a" opacity="0.5"/><circle cx="867.3" cy="623.12" r="0.56" fill="#b0205a" opacity="0.83"/><circle cx="871.47" cy="623.26" r="0.68" fill="#28b050" opacity="0.53"/><circle cx="873.82" cy="625.05" r="0.43" fill="#3030d8" opacity="0.72"/><circle cx="888.19" cy="647.86" r="0.61" fill="#3030d8" opacity="0.87"/><circle cx="886.48" cy="651.42" r="0.39" fill="#b0205a" opacity="0.76"/><circle cx="882.32" cy="652.11" r="0.36" fill="#b0205a" opacity="0.62"/><circle cx="879.47" cy="649.37" r="0.45" fill="#b0205a" opacity="0.47"/><circle cx="879.27" cy="646.06" r="0.62" fill="#28b050" opacity="0.48"/><circle cx="883.05" cy="644.71" r="0.47" fill="#b0205a" opacity="0.6"/><circle cx="886.66" cy="644.84" r="0.69" fill="#3030d8" opacity="0.7"/><circle cx="879.1" cy="629.15" r="0.52" fill="#3030d8" opacity="0.78"/><circle cx="878.95" cy="631.42" r="0.51" fill="#b0205a" opacity="0.77"/><circle cx="875.25" cy="634.41" r="0.4" fill="#b0205a" opacity="0.45"/><circle cx="872.3" cy="635.28" r="0.56" fill="#3030d8" opacity="0.58"/><circle cx="867.9" cy="634.43" r="0.49" fill="#28b050" opacity="0.69"/><circle cx="863.99" cy="631.99" r="0.59" fill="#3030d8" opacity="0.73"/><circle cx="864.89" cy="629.1" r="0.55" fill="#3030d8" opacity="0.74"/><circle cx="865.61" cy="624.82" r="0.38" fill="#3030d8" opacity="0.6"/><circle cx="867.68" cy="623.44" r="0.53" fill="#b0205a" opacity="0.82"/><circle cx="871.76" cy="622.09" r="0.61" fill="#b0205a" opacity="0.84"/><circle cx="875.47" cy="622.91" r="0.55" fill="#3030d8" opacity="0.84"/><circle cx="878.2" cy="625.58" r="0.53" fill="#3030d8" opacity="0.74"/><circle cx="900.06" cy="629.43" r="0.64" fill="#3030d8" opacity="0.67"/><circle cx="899.81" cy="632.59" r="0.39" fill="#b0205a" opacity="0.68"/><circle cx="896.39" cy="634.06" r="0.57" fill="#b0205a" opacity="0.72"/><circle cx="891.79" cy="632.89" r="0.49" fill="#b0205a" opacity="0.64"/><circle cx="889.15" cy="631.07" r="0.47" fill="#b0205a" opacity="0.77"/><circle cx="889.13" cy="627.86" r="0.66" fill="#3030d8" opacity="0.74"/><circle cx="892.05" cy="625.82" r="0.43" fill="#b0205a" opacity="0.86"/><circle cx="896.19" cy="625.34" r="0.39" fill="#3030d8" opacity="0.81"/><circle cx="899.57" cy="626.42" r="0.57" fill="#b0205a" opacity="0.85"/><circle cx="888.64" cy="622.19" r="0.54" fill="#b0205a" opacity="0.59"/><circle cx="886.11" cy="626.33" r="0.55" fill="#3030d8" opacity="0.78"/><circle cx="884.51" cy="628.36" r="0.63" fill="#3030d8" opacity="0.52"/><circle cx="880.82" cy="629.4" r="0.6" fill="#3030d8" opacity="0.79"/><circle cx="878.1" cy="629.64" r="0.38" fill="#3030d8" opacity="0.74"/><circle cx="874.09" cy="629.06" r="0.37" fill="#3030d8" opacity="0.89"/><circle cx="871.27" cy="626.78" r="0.42" fill="#b0205a" opacity="0.57"/><circle cx="870.2" cy="623.15" r="0.69" fill="#b0205a" opacity="0.75"/><circle cx="871.08" cy="618.98" r="0.44" fill="#b0205a" opacity="0.58"/><circle cx="873.41" cy="617.03" r="0.53" fill="#b0205a" opacity="0.64"/><circle cx="876.42" cy="616.6" r="0.67" fill="#3030d8" opacity="0.54"/><circle cx="880.77" cy="614.86" r="0.44" fill="#b0205a" opacity="0.54"/><circle cx="884.7" cy="618.01" r="0.48" fill="#3030d8" opacity="0.56"/><circle cx="887.32" cy="619.44" r="0.45" fill="#b0205a" opacity="0.47"/><circle cx="898.05" cy="645.7" r="0.44" fill="#3030d8" opacity="0.74"/><circle cx="897.55" cy="648.63" r="0.43" fill="#b0205a" opacity="0.61"/><circle cx="895" cy="651.13" r="0.69" fill="#b0205a" opacity="0.48"/><circle cx="891.29" cy="650.52" r="0.43" fill="#3030d8" opacity="0.75"/><circle cx="886.71" cy="649.25" r="0.51" fill="#b0205a" opacity="0.74"/><circle cx="884.02" cy="647.1" r="0.54" fill="#3030d8" opacity="0.62"/><circle cx="885.09" cy="644.07" r="0.43" fill="#3030d8" opacity="0.66"/><circle cx="887.38" cy="640.32" r="0.58" fill="#3030d8" opacity="0.57"/><circle cx="890.5" cy="639.91" r="0.43" fill="#3030d8" opacity="0.68"/><circle cx="894.78" cy="639.91" r="0.5" fill="#3030d8" opacity="0.53"/><circle cx="897.89" cy="642.13" r="0.42" fill="#b0205a" opacity="0.64"/><circle cx="852.96" cy="645.77" r="0.39" fill="#3030d8" opacity="0.77"/><circle cx="851.07" cy="649" r="0.39" fill="#3030d8" opacity="0.54"/><circle cx="847.56" cy="650.94" r="0.6" fill="#b0205a" opacity="0.61"/><circle cx="843.24" cy="650.51" r="0.42" fill="#3030d8" opacity="0.52"/><circle cx="840.39" cy="647.61" r="0.35" fill="#3030d8" opacity="0.83"/><circle cx="841.39" cy="644.19" r="0.65" fill="#b0205a" opacity="0.72"/><circle cx="843.85" cy="641.58" r="0.42" fill="#b0205a" opacity="0.71"/><circle cx="847.97" cy="641.13" r="0.66" fill="#b0205a" opacity="0.87"/><circle cx="851.64" cy="642.71" r="0.51" fill="#3030d8" opacity="0.8"/><circle cx="891.28" cy="612.05" r="0.42" fill="#28b050" opacity="0.77"/><circle cx="889.49" cy="614.99" r="0.45" fill="#b0205a" opacity="0.82"/><circle cx="885.72" cy="617.43" r="0.49" fill="#b0205a" opacity="0.53"/><circle cx="881.65" cy="619.21" r="0.35" fill="#b0205a" opacity="0.78"/><circle cx="877.85" cy="617.44" r="0.6" fill="#b0205a" opacity="0.5"/><circle cx="875.86" cy="616.54" r="0.59" fill="#3030d8" opacity="0.78"/><circle cx="872.43" cy="613.34" r="0.52" fill="#b0205a" opacity="0.55"/><circle cx="873.92" cy="609.34" r="0.48" fill="#b0205a" opacity="0.9"/><circle cx="875.6" cy="606.27" r="0.58" fill="#3030d8" opacity="0.73"/><circle cx="877.68" cy="605.74" r="0.51" fill="#3030d8" opacity="0.87"/><circle cx="883.16" cy="605.05" r="0.61" fill="#28b050" opacity="0.51"/><circle cx="886.78" cy="605.28" r="0.43" fill="#28b050" opacity="0.8"/><circle cx="890.29" cy="608.68" r="0.61" fill="#28b050" opacity="0.61"/><circle cx="895.42" cy="649.2" r="0.43" fill="#b0205a" opacity="0.52"/><circle cx="894.46" cy="652.12" r="0.51" fill="#3030d8" opacity="0.55"/><circle cx="890.21" cy="652.81" r="0.58" fill="#3030d8" opacity="0.73"/><circle cx="887.8" cy="651.03" r="0.53" fill="#3030d8" opacity="0.54"/><circle cx="887.44" cy="647.64" r="0.7" fill="#3030d8" opacity="0.6"/><circle cx="890.31" cy="645.24" r="0.5" fill="#b0205a" opacity="0.46"/><circle cx="894.39" cy="646.48" r="0.45" fill="#b0205a" opacity="0.86"/><circle cx="877.84" cy="643.57" r="0.45" fill="#28b050" opacity="0.84"/><circle cx="876.64" cy="647.22" r="0.69" fill="#3030d8" opacity="0.9"/><circle cx="872.53" cy="648.39" r="0.58" fill="#3030d8" opacity="0.47"/><circle cx="869.2" cy="649.47" r="0.48" fill="#b0205a" opacity="0.5"/><circle cx="865.87" cy="647.77" r="0.45" fill="#28b050" opacity="0.47"/><circle cx="862.34" cy="645.58" r="0.55" fill="#28b050" opacity="0.5"/><circle cx="862.45" cy="641.85" r="0.45" fill="#3030d8" opacity="0.82"/><circle cx="865.61" cy="639.45" r="0.68" fill="#3030d8" opacity="0.84"/><circle cx="869.27" cy="638.65" r="0.52" fill="#28b050" opacity="0.9"/><circle cx="871.94" cy="639.32" r="0.69" fill="#28b050" opacity="0.63"/><circle cx="876.18" cy="640.95" r="0.44" fill="#3030d8" opacity="0.88"/><circle cx="850.76" cy="618.66" r="0.65" fill="#3030d8" opacity="0.83"/><circle cx="848.81" cy="621.57" r="0.6" fill="#3030d8" opacity="0.74"/><circle cx="844.73" cy="622.05" r="0.56" fill="#3030d8" opacity="0.89"/><circle cx="841.93" cy="620.57" r="0.61" fill="#b0205a" opacity="0.57"/><circle cx="842.38" cy="617" r="0.45" fill="#3030d8" opacity="0.74"/><circle cx="845.24" cy="615.37" r="0.54" fill="#b0205a" opacity="0.64"/><circle cx="849" cy="615.37" r="0.51" fill="#b0205a" opacity="0.76"/><circle cx="908.24" cy="614.06" r="0.45" fill="#b0205a" opacity="0.8"/><circle cx="907.51" cy="617.39" r="0.63" fill="#3030d8" opacity="0.56"/><circle cx="904.41" cy="618.51" r="0.4" fill="#3030d8" opacity="0.88"/><circle cx="900.01" cy="619.83" r="0.4" fill="#3030d8" opacity="0.81"/><circle cx="895.05" cy="617.7" r="0.5" fill="#b0205a" opacity="0.59"/><circle cx="894.9" cy="615.98" r="0.39" fill="#3030d8" opacity="0.54"/><circle cx="893.69" cy="612.64" r="0.56" fill="#28b050" opacity="0.5"/><circle cx="896.08" cy="610.29" r="0.55" fill="#3030d8" opacity="0.52"/><circle cx="899.43" cy="608.93" r="0.62" fill="#b0205a" opacity="0.57"/><circle cx="903.82" cy="609.14" r="0.63" fill="#b0205a" opacity="0.49"/><circle cx="907.2" cy="611.01" r="0.62" fill="#3030d8" opacity="0.57"/><circle cx="876.45" cy="639.29" r="0.58" fill="#a02060" opacity="0.7"/><circle cx="859.27" cy="624.03" r="0.39" fill="#3030d8" opacity="0.7"/><circle cx="852.22" cy="612.63" r="0.42" fill="#a02060" opacity="0.7"/><circle cx="886.8" cy="628.41" r="0.56" fill="#a02060" opacity="0.7"/><circle cx="858.4" cy="616.18" r="0.44" fill="#3030d8" opacity="0.7"/><circle cx="828.67" cy="648.59" r="0.37" fill="#3030d8" opacity="0.7"/><circle cx="877.7" cy="621.47" r="0.6" fill="#3030d8" opacity="0.7"/><circle cx="880.07" cy="643.57" r="0.36" fill="#3030d8" opacity="0.7"/><circle cx="835.53" cy="638.68" r="0.6" fill="#a02060" opacity="0.7"/><circle cx="893.45" cy="613.24" r="0.53" fill="#a02060" opacity="0.7"/><circle cx="833.18" cy="644.05" r="0.49" fill="#3030d8" opacity="0.7"/><circle cx="870.28" cy="625.25" r="0.48" fill="#a02060" opacity="0.7"/><circle cx="893.55" cy="630.48" r="0.46" fill="#3030d8" opacity="0.7"/><circle cx="844.9" cy="616.84" r="0.46" fill="#a02060" opacity="0.7"/><circle cx="854.64" cy="648.48" r="0.55" fill="#3030d8" opacity="0.7"/><circle cx="902.47" cy="649.26" r="0.5" fill="#3030d8" opacity="0.7"/><circle cx="872.1" cy="630.9" r="0.51" fill="#3030d8" opacity="0.7"/><circle cx="848.6" cy="634.98" r="0.55" fill="#a02060" opacity="0.7"/><circle cx="899.1" cy="610.34" r="0.46" fill="#a02060" opacity="0.7"/><circle cx="893.23" cy="650.23" r="0.59" fill="#a02060" opacity="0.7"/><circle cx="830.04" cy="617.3" r="0.41" fill="#3030d8" opacity="0.7"/><circle cx="853.84" cy="631.3" r="0.44" fill="#3030d8" opacity="0.7"/><circle cx="885.42" cy="637.38" r="0.42" fill="#3030d8" opacity="0.7"/><circle cx="860.36" cy="650.6" r="0.44" fill="#28b050" opacity="0.7"/><circle cx="898.41" cy="634.28" r="0.43" fill="#a02060" opacity="0.7"/><circle cx="895.4" cy="632.88" r="0.38" fill="#a02060" opacity="0.7"/><circle cx="860.83" cy="643.7" r="0.41" fill="#3030d8" opacity="0.7"/><circle cx="901.45" cy="650.45" r="0.49" fill="#a02060" opacity="0.7"/><circle cx="825.8" cy="626.58" r="0.52" fill="#3030d8" opacity="0.7"/><circle cx="900.53" cy="612.82" r="0.47" fill="#a02060" opacity="0.7"/><circle cx="901.93" cy="612.87" r="0.57" fill="#a02060" opacity="0.7"/><circle cx="837.17" cy="622.2" r="0.37" fill="#3030d8" opacity="0.7"/><circle cx="877.62" cy="630.68" r="0.5" fill="#a02060" opacity="0.7"/><circle cx="899.31" cy="622.3" r="0.41" fill="#a02060" opacity="0.7"/><circle cx="873.44" cy="626.64" r="0.57" fill="#3030d8" opacity="0.7"/><circle cx="898.6" cy="634.82" r="0.42" fill="#3030d8" opacity="0.7"/><circle cx="827.86" cy="626.7" r="0.52" fill="#3030d8" opacity="0.7"/><circle cx="841.97" cy="643.66" r="0.44" fill="#3030d8" opacity="0.7"/><circle cx="848.88" cy="615.79" r="0.4" fill="#3030d8" opacity="0.7"/><circle cx="887.1" cy="622.38" r="0.59" fill="#a02060" opacity="0.7"/><circle cx="898.86" cy="615.37" r="0.56" fill="#3030d8" opacity="0.7"/><circle cx="865.26" cy="638.31" r="0.59" fill="#28b050" opacity="0.7"/><circle cx="832.77" cy="622.49" r="0.59" fill="#3030d8" opacity="0.7"/><circle cx="896.37" cy="610.71" r="0.54" fill="#3030d8" opacity="0.7"/><circle cx="892.64" cy="645.28" r="0.5" fill="#3030d8" opacity="0.7"/><circle cx="832.36" cy="649.92" r="0.5" fill="#3030d8" opacity="0.7"/><circle cx="837.29" cy="618.04" r="0.36" fill="#a02060" opacity="0.7"/><circle cx="827.63" cy="645.66" r="0.48" fill="#a02060" opacity="0.7"/><circle cx="879" cy="634.16" r="0.52" fill="#3030d8" opacity="0.7"/><circle cx="879.94" cy="615.66" r="0.56" fill="#3030d8" opacity="0.7"/><circle cx="866.79" cy="646.57" r="0.44" fill="#a02060" opacity="0.7"/><circle cx="875.28" cy="613.18" r="0.47" fill="#3030d8" opacity="0.7"/><circle cx="834.96" cy="629.71" r="0.54" fill="#3030d8" opacity="0.7"/><circle cx="889.38" cy="644.54" r="0.4" fill="#a02060" opacity="0.7"/><circle cx="830.53" cy="640.87" r="0.48" fill="#3030d8" opacity="0.7"/><circle cx="846.73" cy="621.16" r="0.53" fill="#3030d8" opacity="0.7"/><circle cx="892.59" cy="634.11" r="0.6" fill="#3030d8" opacity="0.7"/><circle cx="876.47" cy="648.01" r="0.54" fill="#3030d8" opacity="0.7"/><circle cx="896.1" cy="628.23" r="0.44" fill="#3030d8" opacity="0.7"/><circle cx="895.02" cy="622.92" r="0.58" fill="#3030d8" opacity="0.7"/><circle cx="857.85" cy="629.13" r="0.49" fill="#3030d8" opacity="0.7"/><circle cx="864.14" cy="621.43" r="0.54" fill="#3030d8" opacity="0.7"/><circle cx="864.02" cy="618" r="0.57" fill="#a02060" opacity="0.7"/><circle cx="849.4" cy="644.55" r="0.41" fill="#a02060" opacity="0.7"/><circle cx="863.25" cy="643.96" r="0.58" fill="#3030d8" opacity="0.7"/><circle cx="885.34" cy="648.12" r="0.43" fill="#a02060" opacity="0.7"/><circle cx="854.06" cy="625.08" r="0.57" fill="#28b050" opacity="0.7"/><circle cx="868.33" cy="636.79" r="0.46" fill="#3030d8" opacity="0.7"/><circle cx="834.14" cy="621.68" r="0.49" fill="#3030d8" opacity="0.7"/><circle cx="839.17" cy="623.23" r="0.36" fill="#3030d8" opacity="0.7"/></g>
<clipPath id="hr2"><rect x="822.9" y="653.4" width="80.2" height="41"/></clipPath>
<g clip-path="url(#hr2)"><rect x="822.9" y="653.4" width="80.2" height="41" fill="#04000c"/><circle cx="842.51" cy="654.85" r="0.68" fill="#3030d8" opacity="0.8"/><circle cx="839.86" cy="657.53" r="0.46" fill="#3030d8" opacity="0.46"/><circle cx="835.39" cy="656.34" r="0.57" fill="#28b050" opacity="0.89"/><circle cx="835.62" cy="652.91" r="0.47" fill="#3030d8" opacity="0.78"/><circle cx="840.03" cy="652.24" r="0.54" fill="#3030d8" opacity="0.67"/><circle cx="890.59" cy="657.53" r="0.52" fill="#7a2090" opacity="0.48"/><circle cx="887.87" cy="659.99" r="0.53" fill="#3030d8" opacity="0.56"/><circle cx="884.5" cy="657.85" r="0.45" fill="#7a2090" opacity="0.87"/><circle cx="887.94" cy="655.13" r="0.58" fill="#3030d8" opacity="0.51"/><circle cx="906.95" cy="666.07" r="0.64" fill="#7a2090" opacity="0.79"/><circle cx="905.83" cy="668.9" r="0.56" fill="#7a2090" opacity="0.47"/><circle cx="901.96" cy="669.51" r="0.67" fill="#3030d8" opacity="0.77"/><circle cx="898.36" cy="668.25" r="0.69" fill="#3030d8" opacity="0.55"/><circle cx="896.31" cy="665.61" r="0.39" fill="#7a2090" opacity="0.81"/><circle cx="898.48" cy="662.14" r="0.67" fill="#3030d8" opacity="0.62"/><circle cx="901.67" cy="661.44" r="0.62" fill="#3030d8" opacity="0.56"/><circle cx="906.01" cy="662.54" r="0.54" fill="#3030d8" opacity="0.54"/><circle cx="894.02" cy="662.69" r="0.64" fill="#3030d8" opacity="0.85"/><circle cx="891.68" cy="665.95" r="0.63" fill="#3030d8" opacity="0.61"/><circle cx="887.5" cy="665.32" r="0.39" fill="#3030d8" opacity="0.62"/><circle cx="885.42" cy="662.89" r="0.59" fill="#3030d8" opacity="0.58"/><circle cx="887.8" cy="659.72" r="0.47" fill="#3030d8" opacity="0.76"/><circle cx="891.77" cy="659.95" r="0.53" fill="#3030d8" opacity="0.87"/><circle cx="865.12" cy="675.1" r="0.4" fill="#3030d8" opacity="0.63"/><circle cx="862.58" cy="677.64" r="0.69" fill="#3030d8" opacity="0.75"/><circle cx="858.93" cy="677.78" r="0.43" fill="#7a2090" opacity="0.86"/><circle cx="857.43" cy="675.17" r="0.47" fill="#3030d8" opacity="0.79"/><circle cx="859.27" cy="672.41" r="0.48" fill="#28b050" opacity="0.56"/><circle cx="863.53" cy="672.18" r="0.37" fill="#7a2090" opacity="0.78"/><circle cx="853.69" cy="665.18" r="0.63" fill="#7a2090" opacity="0.48"/><circle cx="851.65" cy="667.69" r="0.68" fill="#7a2090" opacity="0.47"/><circle cx="848.03" cy="668.17" r="0.56" fill="#7a2090" opacity="0.45"/><circle cx="846.67" cy="665.32" r="0.37" fill="#3030d8" opacity="0.88"/><circle cx="847.96" cy="662.82" r="0.51" fill="#3030d8" opacity="0.86"/><circle cx="852.07" cy="662.78" r="0.42" fill="#7a2090" opacity="0.57"/><circle cx="899.86" cy="687.26" r="0.4" fill="#28b050" opacity="0.69"/><circle cx="897.37" cy="689.91" r="0.68" fill="#7a2090" opacity="0.83"/><circle cx="893.93" cy="687.52" r="0.45" fill="#3030d8" opacity="0.48"/><circle cx="897.36" cy="685.18" r="0.68" fill="#3030d8" opacity="0.52"/><circle cx="843.05" cy="659.42" r="0.62" fill="#7a2090" opacity="0.78"/><circle cx="840.94" cy="662.8" r="0.4" fill="#3030d8" opacity="0.57"/><circle cx="836.87" cy="662.41" r="0.44" fill="#3030d8" opacity="0.79"/><circle cx="834.63" cy="659.58" r="0.61" fill="#7a2090" opacity="0.45"/><circle cx="836.43" cy="657.08" r="0.53" fill="#3030d8" opacity="0.59"/><circle cx="841.07" cy="657.06" r="0.64" fill="#3030d8" opacity="0.85"/><circle cx="835.92" cy="663.35" r="0.59" fill="#7a2090" opacity="0.66"/><circle cx="834.1" cy="666.41" r="0.42" fill="#7a2090" opacity="0.9"/><circle cx="833.85" cy="668.85" r="0.7" fill="#3030d8" opacity="0.86"/><circle cx="829.51" cy="670.25" r="0.46" fill="#3030d8" opacity="0.48"/><circle cx="823.89" cy="670.31" r="0.66" fill="#3030d8" opacity="0.5"/><circle cx="820.99" cy="667.04" r="0.47" fill="#3030d8" opacity="0.74"/><circle cx="819.85" cy="665.39" r="0.61" fill="#3030d8" opacity="0.53"/><circle cx="820.51" cy="662.61" r="0.35" fill="#3030d8" opacity="0.66"/><circle cx="821.39" cy="659.52" r="0.68" fill="#7a2090" opacity="0.49"/><circle cx="824.52" cy="657.42" r="0.6" fill="#3030d8" opacity="0.68"/><circle cx="828.65" cy="657.25" r="0.48" fill="#7a2090" opacity="0.83"/><circle cx="833.64" cy="658.03" r="0.62" fill="#28b050" opacity="0.8"/><circle cx="834.66" cy="660.87" r="0.61" fill="#7a2090" opacity="0.59"/><circle cx="837.79" cy="692.91" r="0.47" fill="#3030d8" opacity="0.53"/><circle cx="838.3" cy="696.42" r="0.54" fill="#3030d8" opacity="0.88"/><circle cx="833.83" cy="698.89" r="0.64" fill="#7a2090" opacity="0.56"/><circle cx="830.15" cy="699.04" r="0.59" fill="#3030d8" opacity="0.8"/><circle cx="827.28" cy="698.76" r="0.55" fill="#3030d8" opacity="0.46"/><circle cx="822.61" cy="696.39" r="0.4" fill="#7a2090" opacity="0.76"/><circle cx="822.74" cy="693.34" r="0.4" fill="#3030d8" opacity="0.9"/><circle cx="822.94" cy="690.19" r="0.48" fill="#7a2090" opacity="0.55"/><circle cx="826.33" cy="687.31" r="0.61" fill="#3030d8" opacity="0.9"/><circle cx="829.85" cy="686.88" r="0.61" fill="#3030d8" opacity="0.54"/><circle cx="835.48" cy="688.44" r="0.64" fill="#3030d8" opacity="0.72"/><circle cx="837.51" cy="690.14" r="0.37" fill="#7a2090" opacity="0.83"/><circle cx="909.28" cy="657.46" r="0.42" fill="#3030d8" opacity="0.49"/><circle cx="908.47" cy="661.07" r="0.61" fill="#3030d8" opacity="0.79"/><circle cx="906.3" cy="662.47" r="0.55" fill="#3030d8" opacity="0.77"/><circle cx="903.1" cy="663.58" r="0.62" fill="#3030d8" opacity="0.62"/><circle cx="898.49" cy="662.28" r="0.67" fill="#3030d8" opacity="0.79"/><circle cx="896.46" cy="660.22" r="0.63" fill="#3030d8" opacity="0.75"/><circle cx="894.04" cy="657.31" r="0.48" fill="#3030d8" opacity="0.86"/><circle cx="896.29" cy="654.39" r="0.47" fill="#3030d8" opacity="0.64"/><circle cx="898.65" cy="652.4" r="0.61" fill="#3030d8" opacity="0.85"/><circle cx="903.06" cy="651.03" r="0.52" fill="#7a2090" opacity="0.83"/><circle cx="905.38" cy="652.38" r="0.65" fill="#3030d8" opacity="0.74"/><circle cx="908.75" cy="653.51" r="0.57" fill="#7a2090" opacity="0.6"/><circle cx="854.42" cy="678.62" r="0.39" fill="#3030d8" opacity="0.8"/><circle cx="852.66" cy="681.68" r="0.52" fill="#3030d8" opacity="0.7"/><circle cx="849.01" cy="685.07" r="0.4" fill="#7a2090" opacity="0.52"/><circle cx="845.16" cy="684.77" r="0.42" fill="#7a2090" opacity="0.65"/><circle cx="841.88" cy="683.46" r="0.67" fill="#3030d8" opacity="0.48"/><circle cx="839.95" cy="680.69" r="0.5" fill="#7a2090" opacity="0.66"/><circle cx="838.91" cy="677.37" r="0.47" fill="#3030d8" opacity="0.51"/><circle cx="841.14" cy="674.95" r="0.42" fill="#7a2090" opacity="0.71"/><circle cx="845.02" cy="673.55" r="0.48" fill="#3030d8" opacity="0.58"/><circle cx="849.37" cy="672.71" r="0.65" fill="#7a2090" opacity="0.77"/><circle cx="852.5" cy="676.19" r="0.64" fill="#7a2090" opacity="0.47"/><circle cx="876.35" cy="673.99" r="0.52" fill="#7a2090" opacity="0.51"/><circle cx="875" cy="677.03" r="0.44" fill="#3030d8" opacity="0.51"/><circle cx="871.34" cy="679.48" r="0.41" fill="#3030d8" opacity="0.87"/><circle cx="867.48" cy="679.76" r="0.41" fill="#3030d8" opacity="0.73"/><circle cx="864.31" cy="678.38" r="0.42" fill="#7a2090" opacity="0.87"/><circle cx="861.1" cy="675.75" r="0.51" fill="#7a2090" opacity="0.48"/><circle cx="861.44" cy="671.98" r="0.45" fill="#3030d8" opacity="0.49"/><circle cx="864.29" cy="669.91" r="0.6" fill="#3030d8" opacity="0.72"/><circle cx="868.05" cy="667.6" r="0.46" fill="#3030d8" opacity="0.64"/><circle cx="871.26" cy="667.76" r="0.44" fill="#3030d8" opacity="0.88"/><circle cx="875.19" cy="670.37" r="0.69" fill="#3030d8" opacity="0.47"/><circle cx="892.08" cy="654.91" r="0.61" fill="#7a2090" opacity="0.78"/><circle cx="889.49" cy="658.16" r="0.43" fill="#3030d8" opacity="0.58"/><circle cx="886.18" cy="657.64" r="0.6" fill="#3030d8" opacity="0.67"/><circle cx="884.29" cy="655.16" r="0.4" fill="#3030d8" opacity="0.54"/><circle cx="885.98" cy="651.74" r="0.51" fill="#3030d8" opacity="0.72"/><circle cx="889.76" cy="652.3" r="0.57" fill="#7a2090" opacity="0.89"/><circle cx="891.52" cy="662.6" r="0.38" fill="#7a2090" opacity="0.8"/><circle cx="890.05" cy="666.01" r="0.37" fill="#7a2090" opacity="0.48"/><circle cx="886.4" cy="668.87" r="0.47" fill="#3030d8" opacity="0.51"/><circle cx="882.54" cy="669.41" r="0.57" fill="#7a2090" opacity="0.47"/><circle cx="879.25" cy="668.07" r="0.37" fill="#3030d8" opacity="0.64"/><circle cx="875.25" cy="664.47" r="0.67" fill="#3030d8" opacity="0.59"/><circle cx="876.89" cy="661.44" r="0.66" fill="#7a2090" opacity="0.65"/><circle cx="878.58" cy="658.37" r="0.54" fill="#3030d8" opacity="0.85"/><circle cx="882.55" cy="657.23" r="0.46" fill="#3030d8" opacity="0.87"/><circle cx="887.12" cy="657.29" r="0.58" fill="#3030d8" opacity="0.72"/><circle cx="888.93" cy="659.4" r="0.59" fill="#3030d8" opacity="0.57"/><circle cx="867.49" cy="689.07" r="0.54" fill="#3030d8" opacity="0.51"/><circle cx="866.68" cy="692.21" r="0.46" fill="#28b050" opacity="0.86"/><circle cx="863.71" cy="694.76" r="0.62" fill="#3030d8" opacity="0.66"/><circle cx="859.75" cy="694.52" r="0.58" fill="#3030d8" opacity="0.74"/><circle cx="855.55" cy="693.32" r="0.4" fill="#7a2090" opacity="0.53"/><circle cx="853.28" cy="690.99" r="0.55" fill="#7a2090" opacity="0.52"/><circle cx="852.77" cy="687.65" r="0.38" fill="#7a2090" opacity="0.74"/><circle cx="855.51" cy="684.96" r="0.57" fill="#3030d8" opacity="0.59"/><circle cx="858.41" cy="683.79" r="0.53" fill="#7a2090" opacity="0.46"/><circle cx="862.7" cy="684.52" r="0.44" fill="#7a2090" opacity="0.55"/><circle cx="865.51" cy="685.69" r="0.46" fill="#7a2090" opacity="0.62"/><circle cx="853.34" cy="680.15" r="0.4" fill="#7a2090" opacity="0.87"/><circle cx="852.68" cy="683.02" r="0.39" fill="#3030d8" opacity="0.49"/><circle cx="849.67" cy="685.88" r="0.64" fill="#7a2090" opacity="0.89"/><circle cx="845.82" cy="687.02" r="0.69" fill="#7a2090" opacity="0.82"/><circle cx="842.96" cy="686.12" r="0.66" fill="#28b050" opacity="0.48"/><circle cx="839.38" cy="684.17" r="0.6" fill="#3030d8" opacity="0.8"/><circle cx="836.98" cy="682.22" r="0.61" fill="#3030d8" opacity="0.58"/><circle cx="837.03" cy="678.8" r="0.62" fill="#3030d8" opacity="0.85"/><circle cx="838.85" cy="675.15" r="0.37" fill="#3030d8" opacity="0.48"/><circle cx="842.01" cy="673.96" r="0.58" fill="#7a2090" opacity="0.83"/><circle cx="846.39" cy="672.83" r="0.65" fill="#3030d8" opacity="0.65"/><circle cx="849.69" cy="675.4" r="0.66" fill="#3030d8" opacity="0.48"/><circle cx="851.18" cy="676.67" r="0.66" fill="#7a2090" opacity="0.6"/><circle cx="838.37" cy="660.02" r="0.56" fill="#28b050" opacity="0.89"/><circle cx="837.02" cy="662.71" r="0.45" fill="#3030d8" opacity="0.71"/><circle cx="833.46" cy="663.82" r="0.4" fill="#3030d8" opacity="0.63"/><circle cx="829.2" cy="663.82" r="0.38" fill="#3030d8" opacity="0.63"/><circle cx="827.2" cy="661.55" r="0.64" fill="#3030d8" opacity="0.62"/><circle cx="826.43" cy="658.52" r="0.5" fill="#7a2090" opacity="0.72"/><circle cx="829.57" cy="654.91" r="0.61" fill="#7a2090" opacity="0.45"/><circle cx="833.15" cy="654.45" r="0.49" fill="#3030d8" opacity="0.69"/><circle cx="836.38" cy="655.73" r="0.35" fill="#3030d8" opacity="0.62"/><circle cx="899.34" cy="679.64" r="0.4" fill="#3030d8" opacity="0.49"/><circle cx="897.49" cy="683.19" r="0.68" fill="#7a2090" opacity="0.71"/><circle cx="893.78" cy="683.99" r="0.51" fill="#3030d8" opacity="0.5"/><circle cx="890.39" cy="681.36" r="0.68" fill="#7a2090" opacity="0.5"/><circle cx="891.01" cy="678.48" r="0.67" fill="#7a2090" opacity="0.67"/><circle cx="893.54" cy="676.1" r="0.54" fill="#3030d8" opacity="0.52"/><circle cx="897.61" cy="676.54" r="0.55" fill="#7a2090" opacity="0.55"/><circle cx="846.76" cy="672.03" r="0.44" fill="#28b050" opacity="0.52"/><circle cx="844.99" cy="675.41" r="0.46" fill="#3030d8" opacity="0.85"/><circle cx="842.57" cy="676.73" r="0.5" fill="#7a2090" opacity="0.52"/><circle cx="838.15" cy="676.73" r="0.42" fill="#3030d8" opacity="0.59"/><circle cx="834.52" cy="675.55" r="0.44" fill="#7a2090" opacity="0.47"/><circle cx="834.16" cy="671.98" r="0.55" fill="#7a2090" opacity="0.83"/><circle cx="835.26" cy="668.46" r="0.38" fill="#3030d8" opacity="0.86"/><circle cx="838.26" cy="666.35" r="0.62" fill="#28b050" opacity="0.71"/><circle cx="842.19" cy="666.98" r="0.59" fill="#3030d8" opacity="0.88"/><circle cx="844.62" cy="668.98" r="0.59" fill="#3030d8" opacity="0.75"/><circle cx="905.52" cy="657.94" r="0.64" fill="#7a2090" opacity="0.79"/><circle cx="904.9" cy="662.06" r="0.66" fill="#28b050" opacity="0.89"/><circle cx="903.55" cy="662.72" r="0.36" fill="#7a2090" opacity="0.81"/><circle cx="899.97" cy="665.63" r="0.35" fill="#3030d8" opacity="0.8"/><circle cx="895.79" cy="665.52" r="0.39" fill="#7a2090" opacity="0.48"/><circle cx="890.39" cy="662.73" r="0.5" fill="#7a2090" opacity="0.49"/><circle cx="889.58" cy="660.94" r="0.62" fill="#7a2090" opacity="0.79"/><circle cx="888.64" cy="658.05" r="0.39" fill="#3030d8" opacity="0.72"/><circle cx="888.23" cy="655.36" r="0.68" fill="#3030d8" opacity="0.51"/><circle cx="891.66" cy="652.79" r="0.41" fill="#7a2090" opacity="0.81"/><circle cx="894.3" cy="650.76" r="0.48" fill="#3030d8" opacity="0.75"/><circle cx="898.81" cy="651.09" r="0.61" fill="#7a2090" opacity="0.61"/><circle cx="903.27" cy="652.55" r="0.56" fill="#28b050" opacity="0.81"/><circle cx="905.36" cy="655.01" r="0.68" fill="#3030d8" opacity="0.88"/><circle cx="863.46" cy="676.99" r="0.43" fill="#3030d8" opacity="0.83"/><circle cx="861.59" cy="680.16" r="0.63" fill="#7a2090" opacity="0.89"/><circle cx="857.7" cy="679.96" r="0.62" fill="#7a2090" opacity="0.63"/><circle cx="854.93" cy="676.77" r="0.57" fill="#28b050" opacity="0.89"/><circle cx="856.84" cy="674.4" r="0.43" fill="#28b050" opacity="0.82"/><circle cx="861.56" cy="673.79" r="0.67" fill="#3030d8" opacity="0.8"/><circle cx="894.65" cy="689.65" r="0.53" fill="#3030d8" opacity="0.77"/><circle cx="893.95" cy="693.15" r="0.5" fill="#3030d8" opacity="0.69"/><circle cx="891.31" cy="695.61" r="0.44" fill="#3030d8" opacity="0.65"/><circle cx="887.28" cy="696.54" r="0.65" fill="#3030d8" opacity="0.58"/><circle cx="882.35" cy="693.57" r="0.48" fill="#7a2090" opacity="0.6"/><circle cx="881.26" cy="692.05" r="0.61" fill="#3030d8" opacity="0.53"/><circle cx="880.65" cy="688.5" r="0.56" fill="#3030d8" opacity="0.77"/><circle cx="882.77" cy="686.44" r="0.46" fill="#7a2090" opacity="0.5"/><circle cx="886.6" cy="684.21" r="0.51" fill="#3030d8" opacity="0.77"/><circle cx="890.63" cy="684" r="0.39" fill="#7a2090" opacity="0.68"/><circle cx="893.44" cy="686.57" r="0.37" fill="#28b050" opacity="0.62"/><circle cx="858.68" cy="666.27" r="0.46" fill="#7a2090" opacity="0.47"/><circle cx="856.75" cy="668.8" r="0.63" fill="#3030d8" opacity="0.56"/><circle cx="854.29" cy="671.95" r="0.57" fill="#7a2090" opacity="0.86"/><circle cx="851.23" cy="672.4" r="0.4" fill="#3030d8" opacity="0.65"/><circle cx="847.64" cy="672.84" r="0.58" fill="#7a2090" opacity="0.7"/><circle cx="843.97" cy="671.6" r="0.57" fill="#28b050" opacity="0.53"/><circle cx="841.14" cy="669.29" r="0.49" fill="#3030d8" opacity="0.84"/><circle cx="840.51" cy="666.12" r="0.66" fill="#3030d8" opacity="0.9"/><circle cx="841.14" cy="662.86" r="0.52" fill="#3030d8" opacity="0.63"/><circle cx="842.58" cy="660.04" r="0.61" fill="#7a2090" opacity="0.78"/><circle cx="847.22" cy="659.91" r="0.69" fill="#28b050" opacity="0.71"/><circle cx="851.49" cy="659.72" r="0.38" fill="#7a2090" opacity="0.51"/><circle cx="855.2" cy="660.57" r="0.61" fill="#3030d8" opacity="0.58"/><circle cx="857.52" cy="662.45" r="0.69" fill="#7a2090" opacity="0.88"/><circle cx="869.91" cy="672.71" r="0.66" fill="#3030d8" opacity="0.47"/><circle cx="867.5" cy="676.07" r="0.4" fill="#3030d8" opacity="0.64"/><circle cx="864.8" cy="677.4" r="0.39" fill="#3030d8" opacity="0.53"/><circle cx="861.27" cy="677.96" r="0.6" fill="#3030d8" opacity="0.51"/><circle cx="857.96" cy="675.13" r="0.54" fill="#3030d8" opacity="0.76"/><circle cx="858.19" cy="671.51" r="0.55" fill="#7a2090" opacity="0.56"/><circle cx="860.34" cy="669.19" r="0.67" fill="#3030d8" opacity="0.83"/><circle cx="864.68" cy="668.71" r="0.46" fill="#7a2090" opacity="0.6"/><circle cx="867.53" cy="669.97" r="0.5" fill="#7a2090" opacity="0.54"/><circle cx="877.05" cy="692.89" r="0.52" fill="#7a2090" opacity="0.67"/><circle cx="876.09" cy="696.48" r="0.65" fill="#3030d8" opacity="0.66"/><circle cx="871.69" cy="697.88" r="0.39" fill="#7a2090" opacity="0.88"/><circle cx="868.63" cy="696.18" r="0.35" fill="#3030d8" opacity="0.78"/><circle cx="867.17" cy="692.54" r="0.64" fill="#7a2090" opacity="0.7"/><circle cx="868.36" cy="689.51" r="0.68" fill="#7a2090" opacity="0.7"/><circle cx="872.36" cy="688.35" r="0.52" fill="#7a2090" opacity="0.64"/><circle cx="875.8" cy="689.55" r="0.41" fill="#3030d8" opacity="0.72"/><circle cx="890.99" cy="687.11" r="0.64" fill="#3030d8" opacity="0.64"/><circle cx="888.85" cy="690.38" r="0.59" fill="#3030d8" opacity="0.64"/><circle cx="884.52" cy="689.95" r="0.63" fill="#7a2090" opacity="0.89"/><circle cx="883.48" cy="687.16" r="0.48" fill="#7a2090" opacity="0.6"/><circle cx="884.36" cy="684.84" r="0.6" fill="#3030d8" opacity="0.78"/><circle cx="888.36" cy="684.69" r="0.4" fill="#7a2090" opacity="0.76"/><circle cx="884.16" cy="661.27" r="0.43" fill="#7a2090" opacity="0.71"/><circle cx="883.72" cy="664.7" r="0.64" fill="#28b050" opacity="0.67"/><circle cx="880.84" cy="667.47" r="0.42" fill="#7a2090" opacity="0.46"/><circle cx="878.1" cy="668.96" r="0.59" fill="#3030d8" opacity="0.64"/><circle cx="874.22" cy="668.74" r="0.58" fill="#3030d8" opacity="0.89"/><circle cx="871.1" cy="666.54" r="0.57" fill="#7a2090" opacity="0.77"/><circle cx="868.55" cy="664.42" r="0.49" fill="#3030d8" opacity="0.83"/><circle cx="868.97" cy="660.97" r="0.65" fill="#7a2090" opacity="0.63"/><circle cx="868.06" cy="657.54" r="0.61" fill="#3030d8" opacity="0.49"/><circle cx="871.97" cy="655.54" r="0.53" fill="#7a2090" opacity="0.88"/><circle cx="874.99" cy="654.1" r="0.53" fill="#7a2090" opacity="0.54"/><circle cx="878.69" cy="654.7" r="0.54" fill="#7a2090" opacity="0.85"/><circle cx="883.01" cy="656.51" r="0.39" fill="#7a2090" opacity="0.9"/><circle cx="884.64" cy="658.55" r="0.7" fill="#28b050" opacity="0.88"/><circle cx="895.96" cy="659.09" r="0.69" fill="#3030d8" opacity="0.63"/><circle cx="894.24" cy="661.64" r="0.55" fill="#28b050" opacity="0.74"/><circle cx="890.49" cy="661.41" r="0.45" fill="#3030d8" opacity="0.76"/><circle cx="888.15" cy="658.72" r="0.54" fill="#7a2090" opacity="0.65"/><circle cx="890.33" cy="656.43" r="0.66" fill="#3030d8" opacity="0.86"/><circle cx="894.13" cy="656.61" r="0.63" fill="#3030d8" opacity="0.47"/><circle cx="850.41" cy="655.85" r="0.45" fill="#3030d8" opacity="0.59"/><circle cx="849.45" cy="659.95" r="0.52" fill="#3030d8" opacity="0.53"/><circle cx="846.22" cy="661.58" r="0.42" fill="#7a2090" opacity="0.59"/><circle cx="843.22" cy="662.18" r="0.68" fill="#3030d8" opacity="0.74"/><circle cx="838.52" cy="662.57" r="0.67" fill="#3030d8" opacity="0.83"/><circle cx="834.75" cy="660.54" r="0.42" fill="#3030d8" opacity="0.65"/><circle cx="833.07" cy="657.32" r="0.52" fill="#3030d8" opacity="0.82"/><circle cx="833.43" cy="654.87" r="0.69" fill="#7a2090" opacity="0.52"/><circle cx="835.81" cy="651.58" r="0.55" fill="#3030d8" opacity="0.64"/><circle cx="839.13" cy="650.17" r="0.53" fill="#3030d8" opacity="0.78"/><circle cx="842.63" cy="649.51" r="0.49" fill="#7a2090" opacity="0.66"/><circle cx="846.1" cy="650.31" r="0.42" fill="#3030d8" opacity="0.61"/><circle cx="850.34" cy="653.59" r="0.54" fill="#7a2090" opacity="0.83"/><circle cx="886.48" cy="667.95" r="0.38" fill="#3030d8" opacity="0.8"/><circle cx="885.19" cy="670.86" r="0.58" fill="#7a2090" opacity="0.66"/><circle cx="881.38" cy="672.45" r="0.4" fill="#7a2090" opacity="0.61"/><circle cx="878.19" cy="674.1" r="0.68" fill="#28b050" opacity="0.72"/><circle cx="874.99" cy="671.58" r="0.58" fill="#3030d8" opacity="0.75"/><circle cx="872.83" cy="669.39" r="0.45" fill="#7a2090" opacity="0.6"/><circle cx="873.04" cy="666.58" r="0.58" fill="#3030d8" opacity="0.58"/><circle cx="874.53" cy="663.75" r="0.59" fill="#3030d8" opacity="0.46"/><circle cx="877.83" cy="662.34" r="0.45" fill="#3030d8" opacity="0.58"/><circle cx="882.43" cy="662.31" r="0.39" fill="#7a2090" opacity="0.87"/><circle cx="885.3" cy="665.08" r="0.62" fill="#7a2090" opacity="0.7"/><circle cx="843.41" cy="682.95" r="0.46" fill="#7a2090" opacity="0.81"/><circle cx="841.7" cy="685.92" r="0.68" fill="#28b050" opacity="0.77"/><circle cx="837.71" cy="685.74" r="0.41" fill="#3030d8" opacity="0.57"/><circle cx="834.74" cy="684.39" r="0.54" fill="#7a2090" opacity="0.89"/><circle cx="835.2" cy="681.28" r="0.59" fill="#3030d8" opacity="0.48"/><circle cx="838.24" cy="679.3" r="0.59" fill="#3030d8" opacity="0.52"/><circle cx="841.82" cy="679.53" r="0.56" fill="#3030d8" opacity="0.81"/><circle cx="903.3" cy="693.23" r="0.56" fill="#7a2090" opacity="0.62"/><circle cx="901.02" cy="695.64" r="0.52" fill="#3030d8" opacity="0.56"/><circle cx="898.06" cy="697.92" r="0.55" fill="#3030d8" opacity="0.61"/><circle cx="894.83" cy="697.2" r="0.6" fill="#7a2090" opacity="0.73"/><circle cx="891.04" cy="694.13" r="0.36" fill="#7a2090" opacity="0.89"/><circle cx="890.76" cy="691.46" r="0.57" fill="#3030d8" opacity="0.68"/><circle cx="894.43" cy="688.67" r="0.43" fill="#7a2090" opacity="0.68"/><circle cx="897.98" cy="689.02" r="0.6" fill="#3030d8" opacity="0.46"/><circle cx="900.94" cy="689.83" r="0.56" fill="#7a2090" opacity="0.81"/><circle cx="843.92" cy="667.34" r="0.48" fill="#7a2090" opacity="0.9"/><circle cx="841.74" cy="670.46" r="0.68" fill="#3030d8" opacity="0.87"/><circle cx="837.72" cy="671.44" r="0.38" fill="#3030d8" opacity="0.7"/><circle cx="835.34" cy="669.03" r="0.55" fill="#3030d8" opacity="0.64"/><circle cx="834.75" cy="665.93" r="0.66" fill="#7a2090" opacity="0.74"/><circle cx="837.95" cy="663.95" r="0.49" fill="#28b050" opacity="0.89"/><circle cx="842.34" cy="664.5" r="0.59" fill="#7a2090" opacity="0.78"/><circle cx="839.14" cy="661.28" r="0.41" fill="#28b050" opacity="0.7"/><circle cx="860.99" cy="686.2" r="0.42" fill="#3030d8" opacity="0.7"/><circle cx="848.38" cy="688.58" r="0.58" fill="#28b050" opacity="0.7"/><circle cx="902.87" cy="674.05" r="0.56" fill="#28b050" opacity="0.7"/><circle cx="893.74" cy="664.56" r="0.46" fill="#28b050" opacity="0.7"/><circle cx="864.02" cy="669.22" r="0.59" fill="#a02060" opacity="0.7"/><circle cx="830.97" cy="659.87" r="0.37" fill="#a02060" opacity="0.7"/><circle cx="902.48" cy="663.73" r="0.57" fill="#a02060" opacity="0.7"/><circle cx="855.2" cy="685.71" r="0.43" fill="#a02060" opacity="0.7"/><circle cx="901.38" cy="669.96" r="0.48" fill="#28b050" opacity="0.7"/><circle cx="894.18" cy="664.5" r="0.44" fill="#3030d8" opacity="0.7"/><circle cx="840.35" cy="681.37" r="0.37" fill="#a02060" opacity="0.7"/><circle cx="827.12" cy="683.71" r="0.38" fill="#3030d8" opacity="0.7"/><circle cx="830.46" cy="691.82" r="0.59" fill="#a02060" opacity="0.7"/><circle cx="894.37" cy="659.83" r="0.59" fill="#3030d8" opacity="0.7"/><circle cx="837.71" cy="674.55" r="0.35" fill="#a02060" opacity="0.7"/><circle cx="833.02" cy="694.22" r="0.53" fill="#3030d8" opacity="0.7"/><circle cx="869.8" cy="680.55" r="0.51" fill="#a02060" opacity="0.7"/><circle cx="895.53" cy="688.46" r="0.57" fill="#3030d8" opacity="0.7"/><circle cx="849.8" cy="663.74" r="0.52" fill="#3030d8" opacity="0.7"/><circle cx="846.02" cy="657.48" r="0.47" fill="#3030d8" opacity="0.7"/><circle cx="870.77" cy="678.17" r="0.48" fill="#3030d8" opacity="0.7"/><circle cx="848.6" cy="674.25" r="0.49" fill="#3030d8" opacity="0.7"/><circle cx="867.89" cy="670.36" r="0.44" fill="#3030d8" opacity="0.7"/><circle cx="893.31" cy="675.45" r="0.48" fill="#a02060" opacity="0.7"/><circle cx="874.01" cy="680.49" r="0.42" fill="#a02060" opacity="0.7"/><circle cx="837.96" cy="653.47" r="0.54" fill="#3030d8" opacity="0.7"/><circle cx="878.75" cy="693.09" r="0.58" fill="#a02060" opacity="0.7"/><circle cx="887.38" cy="666.42" r="0.47" fill="#a02060" opacity="0.7"/><circle cx="893.47" cy="662.06" r="0.39" fill="#3030d8" opacity="0.7"/><circle cx="886.35" cy="686.28" r="0.38" fill="#a02060" opacity="0.7"/><circle cx="860.22" cy="667.88" r="0.44" fill="#a02060" opacity="0.7"/><circle cx="867.45" cy="674.5" r="0.45" fill="#a02060" opacity="0.7"/><circle cx="866.5" cy="673.5" r="0.37" fill="#3030d8" opacity="0.7"/><circle cx="863.53" cy="684.75" r="0.56" fill="#3030d8" opacity="0.7"/><circle cx="889.35" cy="671.68" r="0.44" fill="#a02060" opacity="0.7"/><circle cx="850.03" cy="656.65" r="0.5" fill="#3030d8" opacity="0.7"/><circle cx="899.88" cy="670.37" r="0.51" fill="#a02060" opacity="0.7"/><circle cx="824.02" cy="669.78" r="0.55" fill="#a02060" opacity="0.7"/><circle cx="853.98" cy="656.07" r="0.47" fill="#a02060" opacity="0.7"/><circle cx="858.94" cy="683.52" r="0.42" fill="#3030d8" opacity="0.7"/><circle cx="885.15" cy="693.54" r="0.56" fill="#3030d8" opacity="0.7"/><circle cx="826.82" cy="670.29" r="0.43" fill="#a02060" opacity="0.7"/><circle cx="880.66" cy="666.73" r="0.43" fill="#3030d8" opacity="0.7"/><circle cx="843" cy="692.4" r="0.56" fill="#3030d8" opacity="0.7"/><circle cx="891.45" cy="675.95" r="0.47" fill="#3030d8" opacity="0.7"/><circle cx="865.9" cy="693.95" r="0.51" fill="#a02060" opacity="0.7"/><circle cx="887.57" cy="660.87" r="0.59" fill="#3030d8" opacity="0.7"/><circle cx="857.15" cy="656.19" r="0.51" fill="#3030d8" opacity="0.7"/><circle cx="899.73" cy="662.85" r="0.54" fill="#3030d8" opacity="0.7"/><circle cx="867.64" cy="661.05" r="0.38" fill="#a02060" opacity="0.7"/><circle cx="894.2" cy="676.12" r="0.59" fill="#28b050" opacity="0.7"/><circle cx="876.58" cy="679.01" r="0.52" fill="#3030d8" opacity="0.7"/><circle cx="884.59" cy="662.75" r="0.46" fill="#a02060" opacity="0.7"/><circle cx="869" cy="681.61" r="0.42" fill="#3030d8" opacity="0.7"/><circle cx="864.67" cy="681.13" r="0.41" fill="#a02060" opacity="0.7"/><circle cx="869.84" cy="677.04" r="0.43" fill="#a02060" opacity="0.7"/><circle cx="858.88" cy="653.87" r="0.54" fill="#3030d8" opacity="0.7"/><circle cx="838.75" cy="655.84" r="0.53" fill="#a02060" opacity="0.7"/><circle cx="893.97" cy="653.99" r="0.38" fill="#3030d8" opacity="0.7"/><circle cx="867.8" cy="689.66" r="0.52" fill="#a02060" opacity="0.7"/><circle cx="893.77" cy="693.6" r="0.51" fill="#28b050" opacity="0.7"/><circle cx="837.07" cy="684.88" r="0.41" fill="#3030d8" opacity="0.7"/><circle cx="868.69" cy="666.63" r="0.58" fill="#a02060" opacity="0.7"/><circle cx="901.27" cy="659.6" r="0.55" fill="#3030d8" opacity="0.7"/><circle cx="871.1" cy="686.3" r="0.56" fill="#3030d8" opacity="0.7"/><circle cx="885.88" cy="667.98" r="0.35" fill="#3030d8" opacity="0.7"/><circle cx="826.98" cy="691.55" r="0.4" fill="#3030d8" opacity="0.7"/><circle cx="876.56" cy="675.28" r="0.58" fill="#3030d8" opacity="0.7"/><circle cx="842.43" cy="674.68" r="0.43" fill="#a02060" opacity="0.7"/></g>
<clipPath id="hr3"><rect x="822.9" y="696.6" width="80.2" height="40.9"/></clipPath>
<g clip-path="url(#hr3)"><rect x="822.9" y="696.6" width="80.2" height="40.9" fill="#04000c"/><circle cx="895.54" cy="712.86" r="0.42" fill="#3030d8" opacity="0.73"/><circle cx="893.97" cy="715.49" r="0.6" fill="#b0205a" opacity="0.79"/><circle cx="889.96" cy="715.24" r="0.46" fill="#3030d8" opacity="0.71"/><circle cx="888.31" cy="712.78" r="0.39" fill="#3030d8" opacity="0.83"/><circle cx="890.26" cy="710.46" r="0.63" fill="#b0205a" opacity="0.54"/><circle cx="893.77" cy="709.65" r="0.53" fill="#3030d8" opacity="0.89"/><circle cx="889.1" cy="716.41" r="0.69" fill="#b0205a" opacity="0.6"/><circle cx="886.9" cy="719.39" r="0.52" fill="#3030d8" opacity="0.76"/><circle cx="883.08" cy="719.18" r="0.39" fill="#b0205a" opacity="0.59"/><circle cx="881.28" cy="716.47" r="0.58" fill="#3030d8" opacity="0.86"/><circle cx="883.19" cy="714.26" r="0.56" fill="#3030d8" opacity="0.56"/><circle cx="886.6" cy="714.02" r="0.67" fill="#3030d8" opacity="0.9"/><circle cx="881.64" cy="723.17" r="0.69" fill="#28b050" opacity="0.46"/><circle cx="880.15" cy="726.3" r="0.52" fill="#3030d8" opacity="0.61"/><circle cx="876.88" cy="726.17" r="0.63" fill="#3030d8" opacity="0.88"/><circle cx="874.17" cy="723.43" r="0.5" fill="#b0205a" opacity="0.8"/><circle cx="876.37" cy="720.6" r="0.65" fill="#3030d8" opacity="0.76"/><circle cx="880.46" cy="720.45" r="0.67" fill="#b0205a" opacity="0.69"/><circle cx="860.47" cy="704.08" r="0.36" fill="#3030d8" opacity="0.71"/><circle cx="859.05" cy="706.86" r="0.36" fill="#b0205a" opacity="0.54"/><circle cx="854.26" cy="707.4" r="0.65" fill="#3030d8" opacity="0.53"/><circle cx="851.84" cy="704.23" r="0.63" fill="#3030d8" opacity="0.73"/><circle cx="854.28" cy="701.89" r="0.35" fill="#b0205a" opacity="0.75"/><circle cx="858.2" cy="701.89" r="0.44" fill="#b0205a" opacity="0.72"/><circle cx="830.26" cy="716.65" r="0.36" fill="#b0205a" opacity="0.75"/><circle cx="828.28" cy="719.07" r="0.6" fill="#3030d8" opacity="0.87"/><circle cx="825.35" cy="721.17" r="0.62" fill="#3030d8" opacity="0.89"/><circle cx="821.8" cy="721.32" r="0.66" fill="#3030d8" opacity="0.86"/><circle cx="817.02" cy="719.48" r="0.56" fill="#b0205a" opacity="0.89"/><circle cx="815.83" cy="716.52" r="0.65" fill="#3030d8" opacity="0.68"/><circle cx="818.43" cy="713.61" r="0.6" fill="#3030d8" opacity="0.7"/><circle cx="821.02" cy="711.98" r="0.52" fill="#b0205a" opacity="0.77"/><circle cx="825.5" cy="711.65" r="0.7" fill="#3030d8" opacity="0.66"/><circle cx="829.59" cy="713.29" r="0.6" fill="#b0205a" opacity="0.8"/><circle cx="852.37" cy="733.25" r="0.51" fill="#3030d8" opacity="0.73"/><circle cx="849.13" cy="735.49" r="0.39" fill="#28b050" opacity="0.59"/><circle cx="845.92" cy="732.97" r="0.6" fill="#3030d8" opacity="0.49"/><circle cx="848.69" cy="730.42" r="0.53" fill="#3030d8" opacity="0.76"/><circle cx="840.53" cy="717.77" r="0.39" fill="#3030d8" opacity="0.73"/><circle cx="840.08" cy="720.82" r="0.49" fill="#b0205a" opacity="0.87"/><circle cx="837.1" cy="722.23" r="0.67" fill="#3030d8" opacity="0.9"/><circle cx="832.47" cy="722.26" r="0.42" fill="#3030d8" opacity="0.74"/><circle cx="829.85" cy="721.07" r="0.59" fill="#3030d8" opacity="0.82"/><circle cx="827.63" cy="717.9" r="0.68" fill="#3030d8" opacity="0.69"/><circle cx="829.84" cy="714.6" r="0.53" fill="#b0205a" opacity="0.75"/><circle cx="833.06" cy="712.66" r="0.38" fill="#b0205a" opacity="0.76"/><circle cx="836.83" cy="713.52" r="0.55" fill="#3030d8" opacity="0.71"/><circle cx="839.51" cy="715.04" r="0.59" fill="#b0205a" opacity="0.69"/><circle cx="852.05" cy="711.41" r="0.54" fill="#b0205a" opacity="0.75"/><circle cx="849.91" cy="714.3" r="0.42" fill="#b0205a" opacity="0.67"/><circle cx="846" cy="713.64" r="0.4" fill="#3030d8" opacity="0.81"/><circle cx="844.04" cy="711.39" r="0.69" fill="#3030d8" opacity="0.63"/><circle cx="845.98" cy="708.22" r="0.38" fill="#3030d8" opacity="0.53"/><circle cx="850.33" cy="708.55" r="0.67" fill="#b0205a" opacity="0.85"/><circle cx="869.1" cy="719.29" r="0.55" fill="#28b050" opacity="0.77"/><circle cx="866.78" cy="721.66" r="0.57" fill="#3030d8" opacity="0.59"/><circle cx="862.32" cy="720.6" r="0.37" fill="#b0205a" opacity="0.49"/><circle cx="862.49" cy="717.21" r="0.45" fill="#3030d8" opacity="0.55"/><circle cx="866.25" cy="716.37" r="0.46" fill="#3030d8" opacity="0.55"/><circle cx="864.98" cy="733.79" r="0.44" fill="#b0205a" opacity="0.47"/><circle cx="863.56" cy="736.05" r="0.52" fill="#3030d8" opacity="0.71"/><circle cx="860.62" cy="738.08" r="0.57" fill="#b0205a" opacity="0.61"/><circle cx="855.87" cy="737.89" r="0.65" fill="#3030d8" opacity="0.86"/><circle cx="853.3" cy="735.49" r="0.35" fill="#28b050" opacity="0.68"/><circle cx="853.32" cy="731.3" r="0.5" fill="#3030d8" opacity="0.52"/><circle cx="856.14" cy="729.75" r="0.41" fill="#b0205a" opacity="0.81"/><circle cx="859.38" cy="728.1" r="0.5" fill="#3030d8" opacity="0.49"/><circle cx="863.22" cy="730.08" r="0.66" fill="#3030d8" opacity="0.48"/><circle cx="828.58" cy="723.81" r="0.38" fill="#b0205a" opacity="0.78"/><circle cx="827.21" cy="727.2" r="0.58" fill="#3030d8" opacity="0.52"/><circle cx="822.41" cy="727.21" r="0.43" fill="#b0205a" opacity="0.45"/><circle cx="820.56" cy="723.83" r="0.55" fill="#b0205a" opacity="0.8"/><circle cx="822.49" cy="720.91" r="0.35" fill="#b0205a" opacity="0.6"/><circle cx="826.7" cy="720.82" r="0.69" fill="#b0205a" opacity="0.72"/><circle cx="877.22" cy="708.91" r="0.53" fill="#3030d8" opacity="0.65"/><circle cx="876.47" cy="711.65" r="0.51" fill="#3030d8" opacity="0.71"/><circle cx="872.14" cy="713.24" r="0.58" fill="#28b050" opacity="0.66"/><circle cx="867.89" cy="711.7" r="0.55" fill="#3030d8" opacity="0.59"/><circle cx="866.97" cy="708.8" r="0.51" fill="#b0205a" opacity="0.89"/><circle cx="867.53" cy="705.7" r="0.51" fill="#3030d8" opacity="0.83"/><circle cx="871.51" cy="704.52" r="0.51" fill="#b0205a" opacity="0.63"/><circle cx="876.26" cy="705.96" r="0.42" fill="#b0205a" opacity="0.69"/><circle cx="894.85" cy="717.41" r="0.56" fill="#b0205a" opacity="0.69"/><circle cx="892.35" cy="720.09" r="0.6" fill="#3030d8" opacity="0.66"/><circle cx="888.96" cy="718.75" r="0.44" fill="#3030d8" opacity="0.62"/><circle cx="889.02" cy="715.94" r="0.58" fill="#b0205a" opacity="0.76"/><circle cx="892.87" cy="714.87" r="0.66" fill="#3030d8" opacity="0.58"/><circle cx="867.89" cy="705.84" r="0.57" fill="#28b050" opacity="0.75"/><circle cx="865.46" cy="708.7" r="0.51" fill="#b0205a" opacity="0.78"/><circle cx="861.17" cy="709.84" r="0.36" fill="#3030d8" opacity="0.7"/><circle cx="857.9" cy="707.78" r="0.63" fill="#b0205a" opacity="0.79"/><circle cx="858.64" cy="704.78" r="0.62" fill="#b0205a" opacity="0.6"/><circle cx="861.63" cy="702.96" r="0.39" fill="#b0205a" opacity="0.54"/><circle cx="865.86" cy="703.71" r="0.39" fill="#3030d8" opacity="0.61"/><circle cx="881.4" cy="718.61" r="0.49" fill="#3030d8" opacity="0.84"/><circle cx="880.09" cy="721.26" r="0.57" fill="#b0205a" opacity="0.61"/><circle cx="875.94" cy="723.58" r="0.65" fill="#3030d8" opacity="0.62"/><circle cx="872.08" cy="722.82" r="0.36" fill="#28b050" opacity="0.78"/><circle cx="868.47" cy="720.02" r="0.53" fill="#b0205a" opacity="0.75"/><circle cx="868.43" cy="717.08" r="0.59" fill="#3030d8" opacity="0.46"/><circle cx="872.08" cy="714.95" r="0.64" fill="#3030d8" opacity="0.79"/><circle cx="875.5" cy="713.72" r="0.67" fill="#b0205a" opacity="0.8"/><circle cx="879.51" cy="715.54" r="0.46" fill="#b0205a" opacity="0.45"/><circle cx="892.3" cy="719.54" r="0.5" fill="#3030d8" opacity="0.75"/><circle cx="890.86" cy="722.04" r="0.46" fill="#3030d8" opacity="0.9"/><circle cx="886.72" cy="723.18" r="0.41" fill="#28b050" opacity="0.75"/><circle cx="883.07" cy="721.76" r="0.38" fill="#b0205a" opacity="0.49"/><circle cx="881.07" cy="719.21" r="0.36" fill="#3030d8" opacity="0.66"/><circle cx="883.12" cy="716.5" r="0.38" fill="#b0205a" opacity="0.66"/><circle cx="886.89" cy="714.89" r="0.43" fill="#3030d8" opacity="0.53"/><circle cx="890.71" cy="716.34" r="0.45" fill="#b0205a" opacity="0.62"/><circle cx="885.15" cy="698.95" r="0.61" fill="#28b050" opacity="0.68"/><circle cx="885.99" cy="701.5" r="0.36" fill="#3030d8" opacity="0.5"/><circle cx="882.03" cy="703.92" r="0.39" fill="#b0205a" opacity="0.52"/><circle cx="877.58" cy="705.65" r="0.61" fill="#b0205a" opacity="0.61"/><circle cx="874.26" cy="705.13" r="0.46" fill="#3030d8" opacity="0.67"/><circle cx="871.16" cy="701.99" r="0.36" fill="#b0205a" opacity="0.75"/><circle cx="871.42" cy="699.73" r="0.38" fill="#b0205a" opacity="0.88"/><circle cx="871.39" cy="695.83" r="0.57" fill="#3030d8" opacity="0.69"/><circle cx="873.93" cy="694.17" r="0.66" fill="#b0205a" opacity="0.89"/><circle cx="878.76" cy="693.28" r="0.7" fill="#3030d8" opacity="0.63"/><circle cx="882.2" cy="694.79" r="0.48" fill="#b0205a" opacity="0.79"/><circle cx="885.03" cy="695.8" r="0.36" fill="#3030d8" opacity="0.59"/><circle cx="878.08" cy="721.86" r="0.55" fill="#3030d8" opacity="0.53"/><circle cx="877.18" cy="725.46" r="0.51" fill="#b0205a" opacity="0.85"/><circle cx="874.59" cy="727.56" r="0.37" fill="#3030d8" opacity="0.9"/><circle cx="870.08" cy="727.03" r="0.41" fill="#b0205a" opacity="0.55"/><circle cx="866.83" cy="725.76" r="0.64" fill="#b0205a" opacity="0.52"/><circle cx="865.07" cy="724.02" r="0.39" fill="#3030d8" opacity="0.85"/><circle cx="863.72" cy="719.91" r="0.57" fill="#b0205a" opacity="0.86"/><circle cx="866.71" cy="718.31" r="0.5" fill="#b0205a" opacity="0.84"/><circle cx="870.3" cy="716.41" r="0.54" fill="#3030d8" opacity="0.67"/><circle cx="874.67" cy="716.35" r="0.44" fill="#3030d8" opacity="0.76"/><circle cx="878.65" cy="719.02" r="0.61" fill="#3030d8" opacity="0.87"/><circle cx="884.91" cy="704.29" r="0.46" fill="#b0205a" opacity="0.71"/><circle cx="883.32" cy="707.1" r="0.59" fill="#3030d8" opacity="0.89"/><circle cx="878.99" cy="706.14" r="0.39" fill="#b0205a" opacity="0.75"/><circle cx="878.88" cy="702.81" r="0.62" fill="#3030d8" opacity="0.78"/><circle cx="883.25" cy="702.15" r="0.43" fill="#3030d8" opacity="0.5"/><circle cx="881.22" cy="698.45" r="0.7" fill="#b0205a" opacity="0.63"/><circle cx="880.3" cy="701.2" r="0.6" fill="#3030d8" opacity="0.53"/><circle cx="877.59" cy="702.31" r="0.6" fill="#b0205a" opacity="0.54"/><circle cx="873.6" cy="702.83" r="0.55" fill="#3030d8" opacity="0.52"/><circle cx="870.94" cy="699.88" r="0.57" fill="#b0205a" opacity="0.8"/><circle cx="871.37" cy="696.83" r="0.59" fill="#b0205a" opacity="0.82"/><circle cx="873.54" cy="694.27" r="0.52" fill="#3030d8" opacity="0.61"/><circle cx="877.71" cy="693.96" r="0.42" fill="#b0205a" opacity="0.7"/><circle cx="880.21" cy="695.08" r="0.43" fill="#28b050" opacity="0.67"/><circle cx="872.45" cy="736.86" r="0.47" fill="#3030d8" opacity="0.59"/><circle cx="871.23" cy="739.55" r="0.59" fill="#3030d8" opacity="0.75"/><circle cx="868.18" cy="741.18" r="0.37" fill="#b0205a" opacity="0.74"/><circle cx="864.1" cy="741.51" r="0.46" fill="#b0205a" opacity="0.8"/><circle cx="861.95" cy="738.85" r="0.41" fill="#3030d8" opacity="0.86"/><circle cx="861.31" cy="735.46" r="0.36" fill="#b0205a" opacity="0.83"/><circle cx="863.48" cy="733.42" r="0.53" fill="#b0205a" opacity="0.86"/><circle cx="867.24" cy="732.39" r="0.44" fill="#3030d8" opacity="0.76"/><circle cx="871.61" cy="733.48" r="0.53" fill="#b0205a" opacity="0.9"/><circle cx="836.16" cy="711.53" r="0.55" fill="#3030d8" opacity="0.72"/><circle cx="833.97" cy="714.92" r="0.61" fill="#3030d8" opacity="0.72"/><circle cx="829.78" cy="715.46" r="0.65" fill="#3030d8" opacity="0.54"/><circle cx="826.18" cy="714.05" r="0.61" fill="#b0205a" opacity="0.62"/><circle cx="825.08" cy="711.23" r="0.48" fill="#b0205a" opacity="0.52"/><circle cx="826.12" cy="708.29" r="0.49" fill="#3030d8" opacity="0.64"/><circle cx="830.8" cy="706.84" r="0.39" fill="#b0205a" opacity="0.76"/><circle cx="834.67" cy="708.74" r="0.36" fill="#3030d8" opacity="0.45"/><circle cx="901.51" cy="728.61" r="0.63" fill="#28b050" opacity="0.64"/><circle cx="900.66" cy="731.29" r="0.38" fill="#3030d8" opacity="0.53"/><circle cx="897.07" cy="732.71" r="0.6" fill="#3030d8" opacity="0.63"/><circle cx="892.28" cy="731.3" r="0.52" fill="#28b050" opacity="0.68"/><circle cx="891.93" cy="728.34" r="0.61" fill="#28b050" opacity="0.87"/><circle cx="892.8" cy="725.36" r="0.37" fill="#b0205a" opacity="0.82"/><circle cx="896.6" cy="723.84" r="0.47" fill="#3030d8" opacity="0.86"/><circle cx="900.44" cy="725.36" r="0.55" fill="#b0205a" opacity="0.62"/><circle cx="857.67" cy="729.81" r="0.58" fill="#b0205a" opacity="0.87"/><circle cx="856.09" cy="733.86" r="0.47" fill="#3030d8" opacity="0.76"/><circle cx="853.96" cy="735.34" r="0.67" fill="#b0205a" opacity="0.63"/><circle cx="849.53" cy="735.9" r="0.61" fill="#28b050" opacity="0.82"/><circle cx="847.25" cy="734.77" r="0.35" fill="#3030d8" opacity="0.49"/><circle cx="843.94" cy="731.52" r="0.48" fill="#3030d8" opacity="0.48"/><circle cx="843.83" cy="728.14" r="0.4" fill="#3030d8" opacity="0.61"/><circle cx="846.78" cy="726.44" r="0.49" fill="#b0205a" opacity="0.51"/><circle cx="850.41" cy="724.69" r="0.52" fill="#b0205a" opacity="0.88"/><circle cx="853.83" cy="724.89" r="0.56" fill="#b0205a" opacity="0.59"/><circle cx="856.85" cy="727.74" r="0.57" fill="#3030d8" opacity="0.87"/><circle cx="853.29" cy="698.78" r="0.41" fill="#b0205a" opacity="0.59"/><circle cx="851.55" cy="701.44" r="0.49" fill="#28b050" opacity="0.87"/><circle cx="847.42" cy="699.86" r="0.63" fill="#3030d8" opacity="0.85"/><circle cx="847.81" cy="697.21" r="0.57" fill="#b0205a" opacity="0.47"/><circle cx="851.83" cy="696.22" r="0.39" fill="#b0205a" opacity="0.59"/><circle cx="859.68" cy="735.46" r="0.61" fill="#3030d8" opacity="0.74"/><circle cx="859.21" cy="738.52" r="0.36" fill="#28b050" opacity="0.56"/><circle cx="857.01" cy="740.23" r="0.48" fill="#b0205a" opacity="0.82"/><circle cx="853.08" cy="740.98" r="0.59" fill="#3030d8" opacity="0.74"/><circle cx="849.14" cy="739.31" r="0.42" fill="#3030d8" opacity="0.45"/><circle cx="846.48" cy="736.02" r="0.6" fill="#b0205a" opacity="0.7"/><circle cx="846.57" cy="733.28" r="0.35" fill="#3030d8" opacity="0.66"/><circle cx="849.87" cy="729.87" r="0.47" fill="#b0205a" opacity="0.55"/><circle cx="853.38" cy="730.04" r="0.56" fill="#3030d8" opacity="0.53"/><circle cx="856.75" cy="730.01" r="0.57" fill="#b0205a" opacity="0.56"/><circle cx="859.35" cy="732.22" r="0.36" fill="#3030d8" opacity="0.86"/><circle cx="898.85" cy="696.26" r="0.61" fill="#28b050" opacity="0.81"/><circle cx="898.71" cy="699.12" r="0.46" fill="#3030d8" opacity="0.51"/><circle cx="894.41" cy="701.87" r="0.59" fill="#b0205a" opacity="0.68"/><circle cx="889.5" cy="701.53" r="0.62" fill="#b0205a" opacity="0.48"/><circle cx="886.36" cy="701.28" r="0.42" fill="#3030d8" opacity="0.52"/><circle cx="884.98" cy="698.52" r="0.58" fill="#3030d8" opacity="0.68"/><circle cx="884.36" cy="694.29" r="0.47" fill="#b0205a" opacity="0.83"/><circle cx="885.93" cy="692.24" r="0.46" fill="#b0205a" opacity="0.47"/><circle cx="889.93" cy="690.96" r="0.49" fill="#3030d8" opacity="0.88"/><circle cx="893.66" cy="691.67" r="0.55" fill="#3030d8" opacity="0.87"/><circle cx="896.68" cy="693.92" r="0.68" fill="#3030d8" opacity="0.49"/><circle cx="858.4" cy="704.99" r="0.47" fill="#3030d8" opacity="0.65"/><circle cx="856.8" cy="708.59" r="0.62" fill="#b0205a" opacity="0.48"/><circle cx="853.59" cy="709.86" r="0.44" fill="#3030d8" opacity="0.69"/><circle cx="849.07" cy="709.36" r="0.65" fill="#b0205a" opacity="0.61"/><circle cx="847.33" cy="706.63" r="0.43" fill="#b0205a" opacity="0.76"/><circle cx="846.79" cy="702.9" r="0.51" fill="#b0205a" opacity="0.8"/><circle cx="849.98" cy="700.11" r="0.52" fill="#3030d8" opacity="0.56"/><circle cx="853.31" cy="700.21" r="0.59" fill="#b0205a" opacity="0.46"/><circle cx="856.61" cy="701.96" r="0.44" fill="#3030d8" opacity="0.82"/><circle cx="908.95" cy="729.05" r="0.52" fill="#b0205a" opacity="0.51"/><circle cx="907.89" cy="732.14" r="0.51" fill="#3030d8" opacity="0.89"/><circle cx="906.19" cy="733.66" r="0.67" fill="#b0205a" opacity="0.56"/><circle cx="902.04" cy="735.43" r="0.65" fill="#3030d8" opacity="0.63"/><circle cx="897.66" cy="734.94" r="0.45" fill="#b0205a" opacity="0.49"/><circle cx="896.08" cy="732.39" r="0.61" fill="#3030d8" opacity="0.68"/><circle cx="893.39" cy="729.62" r="0.69" fill="#3030d8" opacity="0.55"/><circle cx="893.38" cy="727.47" r="0.45" fill="#3030d8" opacity="0.7"/><circle cx="895.46" cy="724.16" r="0.56" fill="#3030d8" opacity="0.47"/><circle cx="899.19" cy="722.13" r="0.44" fill="#3030d8" opacity="0.61"/><circle cx="902.72" cy="722.55" r="0.53" fill="#3030d8" opacity="0.78"/><circle cx="907.34" cy="723.56" r="0.57" fill="#3030d8" opacity="0.65"/><circle cx="909.91" cy="725.02" r="0.62" fill="#b0205a" opacity="0.65"/><circle cx="828.12" cy="704.32" r="0.45" fill="#b0205a" opacity="0.72"/><circle cx="827.02" cy="707.04" r="0.6" fill="#3030d8" opacity="0.84"/><circle cx="823.14" cy="708.5" r="0.58" fill="#b0205a" opacity="0.48"/><circle cx="819.85" cy="706.2" r="0.66" fill="#3030d8" opacity="0.61"/><circle cx="819.57" cy="703.22" r="0.41" fill="#b0205a" opacity="0.66"/><circle cx="823.34" cy="701.26" r="0.65" fill="#3030d8" opacity="0.8"/><circle cx="826.83" cy="701.88" r="0.67" fill="#b0205a" opacity="0.82"/><circle cx="874.17" cy="736.53" r="0.6" fill="#28b050" opacity="0.71"/><circle cx="872.35" cy="739.5" r="0.63" fill="#3030d8" opacity="0.54"/><circle cx="869.63" cy="740.84" r="0.58" fill="#3030d8" opacity="0.63"/><circle cx="865.3" cy="742.05" r="0.43" fill="#3030d8" opacity="0.58"/><circle cx="863.29" cy="739.56" r="0.54" fill="#3030d8" opacity="0.78"/><circle cx="860.46" cy="737.14" r="0.47" fill="#3030d8" opacity="0.82"/><circle cx="862.34" cy="733.76" r="0.63" fill="#b0205a" opacity="0.57"/><circle cx="865.9" cy="731.36" r="0.58" fill="#28b050" opacity="0.82"/><circle cx="869.82" cy="731.6" r="0.37" fill="#b0205a" opacity="0.69"/><circle cx="873.51" cy="733.64" r="0.58" fill="#3030d8" opacity="0.52"/><circle cx="909.74" cy="734.74" r="0.54" fill="#3030d8" opacity="0.69"/><circle cx="907.24" cy="738.75" r="0.7" fill="#b0205a" opacity="0.67"/><circle cx="905.91" cy="741.39" r="0.51" fill="#b0205a" opacity="0.71"/><circle cx="901.13" cy="742.65" r="0.66" fill="#b0205a" opacity="0.64"/><circle cx="897.95" cy="741.39" r="0.52" fill="#3030d8" opacity="0.69"/><circle cx="895" cy="740.24" r="0.53" fill="#b0205a" opacity="0.82"/><circle cx="892.51" cy="737.05" r="0.42" fill="#3030d8" opacity="0.87"/><circle cx="892.36" cy="733.17" r="0.44" fill="#b0205a" opacity="0.58"/><circle cx="894.32" cy="730.84" r="0.59" fill="#b0205a" opacity="0.77"/><circle cx="897.76" cy="729.11" r="0.54" fill="#3030d8" opacity="0.76"/><circle cx="901.05" cy="729.16" r="0.58" fill="#3030d8" opacity="0.55"/><circle cx="905.21" cy="729.48" r="0.36" fill="#b0205a" opacity="0.54"/><circle cx="908.11" cy="732.66" r="0.63" fill="#3030d8" opacity="0.63"/><circle cx="854.77" cy="703.75" r="0.49" fill="#3030d8" opacity="0.53"/><circle cx="852.33" cy="706.21" r="0.56" fill="#b0205a" opacity="0.83"/><circle cx="848.77" cy="706.84" r="0.56" fill="#3030d8" opacity="0.5"/><circle cx="845.19" cy="705.12" r="0.54" fill="#3030d8" opacity="0.76"/><circle cx="845.66" cy="702" r="0.6" fill="#3030d8" opacity="0.57"/><circle cx="848.26" cy="699.77" r="0.62" fill="#3030d8" opacity="0.77"/><circle cx="851.98" cy="700.11" r="0.47" fill="#b0205a" opacity="0.51"/><circle cx="867.66" cy="705.6" r="0.41" fill="#3030d8" opacity="0.74"/><circle cx="865.64" cy="708.21" r="0.56" fill="#3030d8" opacity="0.53"/><circle cx="861.29" cy="708.38" r="0.6" fill="#28b050" opacity="0.57"/><circle cx="860.14" cy="705.76" r="0.42" fill="#3030d8" opacity="0.54"/><circle cx="861.33" cy="703.22" r="0.36" fill="#b0205a" opacity="0.82"/><circle cx="865.39" cy="703.34" r="0.42" fill="#3030d8" opacity="0.59"/><circle cx="843.62" cy="708.77" r="0.41" fill="#b0205a" opacity="0.74"/><circle cx="841.74" cy="710.82" r="0.52" fill="#3030d8" opacity="0.74"/><circle cx="838.24" cy="713.37" r="0.61" fill="#3030d8" opacity="0.76"/><circle cx="834.62" cy="712.73" r="0.56" fill="#b0205a" opacity="0.84"/><circle cx="831.3" cy="709.34" r="0.44" fill="#3030d8" opacity="0.55"/><circle cx="831.2" cy="706.95" r="0.59" fill="#3030d8" opacity="0.66"/><circle cx="834.15" cy="704.46" r="0.52" fill="#b0205a" opacity="0.57"/><circle cx="837.9" cy="703.36" r="0.69" fill="#b0205a" opacity="0.57"/><circle cx="841.24" cy="705.12" r="0.56" fill="#3030d8" opacity="0.77"/><circle cx="904.52" cy="698.36" r="0.39" fill="#b0205a" opacity="0.81"/><circle cx="902.75" cy="701.91" r="0.5" fill="#3030d8" opacity="0.74"/><circle cx="901.08" cy="703.3" r="0.53" fill="#28b050" opacity="0.59"/><circle cx="897.09" cy="706.14" r="0.43" fill="#3030d8" opacity="0.58"/><circle cx="893.53" cy="705.75" r="0.39" fill="#3030d8" opacity="0.63"/><circle cx="889.48" cy="703.44" r="0.47" fill="#3030d8" opacity="0.73"/><circle cx="888.8" cy="700.56" r="0.45" fill="#3030d8" opacity="0.5"/><circle cx="888.25" cy="697.61" r="0.67" fill="#3030d8" opacity="0.47"/><circle cx="890.58" cy="693.9" r="0.65" fill="#b0205a" opacity="0.56"/><circle cx="892.92" cy="693.17" r="0.59" fill="#3030d8" opacity="0.71"/><circle cx="898.04" cy="692.72" r="0.52" fill="#28b050" opacity="0.57"/><circle cx="900.92" cy="693.55" r="0.7" fill="#3030d8" opacity="0.84"/><circle cx="904.32" cy="695.85" r="0.68" fill="#b0205a" opacity="0.51"/><circle cx="849.56" cy="731.78" r="0.43" fill="#3030d8" opacity="0.85"/><circle cx="849.38" cy="734.99" r="0.49" fill="#3030d8" opacity="0.53"/><circle cx="846.69" cy="736.61" r="0.4" fill="#3030d8" opacity="0.59"/><circle cx="842.94" cy="737.75" r="0.62" fill="#b0205a" opacity="0.49"/><circle cx="837.45" cy="737.07" r="0.61" fill="#3030d8" opacity="0.84"/><circle cx="836.08" cy="735.01" r="0.52" fill="#b0205a" opacity="0.75"/><circle cx="834.47" cy="731.92" r="0.43" fill="#3030d8" opacity="0.82"/><circle cx="836.13" cy="728.77" r="0.58" fill="#3030d8" opacity="0.88"/><circle cx="839.01" cy="725.5" r="0.38" fill="#3030d8" opacity="0.83"/><circle cx="841.62" cy="725.58" r="0.66" fill="#b0205a" opacity="0.76"/><circle cx="847.25" cy="725.51" r="0.45" fill="#3030d8" opacity="0.53"/><circle cx="848.51" cy="728.55" r="0.46" fill="#3030d8" opacity="0.9"/><circle cx="830.08" cy="698.9" r="0.69" fill="#b0205a" opacity="0.59"/><circle cx="827.7" cy="701.4" r="0.64" fill="#b0205a" opacity="0.66"/><circle cx="823.86" cy="701.59" r="0.58" fill="#b0205a" opacity="0.67"/><circle cx="821.83" cy="698.55" r="0.63" fill="#28b050" opacity="0.82"/><circle cx="824.38" cy="696.18" r="0.4" fill="#b0205a" opacity="0.74"/><circle cx="828.15" cy="695.63" r="0.37" fill="#3030d8" opacity="0.55"/><circle cx="875.09" cy="735.52" r="0.48" fill="#3030d8" opacity="0.56"/><circle cx="872.94" cy="738.3" r="0.64" fill="#b0205a" opacity="0.74"/><circle cx="869.48" cy="739" r="0.52" fill="#3030d8" opacity="0.62"/><circle cx="866.56" cy="737.92" r="0.39" fill="#3030d8" opacity="0.88"/><circle cx="864.42" cy="735.4" r="0.36" fill="#b0205a" opacity="0.7"/><circle cx="866.38" cy="732.45" r="0.59" fill="#3030d8" opacity="0.51"/><circle cx="869.52" cy="731.15" r="0.6" fill="#b0205a" opacity="0.66"/><circle cx="873.47" cy="732.29" r="0.51" fill="#3030d8" opacity="0.83"/><circle cx="855.09" cy="726.41" r="0.7" fill="#3030d8" opacity="0.58"/><circle cx="853.93" cy="729.01" r="0.62" fill="#3030d8" opacity="0.46"/><circle cx="850.66" cy="730.44" r="0.63" fill="#3030d8" opacity="0.78"/><circle cx="846.1" cy="730.39" r="0.44" fill="#28b050" opacity="0.58"/><circle cx="844.35" cy="727.69" r="0.36" fill="#b0205a" opacity="0.61"/><circle cx="843.6" cy="724.63" r="0.5" fill="#b0205a" opacity="0.46"/><circle cx="847.23" cy="721.98" r="0.67" fill="#3030d8" opacity="0.51"/><circle cx="850.99" cy="721.2" r="0.54" fill="#3030d8" opacity="0.48"/><circle cx="854.97" cy="723.11" r="0.61" fill="#b0205a" opacity="0.48"/><circle cx="863.43" cy="728" r="0.41" fill="#b0205a" opacity="0.6"/><circle cx="860.75" cy="730.87" r="0.57" fill="#3030d8" opacity="0.79"/><circle cx="856.78" cy="732.02" r="0.7" fill="#b0205a" opacity="0.82"/><circle cx="853.85" cy="729.83" r="0.5" fill="#b0205a" opacity="0.88"/><circle cx="854.05" cy="726.18" r="0.59" fill="#3030d8" opacity="0.55"/><circle cx="856.83" cy="723.68" r="0.38" fill="#3030d8" opacity="0.51"/><circle cx="861.4" cy="724.89" r="0.58" fill="#b0205a" opacity="0.45"/><circle cx="839.69" cy="711.74" r="0.7" fill="#b0205a" opacity="0.78"/><circle cx="837.77" cy="715.56" r="0.64" fill="#3030d8" opacity="0.52"/><circle cx="835.63" cy="717.46" r="0.38" fill="#b0205a" opacity="0.68"/><circle cx="831.2" cy="719.15" r="0.4" fill="#b0205a" opacity="0.45"/><circle cx="826.06" cy="717.51" r="0.46" fill="#3030d8" opacity="0.74"/><circle cx="822.53" cy="715.25" r="0.5" fill="#3030d8" opacity="0.61"/><circle cx="821.72" cy="712.31" r="0.57" fill="#b0205a" opacity="0.84"/><circle cx="823.22" cy="709.76" r="0.36" fill="#b0205a" opacity="0.77"/><circle cx="826.62" cy="706.03" r="0.64" fill="#3030d8" opacity="0.8"/><circle cx="831.26" cy="705.65" r="0.49" fill="#28b050" opacity="0.57"/><circle cx="833.79" cy="707.22" r="0.51" fill="#3030d8" opacity="0.89"/><circle cx="838.59" cy="708.96" r="0.43" fill="#28b050" opacity="0.67"/><circle cx="879.66" cy="734.06" r="0.55" fill="#a02060" opacity="0.7"/><circle cx="842.54" cy="737.02" r="0.51" fill="#3030d8" opacity="0.7"/><circle cx="889.95" cy="733.53" r="0.4" fill="#3030d8" opacity="0.7"/><circle cx="881.56" cy="715.19" r="0.48" fill="#3030d8" opacity="0.7"/><circle cx="843.42" cy="720.37" r="0.58" fill="#3030d8" opacity="0.7"/><circle cx="882.92" cy="703.43" r="0.5" fill="#a02060" opacity="0.7"/><circle cx="838.09" cy="717.86" r="0.47" fill="#3030d8" opacity="0.7"/><circle cx="894.22" cy="725.18" r="0.43" fill="#3030d8" opacity="0.7"/><circle cx="867.65" cy="700.93" r="0.47" fill="#3030d8" opacity="0.7"/><circle cx="825.65" cy="734.33" r="0.42" fill="#3030d8" opacity="0.7"/><circle cx="849.66" cy="719.54" r="0.53" fill="#3030d8" opacity="0.7"/><circle cx="845.14" cy="706.22" r="0.41" fill="#3030d8" opacity="0.7"/><circle cx="866.84" cy="719.81" r="0.5" fill="#3030d8" opacity="0.7"/><circle cx="831.94" cy="737.1" r="0.44" fill="#3030d8" opacity="0.7"/><circle cx="849.03" cy="696.92" r="0.42" fill="#3030d8" opacity="0.7"/><circle cx="825.19" cy="733.84" r="0.55" fill="#a02060" opacity="0.7"/><circle cx="895.7" cy="726.37" r="0.39" fill="#3030d8" opacity="0.7"/><circle cx="850.43" cy="722.18" r="0.48" fill="#3030d8" opacity="0.7"/><circle cx="841.66" cy="701.78" r="0.58" fill="#3030d8" opacity="0.7"/><circle cx="824.99" cy="703.58" r="0.49" fill="#a02060" opacity="0.7"/><circle cx="828.76" cy="697.45" r="0.51" fill="#3030d8" opacity="0.7"/><circle cx="847.58" cy="719.2" r="0.41" fill="#a02060" opacity="0.7"/><circle cx="887.61" cy="713.19" r="0.48" fill="#3030d8" opacity="0.7"/><circle cx="856.57" cy="721.86" r="0.46" fill="#a02060" opacity="0.7"/><circle cx="871.92" cy="706.99" r="0.4" fill="#3030d8" opacity="0.7"/><circle cx="847.44" cy="698.38" r="0.52" fill="#a02060" opacity="0.7"/><circle cx="845.92" cy="711.28" r="0.59" fill="#3030d8" opacity="0.7"/><circle cx="835.9" cy="705.58" r="0.51" fill="#3030d8" opacity="0.7"/><circle cx="886.94" cy="708.62" r="0.53" fill="#3030d8" opacity="0.7"/><circle cx="845.26" cy="711.27" r="0.45" fill="#a02060" opacity="0.7"/><circle cx="872.23" cy="716.11" r="0.41" fill="#3030d8" opacity="0.7"/><circle cx="843.22" cy="698.93" r="0.47" fill="#a02060" opacity="0.7"/><circle cx="837.93" cy="707.1" r="0.48" fill="#3030d8" opacity="0.7"/><circle cx="848.35" cy="725.68" r="0.39" fill="#3030d8" opacity="0.7"/><circle cx="824.2" cy="717.54" r="0.51" fill="#3030d8" opacity="0.7"/><circle cx="901.11" cy="724.24" r="0.56" fill="#3030d8" opacity="0.7"/><circle cx="864.32" cy="725.24" r="0.37" fill="#3030d8" opacity="0.7"/><circle cx="867.84" cy="697.44" r="0.36" fill="#a02060" opacity="0.7"/><circle cx="880.02" cy="711" r="0.39" fill="#3030d8" opacity="0.7"/><circle cx="861.28" cy="701.37" r="0.55" fill="#a02060" opacity="0.7"/><circle cx="846.92" cy="714.11" r="0.52" fill="#a02060" opacity="0.7"/><circle cx="829.24" cy="709.23" r="0.46" fill="#a02060" opacity="0.7"/><circle cx="859.71" cy="730.24" r="0.41" fill="#a02060" opacity="0.7"/><circle cx="844.41" cy="737.48" r="0.37" fill="#28b050" opacity="0.7"/><circle cx="854.09" cy="711.2" r="0.48" fill="#3030d8" opacity="0.7"/><circle cx="882.83" cy="722.39" r="0.51" fill="#3030d8" opacity="0.7"/><circle cx="831.34" cy="704.72" r="0.46" fill="#3030d8" opacity="0.7"/><circle cx="823.8" cy="710.94" r="0.49" fill="#3030d8" opacity="0.7"/><circle cx="878.29" cy="698.94" r="0.55" fill="#a02060" opacity="0.7"/><circle cx="882.29" cy="717.38" r="0.4" fill="#3030d8" opacity="0.7"/><circle cx="857.37" cy="729.23" r="0.56" fill="#a02060" opacity="0.7"/><circle cx="867.55" cy="718.36" r="0.36" fill="#3030d8" opacity="0.7"/><circle cx="845.61" cy="721.49" r="0.44" fill="#a02060" opacity="0.7"/><circle cx="890.06" cy="699.08" r="0.48" fill="#3030d8" opacity="0.7"/><circle cx="868.54" cy="717.86" r="0.55" fill="#3030d8" opacity="0.7"/><circle cx="851.27" cy="736.4" r="0.55" fill="#3030d8" opacity="0.7"/><circle cx="902.12" cy="734.87" r="0.49" fill="#a02060" opacity="0.7"/><circle cx="862.42" cy="716.15" r="0.56" fill="#a02060" opacity="0.7"/><circle cx="871.79" cy="707.91" r="0.47" fill="#3030d8" opacity="0.7"/><circle cx="861.07" cy="732.08" r="0.56" fill="#a02060" opacity="0.7"/><circle cx="837.32" cy="708.77" r="0.58" fill="#3030d8" opacity="0.7"/><circle cx="848.04" cy="705.76" r="0.4" fill="#3030d8" opacity="0.7"/><circle cx="864.26" cy="729.69" r="0.43" fill="#3030d8" opacity="0.7"/><circle cx="867.7" cy="716.42" r="0.37" fill="#a02060" opacity="0.7"/><circle cx="826.85" cy="703.46" r="0.45" fill="#a02060" opacity="0.7"/><circle cx="830.73" cy="712.05" r="0.57" fill="#28b050" opacity="0.7"/><circle cx="863.02" cy="735.33" r="0.38" fill="#3030d8" opacity="0.7"/><circle cx="838.69" cy="728.76" r="0.45" fill="#28b050" opacity="0.7"/><circle cx="859.31" cy="705.7" r="0.54" fill="#a02060" opacity="0.7"/><circle cx="857.05" cy="722.39" r="0.47" fill="#a02060" opacity="0.7"/><ellipse cx="877" cy="723" rx="4" ry="2.5" fill="#3a2ad8" opacity="0.55"/><ellipse cx="887" cy="706" rx="7" ry="1.8" fill="#2a3ac8" opacity="0.4"/></g>
<clipPath id="hr4"><rect x="822.9" y="739.9" width="80.2" height="41.9"/></clipPath>
<g clip-path="url(#hr4)"><rect x="822.9" y="739.9" width="80.2" height="41.9" fill="#04000c"/><circle cx="877.84" cy="768.59" r="0.5" fill="#3030d8" opacity="0.74"/><circle cx="876.54" cy="771.28" r="0.39" fill="#7a2090" opacity="0.56"/><circle cx="873.16" cy="773.15" r="0.37" fill="#3030d8" opacity="0.64"/><circle cx="869.18" cy="771.81" r="0.56" fill="#3030d8" opacity="0.86"/><circle cx="867.88" cy="768.61" r="0.52" fill="#3030d8" opacity="0.89"/><circle cx="869.21" cy="765.77" r="0.66" fill="#3030d8" opacity="0.73"/><circle cx="873.02" cy="764.58" r="0.57" fill="#28b050" opacity="0.77"/><circle cx="877.07" cy="765.64" r="0.68" fill="#7a2090" opacity="0.86"/><circle cx="870.24" cy="747.98" r="0.66" fill="#3030d8" opacity="0.88"/><circle cx="868.88" cy="751.13" r="0.45" fill="#7a2090" opacity="0.7"/><circle cx="866.12" cy="753.39" r="0.51" fill="#3030d8" opacity="0.47"/><circle cx="861.91" cy="752.33" r="0.52" fill="#3030d8" opacity="0.67"/><circle cx="858.64" cy="752.47" r="0.64" fill="#7a2090" opacity="0.66"/><circle cx="855.29" cy="748.81" r="0.56" fill="#7a2090" opacity="0.58"/><circle cx="856.48" cy="745.34" r="0.62" fill="#3030d8" opacity="0.53"/><circle cx="857.9" cy="743.31" r="0.63" fill="#3030d8" opacity="0.46"/><circle cx="861.74" cy="742.15" r="0.36" fill="#3030d8" opacity="0.68"/><circle cx="865.4" cy="741.4" r="0.37" fill="#3030d8" opacity="0.45"/><circle cx="868.92" cy="744.73" r="0.45" fill="#3030d8" opacity="0.69"/><circle cx="910.15" cy="756.4" r="0.61" fill="#28b050" opacity="0.68"/><circle cx="909.61" cy="758.84" r="0.53" fill="#7a2090" opacity="0.63"/><circle cx="905.22" cy="761.04" r="0.63" fill="#3030d8" opacity="0.6"/><circle cx="900.93" cy="763.48" r="0.68" fill="#3030d8" opacity="0.88"/><circle cx="896.56" cy="760.89" r="0.41" fill="#7a2090" opacity="0.89"/><circle cx="894.71" cy="758.97" r="0.37" fill="#3030d8" opacity="0.6"/><circle cx="894.07" cy="756.14" r="0.64" fill="#3030d8" opacity="0.61"/><circle cx="893.06" cy="753.29" r="0.57" fill="#28b050" opacity="0.67"/><circle cx="896.41" cy="750.71" r="0.44" fill="#3030d8" opacity="0.79"/><circle cx="900.52" cy="749.08" r="0.63" fill="#3030d8" opacity="0.61"/><circle cx="905.27" cy="751.01" r="0.38" fill="#3030d8" opacity="0.62"/><circle cx="907.77" cy="751.75" r="0.66" fill="#28b050" opacity="0.86"/><circle cx="884.35" cy="743.58" r="0.38" fill="#7a2090" opacity="0.51"/><circle cx="883.22" cy="747.2" r="0.63" fill="#7a2090" opacity="0.78"/><circle cx="879.57" cy="748.81" r="0.62" fill="#3030d8" opacity="0.84"/><circle cx="875.97" cy="747.74" r="0.66" fill="#7a2090" opacity="0.6"/><circle cx="873.46" cy="745.61" r="0.57" fill="#3030d8" opacity="0.57"/><circle cx="873.6" cy="742.03" r="0.49" fill="#3030d8" opacity="0.59"/><circle cx="875.51" cy="739.18" r="0.37" fill="#3030d8" opacity="0.65"/><circle cx="879.92" cy="739.47" r="0.4" fill="#3030d8" opacity="0.71"/><circle cx="883.53" cy="740.84" r="0.58" fill="#28b050" opacity="0.65"/><circle cx="879.86" cy="780.59" r="0.36" fill="#7a2090" opacity="0.72"/><circle cx="877.83" cy="783.26" r="0.5" fill="#3030d8" opacity="0.81"/><circle cx="873.71" cy="782.34" r="0.48" fill="#7a2090" opacity="0.84"/><circle cx="873.55" cy="779.25" r="0.67" fill="#7a2090" opacity="0.87"/><circle cx="877.73" cy="778.19" r="0.53" fill="#3030d8" opacity="0.73"/><circle cx="895.26" cy="761.38" r="0.58" fill="#3030d8" opacity="0.5"/><circle cx="894.96" cy="764.57" r="0.39" fill="#7a2090" opacity="0.6"/><circle cx="891.4" cy="766.51" r="0.66" fill="#3030d8" opacity="0.87"/><circle cx="887.59" cy="766.62" r="0.42" fill="#3030d8" opacity="0.7"/><circle cx="883.54" cy="764.13" r="0.66" fill="#3030d8" opacity="0.85"/><circle cx="883.11" cy="761.09" r="0.48" fill="#3030d8" opacity="0.46"/><circle cx="884.54" cy="758.23" r="0.49" fill="#3030d8" opacity="0.88"/><circle cx="887.68" cy="756.36" r="0.69" fill="#7a2090" opacity="0.54"/><circle cx="891.47" cy="756.77" r="0.65" fill="#3030d8" opacity="0.46"/><circle cx="895.04" cy="758.33" r="0.49" fill="#7a2090" opacity="0.81"/><circle cx="841.63" cy="742.96" r="0.63" fill="#3030d8" opacity="0.69"/><circle cx="841.45" cy="746.51" r="0.54" fill="#7a2090" opacity="0.7"/><circle cx="838.06" cy="749.37" r="0.6" fill="#3030d8" opacity="0.51"/><circle cx="834.26" cy="750.15" r="0.49" fill="#7a2090" opacity="0.88"/><circle cx="829.58" cy="748.85" r="0.46" fill="#3030d8" opacity="0.85"/><circle cx="827.7" cy="746.44" r="0.57" fill="#3030d8" opacity="0.52"/><circle cx="826.61" cy="742.89" r="0.65" fill="#3030d8" opacity="0.54"/><circle cx="827.34" cy="740.28" r="0.47" fill="#7a2090" opacity="0.68"/><circle cx="830.71" cy="738.53" r="0.36" fill="#7a2090" opacity="0.51"/><circle cx="835" cy="736.87" r="0.43" fill="#3030d8" opacity="0.65"/><circle cx="838.23" cy="738.26" r="0.38" fill="#7a2090" opacity="0.81"/><circle cx="839.96" cy="740.25" r="0.58" fill="#7a2090" opacity="0.67"/><circle cx="878.98" cy="757.78" r="0.35" fill="#3030d8" opacity="0.84"/><circle cx="876.25" cy="760.02" r="0.46" fill="#3030d8" opacity="0.89"/><circle cx="872.5" cy="759.11" r="0.43" fill="#28b050" opacity="0.65"/><circle cx="872.56" cy="755.91" r="0.63" fill="#7a2090" opacity="0.78"/><circle cx="876.03" cy="755.37" r="0.59" fill="#3030d8" opacity="0.87"/><circle cx="906.73" cy="742.42" r="0.41" fill="#3030d8" opacity="0.79"/><circle cx="905.04" cy="745.77" r="0.56" fill="#7a2090" opacity="0.57"/><circle cx="900.88" cy="745.19" r="0.43" fill="#3030d8" opacity="0.61"/><circle cx="898.68" cy="742.39" r="0.68" fill="#3030d8" opacity="0.77"/><circle cx="900.68" cy="739.31" r="0.63" fill="#3030d8" opacity="0.56"/><circle cx="904.86" cy="739.29" r="0.51" fill="#3030d8" opacity="0.87"/><circle cx="857.7" cy="765.94" r="0.53" fill="#28b050" opacity="0.67"/><circle cx="857.47" cy="770.27" r="0.62" fill="#7a2090" opacity="0.66"/><circle cx="852.78" cy="772.52" r="0.48" fill="#7a2090" opacity="0.73"/><circle cx="850.39" cy="773.47" r="0.43" fill="#3030d8" opacity="0.47"/><circle cx="846.81" cy="772.23" r="0.48" fill="#3030d8" opacity="0.76"/><circle cx="843.07" cy="770.77" r="0.47" fill="#28b050" opacity="0.83"/><circle cx="839.62" cy="767.14" r="0.69" fill="#3030d8" opacity="0.83"/><circle cx="840.09" cy="765.2" r="0.56" fill="#3030d8" opacity="0.76"/><circle cx="842.12" cy="761.32" r="0.46" fill="#7a2090" opacity="0.56"/><circle cx="846.61" cy="758.99" r="0.38" fill="#3030d8" opacity="0.8"/><circle cx="850.2" cy="758.85" r="0.68" fill="#3030d8" opacity="0.73"/><circle cx="853.96" cy="759.57" r="0.7" fill="#7a2090" opacity="0.74"/><circle cx="856.57" cy="762.43" r="0.57" fill="#3030d8" opacity="0.73"/><circle cx="884.85" cy="771.89" r="0.37" fill="#3030d8" opacity="0.76"/><circle cx="882.65" cy="774.87" r="0.5" fill="#28b050" opacity="0.47"/><circle cx="879.07" cy="774.54" r="0.37" fill="#3030d8" opacity="0.88"/><circle cx="876.08" cy="771.48" r="0.67" fill="#3030d8" opacity="0.76"/><circle cx="878.82" cy="768.51" r="0.49" fill="#7a2090" opacity="0.6"/><circle cx="883.08" cy="768.73" r="0.36" fill="#3030d8" opacity="0.56"/><circle cx="893.93" cy="745.56" r="0.68" fill="#3030d8" opacity="0.65"/><circle cx="892.08" cy="748.82" r="0.54" fill="#7a2090" opacity="0.61"/><circle cx="888.02" cy="748.18" r="0.47" fill="#3030d8" opacity="0.55"/><circle cx="886.51" cy="745.56" r="0.55" fill="#7a2090" opacity="0.63"/><circle cx="887.91" cy="743.36" r="0.67" fill="#3030d8" opacity="0.71"/><circle cx="892.2" cy="742.43" r="0.67" fill="#28b050" opacity="0.74"/><circle cx="848.46" cy="774.92" r="0.37" fill="#3030d8" opacity="0.64"/><circle cx="845.52" cy="777.19" r="0.6" fill="#3030d8" opacity="0.68"/><circle cx="842.42" cy="776.16" r="0.58" fill="#3030d8" opacity="0.81"/><circle cx="842.35" cy="772.94" r="0.52" fill="#3030d8" opacity="0.84"/><circle cx="845.54" cy="772.45" r="0.53" fill="#7a2090" opacity="0.71"/><circle cx="844.62" cy="763.44" r="0.41" fill="#3030d8" opacity="0.58"/><circle cx="842.72" cy="766.72" r="0.46" fill="#7a2090" opacity="0.87"/><circle cx="838.32" cy="768.49" r="0.47" fill="#7a2090" opacity="0.88"/><circle cx="834.94" cy="766.99" r="0.47" fill="#7a2090" opacity="0.53"/><circle cx="832.95" cy="763.25" r="0.48" fill="#7a2090" opacity="0.85"/><circle cx="835.32" cy="760.72" r="0.67" fill="#3030d8" opacity="0.71"/><circle cx="838.82" cy="759.59" r="0.59" fill="#7a2090" opacity="0.81"/><circle cx="842.64" cy="760.84" r="0.45" fill="#7a2090" opacity="0.57"/><circle cx="888.07" cy="765.77" r="0.66" fill="#7a2090" opacity="0.45"/><circle cx="886.17" cy="768.53" r="0.42" fill="#3030d8" opacity="0.58"/><circle cx="882.27" cy="768.84" r="0.67" fill="#7a2090" opacity="0.5"/><circle cx="879.83" cy="766.25" r="0.66" fill="#7a2090" opacity="0.59"/><circle cx="882.06" cy="762.97" r="0.66" fill="#7a2090" opacity="0.49"/><circle cx="886.04" cy="763.17" r="0.65" fill="#7a2090" opacity="0.57"/><circle cx="906.96" cy="774.06" r="0.36" fill="#28b050" opacity="0.7"/><circle cx="905.95" cy="776.79" r="0.41" fill="#7a2090" opacity="0.63"/><circle cx="902.01" cy="778.04" r="0.54" fill="#7a2090" opacity="0.89"/><circle cx="898.14" cy="777.41" r="0.48" fill="#3030d8" opacity="0.6"/><circle cx="895.59" cy="775.92" r="0.6" fill="#3030d8" opacity="0.87"/><circle cx="896.01" cy="772.22" r="0.4" fill="#7a2090" opacity="0.9"/><circle cx="898.74" cy="770.63" r="0.37" fill="#3030d8" opacity="0.57"/><circle cx="902.49" cy="770.36" r="0.4" fill="#3030d8" opacity="0.72"/><circle cx="905.65" cy="771.25" r="0.35" fill="#7a2090" opacity="0.48"/><circle cx="851.54" cy="740.68" r="0.53" fill="#3030d8" opacity="0.72"/><circle cx="850.78" cy="743.66" r="0.4" fill="#7a2090" opacity="0.51"/><circle cx="849.22" cy="746.96" r="0.36" fill="#3030d8" opacity="0.51"/><circle cx="846.93" cy="747.94" r="0.56" fill="#3030d8" opacity="0.82"/><circle cx="841.75" cy="747.1" r="0.37" fill="#3030d8" opacity="0.54"/><circle cx="838.59" cy="746.34" r="0.63" fill="#3030d8" opacity="0.62"/><circle cx="834.99" cy="743.33" r="0.37" fill="#7a2090" opacity="0.84"/><circle cx="836.39" cy="740.17" r="0.47" fill="#7a2090" opacity="0.57"/><circle cx="835.27" cy="737.9" r="0.58" fill="#7a2090" opacity="0.87"/><circle cx="838.85" cy="735.61" r="0.36" fill="#7a2090" opacity="0.86"/><circle cx="842.61" cy="733.92" r="0.39" fill="#7a2090" opacity="0.51"/><circle cx="846.34" cy="733.02" r="0.61" fill="#7a2090" opacity="0.48"/><circle cx="850.2" cy="734.8" r="0.45" fill="#3030d8" opacity="0.55"/><circle cx="850.91" cy="737.82" r="0.46" fill="#3030d8" opacity="0.57"/><circle cx="869.39" cy="754.05" r="0.46" fill="#7a2090" opacity="0.84"/><circle cx="869.07" cy="755.88" r="0.59" fill="#7a2090" opacity="0.47"/><circle cx="865.64" cy="758.86" r="0.5" fill="#3030d8" opacity="0.47"/><circle cx="861.86" cy="760.41" r="0.56" fill="#3030d8" opacity="0.69"/><circle cx="857.15" cy="760.41" r="0.44" fill="#7a2090" opacity="0.48"/><circle cx="854.01" cy="757.56" r="0.58" fill="#3030d8" opacity="0.65"/><circle cx="852.02" cy="755.34" r="0.6" fill="#7a2090" opacity="0.79"/><circle cx="852.96" cy="752.14" r="0.51" fill="#28b050" opacity="0.48"/><circle cx="854.75" cy="749.31" r="0.39" fill="#7a2090" opacity="0.46"/><circle cx="857.18" cy="748.06" r="0.37" fill="#3030d8" opacity="0.62"/><circle cx="860.87" cy="747.55" r="0.69" fill="#7a2090" opacity="0.87"/><circle cx="864.71" cy="747.99" r="0.55" fill="#3030d8" opacity="0.49"/><circle cx="867.36" cy="750.41" r="0.38" fill="#7a2090" opacity="0.61"/><circle cx="895.13" cy="770.58" r="0.48" fill="#7a2090" opacity="0.82"/><circle cx="892.78" cy="774.24" r="0.41" fill="#3030d8" opacity="0.55"/><circle cx="888.49" cy="774.67" r="0.43" fill="#3030d8" opacity="0.87"/><circle cx="885.73" cy="772.49" r="0.45" fill="#7a2090" opacity="0.74"/><circle cx="885.58" cy="769.29" r="0.61" fill="#3030d8" opacity="0.52"/><circle cx="888.57" cy="766.91" r="0.53" fill="#3030d8" opacity="0.7"/><circle cx="893" cy="768.16" r="0.37" fill="#7a2090" opacity="0.54"/><circle cx="829.89" cy="779.28" r="0.61" fill="#3030d8" opacity="0.65"/><circle cx="829.79" cy="781.79" r="0.6" fill="#3030d8" opacity="0.74"/><circle cx="826.47" cy="783.8" r="0.67" fill="#3030d8" opacity="0.68"/><circle cx="821.24" cy="784.93" r="0.68" fill="#7a2090" opacity="0.76"/><circle cx="818.23" cy="782.48" r="0.54" fill="#3030d8" opacity="0.81"/><circle cx="817.07" cy="779.31" r="0.41" fill="#3030d8" opacity="0.67"/><circle cx="818.87" cy="776.99" r="0.52" fill="#7a2090" opacity="0.57"/><circle cx="821.63" cy="774.65" r="0.67" fill="#7a2090" opacity="0.89"/><circle cx="825.32" cy="774.38" r="0.65" fill="#3030d8" opacity="0.73"/><circle cx="830.05" cy="776.96" r="0.41" fill="#28b050" opacity="0.63"/><circle cx="844.26" cy="743.21" r="0.37" fill="#3030d8" opacity="0.54"/><circle cx="841.51" cy="745.54" r="0.48" fill="#3030d8" opacity="0.87"/><circle cx="837.17" cy="744.61" r="0.54" fill="#3030d8" opacity="0.85"/><circle cx="837.06" cy="741.36" r="0.61" fill="#3030d8" opacity="0.83"/><circle cx="841.59" cy="739.79" r="0.68" fill="#3030d8" opacity="0.86"/><circle cx="876.88" cy="781.19" r="0.55" fill="#28b050" opacity="0.63"/><circle cx="874.53" cy="783.78" r="0.67" fill="#3030d8" opacity="0.79"/><circle cx="870.96" cy="785.45" r="0.52" fill="#3030d8" opacity="0.73"/><circle cx="867.78" cy="783.32" r="0.49" fill="#7a2090" opacity="0.47"/><circle cx="867.31" cy="779.91" r="0.67" fill="#3030d8" opacity="0.58"/><circle cx="870.48" cy="777.57" r="0.57" fill="#3030d8" opacity="0.79"/><circle cx="874.31" cy="778.06" r="0.61" fill="#28b050" opacity="0.83"/><circle cx="897.56" cy="766.84" r="0.41" fill="#7a2090" opacity="0.58"/><circle cx="895.75" cy="769.9" r="0.48" fill="#7a2090" opacity="0.54"/><circle cx="892.02" cy="771.65" r="0.57" fill="#7a2090" opacity="0.63"/><circle cx="888.23" cy="770.24" r="0.44" fill="#3030d8" opacity="0.89"/><circle cx="886.19" cy="767.42" r="0.43" fill="#7a2090" opacity="0.57"/><circle cx="888.22" cy="764.26" r="0.55" fill="#3030d8" opacity="0.65"/><circle cx="891.55" cy="762.48" r="0.56" fill="#3030d8" opacity="0.87"/><circle cx="895.74" cy="764.38" r="0.54" fill="#3030d8" opacity="0.61"/><circle cx="836.46" cy="763.58" r="0.61" fill="#3030d8" opacity="0.82"/><circle cx="834.22" cy="766.58" r="0.56" fill="#7a2090" opacity="0.72"/><circle cx="830.63" cy="765.03" r="0.55" fill="#3030d8" opacity="0.7"/><circle cx="830.08" cy="761.79" r="0.6" fill="#3030d8" opacity="0.8"/><circle cx="834.17" cy="760.89" r="0.38" fill="#7a2090" opacity="0.77"/><circle cx="855.18" cy="774.18" r="0.55" fill="#3030d8" opacity="0.59"/><circle cx="854.47" cy="776.93" r="0.64" fill="#3030d8" opacity="0.56"/><circle cx="852.08" cy="779.35" r="0.51" fill="#3030d8" opacity="0.58"/><circle cx="846.76" cy="779.76" r="0.55" fill="#3030d8" opacity="0.85"/><circle cx="843.21" cy="778.44" r="0.43" fill="#7a2090" opacity="0.86"/><circle cx="841.96" cy="776.16" r="0.44" fill="#7a2090" opacity="0.45"/><circle cx="840.91" cy="772.68" r="0.45" fill="#7a2090" opacity="0.54"/><circle cx="842.99" cy="770.77" r="0.46" fill="#7a2090" opacity="0.61"/><circle cx="847.22" cy="768.76" r="0.53" fill="#7a2090" opacity="0.52"/><circle cx="851.08" cy="769.35" r="0.4" fill="#28b050" opacity="0.89"/><circle cx="854.31" cy="771.46" r="0.65" fill="#7a2090" opacity="0.9"/><circle cx="849.53" cy="747.37" r="0.54" fill="#7a2090" opacity="0.51"/><circle cx="849.05" cy="750.99" r="0.44" fill="#3030d8" opacity="0.69"/><circle cx="845.28" cy="752.37" r="0.58" fill="#3030d8" opacity="0.62"/><circle cx="842.38" cy="753.61" r="0.6" fill="#7a2090" opacity="0.5"/><circle cx="838.11" cy="752.71" r="0.48" fill="#7a2090" opacity="0.49"/><circle cx="834.77" cy="750.44" r="0.64" fill="#7a2090" opacity="0.62"/><circle cx="834.59" cy="747.72" r="0.7" fill="#3030d8" opacity="0.81"/><circle cx="835.32" cy="744.64" r="0.48" fill="#3030d8" opacity="0.85"/><circle cx="838.46" cy="742.85" r="0.49" fill="#7a2090" opacity="0.68"/><circle cx="842.46" cy="740.52" r="0.41" fill="#7a2090" opacity="0.76"/><circle cx="846.7" cy="742.5" r="0.52" fill="#7a2090" opacity="0.55"/><circle cx="848.72" cy="744.79" r="0.45" fill="#3030d8" opacity="0.79"/><circle cx="836.03" cy="741.86" r="0.49" fill="#7a2090" opacity="0.58"/><circle cx="833.33" cy="745.08" r="0.58" fill="#7a2090" opacity="0.89"/><circle cx="830.57" cy="746.67" r="0.62" fill="#3030d8" opacity="0.5"/><circle cx="827.1" cy="747.58" r="0.6" fill="#7a2090" opacity="0.62"/><circle cx="822.98" cy="745.66" r="0.56" fill="#7a2090" opacity="0.56"/><circle cx="822.29" cy="741.9" r="0.62" fill="#3030d8" opacity="0.46"/><circle cx="823.71" cy="739.36" r="0.67" fill="#7a2090" opacity="0.85"/><circle cx="826.63" cy="736.95" r="0.67" fill="#7a2090" opacity="0.75"/><circle cx="831.13" cy="737.96" r="0.61" fill="#3030d8" opacity="0.46"/><circle cx="833.84" cy="738.89" r="0.42" fill="#3030d8" opacity="0.79"/><circle cx="866.24" cy="775.39" r="0.45" fill="#7a2090" opacity="0.89"/><circle cx="866.16" cy="778.74" r="0.6" fill="#7a2090" opacity="0.7"/><circle cx="862.76" cy="781.02" r="0.41" fill="#3030d8" opacity="0.65"/><circle cx="859.67" cy="781.03" r="0.39" fill="#3030d8" opacity="0.64"/><circle cx="854.8" cy="780.53" r="0.49" fill="#3030d8" opacity="0.79"/><circle cx="851.79" cy="778.88" r="0.4" fill="#3030d8" opacity="0.67"/><circle cx="851.5" cy="775.34" r="0.67" fill="#7a2090" opacity="0.83"/><circle cx="853.66" cy="772.61" r="0.56" fill="#7a2090" opacity="0.7"/><circle cx="855.41" cy="770.32" r="0.48" fill="#3030d8" opacity="0.49"/><circle cx="859.63" cy="768.97" r="0.63" fill="#3030d8" opacity="0.59"/><circle cx="862.66" cy="770.96" r="0.38" fill="#3030d8" opacity="0.54"/><circle cx="865.63" cy="772.94" r="0.58" fill="#7a2090" opacity="0.83"/><circle cx="897.01" cy="777.02" r="0.6" fill="#3030d8" opacity="0.72"/><circle cx="895.27" cy="780.13" r="0.55" fill="#3030d8" opacity="0.52"/><circle cx="891.85" cy="782.06" r="0.37" fill="#7a2090" opacity="0.88"/><circle cx="887.17" cy="781.95" r="0.46" fill="#3030d8" opacity="0.7"/><circle cx="884.58" cy="778.66" r="0.39" fill="#7a2090" opacity="0.53"/><circle cx="884.15" cy="775.56" r="0.65" fill="#7a2090" opacity="0.74"/><circle cx="887.54" cy="773.48" r="0.61" fill="#7a2090" opacity="0.58"/><circle cx="891.49" cy="772.17" r="0.62" fill="#3030d8" opacity="0.87"/><circle cx="895.29" cy="774.66" r="0.61" fill="#3030d8" opacity="0.49"/><circle cx="828.94" cy="760.36" r="0.62" fill="#7a2090" opacity="0.77"/><circle cx="827.05" cy="762.56" r="0.66" fill="#7a2090" opacity="0.71"/><circle cx="823.66" cy="761.76" r="0.45" fill="#7a2090" opacity="0.86"/><circle cx="822.96" cy="758.73" r="0.35" fill="#7a2090" opacity="0.5"/><circle cx="827.02" cy="757.79" r="0.65" fill="#7a2090" opacity="0.85"/><circle cx="844.17" cy="757.97" r="0.68" fill="#28b050" opacity="0.66"/><circle cx="844.89" cy="760.61" r="0.52" fill="#7a2090" opacity="0.89"/><circle cx="841.47" cy="763.84" r="0.65" fill="#3030d8" opacity="0.67"/><circle cx="837.93" cy="764.02" r="0.59" fill="#28b050" opacity="0.68"/><circle cx="833.42" cy="763.28" r="0.63" fill="#3030d8" opacity="0.85"/><circle cx="832.28" cy="761.51" r="0.44" fill="#3030d8" opacity="0.6"/><circle cx="830.83" cy="758.33" r="0.52" fill="#3030d8" opacity="0.82"/><circle cx="832.12" cy="754.46" r="0.39" fill="#3030d8" opacity="0.67"/><circle cx="834.23" cy="752.11" r="0.42" fill="#3030d8" opacity="0.9"/><circle cx="838.11" cy="751.38" r="0.48" fill="#7a2090" opacity="0.9"/><circle cx="840.97" cy="752.43" r="0.66" fill="#7a2090" opacity="0.68"/><circle cx="844.98" cy="755.87" r="0.61" fill="#7a2090" opacity="0.86"/><circle cx="898.37" cy="743.17" r="0.39" fill="#7a2090" opacity="0.59"/><circle cx="896.73" cy="745.95" r="0.64" fill="#3030d8" opacity="0.85"/><circle cx="893.23" cy="749.09" r="0.5" fill="#3030d8" opacity="0.72"/><circle cx="889.68" cy="749.28" r="0.41" fill="#3030d8" opacity="0.8"/><circle cx="885.97" cy="747.1" r="0.59" fill="#3030d8" opacity="0.71"/><circle cx="883.1" cy="744.25" r="0.38" fill="#7a2090" opacity="0.62"/><circle cx="882.78" cy="741.37" r="0.54" fill="#3030d8" opacity="0.67"/><circle cx="885.17" cy="738.85" r="0.61" fill="#7a2090" opacity="0.66"/><circle cx="889.16" cy="738.36" r="0.47" fill="#3030d8" opacity="0.45"/><circle cx="893.15" cy="737.75" r="0.38" fill="#3030d8" opacity="0.55"/><circle cx="897.19" cy="740.32" r="0.67" fill="#28b050" opacity="0.47"/><circle cx="838.33" cy="770.81" r="0.68" fill="#7a2090" opacity="0.73"/><circle cx="835.9" cy="773.83" r="0.69" fill="#3030d8" opacity="0.86"/><circle cx="831.94" cy="774.56" r="0.68" fill="#3030d8" opacity="0.69"/><circle cx="829.08" cy="772.83" r="0.42" fill="#3030d8" opacity="0.56"/><circle cx="828.53" cy="769.64" r="0.57" fill="#28b050" opacity="0.5"/><circle cx="831.88" cy="766.94" r="0.56" fill="#3030d8" opacity="0.81"/><circle cx="835.93" cy="767.74" r="0.64" fill="#7a2090" opacity="0.69"/><circle cx="875.63" cy="763.98" r="0.36" fill="#3030d8" opacity="0.5"/><circle cx="875.56" cy="766.98" r="0.57" fill="#7a2090" opacity="0.87"/><circle cx="872.19" cy="769.3" r="0.67" fill="#3030d8" opacity="0.59"/><circle cx="867.93" cy="769.35" r="0.39" fill="#3030d8" opacity="0.47"/><circle cx="864.1" cy="767.56" r="0.5" fill="#3030d8" opacity="0.58"/><circle cx="863.38" cy="763.85" r="0.39" fill="#7a2090" opacity="0.46"/><circle cx="863.98" cy="761.37" r="0.54" fill="#7a2090" opacity="0.48"/><circle cx="867.91" cy="759.35" r="0.67" fill="#7a2090" opacity="0.57"/><circle cx="871.24" cy="759.73" r="0.59" fill="#3030d8" opacity="0.46"/><circle cx="874.67" cy="760.88" r="0.37" fill="#3030d8" opacity="0.73"/><circle cx="868.52" cy="772.29" r="0.58" fill="#3030d8" opacity="0.7"/><circle cx="864.21" cy="762.55" r="0.42" fill="#3030d8" opacity="0.7"/><circle cx="824.03" cy="781.52" r="0.37" fill="#3030d8" opacity="0.7"/><circle cx="837.32" cy="740.12" r="0.41" fill="#3030d8" opacity="0.7"/><circle cx="880.3" cy="767.8" r="0.47" fill="#3030d8" opacity="0.7"/><circle cx="857.64" cy="781.47" r="0.41" fill="#3030d8" opacity="0.7"/><circle cx="851.79" cy="766.69" r="0.37" fill="#a02060" opacity="0.7"/><circle cx="886.59" cy="748.19" r="0.56" fill="#3030d8" opacity="0.7"/><circle cx="841.1" cy="770.72" r="0.55" fill="#a02060" opacity="0.7"/><circle cx="878.09" cy="754.13" r="0.53" fill="#a02060" opacity="0.7"/><circle cx="833.16" cy="756.91" r="0.38" fill="#a02060" opacity="0.7"/><circle cx="889.39" cy="769.95" r="0.57" fill="#a02060" opacity="0.7"/><circle cx="839.4" cy="752.16" r="0.6" fill="#a02060" opacity="0.7"/><circle cx="829.68" cy="752.28" r="0.48" fill="#a02060" opacity="0.7"/><circle cx="875.26" cy="781.05" r="0.42" fill="#a02060" opacity="0.7"/><circle cx="871.1" cy="766.94" r="0.5" fill="#a02060" opacity="0.7"/><circle cx="864.05" cy="757.03" r="0.5" fill="#a02060" opacity="0.7"/><circle cx="898.37" cy="777.47" r="0.45" fill="#3030d8" opacity="0.7"/><circle cx="898.8" cy="761" r="0.49" fill="#a02060" opacity="0.7"/><circle cx="885.95" cy="770.2" r="0.38" fill="#3030d8" opacity="0.7"/><circle cx="901.77" cy="760.13" r="0.51" fill="#3030d8" opacity="0.7"/><circle cx="877.27" cy="763.94" r="0.55" fill="#a02060" opacity="0.7"/><circle cx="866.66" cy="749.61" r="0.38" fill="#3030d8" opacity="0.7"/><circle cx="874.36" cy="745.29" r="0.53" fill="#a02060" opacity="0.7"/><circle cx="849.55" cy="781.61" r="0.56" fill="#3030d8" opacity="0.7"/><circle cx="884.48" cy="742.3" r="0.35" fill="#3030d8" opacity="0.7"/><circle cx="877.67" cy="777.34" r="0.52" fill="#3030d8" opacity="0.7"/><circle cx="872.42" cy="752.15" r="0.6" fill="#a02060" opacity="0.7"/><circle cx="886.57" cy="763.25" r="0.56" fill="#3030d8" opacity="0.7"/><circle cx="880.42" cy="757.52" r="0.4" fill="#3030d8" opacity="0.7"/><circle cx="899.15" cy="746.88" r="0.49" fill="#3030d8" opacity="0.7"/><circle cx="872.88" cy="745.07" r="0.46" fill="#3030d8" opacity="0.7"/><circle cx="834.56" cy="774.76" r="0.51" fill="#a02060" opacity="0.7"/><circle cx="849.23" cy="751.86" r="0.47" fill="#3030d8" opacity="0.7"/><circle cx="892.48" cy="775.15" r="0.58" fill="#3030d8" opacity="0.7"/><circle cx="849.94" cy="742" r="0.52" fill="#3030d8" opacity="0.7"/><circle cx="835.87" cy="744.49" r="0.51" fill="#3030d8" opacity="0.7"/><circle cx="883.1" cy="758.75" r="0.6" fill="#a02060" opacity="0.7"/><circle cx="854.9" cy="748.18" r="0.55" fill="#3030d8" opacity="0.7"/><circle cx="867.65" cy="777.98" r="0.45" fill="#3030d8" opacity="0.7"/><circle cx="834.51" cy="762.46" r="0.47" fill="#3030d8" opacity="0.7"/><circle cx="827.08" cy="741.16" r="0.57" fill="#3030d8" opacity="0.7"/><circle cx="871.34" cy="750" r="0.55" fill="#a02060" opacity="0.7"/><circle cx="854.96" cy="755.72" r="0.55" fill="#3030d8" opacity="0.7"/><circle cx="859.05" cy="749.94" r="0.44" fill="#a02060" opacity="0.7"/><circle cx="855.74" cy="777.77" r="0.48" fill="#a02060" opacity="0.7"/><circle cx="895.21" cy="759.02" r="0.48" fill="#a02060" opacity="0.7"/><circle cx="875.03" cy="758.97" r="0.47" fill="#3030d8" opacity="0.7"/><circle cx="873.16" cy="761.85" r="0.55" fill="#a02060" opacity="0.7"/><circle cx="852.83" cy="764.4" r="0.53" fill="#3030d8" opacity="0.7"/><circle cx="835" cy="752.69" r="0.56" fill="#3030d8" opacity="0.7"/><circle cx="860.63" cy="740.85" r="0.54" fill="#a02060" opacity="0.7"/><circle cx="887.86" cy="761.93" r="0.41" fill="#a02060" opacity="0.7"/><circle cx="884.27" cy="778.73" r="0.42" fill="#3030d8" opacity="0.7"/><circle cx="848.34" cy="743.75" r="0.56" fill="#a02060" opacity="0.7"/><circle cx="896.84" cy="752.74" r="0.39" fill="#3030d8" opacity="0.7"/><circle cx="889.64" cy="752.87" r="0.5" fill="#28b050" opacity="0.7"/><circle cx="900.59" cy="776.52" r="0.53" fill="#3030d8" opacity="0.7"/><circle cx="831.15" cy="741.12" r="0.46" fill="#a02060" opacity="0.7"/><circle cx="831.98" cy="753.36" r="0.45" fill="#a02060" opacity="0.7"/><circle cx="837.85" cy="754.4" r="0.55" fill="#a02060" opacity="0.7"/><circle cx="895.36" cy="767.72" r="0.59" fill="#a02060" opacity="0.7"/><circle cx="884.13" cy="745.09" r="0.51" fill="#3030d8" opacity="0.7"/><circle cx="865.78" cy="768.34" r="0.53" fill="#3030d8" opacity="0.7"/><circle cx="864.45" cy="743.22" r="0.51" fill="#3030d8" opacity="0.7"/><circle cx="893.53" cy="755.51" r="0.37" fill="#3030d8" opacity="0.7"/><circle cx="864.36" cy="780.84" r="0.51" fill="#3030d8" opacity="0.7"/><circle cx="872.43" cy="778.01" r="0.56" fill="#3030d8" opacity="0.7"/><circle cx="832.63" cy="750.56" r="0.38" fill="#a02060" opacity="0.7"/><circle cx="827.55" cy="747.18" r="0.43" fill="#3030d8" opacity="0.7"/></g>
<path d="M936.5 612.1V662.4H1011.3" stroke="#666" stroke-width="0.7" fill="none"/>
<text x="942.25" y="667" font-size="3.3" text-anchor="middle" fill="#666">ctrl</text>
<text x="951.31" y="667" font-size="3.3" text-anchor="middle" fill="#666">12.5</text>
<text x="960.37" y="667" font-size="3.3" text-anchor="middle" fill="#666">25</text>
<text x="969.43" y="667" font-size="3.3" text-anchor="middle" fill="#666">50</text>
<text x="978.49" y="667" font-size="3.3" text-anchor="middle" fill="#666">100</text>
<text x="987.55" y="667" font-size="3.3" text-anchor="middle" fill="#666">200</text>
<text x="996.61" y="667" font-size="3.3" text-anchor="middle" fill="#666">500</text>
<text x="1005.67" y="667" font-size="3.3" text-anchor="middle" fill="#666">LPS</text>
<rect x="939.2" y="628.8" width="6.1" height="33.6" fill="#5555ff"/><rect x="948.26" y="626.3" width="6.1" height="36.1" fill="#ff5555"/><rect x="957.32" y="622" width="6.1" height="40.4" fill="#55d855"/><rect x="966.38" y="621.7" width="6.1" height="40.7" fill="#cc55ee"/><rect x="975.44" y="622.2" width="6.1" height="40.2" fill="#ffaa55"/><rect x="984.5" y="632.9" width="6.1" height="29.5" fill="#555555"/><rect x="993.56" y="635.2" width="6.1" height="27.2" fill="#b09070"/><rect x="1002.62" y="616.3" width="6.1" height="46.1" fill="#5555aa"/>
<path d="M942.25 628.8v-2.4m-1 0h2M951.31 626.3v-2.4m-1 0h2M960.37 622v-2.4m-1 0h2M969.43 621.7v-2.4m-1 0h2M978.49 622.2v-2.4m-1 0h2M987.55 632.9v-2.4m-1 0h2M996.61 635.2v-2.4m-1 0h2M1005.67 616.3v-2.4m-1 0h2" stroke="#444" stroke-width="0.4"/>
<text x="1012.5" y="667" font-size="3.3" fill="#666">μg/mL</text>
<text x="935" y="613.5" font-size="3.4" text-anchor="end" fill="#777">1.50</text>
<path d="M936.5 612.4h-1.2" stroke="#777" stroke-width="0.4"/>
<text x="935" y="630.3" font-size="3.4" text-anchor="end" fill="#777">1.00</text>
<path d="M936.5 629.2h-1.2" stroke="#777" stroke-width="0.4"/>
<text x="935" y="647" font-size="3.4" text-anchor="end" fill="#777">0.50</text>
<path d="M936.5 645.9h-1.2" stroke="#777" stroke-width="0.4"/>
<path d="M1031.5 612.1V662.4H1106.3" stroke="#666" stroke-width="0.7" fill="none"/>
<text x="1037.65" y="667" font-size="3.3" text-anchor="middle" fill="#666">ctrl</text>
<text x="1046.71" y="667" font-size="3.3" text-anchor="middle" fill="#666">12.5</text>
<text x="1055.77" y="667" font-size="3.3" text-anchor="middle" fill="#666">25</text>
<text x="1064.83" y="667" font-size="3.3" text-anchor="middle" fill="#666">50</text>
<text x="1073.89" y="667" font-size="3.3" text-anchor="middle" fill="#666">100</text>
<text x="1082.95" y="667" font-size="3.3" text-anchor="middle" fill="#666">200</text>
<text x="1092.01" y="667" font-size="3.3" text-anchor="middle" fill="#666">500</text>
<text x="1101.07" y="667" font-size="3.3" text-anchor="middle" fill="#666">LPS</text>
<rect x="1034.6" y="637.2" width="6.1" height="25.2" fill="#5555ff"/><rect x="1043.66" y="635.2" width="6.1" height="27.2" fill="#ff5555"/><rect x="1052.72" y="632.8" width="6.1" height="29.6" fill="#55d855"/><rect x="1061.78" y="631.9" width="6.1" height="30.5" fill="#cc55ee"/><rect x="1070.84" y="631" width="6.1" height="31.4" fill="#ffaa55"/><rect x="1079.9" y="640.9" width="6.1" height="21.5" fill="#555555"/><rect x="1088.96" y="641.9" width="6.1" height="20.5" fill="#b09070"/><rect x="1098.02" y="626.7" width="6.1" height="35.7" fill="#5555aa"/>
<path d="M1037.65 637.2v-2.4m-1 0h2M1046.71 635.2v-2.4m-1 0h2M1055.77 632.8v-2.4m-1 0h2M1064.83 631.9v-2.4m-1 0h2M1073.89 631v-2.4m-1 0h2M1082.95 640.9v-2.4m-1 0h2M1092.01 641.9v-2.4m-1 0h2M1101.07 626.7v-2.4m-1 0h2" stroke="#444" stroke-width="0.4"/>
<text x="1107.5" y="667" font-size="3.3" fill="#666">μg/mL</text>
<text x="1030" y="626.1" font-size="3.4" text-anchor="end" fill="#777">1.50</text>
<path d="M1031.5 625h-1.2" stroke="#777" stroke-width="0.4"/>
<text x="1030" y="638.5" font-size="3.4" text-anchor="end" fill="#777">1.00</text>
<path d="M1031.5 637.4h-1.2" stroke="#777" stroke-width="0.4"/>
<text x="1030" y="651.1" font-size="3.4" text-anchor="end" fill="#777">0.50</text>
<path d="M1031.5 650h-1.2" stroke="#777" stroke-width="0.4"/>
<path d="M1140.6 616.8V659.1H1182.6" stroke="#aaa" stroke-width="0.6" fill="none"/>
<text x="1145.45" y="648.7" font-size="2.8" text-anchor="middle" fill="#555"></text>
<text x="1145.45" y="662" font-size="2.6" text-anchor="middle" fill="#666">-</text>
<text x="1145.45" y="665" font-size="2.4" text-anchor="middle" fill="#666">-</text>
<text x="1152.07" y="621.9" font-size="2.8" text-anchor="middle" fill="#555">#</text>
<text x="1152.07" y="662" font-size="2.6" text-anchor="middle" fill="#666">+</text>
<text x="1152.07" y="665" font-size="2.4" text-anchor="middle" fill="#666">-</text>
<text x="1158.69" y="628.3" font-size="2.8" text-anchor="middle" fill="#555">*</text>
<text x="1158.69" y="662" font-size="2.6" text-anchor="middle" fill="#666">+</text>
<text x="1158.69" y="665" font-size="2.4" text-anchor="middle" fill="#666">12.5</text>
<text x="1165.31" y="633.8" font-size="2.8" text-anchor="middle" fill="#555">*</text>
<text x="1165.31" y="662" font-size="2.6" text-anchor="middle" fill="#666">+</text>
<text x="1165.31" y="665" font-size="2.4" text-anchor="middle" fill="#666">25</text>
<text x="1171.93" y="641.1" font-size="2.8" text-anchor="middle" fill="#555">*</text>
<text x="1171.93" y="662" font-size="2.6" text-anchor="middle" fill="#666">+</text>
<text x="1171.93" y="665" font-size="2.4" text-anchor="middle" fill="#666">50</text>
<text x="1178.55" y="642.6" font-size="2.8" text-anchor="middle" fill="#555">*</text>
<text x="1178.55" y="662" font-size="2.6" text-anchor="middle" fill="#666">+</text>
<text x="1178.55" y="665" font-size="2.4" text-anchor="middle" fill="#666">100</text>
<rect x="1143.2" y="650.2" width="4.5" height="8.9" fill="#5555ff"/><rect x="1149.82" y="623.4" width="4.5" height="35.7" fill="#ff5555"/><rect x="1156.44" y="629.8" width="4.5" height="29.3" fill="#55d855"/><rect x="1163.06" y="635.3" width="4.5" height="23.8" fill="#cc55ee"/><rect x="1169.68" y="642.6" width="4.5" height="16.5" fill="#ffaa55"/><rect x="1176.3" y="644.1" width="4.5" height="15" fill="#505050"/>
<text x="1134.6" y="662" font-size="2.4" fill="#666">LPS</text>
<text x="1134.6" y="665" font-size="2.4" fill="#666">HPFP-1</text>
<text x="1139.1" y="617.8" font-size="2.8" text-anchor="end" fill="#888">3</text>
<text x="1139.1" y="632" font-size="2.8" text-anchor="end" fill="#888">2</text>
<text x="1139.1" y="646" font-size="2.8" text-anchor="end" fill="#888">1</text>
<text x="1139.1" y="660.1" font-size="2.8" text-anchor="end" fill="#888">0</text>
<path d="M1202.7 616.8V659.1H1244.7" stroke="#aaa" stroke-width="0.6" fill="none"/>
<text x="1207.45" y="648.9" font-size="2.8" text-anchor="middle" fill="#555"></text>
<text x="1207.45" y="662" font-size="2.6" text-anchor="middle" fill="#666">-</text>
<text x="1207.45" y="665" font-size="2.4" text-anchor="middle" fill="#666">-</text>
<text x="1214.07" y="621.3" font-size="2.8" text-anchor="middle" fill="#555">#</text>
<text x="1214.07" y="662" font-size="2.6" text-anchor="middle" fill="#666">+</text>
<text x="1214.07" y="665" font-size="2.4" text-anchor="middle" fill="#666">-</text>
<text x="1220.69" y="625.4" font-size="2.8" text-anchor="middle" fill="#555">*</text>
<text x="1220.69" y="662" font-size="2.6" text-anchor="middle" fill="#666">+</text>
<text x="1220.69" y="665" font-size="2.4" text-anchor="middle" fill="#666">12.5</text>
<text x="1227.31" y="633.6" font-size="2.8" text-anchor="middle" fill="#555">*</text>
<text x="1227.31" y="662" font-size="2.6" text-anchor="middle" fill="#666">+</text>
<text x="1227.31" y="665" font-size="2.4" text-anchor="middle" fill="#666">25</text>
<text x="1233.93" y="641.6" font-size="2.8" text-anchor="middle" fill="#555">*</text>
<text x="1233.93" y="662" font-size="2.6" text-anchor="middle" fill="#666">+</text>
<text x="1233.93" y="665" font-size="2.4" text-anchor="middle" fill="#666">50</text>
<text x="1240.55" y="642.7" font-size="2.8" text-anchor="middle" fill="#555">*</text>
<text x="1240.55" y="662" font-size="2.6" text-anchor="middle" fill="#666">+</text>
<text x="1240.55" y="665" font-size="2.4" text-anchor="middle" fill="#666">100</text>
<rect x="1205.2" y="650.4" width="4.5" height="8.7" fill="#5555ff"/><rect x="1211.82" y="622.8" width="4.5" height="36.3" fill="#ff5555"/><rect x="1218.44" y="626.9" width="4.5" height="32.2" fill="#55d855"/><rect x="1225.06" y="635.1" width="4.5" height="24" fill="#cc55ee"/><rect x="1231.68" y="643.1" width="4.5" height="16" fill="#ffaa55"/><rect x="1238.3" y="644.2" width="4.5" height="14.9" fill="#505050"/>
<text x="1196.7" y="662" font-size="2.4" fill="#666">LPS</text>
<text x="1196.7" y="665" font-size="2.4" fill="#666">HPFP-1</text>
<text x="1201.2" y="617.8" font-size="2.8" text-anchor="end" fill="#888">3</text>
<text x="1201.2" y="632" font-size="2.8" text-anchor="end" fill="#888">2</text>
<text x="1201.2" y="646" font-size="2.8" text-anchor="end" fill="#888">1</text>
<text x="1201.2" y="660.1" font-size="2.8" text-anchor="end" fill="#888">0</text>
<text x="1184.6" y="662" font-size="2.6" fill="#666">μg/mL</text>
<text x="920.6" y="692.5" font-size="15" fill="#231815">A</text>
<text x="1105" y="692.5" font-size="15" fill="#231815">B</text>
<rect x="958.1" y="704.6" width="112.2" height="9.5" fill="#cfcfcf" stroke="#1e1010" stroke-width="1.8"/>
<g filter="url(#soft)"><rect x="976.77" y="705.5" width="2.2" height="7.7" fill="#e6e6e6"/><rect x="994.93" y="705.5" width="2.2" height="7.7" fill="#e6e6e6"/><rect x="1013.1" y="705.5" width="2.2" height="7.7" fill="#e6e6e6"/><rect x="1031.27" y="705.5" width="2.2" height="7.7" fill="#e6e6e6"/><rect x="1049.43" y="705.5" width="2.2" height="7.7" fill="#e6e6e6"/><rect x="961.15" y="707.15" width="15.26" height="5" rx="2.5" fill="rgb(0,0,0)"/><rect x="979.32" y="707.15" width="15.26" height="5" rx="2.5" fill="rgb(0,0,0)"/><rect x="997.49" y="707.15" width="15.26" height="5" rx="2.5" fill="rgb(0,0,0)"/><rect x="1015.65" y="707.15" width="15.26" height="5" rx="2.5" fill="rgb(0,0,0)"/><rect x="1033.82" y="707.24" width="15.26" height="4.83" rx="2.42" fill="rgb(2,2,2)"/><rect x="1051.99" y="706.98" width="15.26" height="5.34" rx="2.67" fill="rgb(0,0,0)"/></g>
<text x="939" y="713.05" font-size="11" fill="#2e2626" textLength="13.7" lengthAdjust="spacingAndGlyphs">p65</text>
<rect x="958.1" y="720.1" width="112.2" height="9.5" fill="#cfcfcf" stroke="#1e1010" stroke-width="1.8"/>
<g filter="url(#soft)"><rect x="976.77" y="721" width="2.2" height="7.7" fill="#e6e6e6"/><rect x="994.93" y="721" width="2.2" height="7.7" fill="#e6e6e6"/><rect x="1013.1" y="721" width="2.2" height="7.7" fill="#e6e6e6"/><rect x="1031.27" y="721" width="2.2" height="7.7" fill="#e6e6e6"/><rect x="1049.43" y="721" width="2.2" height="7.7" fill="#e6e6e6"/><rect x="961.15" y="723.33" width="15.26" height="3.64" rx="1.82" fill="rgb(17,17,17)"/><rect x="979.32" y="722.82" width="15.26" height="4.66" rx="2.33" fill="rgb(4,4,4)"/><rect x="997.49" y="722.99" width="15.26" height="4.32" rx="2.16" fill="rgb(8,8,8)"/><rect x="1015.65" y="723.33" width="15.26" height="3.64" rx="1.82" fill="rgb(17,17,17)"/><rect x="1033.82" y="723.16" width="15.26" height="3.98" rx="1.99" fill="rgb(12,12,12)"/><rect x="1051.99" y="722.99" width="15.26" height="4.32" rx="2.16" fill="rgb(8,8,8)"/></g>
<text x="931" y="728.55" font-size="11" fill="#2e2626" textLength="21.7" lengthAdjust="spacingAndGlyphs">p-p65</text>
<rect x="958.1" y="735.9" width="112.2" height="9.5" fill="#cfcfcf" stroke="#1e1010" stroke-width="1.8"/>
<g filter="url(#soft)"><rect x="976.77" y="736.8" width="2.2" height="7.7" fill="#e6e6e6"/><rect x="994.93" y="736.8" width="2.2" height="7.7" fill="#e6e6e6"/><rect x="1013.1" y="736.8" width="2.2" height="7.7" fill="#e6e6e6"/><rect x="1031.27" y="736.8" width="2.2" height="7.7" fill="#e6e6e6"/><rect x="1049.43" y="736.8" width="2.2" height="7.7" fill="#e6e6e6"/><rect x="961.15" y="738.62" width="15.26" height="4.66" rx="2.33" fill="rgb(4,4,4)"/><rect x="979.32" y="738.79" width="15.26" height="4.32" rx="2.16" fill="rgb(8,8,8)"/><rect x="997.49" y="738.7" width="15.26" height="4.49" rx="2.25" fill="rgb(6,6,6)"/><rect x="1015.65" y="738.96" width="15.26" height="3.98" rx="1.99" fill="rgb(12,12,12)"/><rect x="1033.82" y="738.87" width="15.26" height="4.15" rx="2.08" fill="rgb(10,10,10)"/><rect x="1051.99" y="738.62" width="15.26" height="4.66" rx="2.33" fill="rgb(4,4,4)"/></g>
<text x="939.2" y="744.35" font-size="11" fill="#2e2626" textLength="13.5" lengthAdjust="spacingAndGlyphs">IκB</text>
<rect x="958.1" y="751.4" width="112.2" height="9.5" fill="#cfcfcf" stroke="#1e1010" stroke-width="1.8"/>
<g filter="url(#soft)"><rect x="976.77" y="752.3" width="2.2" height="7.7" fill="#e6e6e6"/><rect x="994.93" y="752.3" width="2.2" height="7.7" fill="#e6e6e6"/><rect x="1013.1" y="752.3" width="2.2" height="7.7" fill="#e6e6e6"/><rect x="1031.27" y="752.3" width="2.2" height="7.7" fill="#e6e6e6"/><rect x="1049.43" y="752.3" width="2.2" height="7.7" fill="#e6e6e6"/><rect x="961.15" y="754.8" width="15.26" height="3.3" rx="1.65" fill="rgb(21,21,21)"/><rect x="979.32" y="754.71" width="15.26" height="3.47" rx="1.74" fill="rgb(19,19,19)"/><rect x="997.49" y="754.8" width="15.26" height="3.3" rx="1.65" fill="rgb(21,21,21)"/><rect x="1015.65" y="755.14" width="15.26" height="2.62" rx="1.31" fill="rgb(29,29,29)"/><rect x="1033.82" y="755.14" width="15.26" height="2.62" rx="1.31" fill="rgb(29,29,29)"/><rect x="1051.99" y="754.8" width="15.26" height="3.3" rx="1.65" fill="rgb(21,21,21)"/></g>
<text x="931" y="759.85" font-size="11" fill="#2e2626" textLength="21.7" lengthAdjust="spacingAndGlyphs">p-IκB</text>
<rect x="958.1" y="766.9" width="112.2" height="9.5" fill="#cfcfcf" stroke="#1e1010" stroke-width="1.8"/>
<g filter="url(#soft)"><rect x="976.77" y="767.8" width="2.2" height="7.7" fill="#e6e6e6"/><rect x="994.93" y="767.8" width="2.2" height="7.7" fill="#e6e6e6"/><rect x="1013.1" y="767.8" width="2.2" height="7.7" fill="#e6e6e6"/><rect x="1031.27" y="767.8" width="2.2" height="7.7" fill="#e6e6e6"/><rect x="1049.43" y="767.8" width="2.2" height="7.7" fill="#e6e6e6"/><rect x="961.15" y="769.28" width="15.26" height="5.34" rx="2.67" fill="rgb(0,0,0)"/><rect x="979.32" y="769.28" width="15.26" height="5.34" rx="2.67" fill="rgb(0,0,0)"/><rect x="997.49" y="769.28" width="15.26" height="5.34" rx="2.67" fill="rgb(0,0,0)"/><rect x="1015.65" y="769.28" width="15.26" height="5.34" rx="2.67" fill="rgb(0,0,0)"/><rect x="1033.82" y="769.28" width="15.26" height="5.34" rx="2.67" fill="rgb(0,0,0)"/><rect x="1051.99" y="769.28" width="15.26" height="5.34" rx="2.67" fill="rgb(0,0,0)"/></g>
<text x="920.2" y="775.35" font-size="11" fill="#2e2626" textLength="32.5" lengthAdjust="spacingAndGlyphs">GAPDH</text>
<rect x="1141.7" y="704.6" width="111.9" height="9.5" fill="#cfcfcf" stroke="#1e1010" stroke-width="1.8"/>
<g filter="url(#soft)"><rect x="1160.32" y="705.5" width="2.2" height="7.7" fill="#e6e6e6"/><rect x="1178.43" y="705.5" width="2.2" height="7.7" fill="#e6e6e6"/><rect x="1196.55" y="705.5" width="2.2" height="7.7" fill="#e6e6e6"/><rect x="1214.67" y="705.5" width="2.2" height="7.7" fill="#e6e6e6"/><rect x="1232.78" y="705.5" width="2.2" height="7.7" fill="#e6e6e6"/><rect x="1144.75" y="707.24" width="15.22" height="4.83" rx="2.42" fill="rgb(2,2,2)"/><rect x="1162.87" y="707.24" width="15.22" height="4.83" rx="2.42" fill="rgb(2,2,2)"/><rect x="1180.98" y="707.15" width="15.22" height="5" rx="2.5" fill="rgb(0,0,0)"/><rect x="1199.1" y="707.15" width="15.22" height="5" rx="2.5" fill="rgb(0,0,0)"/><rect x="1217.22" y="707.32" width="15.22" height="4.66" rx="2.33" fill="rgb(4,4,4)"/><rect x="1235.33" y="707.24" width="15.22" height="4.83" rx="2.42" fill="rgb(2,2,2)"/></g>
<text x="1122.3" y="713.05" font-size="11" fill="#2e2626" textLength="13.7" lengthAdjust="spacingAndGlyphs">p65</text>
<rect x="1141.7" y="720.1" width="111.9" height="9.5" fill="#cfcfcf" stroke="#1e1010" stroke-width="1.8"/>
<g filter="url(#soft)"><rect x="1160.32" y="721" width="2.2" height="7.7" fill="#e6e6e6"/><rect x="1178.43" y="721" width="2.2" height="7.7" fill="#e6e6e6"/><rect x="1196.55" y="721" width="2.2" height="7.7" fill="#e6e6e6"/><rect x="1214.67" y="721" width="2.2" height="7.7" fill="#e6e6e6"/><rect x="1232.78" y="721" width="2.2" height="7.7" fill="#e6e6e6"/><rect x="1144.75" y="723.67" width="15.22" height="2.96" rx="1.48" fill="rgb(25,25,25)"/><rect x="1162.87" y="723.41" width="15.22" height="3.47" rx="1.74" fill="rgb(19,19,19)"/><rect x="1180.98" y="723.58" width="15.22" height="3.13" rx="1.56" fill="rgb(23,23,23)"/><rect x="1199.1" y="723.75" width="15.22" height="2.79" rx="1.4" fill="rgb(27,27,27)"/><rect x="1217.22" y="723.67" width="15.22" height="2.96" rx="1.48" fill="rgb(25,25,25)"/><rect x="1235.33" y="723.33" width="15.22" height="3.64" rx="1.82" fill="rgb(17,17,17)"/></g>
<text x="1114.3" y="728.55" font-size="11" fill="#2e2626" textLength="21.7" lengthAdjust="spacingAndGlyphs">p-p65</text>
<rect x="1141.7" y="735.9" width="111.9" height="9.5" fill="#cfcfcf" stroke="#1e1010" stroke-width="1.8"/>
<g filter="url(#soft)"><rect x="1160.32" y="736.8" width="2.2" height="7.7" fill="#e6e6e6"/><rect x="1178.43" y="736.8" width="2.2" height="7.7" fill="#e6e6e6"/><rect x="1196.55" y="736.8" width="2.2" height="7.7" fill="#e6e6e6"/><rect x="1214.67" y="736.8" width="2.2" height="7.7" fill="#e6e6e6"/><rect x="1232.78" y="736.8" width="2.2" height="7.7" fill="#e6e6e6"/><rect x="1144.75" y="738.45" width="15.22" height="5" rx="2.5" fill="rgb(0,0,0)"/><rect x="1162.87" y="738.7" width="15.22" height="4.49" rx="2.25" fill="rgb(6,6,6)"/><rect x="1180.98" y="738.62" width="15.22" height="4.66" rx="2.33" fill="rgb(4,4,4)"/><rect x="1199.1" y="738.7" width="15.22" height="4.49" rx="2.25" fill="rgb(6,6,6)"/><rect x="1217.22" y="738.87" width="15.22" height="4.15" rx="2.08" fill="rgb(10,10,10)"/><rect x="1235.33" y="738.79" width="15.22" height="4.32" rx="2.16" fill="rgb(8,8,8)"/></g>
<text x="1122.5" y="744.35" font-size="11" fill="#2e2626" textLength="13.5" lengthAdjust="spacingAndGlyphs">IκB</text>
<rect x="1141.7" y="751.4" width="111.9" height="9.5" fill="#cfcfcf" stroke="#1e1010" stroke-width="1.8"/>
<g filter="url(#soft)"><rect x="1160.32" y="752.3" width="2.2" height="7.7" fill="#e6e6e6"/><rect x="1178.43" y="752.3" width="2.2" height="7.7" fill="#e6e6e6"/><rect x="1196.55" y="752.3" width="2.2" height="7.7" fill="#e6e6e6"/><rect x="1214.67" y="752.3" width="2.2" height="7.7" fill="#e6e6e6"/><rect x="1232.78" y="752.3" width="2.2" height="7.7" fill="#e6e6e6"/><rect x="1144.75" y="754.63" width="15.22" height="3.64" rx="1.82" fill="rgb(17,17,17)"/><rect x="1162.87" y="754.37" width="15.22" height="4.15" rx="2.08" fill="rgb(10,10,10)"/><rect x="1180.98" y="754.37" width="15.22" height="4.15" rx="2.08" fill="rgb(10,10,10)"/><rect x="1199.1" y="754.29" width="15.22" height="4.32" rx="2.16" fill="rgb(8,8,8)"/><rect x="1217.22" y="754.63" width="15.22" height="3.64" rx="1.82" fill="rgb(17,17,17)"/><rect x="1235.33" y="754.46" width="15.22" height="3.98" rx="1.99" fill="rgb(12,12,12)"/></g>
<text x="1114.3" y="759.85" font-size="11" fill="#2e2626" textLength="21.7" lengthAdjust="spacingAndGlyphs">p-IκB</text>
<rect x="1141.7" y="766.9" width="111.9" height="9.5" fill="#cfcfcf" stroke="#1e1010" stroke-width="1.8"/>
<g filter="url(#soft)"><rect x="1160.32" y="767.8" width="2.2" height="7.7" fill="#e6e6e6"/><rect x="1178.43" y="767.8" width="2.2" height="7.7" fill="#e6e6e6"/><rect x="1196.55" y="767.8" width="2.2" height="7.7" fill="#e6e6e6"/><rect x="1214.67" y="767.8" width="2.2" height="7.7" fill="#e6e6e6"/><rect x="1232.78" y="767.8" width="2.2" height="7.7" fill="#e6e6e6"/><rect x="1144.75" y="769.28" width="15.22" height="5.34" rx="2.67" fill="rgb(0,0,0)"/><rect x="1162.87" y="769.36" width="15.22" height="5.17" rx="2.58" fill="rgb(0,0,0)"/><rect x="1180.98" y="769.36" width="15.22" height="5.17" rx="2.58" fill="rgb(0,0,0)"/><rect x="1199.1" y="769.36" width="15.22" height="5.17" rx="2.58" fill="rgb(0,0,0)"/><rect x="1217.22" y="769.36" width="15.22" height="5.17" rx="2.58" fill="rgb(0,0,0)"/><rect x="1235.33" y="769.36" width="15.22" height="5.17" rx="2.58" fill="rgb(0,0,0)"/></g>
<text x="1103.5" y="775.35" font-size="11" fill="#2e2626" textLength="32.5" lengthAdjust="spacingAndGlyphs">GAPDH</text>
</svg>
</body></html>
